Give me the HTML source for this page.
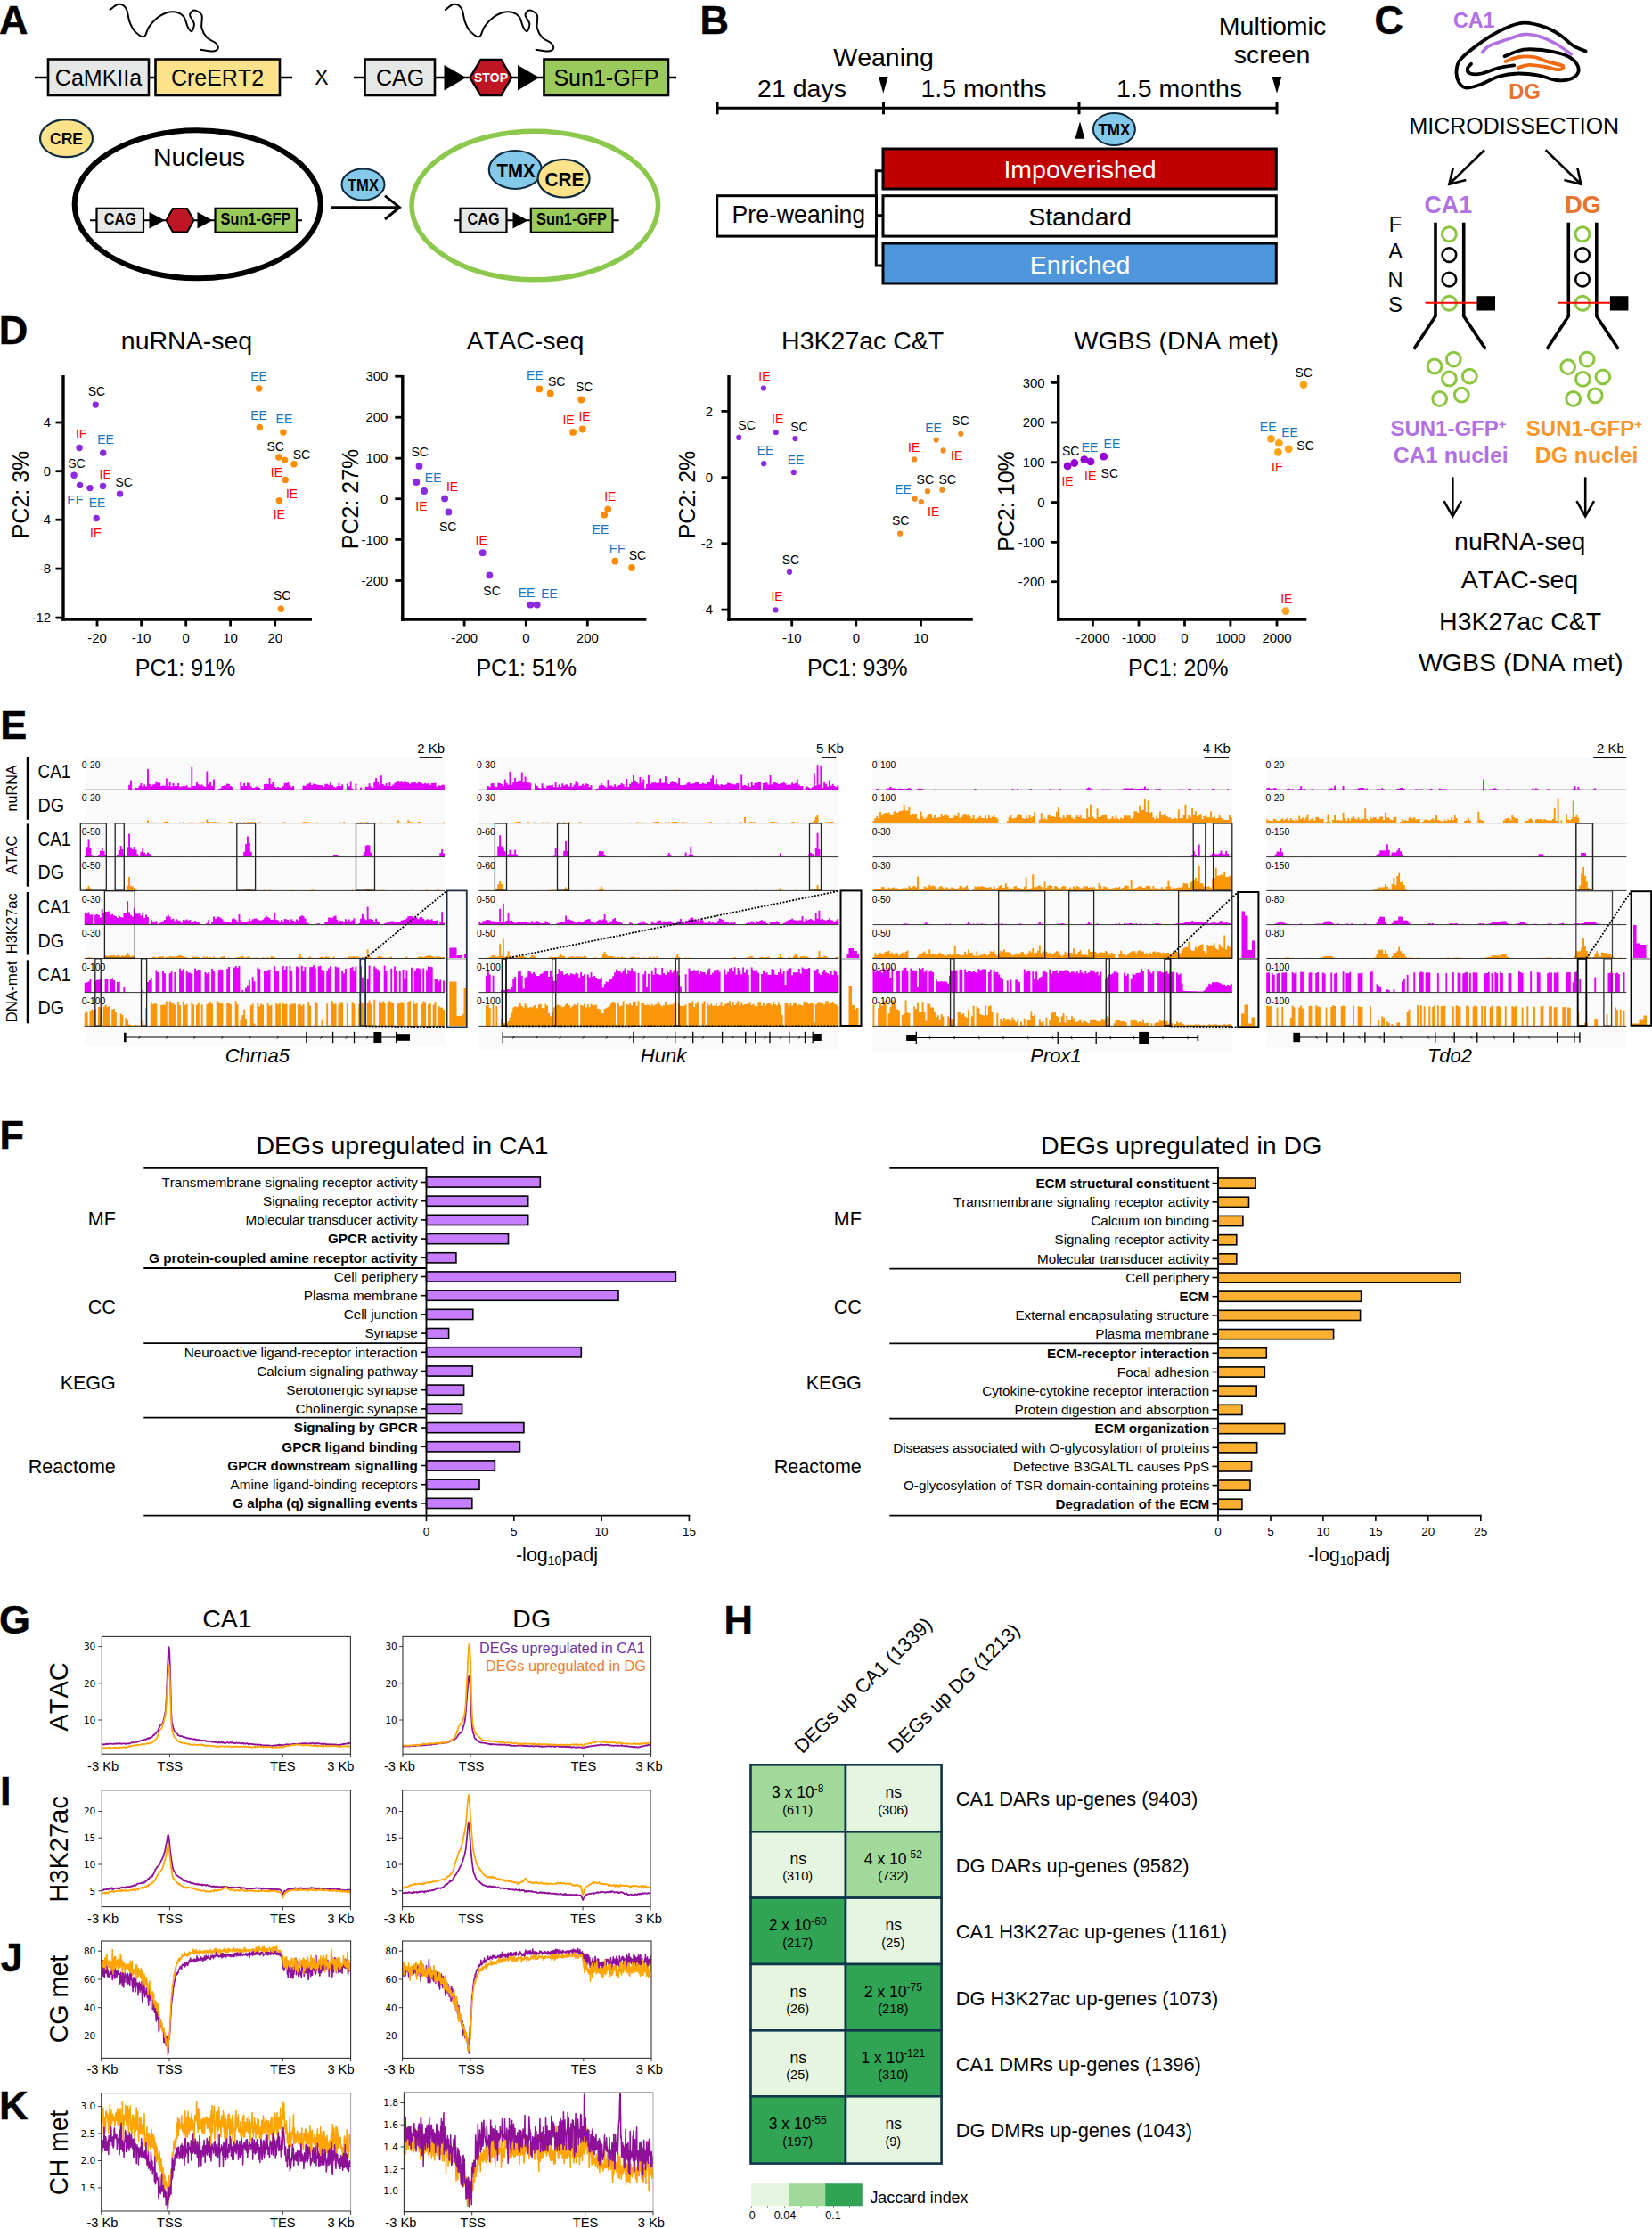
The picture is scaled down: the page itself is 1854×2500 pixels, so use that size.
<!DOCTYPE html>
<html lang="en"><head><meta charset="utf-8"><title>Figure</title>
<style>
html,body{margin:0;padding:0;background:#fff}
svg{display:block}
text{font-family:"Liberation Sans",sans-serif;font-kerning:none}
.dv{font-family:"DejaVu Sans","Liberation Sans",sans-serif}
</style></head><body>
<svg width="1854" height="2500" viewBox="0 0 1854 2500">
<rect width="1854" height="2500" fill="#fff"/>
<text x="-1" y="38.2" font-size="45" font-weight="bold" stroke="#000" stroke-width="0.5">A</text>
<path d="M123.5,10.9C125.1,9.9 130.1,5 133.2,4.8C136.2,4.6 139.6,6.5 141.6,9.7C143.7,12.9 143.7,20 145.3,24.2C146.9,28.5 148.6,32.3 151.3,35.1C154.1,37.9 159.1,42 161.7,41.2C164.4,40.4 164.2,34.1 167.1,30.3C170,26.4 174.7,21 179.2,18.2C183.6,15.3 189.3,13.3 193.7,13.3C198.1,13.3 203,15.3 205.8,18.2C208.6,21 209.1,27.4 210.7,30.3C212.2,33.1 213.8,35.7 215,35.1C216.2,34.5 218.2,29.7 217.9,26.6C217.6,23.6 213.1,19.5 213.1,16.9C213.1,14.4 215.7,11.6 217.9,11.6C220.1,11.6 225,13.6 226.4,16.9C227.8,20.3 225.4,27.2 226.4,31.5C227.4,35.7 229.8,39.5 232.4,42.4C235.1,45.2 240.1,46.4 242.1,48.4C244.1,50.4 245.2,52.9 244.6,54.5C243.9,56 241.7,57.4 238.5,57.6C235.3,57.8 227.4,56 225.2,55.7" fill="none" stroke="#000" stroke-width="2" stroke-linecap="round"/>
<path d="M499.9,10.9C501.5,9.9 506.5,5 509.6,4.8C512.6,4.6 516,6.5 518,9.7C520.1,12.9 520.1,20 521.7,24.2C523.3,28.5 525,32.3 527.7,35.1C530.5,37.9 535.5,42 538.1,41.2C540.8,40.4 540.6,34.1 543.5,30.3C546.4,26.4 551.1,21 555.6,18.2C560,15.3 565.7,13.3 570.1,13.3C574.5,13.3 579.4,15.3 582.2,18.2C585,21 585.5,27.4 587.1,30.3C588.6,33.1 590.2,35.7 591.4,35.1C592.6,34.5 594.6,29.7 594.3,26.6C594,23.6 589.5,19.5 589.5,16.9C589.5,14.4 592.1,11.6 594.3,11.6C596.5,11.6 601.4,13.6 602.8,16.9C604.2,20.3 601.8,27.2 602.8,31.5C603.8,35.7 606.2,39.5 608.8,42.4C611.5,45.2 616.5,46.4 618.5,48.4C620.5,50.4 621.6,52.9 621,54.5C620.3,56 618.1,57.4 614.9,57.6C611.7,57.8 603.8,56 601.6,55.7" fill="none" stroke="#000" stroke-width="2" stroke-linecap="round"/>
<line x1="39" y1="87" x2="328" y2="87" stroke="#000" stroke-width="2.4" />
<rect x="54" y="66.5" width="113" height="40.5" fill="#e6e8e8" stroke="#000" stroke-width="2.6"/>
<rect x="174.5" y="66.5" width="139.5" height="40.5" fill="#fde28c" stroke="#000" stroke-width="2.6"/>
<text x="110.5" y="96.3" font-size="25" text-anchor="middle">CaMKIIa</text>
<text x="244" y="96.3" font-size="25" text-anchor="middle">CreERT2</text>
<text x="361" y="95" font-size="23" text-anchor="middle">X</text>
<line x1="397" y1="87" x2="759" y2="87" stroke="#000" stroke-width="2.4" />
<rect x="409.5" y="66.5" width="78.5" height="40.5" fill="#e6e8e8" stroke="#000" stroke-width="2.6"/>
<text x="449" y="96.3" font-size="25" text-anchor="middle">CAG</text>
<polygon points="498.5,73 523,87 498.5,101.5" fill="#000"/>
<polygon points="581,73 605,87 581,101.5" fill="#000"/>
<polygon points="527.5,87 539.5,67 562.5,67 574,87 562.5,107 539.5,107" fill="#be1622" stroke="#000" stroke-width="2.4"/>
<text x="551" y="92" font-size="14" text-anchor="middle" font-weight="bold" fill="#fff" textLength="38" lengthAdjust="spacingAndGlyphs">STOP</text>
<rect x="610.5" y="66.5" width="139.5" height="40.5" fill="#9aca5c" stroke="#000" stroke-width="2.6"/>
<text x="680.5" y="96.3" font-size="25" text-anchor="middle">Sun1-GFP</text>
<ellipse cx="74.5" cy="155.2" rx="29.5" ry="21" fill="#fde28c" stroke="#0f2b3d" stroke-width="2.2"/>
<text x="74.5" y="162" font-size="17.5" text-anchor="middle" font-weight="bold">CRE</text>
<ellipse cx="221.7" cy="229.3" rx="138" ry="83" fill="#fff" stroke="#000" stroke-width="6"/>
<text x="223.5" y="186.4" font-size="28.5" text-anchor="middle">Nucleus</text>
<line x1="101" y1="247.2" x2="339" y2="247.2" stroke="#000" stroke-width="2" />
<rect x="108.5" y="233.8" width="52.5" height="27" fill="#e6e8e8" stroke="#000" stroke-width="2.2"/>
<text x="134.8" y="252.3" font-size="17.5" text-anchor="middle" font-weight="bold" textLength="36" lengthAdjust="spacingAndGlyphs">CAG</text>
<polygon points="167.5,238 185,247.2 167.5,256.5" fill="#000"/>
<polygon points="221.5,238 238.5,247.2 221.5,256.5" fill="#000"/>
<polygon points="186.5,247.2 194,234 210,234 217.5,247.2 210,260.5 194,260.5" fill="#be1622" stroke="#000" stroke-width="2"/>
<rect x="241.5" y="233.8" width="91.5" height="27" fill="#9aca5c" stroke="#000" stroke-width="2.2"/>
<text x="287" y="252.3" font-size="17.5" text-anchor="middle" font-weight="bold" textLength="79" lengthAdjust="spacingAndGlyphs">Sun1-GFP</text>
<line x1="371.5" y1="232.7" x2="447" y2="232.7" stroke="#000" stroke-width="3" />
<path d="M432,219.6 L448.4,232.7 L432,246" fill="none" stroke="#000" stroke-width="3" stroke-linejoin="miter"/>
<ellipse cx="407.5" cy="207" rx="24" ry="17.5" fill="#85c9ea" stroke="#0f2b3d" stroke-width="2"/>
<text x="407.5" y="214" font-size="17.5" text-anchor="middle" font-weight="bold" textLength="35" lengthAdjust="spacingAndGlyphs">TMX</text>
<ellipse cx="600.3" cy="230.5" rx="138.3" ry="83.3" fill="#fff" stroke="#8cc84b" stroke-width="5.5"/>
<ellipse cx="578.3" cy="190.5" rx="29.5" ry="21.5" fill="#85c9ea" stroke="#0f2b3d" stroke-width="2.2"/>
<ellipse cx="632.6" cy="200.2" rx="29" ry="21.3" fill="#fde28c" stroke="#0f2b3d" stroke-width="2.2"/>
<text x="579" y="199" font-size="21.5" text-anchor="middle" font-weight="bold" textLength="43" lengthAdjust="spacingAndGlyphs">TMX</text>
<text x="633.5" y="208.5" font-size="21.5" text-anchor="middle" font-weight="bold" textLength="44" lengthAdjust="spacingAndGlyphs">CRE</text>
<line x1="509" y1="247.2" x2="694.6" y2="247.2" stroke="#000" stroke-width="2" />
<rect x="516.5" y="233.8" width="52" height="27" fill="#e6e8e8" stroke="#000" stroke-width="2.2"/>
<text x="542.5" y="252.3" font-size="17.5" text-anchor="middle" font-weight="bold" textLength="36" lengthAdjust="spacingAndGlyphs">CAG</text>
<polygon points="575.5,238 592.5,247.2 575.5,256.5" fill="#000"/>
<rect x="595.8" y="233.8" width="91.7" height="27" fill="#9aca5c" stroke="#000" stroke-width="2.2"/>
<text x="641.5" y="252.3" font-size="17.5" text-anchor="middle" font-weight="bold" textLength="79" lengthAdjust="spacingAndGlyphs">Sun1-GFP</text>
<text x="785.6" y="37.7" font-size="45" font-weight="bold" stroke="#000" stroke-width="0.5">B</text>
<text x="991.5" y="73.8" font-size="28.5" text-anchor="middle">Weaning</text>
<text x="900" y="109" font-size="28.5" text-anchor="middle">21 days</text>
<text x="1104" y="109" font-size="28.5" text-anchor="middle">1.5 months</text>
<text x="1323.5" y="109" font-size="28.5" text-anchor="middle">1.5 months</text>
<text x="1428" y="39.2" font-size="28.5" text-anchor="middle">Multiomic</text>
<text x="1427.5" y="71.4" font-size="28.5" text-anchor="middle">screen</text>
<line x1="805" y1="121.3" x2="1433" y2="121.3" stroke="#000" stroke-width="3" />
<line x1="805" y1="114.8" x2="805" y2="128.3" stroke="#000" stroke-width="3" />
<line x1="991.5" y1="114.8" x2="991.5" y2="128.3" stroke="#000" stroke-width="3" />
<line x1="1211" y1="114.8" x2="1211" y2="128.3" stroke="#000" stroke-width="3" />
<line x1="1433" y1="114.8" x2="1433" y2="128.3" stroke="#000" stroke-width="3" />
<polygon points="986,86 996.6,86 991.3,104.8" fill="#000"/>
<polygon points="1427.5,86 1438.3,86 1433,104.8" fill="#000"/>
<polygon points="1206.5,155.7 1217.4,155.7 1212,136.3" fill="#000"/>
<ellipse cx="1250.4" cy="145" rx="23.5" ry="18" fill="#85c9ea" stroke="#0f2b3d" stroke-width="2"/>
<text x="1250.4" y="151.5" font-size="17.5" text-anchor="middle" font-weight="bold" textLength="36" lengthAdjust="spacingAndGlyphs">TMX</text>
<path d="M991,191.8 H983.3 V298 H991 M983.3,241.7 H991" fill="none" stroke="#000" stroke-width="3"/>
<rect x="804.7" y="219.7" width="178.8" height="45.4" fill="#fff" stroke="#000" stroke-width="3"/>
<text x="896.3" y="250.2" font-size="28.5" text-anchor="middle" textLength="149.5" lengthAdjust="spacingAndGlyphs">Pre-weaning</text>
<rect x="991" y="167" width="441.3" height="45" fill="#c00000" stroke="#000" stroke-width="3"/>
<rect x="991" y="219.7" width="441.3" height="45.4" fill="#fff" stroke="#000" stroke-width="3"/>
<rect x="991" y="273" width="441.3" height="45" fill="#4f96da" stroke="#000" stroke-width="3"/>
<text x="1212" y="200" font-size="28.5" text-anchor="middle" fill="#fff">Impoverished</text>
<text x="1212" y="252.6" font-size="28.5" text-anchor="middle">Standard</text>
<text x="1212" y="306.6" font-size="28.5" text-anchor="middle" fill="#fff">Enriched</text>
<text x="1542.5" y="38.1" font-size="45" font-weight="bold" stroke="#000" stroke-width="0.5">C</text>
<text x="1631" y="30.6" font-size="24" font-weight="bold" fill="#b171e3" textLength="46.5" lengthAdjust="spacingAndGlyphs">CA1</text>
<path d="M1779.6,57.4C1777.3,56.4 1770.2,54.2 1765.7,51.4C1761.2,48.6 1757.8,44.1 1752.8,40.7C1747.8,37.3 1742.8,33.6 1735.7,31.1C1728.6,28.6 1717.8,25.5 1710,25.7C1702.1,25.9 1696.4,28.6 1688.6,32.1C1680.7,35.7 1671.1,41.4 1662.8,47.1C1654.6,52.9 1644,61.1 1639.3,66.4C1634.6,71.8 1634.9,75 1634.6,79.3C1634.2,83.6 1635.3,88.9 1637.1,92.1C1639,95.4 1641.4,98.2 1645.7,98.6C1650,98.9 1656.8,96.4 1662.8,94.3C1668.9,92.1 1675.3,87.7 1682.1,85.7C1688.9,83.7 1696.1,82.7 1703.6,82.5C1711.1,82.3 1720,83.4 1727.1,84.6C1734.3,85.9 1740.7,89.3 1746.4,90C1752.1,90.7 1757.3,90.4 1761.4,88.9C1765.5,87.5 1769.8,84.5 1771.1,81.4C1772.3,78.4 1771.2,73.9 1768.9,70.7C1766.6,67.5 1762.7,64.5 1757.1,62.1C1751.6,59.8 1743.6,57.9 1735.7,56.8C1727.8,55.7 1717.8,54.6 1710,55.7C1702.1,56.8 1692.1,62 1688.6,63.2" fill="none" stroke="#000" stroke-width="3.8" stroke-linecap="round"/>
<path d="M1651.1,71.8C1650.3,72.7 1647,75.4 1646.8,77.1C1646.6,78.9 1647.3,81.6 1650,82.5C1652.7,83.4 1657.5,83.6 1662.8,82.5C1668.2,81.4 1676.1,77.6 1682.1,76.1C1688.2,74.5 1696.4,73.7 1699.3,73.3" fill="none" stroke="#000" stroke-width="3.8" stroke-linecap="round"/>
<path d="M1662.8,59.6C1664.3,58.2 1666.4,54 1671.4,51.4C1676.4,48.8 1686.4,46.1 1692.8,43.9C1699.3,41.8 1704.3,39.1 1710,38.6C1715.7,38 1721.1,38.9 1727.1,40.7C1733.2,42.5 1740.2,45.8 1746.4,49.3C1752.7,52.8 1761.6,59.6 1764.6,61.7" fill="none" stroke="#b171e3" stroke-width="3.6"/>
<path d="M1689.6,69C1692,68.2 1698.4,65.1 1703.6,64.3C1708.7,63.4 1715,63 1720.7,63.9C1726.4,64.7 1732.3,68 1737.8,69.6C1743.4,71.3 1751.9,72.5 1753.9,73.9C1755.9,75.4 1753,78 1749.6,78.2C1746.2,78.4 1739.1,75.9 1733.6,75C1728,74.1 1721.4,72.7 1716.4,72.9C1711.4,73 1705.7,75.5 1703.6,76.1" fill="none" stroke="#f26a10" stroke-width="3.9" stroke-linecap="round"/>
<text x="1693.3" y="111.4" font-size="24" font-weight="bold" fill="#e8732f" textLength="35.5" lengthAdjust="spacingAndGlyphs">DG</text>
<text x="1699.3" y="150" font-size="25" text-anchor="middle" textLength="235.5" lengthAdjust="spacingAndGlyphs">MICRODISSECTION</text>
<line x1="1666" y1="168.2" x2="1626.4" y2="206.8" stroke="#000" stroke-width="2.6" />
<path d="M1630.7,188.6 L1626.4,206.8 L1645.3,202" fill="none" stroke="#000" stroke-width="2.6"/>
<line x1="1734.6" y1="168.2" x2="1774.3" y2="206.8" stroke="#000" stroke-width="2.6" />
<path d="M1755.4,202 L1774.3,206.8 L1770.4,188.6" fill="none" stroke="#000" stroke-width="2.6"/>
<text x="1625.3" y="239" font-size="27" text-anchor="middle" font-weight="bold" fill="#b171e3" textLength="53.5" lengthAdjust="spacingAndGlyphs">CA1</text>
<text x="1776.4" y="239" font-size="27" text-anchor="middle" font-weight="bold" fill="#e8732f" textLength="40.5" lengthAdjust="spacingAndGlyphs">DG</text>
<text x="1566" y="259.6" font-size="23.5" text-anchor="middle">F</text>
<text x="1566" y="289.6" font-size="23.5" text-anchor="middle">A</text>
<text x="1566" y="321.7" font-size="23.5" text-anchor="middle">N</text>
<text x="1566" y="350" font-size="23.5" text-anchor="middle">S</text>
<path d="M1611,249.7 V354.7 L1586.7,391.8" fill="none" stroke="#000" stroke-width="3.6" stroke-linejoin="miter"/>
<path d="M1642.7,249.7 V354.7 L1667.3,391.8" fill="none" stroke="#000" stroke-width="3.6" stroke-linejoin="miter"/>
<circle cx="1626.4" cy="262.8" r="8" fill="none" stroke="#8cc63f" stroke-width="3"/>
<circle cx="1626.4" cy="286.1" r="7.8" fill="none" stroke="#000" stroke-width="2.6"/>
<circle cx="1626.4" cy="313.6" r="7.8" fill="none" stroke="#000" stroke-width="2.6"/>
<circle cx="1626.4" cy="340.3" r="8" fill="none" stroke="#8cc63f" stroke-width="3"/>
<line x1="1599.6" y1="339.7" x2="1658.6" y2="339.7" stroke="#ff0000" stroke-width="2" />
<rect x="1657.5" y="332.2" width="20.5" height="16.3" fill="#000"/>
<path d="M1760.3,249.7 V354.7 L1736,391.8" fill="none" stroke="#000" stroke-width="3.6" stroke-linejoin="miter"/>
<path d="M1791.8,249.7 V354.7 L1816.4,391.8" fill="none" stroke="#000" stroke-width="3.6" stroke-linejoin="miter"/>
<circle cx="1776" cy="262.8" r="8" fill="none" stroke="#8cc63f" stroke-width="3"/>
<circle cx="1776" cy="286.1" r="7.8" fill="none" stroke="#000" stroke-width="2.6"/>
<circle cx="1776" cy="313.6" r="7.8" fill="none" stroke="#000" stroke-width="2.6"/>
<circle cx="1776" cy="340.3" r="8" fill="none" stroke="#8cc63f" stroke-width="3"/>
<line x1="1748.6" y1="339.7" x2="1807.5" y2="339.7" stroke="#ff0000" stroke-width="2" />
<rect x="1806.9" y="332.2" width="20.5" height="16.3" fill="#000"/>
<circle cx="1631.3" cy="403.1" r="7.9" fill="none" stroke="#8cc63f" stroke-width="3"/>
<circle cx="1610" cy="411" r="7.9" fill="none" stroke="#8cc63f" stroke-width="3"/>
<circle cx="1626.4" cy="425" r="7.9" fill="none" stroke="#8cc63f" stroke-width="3"/>
<circle cx="1649.3" cy="422.2" r="7.9" fill="none" stroke="#8cc63f" stroke-width="3"/>
<circle cx="1615.7" cy="447.5" r="7.9" fill="none" stroke="#8cc63f" stroke-width="3"/>
<circle cx="1640.3" cy="443.2" r="7.9" fill="none" stroke="#8cc63f" stroke-width="3"/>
<circle cx="1781.1" cy="403.1" r="7.9" fill="none" stroke="#8cc63f" stroke-width="3"/>
<circle cx="1759.7" cy="411.7" r="7.9" fill="none" stroke="#8cc63f" stroke-width="3"/>
<circle cx="1776.4" cy="425.4" r="7.9" fill="none" stroke="#8cc63f" stroke-width="3"/>
<circle cx="1798.9" cy="422.8" r="7.9" fill="none" stroke="#8cc63f" stroke-width="3"/>
<circle cx="1765.7" cy="447.5" r="7.9" fill="none" stroke="#8cc63f" stroke-width="3"/>
<circle cx="1790.3" cy="443.8" r="7.9" fill="none" stroke="#8cc63f" stroke-width="3"/>
<text x="1560.4" y="489.3" font-size="24" font-weight="bold" fill="#b171e3">SUN1-GFP<tspan dy="-8" font-size="15">+</tspan></text>
<text x="1628.3" y="519.3" font-size="24" text-anchor="middle" font-weight="bold" fill="#b171e3" textLength="129" lengthAdjust="spacingAndGlyphs">CA1 nuclei</text>
<text x="1712.8" y="489.3" font-size="24" font-weight="bold" fill="#f7962b">SUN1-GFP<tspan dy="-8" font-size="15">+</tspan></text>
<text x="1780.6" y="519.3" font-size="24" text-anchor="middle" font-weight="bold" fill="#f7962b" textLength="115.7" lengthAdjust="spacingAndGlyphs">DG nuclei</text>
<line x1="1630.3" y1="535.4" x2="1630.3" y2="578" stroke="#000" stroke-width="2.6" />
<path d="M1620.5,562.1 L1630.3,579.3 L1640.1,562.1" fill="none" stroke="#000" stroke-width="2.6"/>
<line x1="1779.2" y1="535.4" x2="1779.2" y2="578" stroke="#000" stroke-width="2.6" />
<path d="M1769.4,562.1 L1779.2,579.3 L1789,562.1" fill="none" stroke="#000" stroke-width="2.6"/>
<text x="1705.7" y="616.8" font-size="28.5" text-anchor="middle">nuRNA-seq</text>
<text x="1705.5" y="659.6" font-size="28.5" text-anchor="middle">ATAC-seq</text>
<text x="1706.2" y="706.8" font-size="28.5" text-anchor="middle">H3K27ac C&amp;T</text>
<text x="1706.7" y="752.8" font-size="28.5" text-anchor="middle">WGBS (DNA met)</text>
<text x="-1.2" y="385.5" font-size="45" font-weight="bold" stroke="#000" stroke-width="0.5">D</text>
<text x="209.5" y="392.4" font-size="28.5" text-anchor="middle">nuRNA-seq</text>
<line x1="71" y1="421" x2="71" y2="696.7" stroke="#000" stroke-width="3.4" />
<line x1="69.3" y1="695" x2="350" y2="695" stroke="#000" stroke-width="3.4" />
<line x1="62.5" y1="474" x2="71" y2="474" stroke="#000" stroke-width="2.8" />
<text x="57" y="479.2" font-size="14.9" text-anchor="end">4</text>
<line x1="62.5" y1="528.7" x2="71" y2="528.7" stroke="#000" stroke-width="2.8" />
<text x="57" y="533.9" font-size="14.9" text-anchor="end">0</text>
<line x1="62.5" y1="583.2" x2="71" y2="583.2" stroke="#000" stroke-width="2.8" />
<text x="57" y="588.4" font-size="14.9" text-anchor="end">-4</text>
<line x1="62.5" y1="638.1" x2="71" y2="638.1" stroke="#000" stroke-width="2.8" />
<text x="57" y="643.3" font-size="14.9" text-anchor="end">-8</text>
<line x1="62.5" y1="693.1" x2="71" y2="693.1" stroke="#000" stroke-width="2.8" />
<text x="57" y="698.3" font-size="14.9" text-anchor="end">-12</text>
<line x1="109" y1="695" x2="109" y2="702.5" stroke="#000" stroke-width="2.8" />
<text x="109" y="720.9" font-size="14.9" text-anchor="middle">-20</text>
<line x1="158.6" y1="695" x2="158.6" y2="702.5" stroke="#000" stroke-width="2.8" />
<text x="158.6" y="720.9" font-size="14.9" text-anchor="middle">-10</text>
<line x1="208.7" y1="695" x2="208.7" y2="702.5" stroke="#000" stroke-width="2.8" />
<text x="208.7" y="720.9" font-size="14.9" text-anchor="middle">0</text>
<line x1="258.6" y1="695" x2="258.6" y2="702.5" stroke="#000" stroke-width="2.8" />
<text x="258.6" y="720.9" font-size="14.9" text-anchor="middle">10</text>
<line x1="308.7" y1="695" x2="308.7" y2="702.5" stroke="#000" stroke-width="2.8" />
<text x="308.7" y="720.9" font-size="14.9" text-anchor="middle">20</text>
<text x="208" y="758" font-size="25" text-anchor="middle">PC1: 91%</text>
<text x="31.5" y="555" font-size="25" text-anchor="middle" transform="rotate(-90 31.5 555)">PC2: 3%</text>
<circle cx="107.3" cy="454.1" r="3.7" fill="#8a2be2"/>
<circle cx="89.1" cy="502.5" r="3.7" fill="#8a2be2"/>
<circle cx="115.7" cy="508.1" r="3.7" fill="#8a2be2"/>
<circle cx="83.1" cy="533.3" r="3.7" fill="#8a2be2"/>
<circle cx="89.6" cy="544.4" r="3.7" fill="#8a2be2"/>
<circle cx="101" cy="547.6" r="3.7" fill="#8a2be2"/>
<circle cx="115.5" cy="545.4" r="3.7" fill="#8a2be2"/>
<circle cx="134.6" cy="554.1" r="3.7" fill="#8a2be2"/>
<circle cx="108.2" cy="581.5" r="3.7" fill="#8a2be2"/>
<circle cx="290.6" cy="436" r="3.7" fill="#ff8c00"/>
<circle cx="291.3" cy="479.5" r="3.7" fill="#ff8c00"/>
<circle cx="317.9" cy="485.1" r="3.7" fill="#ff8c00"/>
<circle cx="312.8" cy="513" r="3.7" fill="#ff8c00"/>
<circle cx="319.6" cy="516.1" r="3.7" fill="#ff8c00"/>
<circle cx="330" cy="520.7" r="3.7" fill="#ff8c00"/>
<circle cx="320.3" cy="538.4" r="3.7" fill="#ff8c00"/>
<circle cx="313.3" cy="561.6" r="3.7" fill="#ff8c00"/>
<circle cx="315.3" cy="683.2" r="3.7" fill="#ff8c00"/>
<text x="108.5" y="444.4" font-size="14" text-anchor="middle" fill="#000">SC</text>
<text x="91.5" y="492.3" font-size="14" text-anchor="middle" fill="#ff0000">IE</text>
<text x="118.6" y="497.7" font-size="14" text-anchor="middle" fill="#1b75bc">EE</text>
<text x="86" y="524.8" font-size="14" text-anchor="middle" fill="#000">SC</text>
<text x="84.7" y="565.5" font-size="14" text-anchor="middle" fill="#1b75bc">EE</text>
<text x="109" y="568.8" font-size="14" text-anchor="middle" fill="#1b75bc">EE</text>
<text x="118.2" y="536.9" font-size="14" text-anchor="middle" fill="#ff0000">IE</text>
<text x="139.2" y="546.1" font-size="14" text-anchor="middle" fill="#000">SC</text>
<text x="107.7" y="603" font-size="14" text-anchor="middle" fill="#ff0000">IE</text>
<text x="290.6" y="427" font-size="14" text-anchor="middle" fill="#1b75bc">EE</text>
<text x="290.6" y="471" font-size="14" text-anchor="middle" fill="#1b75bc">EE</text>
<text x="318.9" y="475.4" font-size="14" text-anchor="middle" fill="#1b75bc">EE</text>
<text x="309.2" y="505.6" font-size="14" text-anchor="middle" fill="#000">SC</text>
<text x="338.5" y="514.6" font-size="14" text-anchor="middle" fill="#000">SC</text>
<text x="310.4" y="534.5" font-size="14" text-anchor="middle" fill="#ff0000">IE</text>
<text x="327.6" y="558.9" font-size="14" text-anchor="middle" fill="#ff0000">IE</text>
<text x="313.3" y="581.9" font-size="14" text-anchor="middle" fill="#ff0000">IE</text>
<text x="316.7" y="673.2" font-size="14" text-anchor="middle" fill="#000">SC</text>
<text x="589.6" y="392.4" font-size="28.5" text-anchor="middle">ATAC-seq</text>
<line x1="451.8" y1="421" x2="451.8" y2="696.7" stroke="#000" stroke-width="3.4" />
<line x1="450.1" y1="695" x2="725.4" y2="695" stroke="#000" stroke-width="3.4" />
<line x1="443.3" y1="422.2" x2="451.8" y2="422.2" stroke="#000" stroke-width="2.8" />
<text x="435.4" y="427.4" font-size="14.9" text-anchor="end">300</text>
<line x1="443.3" y1="468.2" x2="451.8" y2="468.2" stroke="#000" stroke-width="2.8" />
<text x="435.4" y="473.4" font-size="14.9" text-anchor="end">200</text>
<line x1="443.3" y1="514.2" x2="451.8" y2="514.2" stroke="#000" stroke-width="2.8" />
<text x="435.4" y="519.4" font-size="14.9" text-anchor="end">100</text>
<line x1="443.3" y1="559.7" x2="451.8" y2="559.7" stroke="#000" stroke-width="2.8" />
<text x="435.4" y="564.9" font-size="14.9" text-anchor="end">0</text>
<line x1="443.3" y1="605.4" x2="451.8" y2="605.4" stroke="#000" stroke-width="2.8" />
<text x="435.4" y="610.6" font-size="14.9" text-anchor="end">-100</text>
<line x1="443.3" y1="651.5" x2="451.8" y2="651.5" stroke="#000" stroke-width="2.8" />
<text x="435.4" y="656.7" font-size="14.9" text-anchor="end">-200</text>
<line x1="521.1" y1="695" x2="521.1" y2="702.5" stroke="#000" stroke-width="2.8" />
<text x="521.1" y="720.9" font-size="14.9" text-anchor="middle">-200</text>
<line x1="590.3" y1="695" x2="590.3" y2="702.5" stroke="#000" stroke-width="2.8" />
<text x="590.3" y="720.9" font-size="14.9" text-anchor="middle">0</text>
<line x1="659.3" y1="695" x2="659.3" y2="702.5" stroke="#000" stroke-width="2.8" />
<text x="659.3" y="720.9" font-size="14.9" text-anchor="middle">200</text>
<text x="590.7" y="758" font-size="25" text-anchor="middle">PC1: 51%</text>
<text x="401.5" y="560" font-size="25" text-anchor="middle" transform="rotate(-90 401.5 560)">PC2: 27%</text>
<circle cx="470.5" cy="522.9" r="3.9" fill="#8a2be2"/>
<circle cx="467.3" cy="541" r="3.9" fill="#8a2be2"/>
<circle cx="476.1" cy="551" r="3.9" fill="#8a2be2"/>
<circle cx="499.1" cy="559.4" r="3.9" fill="#8a2be2"/>
<circle cx="503.4" cy="574.5" r="3.9" fill="#8a2be2"/>
<circle cx="541.7" cy="620.2" r="3.9" fill="#8a2be2"/>
<circle cx="549.4" cy="645.4" r="3.9" fill="#8a2be2"/>
<circle cx="595.4" cy="678.6" r="3.9" fill="#8a2be2"/>
<circle cx="602.7" cy="678.6" r="3.9" fill="#8a2be2"/>
<circle cx="605.4" cy="436.4" r="3.9" fill="#ff8c00"/>
<circle cx="617.7" cy="441.5" r="3.9" fill="#ff8c00"/>
<circle cx="652.3" cy="448.5" r="3.9" fill="#ff8c00"/>
<circle cx="643.1" cy="484.9" r="3.9" fill="#ff8c00"/>
<circle cx="653.8" cy="481.5" r="3.9" fill="#ff8c00"/>
<circle cx="682.3" cy="571.3" r="3.9" fill="#ff8c00"/>
<circle cx="678.2" cy="577.6" r="3.9" fill="#ff8c00"/>
<circle cx="690.3" cy="629.7" r="3.9" fill="#ff8c00"/>
<circle cx="709" cy="636.9" r="3.9" fill="#ff8c00"/>
<text x="471.2" y="511.7" font-size="14" text-anchor="middle" fill="#000">SC</text>
<text x="486.2" y="540.8" font-size="14" text-anchor="middle" fill="#1b75bc">EE</text>
<text x="472.9" y="572.7" font-size="14" text-anchor="middle" fill="#ff0000">IE</text>
<text x="507.5" y="551.4" font-size="14" text-anchor="middle" fill="#ff0000">IE</text>
<text x="502.7" y="596.4" font-size="14" text-anchor="middle" fill="#000">SC</text>
<text x="540.2" y="611" font-size="14" text-anchor="middle" fill="#ff0000">IE</text>
<text x="552.1" y="667.9" font-size="14" text-anchor="middle" fill="#000">SC</text>
<text x="591.1" y="669.6" font-size="14" text-anchor="middle" fill="#1b75bc">EE</text>
<text x="616.5" y="671.3" font-size="14" text-anchor="middle" fill="#1b75bc">EE</text>
<text x="600.3" y="425.5" font-size="14" text-anchor="middle" fill="#1b75bc">EE</text>
<text x="624.7" y="432.5" font-size="14" text-anchor="middle" fill="#000">SC</text>
<text x="655.7" y="439.1" font-size="14" text-anchor="middle" fill="#000">SC</text>
<text x="638" y="476.3" font-size="14" text-anchor="middle" fill="#ff0000">IE</text>
<text x="656" y="472" font-size="14" text-anchor="middle" fill="#ff0000">IE</text>
<text x="684.8" y="561.8" font-size="14" text-anchor="middle" fill="#ff0000">IE</text>
<text x="673.9" y="598.9" font-size="14" text-anchor="middle" fill="#1b75bc">EE</text>
<text x="693" y="620.7" font-size="14" text-anchor="middle" fill="#1b75bc">EE</text>
<text x="715.5" y="627.9" font-size="14" text-anchor="middle" fill="#000">SC</text>
<text x="968.2" y="392.4" font-size="28.5" text-anchor="middle">H3K27ac C&amp;T</text>
<line x1="818" y1="421" x2="818" y2="696.7" stroke="#000" stroke-width="3.4" />
<line x1="816.3" y1="695" x2="1091.8" y2="695" stroke="#000" stroke-width="3.4" />
<line x1="809.5" y1="461.4" x2="818" y2="461.4" stroke="#000" stroke-width="2.8" />
<text x="800" y="466.6" font-size="14.9" text-anchor="end">2</text>
<line x1="809.5" y1="535.7" x2="818" y2="535.7" stroke="#000" stroke-width="2.8" />
<text x="800" y="540.9" font-size="14.9" text-anchor="end">0</text>
<line x1="809.5" y1="609.8" x2="818" y2="609.8" stroke="#000" stroke-width="2.8" />
<text x="800" y="615" font-size="14.9" text-anchor="end">-2</text>
<line x1="809.5" y1="684.1" x2="818" y2="684.1" stroke="#000" stroke-width="2.8" />
<text x="800" y="689.3" font-size="14.9" text-anchor="end">-4</text>
<line x1="888.7" y1="695" x2="888.7" y2="702.5" stroke="#000" stroke-width="2.8" />
<text x="888.7" y="720.9" font-size="14.9" text-anchor="middle">-10</text>
<line x1="960.8" y1="695" x2="960.8" y2="702.5" stroke="#000" stroke-width="2.8" />
<text x="960.8" y="720.9" font-size="14.9" text-anchor="middle">0</text>
<line x1="1033.5" y1="695" x2="1033.5" y2="702.5" stroke="#000" stroke-width="2.8" />
<text x="1033.5" y="720.9" font-size="14.9" text-anchor="middle">10</text>
<text x="962.3" y="758" font-size="25" text-anchor="middle">PC1: 93%</text>
<text x="780" y="555" font-size="25" text-anchor="middle" transform="rotate(-90 780 555)">PC2: 2%</text>
<circle cx="856.9" cy="435.5" r="3.1" fill="#8a2be2"/>
<circle cx="829.3" cy="490.9" r="3.1" fill="#8a2be2"/>
<circle cx="870.8" cy="485.1" r="3.1" fill="#8a2be2"/>
<circle cx="892.5" cy="492.1" r="3.1" fill="#8a2be2"/>
<circle cx="857.2" cy="520.2" r="3.1" fill="#8a2be2"/>
<circle cx="890.8" cy="529.9" r="3.1" fill="#8a2be2"/>
<circle cx="886" cy="641.8" r="3.1" fill="#8a2be2"/>
<circle cx="870.5" cy="684.4" r="3.1" fill="#8a2be2"/>
<circle cx="1078.3" cy="486.8" r="3.1" fill="#f28c1c"/>
<circle cx="1050.7" cy="493.6" r="3.1" fill="#f28c1c"/>
<circle cx="1058.6" cy="505.4" r="3.1" fill="#f28c1c"/>
<circle cx="1026.2" cy="515.4" r="3.1" fill="#f28c1c"/>
<circle cx="1041" cy="551.2" r="3.1" fill="#f28c1c"/>
<circle cx="1057.4" cy="549.8" r="3.1" fill="#f28c1c"/>
<circle cx="1026.7" cy="559.7" r="3.1" fill="#f28c1c"/>
<circle cx="1033.9" cy="563.1" r="3.1" fill="#f28c1c"/>
<circle cx="1010.2" cy="598.7" r="3.1" fill="#f28c1c"/>
<text x="857.9" y="426.7" font-size="14" text-anchor="middle" fill="#ff0000">IE</text>
<text x="838.1" y="481.9" font-size="14" text-anchor="middle" fill="#000">SC</text>
<text x="872.7" y="475.1" font-size="14" text-anchor="middle" fill="#ff0000">IE</text>
<text x="896.9" y="483.6" font-size="14" text-anchor="middle" fill="#000">SC</text>
<text x="859.1" y="509.8" font-size="14" text-anchor="middle" fill="#1b75bc">EE</text>
<text x="893" y="521.1" font-size="14" text-anchor="middle" fill="#1b75bc">EE</text>
<text x="887.5" y="633.3" font-size="14" text-anchor="middle" fill="#000">SC</text>
<text x="872" y="673.7" font-size="14" text-anchor="middle" fill="#ff0000">IE</text>
<text x="1077.8" y="476.6" font-size="14" text-anchor="middle" fill="#000">SC</text>
<text x="1047.5" y="484.8" font-size="14" text-anchor="middle" fill="#1b75bc">EE</text>
<text x="1073.7" y="515.8" font-size="14" text-anchor="middle" fill="#ff0000">IE</text>
<text x="1025.7" y="507.3" font-size="14" text-anchor="middle" fill="#ff0000">IE</text>
<text x="1038.3" y="542.5" font-size="14" text-anchor="middle" fill="#000">SC</text>
<text x="1063.2" y="542.5" font-size="14" text-anchor="middle" fill="#000">SC</text>
<text x="1013.6" y="553.8" font-size="14" text-anchor="middle" fill="#1b75bc">EE</text>
<text x="1047.7" y="578.8" font-size="14" text-anchor="middle" fill="#ff0000">IE</text>
<text x="1010.7" y="588.5" font-size="14" text-anchor="middle" fill="#000">SC</text>
<text x="1320.3" y="392.4" font-size="28.5" text-anchor="middle">WGBS (DNA met)</text>
<line x1="1187.7" y1="421" x2="1187.7" y2="696.7" stroke="#000" stroke-width="3.4" />
<line x1="1186" y1="695" x2="1466.3" y2="695" stroke="#000" stroke-width="3.4" />
<line x1="1179.2" y1="429.4" x2="1187.7" y2="429.4" stroke="#000" stroke-width="2.8" />
<text x="1172.6" y="434.6" font-size="14.9" text-anchor="end">300</text>
<line x1="1179.2" y1="474" x2="1187.7" y2="474" stroke="#000" stroke-width="2.8" />
<text x="1172.6" y="479.2" font-size="14.9" text-anchor="end">200</text>
<line x1="1179.2" y1="518.8" x2="1187.7" y2="518.8" stroke="#000" stroke-width="2.8" />
<text x="1172.6" y="524" font-size="14.9" text-anchor="end">100</text>
<line x1="1179.2" y1="563.6" x2="1187.7" y2="563.6" stroke="#000" stroke-width="2.8" />
<text x="1172.6" y="568.8" font-size="14.9" text-anchor="end">0</text>
<line x1="1179.2" y1="608.4" x2="1187.7" y2="608.4" stroke="#000" stroke-width="2.8" />
<text x="1172.6" y="613.6" font-size="14.9" text-anchor="end">-100</text>
<line x1="1179.2" y1="652.7" x2="1187.7" y2="652.7" stroke="#000" stroke-width="2.8" />
<text x="1172.6" y="657.9" font-size="14.9" text-anchor="end">-200</text>
<line x1="1226.4" y1="695" x2="1226.4" y2="702.5" stroke="#000" stroke-width="2.8" />
<text x="1226.4" y="720.9" font-size="14.9" text-anchor="middle">-2000</text>
<line x1="1278" y1="695" x2="1278" y2="702.5" stroke="#000" stroke-width="2.8" />
<text x="1278" y="720.9" font-size="14.9" text-anchor="middle">-1000</text>
<line x1="1329.5" y1="695" x2="1329.5" y2="702.5" stroke="#000" stroke-width="2.8" />
<text x="1329.5" y="720.9" font-size="14.9" text-anchor="middle">0</text>
<line x1="1380.9" y1="695" x2="1380.9" y2="702.5" stroke="#000" stroke-width="2.8" />
<text x="1380.9" y="720.9" font-size="14.9" text-anchor="middle">1000</text>
<line x1="1433" y1="695" x2="1433" y2="702.5" stroke="#000" stroke-width="2.8" />
<text x="1433" y="720.9" font-size="14.9" text-anchor="middle">2000</text>
<text x="1322.3" y="758" font-size="25" text-anchor="middle">PC1: 20%</text>
<text x="1138" y="562.5" font-size="25" text-anchor="middle" transform="rotate(-90 1138 562.5)">PC2: 10%</text>
<circle cx="1198.1" cy="522.9" r="4.4" fill="#9400d3"/>
<circle cx="1205.8" cy="519.5" r="4.4" fill="#9400d3"/>
<circle cx="1216.9" cy="515.6" r="4.4" fill="#9400d3"/>
<circle cx="1224" cy="517.8" r="4.4" fill="#9400d3"/>
<circle cx="1238.7" cy="512.2" r="4.4" fill="#9400d3"/>
<circle cx="1463" cy="431.6" r="4.4" fill="#ffa31a"/>
<circle cx="1426.4" cy="492.4" r="4.4" fill="#ffa31a"/>
<circle cx="1435.4" cy="497.2" r="4.4" fill="#ffa31a"/>
<circle cx="1446.2" cy="503.8" r="4.4" fill="#ffa31a"/>
<circle cx="1434.4" cy="507.4" r="4.4" fill="#ffa31a"/>
<circle cx="1442.9" cy="685.6" r="4.4" fill="#ffa31a"/>
<text x="1198.1" y="544.9" font-size="14" text-anchor="middle" fill="#ff0000">IE</text>
<text x="1201.7" y="511" font-size="14" text-anchor="middle" fill="#000">SC</text>
<text x="1223" y="506.6" font-size="14" text-anchor="middle" fill="#1b75bc">EE</text>
<text x="1223.7" y="539.3" font-size="14" text-anchor="middle" fill="#ff0000">IE</text>
<text x="1247.9" y="503" font-size="14" text-anchor="middle" fill="#1b75bc">EE</text>
<text x="1245.3" y="535.9" font-size="14" text-anchor="middle" fill="#000">SC</text>
<text x="1463.2" y="422.6" font-size="14" text-anchor="middle" fill="#000">SC</text>
<text x="1423.2" y="483.9" font-size="14" text-anchor="middle" fill="#1b75bc">EE</text>
<text x="1447.5" y="489.7" font-size="14" text-anchor="middle" fill="#1b75bc">EE</text>
<text x="1465.1" y="505.4" font-size="14" text-anchor="middle" fill="#000">SC</text>
<text x="1433.7" y="528.6" font-size="14" text-anchor="middle" fill="#ff0000">IE</text>
<text x="1443.8" y="676.6" font-size="14" text-anchor="middle" fill="#ff0000">IE</text>
<text x="0.2" y="829" font-size="45" font-weight="bold" stroke="#000" stroke-width="0.5">E</text>
<line x1="31.4" y1="849" x2="31.4" y2="919.8" stroke="#000" stroke-width="3.3" />
<text x="19" y="884.4" font-size="17" text-anchor="middle" transform="rotate(-90 19 884.4)" textLength="52" lengthAdjust="spacingAndGlyphs">nuRNA</text>
<line x1="31.4" y1="924.4" x2="31.4" y2="994.7" stroke="#000" stroke-width="3.3" />
<text x="19" y="959.5" font-size="17" text-anchor="middle" transform="rotate(-90 19 959.5)" textLength="44" lengthAdjust="spacingAndGlyphs">ATAC</text>
<line x1="31.4" y1="1001" x2="31.4" y2="1071.5" stroke="#000" stroke-width="3.3" />
<text x="19" y="1036.2" font-size="17" text-anchor="middle" transform="rotate(-90 19 1036.2)" textLength="68" lengthAdjust="spacingAndGlyphs">H3K27ac</text>
<line x1="31.4" y1="1077.4" x2="31.4" y2="1148.3" stroke="#000" stroke-width="3.3" />
<text x="19" y="1112.8" font-size="17" text-anchor="middle" transform="rotate(-90 19 1112.8)" textLength="69" lengthAdjust="spacingAndGlyphs">DNA-met</text>
<text x="42.6" y="873.3" font-size="21.5" textLength="36.5" lengthAdjust="spacingAndGlyphs">CA1</text>
<text x="42.6" y="910.6" font-size="21.5" textLength="29.5" lengthAdjust="spacingAndGlyphs">DG</text>
<text x="42.6" y="948.6" font-size="21.5" textLength="36.5" lengthAdjust="spacingAndGlyphs">CA1</text>
<text x="42.6" y="986.4" font-size="21.5" textLength="29.5" lengthAdjust="spacingAndGlyphs">DG</text>
<text x="42.6" y="1024.6" font-size="21.5" textLength="36.5" lengthAdjust="spacingAndGlyphs">CA1</text>
<text x="42.6" y="1062.5" font-size="21.5" textLength="29.5" lengthAdjust="spacingAndGlyphs">DG</text>
<text x="42.6" y="1100.6" font-size="21.5" textLength="36.5" lengthAdjust="spacingAndGlyphs">CA1</text>
<text x="42.6" y="1138.4" font-size="21.5" textLength="29.5" lengthAdjust="spacingAndGlyphs">DG</text>
<rect x="94.8" y="849.5" width="404.2" height="324" fill="#fafafa"/>
<path d="M94.8,886.3V886.3H144.1V880.7H146V875.5H147.9V885.5H149.8V886.2H151.7V883.7H153.6V884.3H155.5V881.7H157.4V878.9H159.3V882.9H161.2V880.4H163.1V882.6H165V862.9H166.9V879.8H168.8V882.4H170.7V880.4H172.6V879.8H174.5V876.7H176.4V878.2H178.3V878.4H180.2V882.1H182.1V881.4H184V881.7H185.9V873.4H187.8V882H189.7V878H191.6V882.6H193.5V878.9H195.4V882.1H199.2V879H201.1V882.8H203V882.4H204.9V881.7H206.8V882.3H208.7V881.3H210.6V883.4H212.5V883.5H214.4V860.7H216.2V881.9H218.1V881.7H220V878.1H221.9V880.3H223.8V881.6H225.7V880.5H227.6V882.1H229.5V883H231.4V865.4H233.3V880.2H235.2V877.8H237.1V881.8H239V874.4H240.9V886H242.8V886.3H244.7V885H246.6V884.4H248.5V882H250.4V881.8H252.3V881.3H254.2V879.5H256.1V880H258V882H259.9V883.2H261.8V886.3H267.5V886H269.4V876.7H271.3V882.3H273.2V879.1H275.1V882.1H277V878.6H278.9V878.7H280.8V882.6H282.7V883.9H284.6V883.8H286.5V882.7H288.4V882.5H290.3V884.1H292.2V885.7H294.1V885.3H296V880H297.8V879.5H299.7V880.1H301.6V872.9H303.5V880.3H305.4V877.7H307.3V882.5H309.2V883.8H311.1V883.1H313V883.7H314.9V884.1H316.8V882.3H318.7V878.7H320.6V878.8H322.5V877.2H324.4V880.9H326.3V883.3H328.2V881.9H330.1V886.3H337.7V885.6H339.6V881.6H341.5V882H343.4V880.4H345.3V879.5H347.2V878.6H349.1V881.1H351V879.5H352.9V880.1H354.8V880.6H356.7V880.9H358.6V881H360.5V881.2H362.4V882.7H364.3V879.7H368.1V880.8H370V878.3H371.9V881.1H373.8V882.8H375.7V883.5H377.6V882.2H379.4V878.8H381.3V881.9H383.2V880.5H385.1V886.3H388.9V879.6H390.8V882.3H392.7V876.5H394.6V884.8H396.5V886.3H398.4V879.5H400.3V886.3H404.1V883.8H406V886.3H409.8V882.7H413.6V879.3H415.5V882.8H417.4V884H419.3V877.3H421.2V872.9H423.1V877.6H425V880.6H426.9V870.3H428.8V880.1H430.7V881.4H432.6V879H434.5V882H436.4V878H438.3V882.3H440.2V880.5H442.1V878.8H444V877.3H445.9V875.9H447.8V876.7H449.7V876.3H451.6V878.3H453.5V875.8H455.4V877.5H457.3V878.3H459.1V879.8H461V878.6H462.9V877.7H464.8V877.4H466.7V879.3H468.6V877.9H470.5V876.9H472.4V878.8H474.3V879.9H476.2V878.8H478.1V879.4H480V878.8H481.9V880.7H483.8V879.1H485.7V879H487.6V878.5H489.5V882.7H491.4V881H493.3V882H495.2V880.7H497.1V880.8H499H499V886.3Z" fill="#e100ff"/>
<path d="M94.8,923.6V923.6H163.1V923.5H165V920.3H166.9V923.5H168.8V922.5H170.7V922.8H172.6V922.9H174.5V922.7H176.4V923.6H182.1V922.7H184V921.9H185.9V921.7H187.8V922.2H189.7V923.6H193.5V923.3H197.3V923.2H199.2V923.1H201.1V922.7H203V922.9H204.9V922.2H206.8V923.2H208.7V923.5H210.6V923.1H212.5V922.4H214.4V923.2H216.2V922.8H218.1V923.2H220V923H221.9V922.8H223.8V922.6H225.7V922.4H227.6V922.6H229.5V923H231.4V919.6H233.3V922H235.2V922.6H239V922.3H240.9V922H242.8V923.6H244.7V922.4H246.6V922.7H248.5V923.6H256.1V922.3H258V922H259.9V922.3H261.8V922.9H263.7V922.8H265.6V923H267.5V922.5H269.4V922.8H271.3V923.1H273.2V922.2H275.1V922.9H277V922.1H278.9V922.5H280.8V922.2H284.6V922.6H286.5V923.3H288.4V923.5H290.3V922.3H292.2V923H294.1V922.9H296V923.4H297.8V923.6H309.2V923.5H311.1V923.1H313V923.3H314.9V923.1H316.8V922.5H318.7V922.6H320.6V923.3H322.5V923.5H328.2V923.1H330.1V923.3H332V923.6H337.7V923.3H339.6V922.2H341.5V922.3H343.4V922.6H345.3V922.5H349.1V923.1H351V923H352.9V923.1H354.8V922.6H356.7V923.2H358.6V923.6H375.7V923H377.6V922.9H379.4V922.7H381.3V922.8H383.2V923.2H385.1V922.1H387V923H388.9V922.9H390.8V923.6H398.4V923H402.2V922.8H404.1V922.5H406V922.7H407.9V923.6H409.8V922.6H411.7V922.3H413.6V923.6H421.2V923.5H423.1V922.9H425V923.1H426.9V922.4H428.8V923.2H430.7V923.6H436.4V923.5H438.3V923.4H440.2V922.9H442.1V923.1H444V923.4H445.9V920.3H447.8V922.5H449.7V923.6H455.4V923H457.3V920.3H459.1V922.2H461V922.4H462.9V922.5H464.8V923H468.6V922.1H472.4V923H474.3V923.6H497.1V922.6H499H499V923.6Z" fill="#fb9608"/>
<path d="M94.8,961.6V959.7H96.7V950.3H98.6V941.6H100.5V952.1H102.4V959.3H104.3V960.9H106.2V961.3H108.1V961.1H110V958.9H111.9V954.8H113.8V951.1H115.7V955.1H117.6V959H119.5V960.6H121.4V961.6H129V961H130.9V958.9H132.8V954.2H134.7V949.1H136.5V953H138.4V958.7H140.3V960.7H142.2V950.6H144.1V935.5H146V950.5H147.9V953H149.8V950H151.7V953.4H153.6V958.2H155.5V960.5H157.4V955.7H159.3V952.1H161.2V956.7H163.1V958.5H165V956.4H166.9V958H168.8V960.4H170.7V961.4H172.6V961.6H191.6V961.2H193.5V961.3H197.3V960.7H199.2V960.9H201.1V961.2H203V961.4H204.9V961.3H206.8V961.5H208.7V961.6H218.1V961H220V960.5H221.9V961.3H223.8V961.6H237.1V961H239V960.8H240.9V961.2H242.8V960.8H244.7V961.1H246.6V961.6H259.9V960.7H261.8V960.8H263.7V960.7H265.6V961.2H267.5V961H269.4V961.5H271.3V960.6H273.2V955.8H275.1V947H277V938.5H278.9V945.5H280.8V955.7H282.7V960.6H284.6V961.5H286.5V961H290.3V961.6H305.4V960.7H307.3V961.3H313V961.6H326.3V961.4H328.2V961.6H341.5V961.5H343.4V960.9H345.3V961.1H347.2V961.6H356.7V961.3H358.6V960.8H360.5V961.2H364.3V961.3H366.2V961.5H368.1V961.4H370V960.9H371.9V960.3H373.8V958.9H379.4V960.3H381.3V961H385.1V960.5H387V961.6H390.8V961.5H392.7V961.3H394.6V961.5H396.5V961.2H398.4V961H400.3V961.6H402.2V961.5H404.1V961.1H406V959.5H407.9V956H409.8V948.8H411.7V948H413.6V948.6H415.5V956.7H417.4V959.9H419.3V961.2H426.9V960.8H428.8V961.2H430.7V960.7H432.6V961.2H434.5V960.8H436.4V960.7H438.3V961.2H440.2V961.6H466.7V961.2H468.6V961.3H470.5V961.5H472.4V960.9H474.3V961.6H483.8V960.7H485.7V960.8H487.6V960.7H489.5V961.1H491.4V960.9H493.3V957.1H495.2V952.9H497.1V957.4H499H499V961.6Z" fill="#e100ff"/>
<path d="M94.8,999.4V999H96.7V996.5H98.6V993.9H100.5V996.4H102.4V999H104.3V999.4H106.2V999.3H108.1V998.9H110V999.4H130.9V998.8H132.8V999.4H140.3V999.2H142.2V993.8H144.1V984H146V993.8H147.9V994.4H149.8V996.1H151.7V998.1H153.6V999.2H155.5V999.4H157.4V999.3H159.3V999.4H206.8V999H210.6V999.4H214.4V998.7H216.2V999.2H218.1V998.8H220V999.4H221.9V999.1H223.8V998.9H227.6V999H229.5V999.4H240.9V999.2H242.8V999.4H248.5V999.3H250.4V998.9H254.2V999.4H261.8V998.9H263.7V999.1H265.6V999H267.5V999.4H271.3V999.1H273.2V998.8H275.1V998.2H277V997.5H278.9V998.2H280.8V998.9H282.7V999.3H284.6V999.4H288.4V999.3H292.2V999.1H294.1V998.9H296V998.6H297.8V999.4H301.6V998.7H305.4V999.4H313V999.2H314.9V999H316.8V998.7H318.7V999.4H324.4V999H328.2V998.8H330.1V999.2H332V999.3H333.9V999.1H335.8V999.3H339.6V998.9H343.4V999.2H345.3V999.3H347.2V998.9H349.1V998.6H351V998.5H352.9V999.4H392.7V999H394.6V998.6H396.5V999.4H406V999.3H407.9V999H409.8V998.3H411.7V997.8H413.6V998.3H415.5V999.1H417.4V999H419.3V999.1H421.2V998.7H423.1V998.9H425V998.7H428.8V998.5H430.7V998.8H432.6V998.9H434.5V999.4H459.1V999.3H461V998.7H462.9V999.4H476.2V999H478.1V998.6H480V999H481.9V999.4H487.6V998.9H489.5V998.6H491.4V998.5H493.3V999.4H499H499V999.4Z" fill="#fb9608"/>
<path d="M94.8,1037.6V1024.6H96.7V1025.3H98.6V1023.6H100.5V1026.6H102.4V1026.2H104.3V1037H106.2V1026.6H108.1V1025.9H110V1027.1H111.9V1029.6H113.8V1019.9H115.7V1024.4H117.6V1023H121.4V1022.5H123.3V1026.8H125.2V1025.8H127.1V1027.2H129V1028H130.9V1030.1H132.8V1027.5H134.7V1029H136.5V1029.4H138.4V1025.1H140.3V1024.7H142.2V1011.3H144.1V1023.5H146V1026.7H147.9V1028.5H149.8V1019.3H151.7V1025.2H153.6V1025.4H155.5V1024.3H157.4V1027.6H159.3V1024.3H161.2V1030H163.1V1026.4H165V1028.9H166.9V1037.6H168.8V1031.7H170.7V1033.7H172.6V1035.2H174.5V1033.2H176.4V1036.7H178.3V1035.7H180.2V1034.8H182.1V1033.5H184V1032.1H185.9V1028.6H187.8V1026.5H189.7V1028.6H191.6V1031.5H193.5V1030.8H195.4V1033.4H197.3V1031.3H199.2V1032.8H201.1V1033.3H203V1035.5H204.9V1031.9H206.8V1032.5H208.7V1031.6H210.6V1033.1H212.5V1032H214.4V1035.2H216.2V1034.9H218.1V1032.9H220V1033.9H221.9V1034.4H223.8V1037.6H231.4V1035.7H233.3V1032.1H235.2V1036.9H237.1V1034.3H239V1028.4H240.9V1031.1H242.8V1028.7H246.6V1029.8H248.5V1031.3H250.4V1033.5H252.3V1034.4H254.2V1034.7H256.1V1034.8H258V1035.3H259.9V1031.2H261.8V1030.5H263.7V1031.7H265.6V1034.8H267.5V1026H269.4V1032.4H271.3V1034H273.2V1034.6H275.1V1034H277V1033.7H278.9V1030.9H280.8V1033.2H282.7V1031.6H284.6V1030.7H286.5V1030.5H288.4V1031.6H290.3V1032.4H292.2V1032.8H294.1V1031.7H296V1029.8H297.8V1027.4H299.7V1029H301.6V1030.3H303.5V1031.9H305.4V1031.8H307.3V1025H309.2V1031.9H311.1V1032.6H313V1034.1H314.9V1032H316.8V1033.8H318.7V1030.9H320.6V1031.4H322.5V1031.9H324.4V1034.5H326.3V1031.3H328.2V1033.1H330.1V1035H332V1031.4H333.9V1033.1H335.8V1028.4H337.7V1027.3H339.6V1028.1H341.5V1030.5H343.4V1033.7H345.3V1036.3H347.2V1037.2H349.1V1037.5H351V1037.6H354.8V1036.4H356.7V1036H358.6V1037.6H364.3V1035H366.2V1034.3H368.1V1029.6H370V1029.8H371.9V1029.7H373.8V1028.2H375.7V1027.4H377.6V1032H379.4V1035.1H381.3V1033.1H383.2V1033.6H385.1V1034.4H387V1031.2H388.9V1033.4H390.8V1031.5H392.7V1033.4H394.6V1032.6H396.5V1030.2H398.4V1037.6H400.3V1037.4H402.2V1035.9H404.1V1030.8H406V1025.7H407.9V1030.6H409.8V1032.2H411.7V1017.6H413.6V1031.2H417.4V1031.9H419.3V1033.9H421.2V1030.8H423.1V1033.8H425V1034H426.9V1037.6H430.7V1036.3H432.6V1035.5H434.5V1035.2H436.4V1034.2H438.3V1033.6H440.2V1033.4H442.1V1035.3H444V1034.5H445.9V1034.2H447.8V1034.1H449.7V1032.8H451.6V1032.3H453.5V1032H455.4V1030.6H457.3V1028.2H459.1V1028H462.9V1029.2H464.8V1030H466.7V1029.5H468.6V1031.2H470.5V1029.2H472.4V1029.1H474.3V1031H476.2V1032.6H478.1V1031.5H480V1031.2H481.9V1032.2H483.8V1031.2H485.7V1032.9H487.6V1033.1H489.5V1032.4H491.4V1037.4H493.3V1035H495.2V1023.2H497.1V1035.4H499H499V1037.6Z" fill="#e100ff"/>
<path d="M94.8,1075.5V1075.1H98.6V1074.1H100.5V1074.8H104.3V1075.5H113.8V1075.3H115.7V1075.1H117.6V1072H119.5V1073H121.4V1072.8H123.3V1071.8H125.2V1072.2H127.1V1071.9H129V1072.9H130.9V1071.8H132.8V1072.6H134.7V1073.5H136.5V1072.1H138.4V1072.9H140.3V1071.8H142.2V1068.9H144.1V1071.4H146V1073.6H147.9V1072.3H149.8V1073.4H151.7V1075.5H170.7V1073.8H172.6V1073.6H174.5V1074.8H176.4V1074.1H178.3V1073H180.2V1073.4H182.1V1072.9H184V1074.7H185.9V1074H187.8V1074.2H189.7V1073.1H191.6V1073.2H193.5V1073.6H195.4V1073.7H197.3V1073.1H199.2V1072.5H201.1V1071.7H203V1072.5H204.9V1073.3H206.8V1074.1H208.7V1074.3H210.6V1074.8H212.5V1075.1H214.4V1074.7H216.2V1073.6H218.1V1073.7H220V1073.4H221.9V1074.1H223.8V1075.1H227.6V1073.3H229.5V1074.2H231.4V1073.5H233.3V1074.8H235.2V1074.1H237.1V1074.4H239V1073.4H240.9V1074.7H242.8V1074.6H244.7V1075H246.6V1074.1H248.5V1073.4H250.4V1073.1H252.3V1075.5H256.1V1074.4H258V1075.5H263.7V1074.7H265.6V1074.2H267.5V1074.1H269.4V1073.6H271.3V1072.8H273.2V1074.6H275.1V1074.4H277V1073.6H278.9V1073.5H280.8V1074.9H282.7V1074.8H284.6V1074.7H286.5V1074.8H288.4V1074.5H290.3V1075.2H292.2V1074.9H294.1V1074.2H296V1074.8H297.8V1074.9H299.7V1074.2H301.6V1074.9H303.5V1073.3H305.4V1073.5H307.3V1074.6H309.2V1075.5H332V1075.4H333.9V1074H335.8V1070.7H337.7V1073.8H339.6V1075.4H341.5V1075.5H345.3V1074.4H347.2V1073.6H349.1V1075.5H356.7V1074.9H358.6V1074H360.5V1073.6H362.4V1074.9H364.3V1073.4H366.2V1073.6H368.1V1073.7H370V1074.9H371.9V1075.3H373.8V1073.5H375.7V1075.5H387V1074.5H388.9V1075.1H390.8V1073.6H394.6V1073.4H396.5V1073.3H398.4V1074.2H400.3V1073.3H402.2V1074.2H404.1V1075.5H406V1073.9H407.9V1074.4H409.8V1073.6H411.7V1065.2H413.6V1073.3H415.5V1074.6H417.4V1075.5H419.3V1075.4H421.2V1074.9H423.1V1073.6H425V1072.6H426.9V1073.4H428.8V1074.3H430.7V1074.8H434.5V1074.6H438.3V1073.5H440.2V1075.5H455.4V1073.5H457.3V1075.5H466.7V1075.2H468.6V1073.8H470.5V1073.4H472.4V1073.2H474.3V1074H476.2V1073.5H478.1V1072.6H480V1072.2H481.9V1071.9H483.8V1072.9H485.7V1073.7H487.6V1074.2H489.5V1073.2H491.4V1073.3H493.3V1074H495.2V1074.3H497.1V1073.9H499H499V1075.5Z" fill="#fb9608"/>
<path d="M94.8,1113.6V1103.1H96.7V1102.2H98.6V1101.5H100.5V1099.1H102.4V1113.6H106.2V1100.7H108.1V1099.5H111.9V1098.4H113.8V1113.6H117.6V1098.6H119.5V1098.4H121.4V1113.6H123.3V1099.3H125.2V1097.4H127.1V1100.1H129V1113.6H130.9V1102.1H132.8V1101.6H134.7V1113.6H138.4V1107.7H140.3V1113.6H144.1V1113.4H146V1113.6H159.3V1111.2H161.2V1113.6H165V1102H166.9V1100.1H168.8V1097.1H170.7V1113.6H174.5V1088.5H176.4V1090.9H178.3V1113.6H182.1V1089.3H184V1092.2H185.9V1113.6H189.7V1092.2H191.6V1090.2H193.5V1113.6H195.4V1090.9H197.3V1113.6H201.1V1086.8H203V1090H204.9V1087.2H206.8V1113.6H208.7V1088.9H210.6V1091.6H212.5V1091.4H214.4V1093H216.2V1113.6H218.1V1086.7H220V1089.1H221.9V1088H223.8V1088.1H225.7V1113.6H229.5V1091H231.4V1092.4H233.3V1090.9H235.2V1113.6H237.1V1087H239V1089.4H240.9V1113.6H244.7V1088.2H246.6V1087.7H248.5V1088H250.4V1113.6H254.2V1087.1H256.1V1084.9H258V1113.6H261.8V1085.8H263.7V1083.9H265.6V1086H267.5V1084H269.4V1113.6H271.3V1111.1H273.2V1113.6H275.1V1108.6H277V1105.5H278.9V1099.8H280.8V1113.6H282.7V1096.3H284.6V1101.4H286.5V1113.6H288.4V1085.4H290.3V1087.2H292.2V1113.6H296V1089.6H297.8V1090.2H299.7V1088.5H301.6V1087.7H303.5V1113.6H307.3V1084.3H309.2V1089.1H311.1V1089H313V1113.6H316.8V1084H318.7V1088H320.6V1084.3H322.5V1113.6H324.4V1084H326.3V1089.4H328.2V1113.6H332V1084.5H333.9V1085.5H335.8V1113.6H337.7V1083.8H339.6V1089.4H341.5V1084.9H343.4V1113.6H347.2V1085.2H349.1V1085H351V1083.3H352.9V1086.6H354.8V1113.6H356.7V1084.4H358.6V1083.7H360.5V1088.3H362.4V1089.6H364.3V1113.6H366.2V1089H368.1V1086.6H370V1083.9H371.9V1113.6H375.7V1084.6H377.6V1085.6H381.3V1113.6H383.2V1089.6H385.1V1092.2H387V1087H388.9V1113.6H392.7V1085.9H394.6V1085H396.5V1089.3H398.4V1084.4H400.3V1113.6H404.1V1084.5H406V1096.8H407.9V1110.5H409.8V1113.6H411.7V1098.8H413.6V1083.5H415.5V1113.6H419.3V1084.6H421.2V1086.4H423.1V1087.8H425V1089.5H426.9V1113.6H430.7V1083.4H432.6V1089.1H434.5V1113.6H438.3V1086.7H440.2V1113.6H442.1V1084.6H444V1089.2H445.9V1113.6H447.8V1089.6H449.7V1113.6H451.6V1088H453.5V1097.7H455.4V1088.4H457.3V1113.6H461V1085.7H462.9V1113.6H464.8V1089H466.7V1086.5H468.6V1086.2H470.5V1087.3H472.4V1113.6H474.3V1086.4H476.2V1113.6H478.1V1088.2H480V1084.6H481.9V1085.1H483.8V1085.3H485.7V1113.6H487.6V1098.9H489.5V1098.7H491.4V1101.2H493.3V1099.4H495.2V1113.6H497.1V1100.6H499H499V1113.6Z" fill="#e100ff"/>
<path d="M94.8,1151.4V1136.5H96.7V1134.4H98.6V1151.4H100.5V1134H102.4V1132.6H104.3V1133.5H106.2V1132.8H108.1V1151.4H110V1129.7H111.9V1130.5H113.8V1151.4H115.7V1129.8H117.6V1127.5H119.5V1130H121.4V1129.3H123.3V1151.4H125.2V1132.6H127.1V1132H129V1135.9H130.9V1151.4H134.7V1137.2H136.5V1138.9H138.4V1151.4H140.3V1142.2H142.2V1145H144.1V1149.4H146V1149.9H147.9V1151.4H149.8V1150.1H151.7V1150.2H153.6V1150.4H155.5V1150.6H157.4V1151.4H159.3V1145.4H161.2V1151.4H163.1V1131.2H165V1151.4H168.8V1124.4H170.7V1127.1H172.6V1125.4H174.5V1126.7H176.4V1151.4H180.2V1128.1H182.1V1127.4H184V1127.6H185.9V1123.5H187.8V1151.4H189.7V1123.5H191.6V1124.7H193.5V1125.8H195.4V1127.7H197.3V1151.4H199.2V1124.1H201.1V1128.1H203V1151.4H204.9V1123.4H206.8V1127.8H208.7V1126.8H210.6V1151.4H214.4V1124.3H216.2V1127.2H218.1V1151.4H220V1127.6H221.9V1124.8H223.8V1151.4H225.7V1127.6H227.6V1151.4H231.4V1127H233.3V1125.3H235.2V1124H237.1V1126.4H239V1151.4H242.8V1122.9H244.7V1124.4H246.6V1125.8H248.5V1126.3H250.4V1151.4H254.2V1125H256.1V1126H258V1126.9H259.9V1151.4H263.7V1123.3H265.6V1126.9H267.5V1151.4H269.4V1144.9H271.3V1139H273.2V1132.5H275.1V1143H277V1151.4H280.8V1128.2H282.7V1126.6H284.6V1148.4H286.5V1151.4H288.4V1125.4H290.3V1129.6H292.2V1126.4H294.1V1127.5H296V1151.4H299.7V1125.3H301.6V1128.7H303.5V1127.8H305.4V1151.4H309.2V1125.6H311.1V1127.2H313V1124.7H314.9V1151.4H316.8V1125.4H318.7V1127.1H320.6V1126.6H322.5V1151.4H324.4V1127.9H326.3V1126.6H328.2V1126.4H330.1V1126.2H332V1151.4H333.9V1127.6H335.8V1126.7H337.7V1128.8H339.6V1127.1H341.5V1151.4H345.3V1124H347.2V1128.5H349.1V1151.4H352.9V1123.8H354.8V1125.2H356.7V1151.4H360.5V1143.8H362.4V1151.4H366.2V1126.2H368.1V1150.5H370V1151.4H371.9V1123.2H373.8V1126.6H375.7V1126.4H377.6V1151.4H379.4V1127.2H381.3V1124.5H385.1V1151.4H388.9V1124.9H390.8V1151.4H394.6V1124.2H396.5V1126.5H398.4V1151.4H402.2V1126.8H404.1V1123.9H406V1126.3H407.9V1151.4H411.7V1125.1H413.6V1122.6H415.5V1126.6H417.4V1151.4H419.3V1121.8H421.2V1151.4H425V1123.8H426.9V1125.2H428.8V1123.6H430.7V1124.7H432.6V1151.4H434.5V1124.7H436.4V1123.1H438.3V1124.6H440.2V1125.9H442.1V1151.4H445.9V1126.3H447.8V1125.6H449.7V1124H451.6V1125.2H453.5V1151.4H457.3V1123.9H459.1V1123.2H461V1151.4H462.9V1122.9H464.8V1126.7H466.7V1125.7H468.6V1151.4H472.4V1127.1H474.3V1123.6H476.2V1124.2H478.1V1151.4H480V1127.3H481.9V1126.2H483.8V1151.4H485.7V1127.5H487.6V1124H489.5V1151.4H491.4V1129.1H493.3V1130.5H495.2V1130.8H497.1V1133H499H499V1151.4Z" fill="#fb9608"/>
<line x1="94.8" y1="886.3" x2="499" y2="886.3" stroke="#333" stroke-width="1" />
<text x="91.8" y="861.7" font-size="10.4">0-20</text>
<line x1="94.8" y1="923.6" x2="499" y2="923.6" stroke="#333" stroke-width="1" />
<text x="91.8" y="899" font-size="10.4">0-20</text>
<line x1="94.8" y1="961.6" x2="499" y2="961.6" stroke="#333" stroke-width="1" />
<text x="91.8" y="937" font-size="10.4">0-50</text>
<line x1="94.8" y1="999.4" x2="499" y2="999.4" stroke="#333" stroke-width="1" />
<text x="91.8" y="974.8" font-size="10.4">0-50</text>
<line x1="94.8" y1="1037.6" x2="499" y2="1037.6" stroke="#333" stroke-width="1" />
<text x="91.8" y="1013" font-size="10.4">0-30</text>
<line x1="94.8" y1="1075.5" x2="499" y2="1075.5" stroke="#333" stroke-width="1" />
<text x="91.8" y="1050.9" font-size="10.4">0-30</text>
<line x1="94.8" y1="1113.6" x2="499" y2="1113.6" stroke="#333" stroke-width="1" />
<text x="91.8" y="1089" font-size="10.4">0-100</text>
<line x1="94.8" y1="1151.4" x2="499" y2="1151.4" stroke="#333" stroke-width="1" />
<text x="91.8" y="1126.8" font-size="10.4">0-100</text>
<text x="483.7" y="845.3" font-size="15" text-anchor="middle">2 Kb</text>
<line x1="470.7" y1="850" x2="496.3" y2="850" stroke="#000" stroke-width="1.8" />
<rect x="90.3" y="923.9" width="29" height="75.2" fill="none" stroke="#222" stroke-width="1.3"/>
<rect x="129.2" y="923.9" width="10.1" height="75.2" fill="none" stroke="#222" stroke-width="1.3"/>
<rect x="265.8" y="923.9" width="20.8" height="75.2" fill="none" stroke="#222" stroke-width="1.3"/>
<rect x="399.5" y="923.9" width="21" height="75.2" fill="none" stroke="#222" stroke-width="1.3"/>
<rect x="117.4" y="999.7" width="33.9" height="75.5" fill="none" stroke="#222" stroke-width="1.3"/>
<rect x="106.8" y="1075.8" width="6.4" height="75.3" fill="none" stroke="#222" stroke-width="1.3"/>
<rect x="158.5" y="1075.8" width="6.1" height="75.3" fill="none" stroke="#222" stroke-width="1.3"/>
<rect x="404.3" y="1075.8" width="5.8" height="75.3" fill="none" stroke="#1c2f44" stroke-width="1.8"/>
<line x1="140" y1="1164" x2="459.5" y2="1164" stroke="#000" stroke-width="1" />
<line x1="343.9" y1="1157.8" x2="343.9" y2="1170.2" stroke="#000" stroke-width="1.3" />
<line x1="373.6" y1="1157.8" x2="373.6" y2="1170.2" stroke="#000" stroke-width="1.3" />
<line x1="397.5" y1="1157.8" x2="397.5" y2="1170.2" stroke="#000" stroke-width="1.3" />
<line x1="444.6" y1="1157.8" x2="444.6" y2="1170.2" stroke="#000" stroke-width="1.3" />
<rect x="139" y="1158.8" width="2.6" height="10.4" fill="#000"/>
<rect x="419.4" y="1158" width="8.9" height="12" fill="#000"/>
<rect x="446" y="1160.2" width="14" height="7.6" fill="#000"/>
<path d="M155.3,1162.4 l2.2,1.6 l-2.2,1.6" fill="none" stroke="#000" stroke-width="0.7"/>
<path d="M186,1162.4 l2.2,1.6 l-2.2,1.6" fill="none" stroke="#000" stroke-width="0.7"/>
<path d="M217,1162.4 l2.2,1.6 l-2.2,1.6" fill="none" stroke="#000" stroke-width="0.7"/>
<path d="M248.1,1162.4 l2.2,1.6 l-2.2,1.6" fill="none" stroke="#000" stroke-width="0.7"/>
<path d="M279.2,1162.4 l2.2,1.6 l-2.2,1.6" fill="none" stroke="#000" stroke-width="0.7"/>
<path d="M310.5,1162.4 l2.2,1.6 l-2.2,1.6" fill="none" stroke="#000" stroke-width="0.7"/>
<path d="M359.2,1162.4 l2.2,1.6 l-2.2,1.6" fill="none" stroke="#000" stroke-width="0.7"/>
<path d="M387.4,1162.4 l2.2,1.6 l-2.2,1.6" fill="none" stroke="#000" stroke-width="0.7"/>
<path d="M410.9,1162.4 l2.2,1.6 l-2.2,1.6" fill="none" stroke="#000" stroke-width="0.7"/>
<text x="288.8" y="1191.8" font-size="22" text-anchor="middle" font-style="italic">Chrna5</text>
<rect x="501.6" y="999.4" width="22.2" height="153" fill="#fafafa"/>
<rect x="504.3" y="1063.5" width="8.2" height="11.5" fill="#e100ff"/>
<rect x="512.5" y="1072" width="6.5" height="3" fill="#e100ff"/>
<rect x="521" y="1070.5" width="2.5" height="4.5" fill="#e100ff"/>
<line x1="502" y1="1076" x2="523.5" y2="1076" stroke="#aaa" stroke-width="1.2" />
<path d="M504.3,1151 V1101.5 H512.5 V1140 H518 V1138 H520.5 V1109 H523.5 V1151Z" fill="#fb9608"/>
<rect x="501.6" y="999.4" width="22.2" height="153" fill="none" stroke="#1c2f44" stroke-width="1.8"/>
<line x1="410.1" y1="1075.5" x2="501.6" y2="999.4" stroke="#000" stroke-width="1.8" stroke-dasharray="2 1.6"/>
<line x1="410.1" y1="1151.4" x2="501.6" y2="1152.4" stroke="#000" stroke-width="1.8" stroke-dasharray="2 1.6"/>
<rect x="537.4" y="849.5" width="403.9" height="328" fill="#fafafa"/>
<path d="M537.4,886.3V886.3H546.9V882H548.8V883.2H550.7V879.2H552.6V879H554.5V882.3H556.4V883.3H558.3V878.8H560.2V879H562.1V879.9H563.9V882.1H565.8V874.5H567.7V878.7H569.6V880.8H571.5V865.8H573.4V880.6H575.3V877.9H577.2V872.7H579.1V877.9H581V876.3H582.9V875.8H584.8V866.4H586.7V877.9H588.6V871.4H590.5V878H592.4V878.3H594.3V878.6H596.2V886.3H600V879.5H601.9V881.7H603.8V883.9H605.7V884.4H607.6V879.2H609.5V883.2H611.4V884.2H613.2V881.8H615.1V881.5H617V881.3H618.9V880.7H620.8V883.1H622.7V877.8H624.6V883.2H626.5V880.4H628.4V883H630.3V879.2H632.2V881.6H634.1V880.5H636V880.3H637.9V882.6H639.8V879.1H641.7V882.7H643.6V880.4H645.5V876.2H647.4V878.6H649.3V882.1H651.2V881.4H653.1V879.8H655V881.2H656.9V879.3H658.8V879.9H660.7V882.9H662.6V881.1H664.4V886.3H668.2V885.1H670.1V884.5H672V881.6H673.9V878.9H675.8V880.9H677.7V882.2H679.6V883.6H681.5V875H683.4V881.4H687.2V882.8H689.1V880.2H691V883.1H692.9V881.5H694.8V880.7H696.7V879H698.6V880.3H700.5V882.6H702.4V873.9H704.3V883H706.2V879.8H708.1V877.3H710V869.9H711.9V875.8H713.8V877.8H715.6V879.6H717.5V872H719.4V878.6H721.3V874.5H723.2V884.5H725.1V879.8H727V869.9H728.9V880.3H730.8V878.6H732.7V878.3H734.6V877.3H736.5V879.1H738.4V877.5H740.3V873.4H742.2V878.5H744.1V878.4H746V871.2H747.9V878.8H749.8V879.9H751.7V877.6H753.6V876.3H755.5V877.4H757.4V877.1H759.3V879.3H761.2V872.9H763.1V881.1H764.9V881.5H766.8V881H768.7V880.4H770.6V878.8H772.5V878H774.4V879.8H776.3V879.4H778.2V878.9H780.1V877.6H782V877.9H783.9V880.1H787.7V878.4H789.6V879.5H791.5V879.7H793.4V878H797.2V873.5H799.1V870.3H801V880.3H802.9V874H804.8V880.2H806.7V881.6H808.6V880H810.5V880.9H812.4V881.1H814.3V880.3H816.1V878.6H818V878.9H819.9V879.7H823.7V880.4H825.6V879.2H827.5V878.9H829.4V885.9H831.3V869.5H833.2V881.4H835.1V880.9H837V882.1H838.9V878.9H840.8V882.9H842.7V877.9H844.6V881.2H846.5V878.7H848.4V878.6H850.3V877.8H852.2V877H854.1V886.3H856V879.1H857.9V877.7H859.8V878.5H861.7V880.4H863.6V870.1H865.5V880.2H867.3V878.3H869.2V877.5H871.1V878.7H873V880H874.9V879.6H876.8V878.8H878.7V877.9H880.6V879.3H882.5V880.9H884.4V880.4H886.3V880.5H888.2V878.2H890.1V879.8H892V878.8H893.9V874.5H895.8V880.4H897.7V882.2H899.6V882.1H901.5V886.3H903.4V883.7H905.3V882.5H907.2V883.8H909.1V884.5H911V882.9H912.9V867.3H914.8V881.6H916.6V858.3H918.5V880.5H920.4V859.8H922.3V883.7H924.2V877.6H926.1V879.7H928V882.7H929.9V875.6H931.8V881.8H933.7V879.7H935.6V882H937.5V883H939.4V881.2H941.3H941.3V886.3Z" fill="#e100ff"/>
<path d="M537.4,923.6V923.6H575.3V923.4H577.2V922.4H579.1V922.3H581V921.8H582.9V921.7H584.8V923H586.7V923.6H590.5V923.2H592.4V922.2H594.3V922.9H596.2V923.1H598.1V922.6H600V922.8H601.9V923H603.8V923.2H605.7V923H607.6V922.6H609.5V922.9H611.4V922.7H617V923.6H626.5V922.2H628.4V922.8H630.3V922.9H632.2V922.2H634.1V923H636V923.2H637.9V922.2H639.8V922.8H641.7V923.2H643.6V923.6H647.4V923H649.3V922.3H651.2V922.4H653.1V923.6H656.9V923.1H658.8V923.6H662.6V923.5H664.4V922.7H666.3V923.2H668.2V923.6H698.6V923.5H700.5V923.4H702.4V923.2H704.3V923.4H706.2V922.7H708.1V923.6H713.8V922.2H715.6V922.8H717.5V923.6H719.4V922.3H721.3V923.1H723.2V923.2H725.1V923.4H727V923.6H732.7V922.6H734.6V922H740.3V922.9H742.2V922.8H744.1V923H746V922.4H747.9V923H749.8V922.2H751.7V923.1H753.6V922.2H755.5V921.9H759.3V922.3H761.2V923.2H763.1V922.9H764.9V922.2H766.8V922.3H768.7V922.9H770.6V922.4H772.5V923.6H782V923.1H785.8V923.6H789.6V923.2H791.5V922.7H793.4V923.2H795.3V922.4H797.2V922H799.1V923.6H810.5V923.4H812.4V922.9H814.3V923H816.1V922.4H818V923.6H827.5V923.2H829.4V922.3H831.3V922.4H833.2V923.4H835.1V916.9H837V923.2H838.9V922.9H840.8V922.2H842.7V922H844.6V922.4H846.5V922.2H848.4V923.1H850.3V922.9H852.2V923.3H854.1V923.6H863.6V922.3H865.5V921.9H867.3V921.8H869.2V922.4H871.1V922.6H873V923H874.9V923.6H884.4V923.4H886.3V922.9H888.2V922.1H890.1V922.3H892V923.2H893.9V922.2H895.8V922.9H897.7V923.6H899.6V923H901.5V923.6H905.3V923.1H909.1V922.8H911V922.2H912.9V920.5H914.8V916.8H916.6V914.5H918.5V923.2H920.4V923.6H924.2V923.5H926.1V922.5H928V922.3H929.9V922.5H931.8V921.9H933.7V922H935.6V923H937.5V923.3H939.4V923.1H941.3H941.3V923.6Z" fill="#fb9608"/>
<path d="M537.4,961.6V961.6H541.2V961.3H543.1V961.6H552.6V961.4H554.5V961.1H556.4V959.8H558.3V949.6H560.2V937.2H562.1V949.6H563.9V951.4H565.8V955.2H567.7V959.2H569.6V958.4H571.5V953.6H573.4V958.2H575.3V958.5H577.2V953.6H579.1V958.7H581V961.5H582.9V961.6H584.8V961.1H586.7V960.6H590.5V961.2H594.3V961.4H596.2V961.5H600V961.4H601.9V960.9H603.8V961.3H605.7V960.5H607.6V960.7H609.5V961.6H615.1V961H617V961.3H618.9V961H620.8V959.4H622.7V951.7H624.6V959.2H626.5V961.1H630.3V961.3H632.2V954.7H634.1V944H636V955H637.9V961.3H639.8V961.6H656.9V960.7H658.8V960.9H662.6V961.6H666.3V961.4H668.2V960.9H670.1V959.2H672V954.9H673.9V955.2H677.7V959.1H679.6V960.7H681.5V961.4H683.4V961.6H685.3V961.2H687.2V960.4H689.1V961.6H728.9V961.2H730.8V960.6H732.7V960.8H736.5V960.7H738.4V961H740.3V961.6H746V961.3H747.9V959.2H749.8V956.9H751.7V959.2H753.6V960.4H755.5V960.1H757.4V960.3H759.3V960H761.2V960.8H763.1V960.5H764.9V961.6H766.8V960.4H768.7V956.6H770.6V960.5H772.5V958.7H774.4V949.8H776.3V958.7H778.2V961.6H802.9V960.4H804.8V961.1H806.7V961.6H808.6V961.5H810.5V961.2H812.4V961.1H816.1V961.2H818V960.4H819.9V960.9H821.8V961.1H823.7V961.6H846.5V961.5H848.4V961.4H850.3V961.3H852.2V960.6H856V960.1H857.9V960.9H859.8V960.6H861.7V961.6H867.3V960.4H869.2V961.6H873V960.7H874.9V957.3H876.8V960.7H878.7V961.6H884.4V961H886.3V960.8H888.2V960.9H890.1V961.6H903.4V961.4H905.3V960.4H907.2V958.6H909.1V956.7H911V958.1H912.9V960.5H914.8V951.8H916.6V934.7H918.5V953.1H920.4V961.2H922.3V961H924.2V961.3H926.1V960.7H928V960.9H929.9V960.5H931.8V961.2H933.7V961.5H935.6V960.7H937.5V961.3H939.4V961.4H941.3H941.3V961.6Z" fill="#e100ff"/>
<path d="M537.4,999.4V999.4H546.9V998.7H548.8V999.1H550.7V998.9H552.6V999.2H554.5V999.1H556.4V997.4H558.3V992.2H560.2V987.9H562.1V991.8H563.9V997.2H565.8V999.2H567.7V999.4H573.4V999.3H575.3V999.4H601.9V999H603.8V998.9H605.7V999.4H613.2V999H615.1V998.7H618.9V998.5H620.8V998.6H622.7V998.5H624.6V999.4H630.3V999.1H632.2V997.6H634.1V995.5H636V997.3H637.9V999.1H639.8V999.4H655V999.3H656.9V999.2H658.8V999.4H666.3V999.2H668.2V999.3H670.1V999H672V997H673.9V994.5H675.8V996.7H677.7V999H679.6V999.4H685.3V999.1H687.2V999.4H691V998.7H692.9V999.4H725.1V998.9H727V999.2H728.9V999.4H738.4V999H740.3V999.1H744.1V999.2H746V999.4H755.5V998.8H757.4V998.9H759.3V998.7H761.2V999.1H763.1V999.2H764.9V999.4H768.7V999.1H770.6V999.2H772.5V999.3H774.4V998.8H776.3V999.2H778.2V999.4H791.5V999.3H795.3V999.4H816.1V999H819.9V999.4H846.5V998.7H848.4V999.1H850.3V999.4H854.1V999.2H856V998.9H857.9V999.4H869.2V999.3H871.1V998.7H873V998.6H874.9V996.2H876.8V998.7H878.7V999.4H890.1V999.3H892V998.8H893.9V999.1H895.8V999.4H905.3V999.2H909.1V998.7H911V998.9H912.9V998.8H914.8V997.7H916.6V993.1H918.5V998H920.4V998.5H922.3V999.4H929.9V999.1H931.8V999.4H941.3H941.3V999.4Z" fill="#fb9608"/>
<path d="M537.4,1037.6V1034.4H539.3V1035.9H541.2V1033.6H543.1V1033.2H545V1032.2H546.9V1031.9H548.8V1032.4H550.7V1033.5H552.6V1033.6H554.5V1034H556.4V1034.5H558.3V1034.6H560.2V1019.8H562.1V1035.1H563.9V1013.8H565.8V1034.3H567.7V1033.1H569.6V1024.2H571.5V1033.2H573.4V1032.8H575.3V1034.1H577.2V1035.7H579.1V1035.3H581V1034.7H582.9V1035H584.8V1034.9H586.7V1035H588.6V1033.7H590.5V1034.5H592.4V1035.6H594.3V1035.4H596.2V1033.3H598.1V1035.6H600V1034.8H601.9V1033.2H603.8V1035.1H605.7V1035.8H607.6V1035.9H609.5V1036.1H611.4V1033.5H613.2V1034.8H615.1V1035.7H617V1037.6H624.6V1036H626.5V1035.6H628.4V1035H632.2V1034H634.1V1027.4H636V1032.1H637.9V1031.5H639.8V1032.4H641.7V1033H643.6V1034H645.5V1035.5H647.4V1034.6H649.3V1033.6H651.2V1034.1H653.1V1034.7H655V1033.5H656.9V1032.1H658.8V1031.2H662.6V1033.8H664.4V1034.9H666.3V1035.5H668.2V1034.9H670.1V1032.8H672V1031.7H673.9V1033.1H675.8V1031.5H677.7V1026H679.6V1032.4H681.5V1035.8H683.4V1034H685.3V1033.4H687.2V1031.2H689.1V1030.1H691V1033.1H692.9V1033.9H694.8V1034.9H696.7V1035.6H698.6V1037.6H704.3V1036.9H706.2V1035.1H708.1V1035.9H710V1037.6H715.6V1036.1H717.5V1035.2H719.4V1035.5H721.3V1033.4H723.2V1035.5H725.1V1036.2H727V1037.6H728.9V1036.7H730.8V1033.7H732.7V1035.5H734.6V1036.1H736.5V1033.7H738.4V1032.7H742.2V1035.4H744.1V1033.7H746V1034.3H747.9V1033.9H749.8V1033.6H753.6V1035.6H755.5V1035.9H757.4V1036H759.3V1033.8H761.2V1033.6H763.1V1031H764.9V1034.9H766.8V1035.9H768.7V1033.5H770.6V1033.2H772.5V1031.5H774.4V1030.1H776.3V1029.6H778.2V1031.8H780.1V1033.2H782V1032.6H783.9V1034.2H785.8V1031.3H787.7V1032.4H789.6V1035.4H791.5V1035.5H795.3V1033.2H797.2V1035.5H799.1V1035H801V1035.7H802.9V1035.8H804.8V1033.3H806.7V1030.6H808.6V1031.3H810.5V1032.3H812.4V1034.6H814.3V1034.7H816.1V1034.1H818V1035.7H819.9V1034H821.8V1035.6H823.7V1034.5H825.6V1037.6H837V1035.9H838.9V1034.9H840.8V1035.5H842.7V1033.6H844.6V1035H846.5V1036H848.4V1033.5H850.3V1034.5H852.2V1033H854.1V1032.3H856V1033.5H857.9V1033.6H859.8V1035.9H861.7V1037.1H863.6V1035.3H865.5V1034.9H867.3V1033.9H869.2V1034.3H871.1V1033.4H873V1035.1H874.9V1037.3H876.8V1036.9H878.7V1035.9H880.6V1034.5H882.5V1033.3H884.4V1032.2H886.3V1031.8H888.2V1030.7H890.1V1032.3H892V1032.4H893.9V1033.2H895.8V1032.6H897.7V1032.4H899.6V1028H901.5V1034.4H903.4V1031.1H905.3V1032.4H907.2V1031.8H909.1V1031.1H911V1032.3H912.9V1033.3H914.8V1024H916.6V1030.8H918.5V1021.7H920.4V1031.8H922.3V1030.9H924.2V1032.2H926.1V1032.8H928V1032.1H929.9V1030.6H931.8V1032.3H933.7V1032.7H935.6V1035H937.5V1032.8H939.4V1031H941.3H941.3V1037.6Z" fill="#e100ff"/>
<path d="M537.4,1075.5V1075.5H545V1075.3H546.9V1074.4H548.8V1074.1H550.7V1072.7H552.6V1071.9H554.5V1072.6H556.4V1074H558.3V1073H560.2V1059.3H562.1V1072.5H563.9V1053.4H565.8V1074.1H567.7V1072.7H569.6V1067.3H571.5V1072.7H573.4V1073.3H575.3V1073.2H577.2V1074.8H579.1V1073.2H582.9V1072.7H586.7V1072.9H588.6V1074H590.5V1074.2H592.4V1075.1H594.3V1073.9H596.2V1071.9H598.1V1072.6H600V1073.4H601.9V1075.4H603.8V1075.5H611.4V1075.4H615.1V1074.5H617V1073.8H618.9V1074.3H620.8V1073.9H624.6V1074H626.5V1072.9H628.4V1070.5H630.3V1072.5H632.2V1073H634.1V1074.7H637.9V1074H639.8V1073.5H641.7V1072.9H643.6V1074.2H645.5V1073.5H647.4V1073.3H649.3V1073.5H651.2V1073.7H653.1V1073.9H655V1072.5H656.9V1073.7H658.8V1075.1H660.7V1075.5H664.4V1075H666.3V1074.5H668.2V1074.6H670.1V1075.2H672V1075.4H673.9V1074.4H675.8V1070.7H677.7V1068.1H679.6V1071.4H681.5V1073.2H683.4V1072.5H685.3V1072.9H687.2V1073.2H689.1V1074.2H691V1074.8H692.9V1073.8H694.8V1074.6H696.7V1073.6H698.6V1073.9H700.5V1074.4H702.4V1074.9H704.3V1075.1H706.2V1074.3H708.1V1073.5H710V1073.6H711.9V1074H713.8V1074.9H715.6V1074H717.5V1075H719.4V1074.7H721.3V1074.8H723.2V1074.6H725.1V1074.9H727V1074.4H728.9V1073.1H730.8V1074.7H732.7V1073.8H734.6V1074.8H736.5V1073.3H738.4V1075.5H755.5V1075.4H757.4V1073.9H759.3V1071.1H761.2V1073.9H763.1V1075.4H764.9V1075.5H766.8V1075.2H768.7V1074.4H770.6V1074.9H772.5V1074.4H774.4V1075.5H818V1075.2H819.9V1075.1H821.8V1074.7H823.7V1074.1H825.6V1075.5H831.3V1075.4H833.2V1075.3H835.1V1074.9H837V1074.4H838.9V1074.1H840.8V1073.6H842.7V1072.8H844.6V1074.6H846.5V1075H848.4V1075.3H850.3V1075.4H852.2V1074.2H854.1V1073.8H856V1074.4H857.9V1074.3H861.7V1073.6H863.6V1075.5H871.1V1075.4H873V1073.9H874.9V1070.6H876.8V1073.9H878.7V1075.4H880.6V1075.5H884.4V1073.8H886.3V1074.7H890.1V1072.8H892V1071H893.9V1072.6H895.8V1074.8H897.7V1073.3H899.6V1073.2H901.5V1072.7H903.4V1073.6H905.3V1073.8H907.2V1074.5H909.1V1075.5H916.6V1074.2H918.5V1066.7H920.4V1074H922.3V1073.9H924.2V1072.7H926.1V1073.1H928V1074.4H929.9V1075.2H931.8V1075.5H937.5V1074H939.4V1074.3H941.3H941.3V1075.5Z" fill="#fb9608"/>
<path d="M537.4,1113.6V1113.6H545V1094.8H546.9V1088.8H548.8V1093.6H550.7V1113.6H552.6V1094.8H554.5V1113.6H562.1V1111.1H563.9V1110.7H565.8V1110.9H567.7V1110.3H569.6V1109.9H571.5V1110.5H573.4V1107.5H575.3V1097.9H577.2V1096.1H579.1V1113.6H581V1090.5H582.9V1089.3H584.8V1094.8H586.7V1109.4H588.6V1096.7H590.5V1095.4H592.4V1089.1H594.3V1090.6H596.2V1092.5H598.1V1090.9H600V1092.9H601.9V1095H603.8V1095.1H605.7V1093.1H607.6V1092.3H609.5V1090.4H611.4V1089.3H613.2V1090H615.1V1096.1H617V1088.7H618.9V1095.9H620.8V1100.8H624.6V1093.1H626.5V1087.3H628.4V1090H630.3V1090.3H632.2V1094H634.1V1093H636V1092H637.9V1094.2H639.8V1092.2H641.7V1092.7H643.6V1093.6H645.5V1091.7H647.4V1092.8H649.3V1096.8H651.2V1091.1H653.1V1094.8H655V1093.3H656.9V1113.6H658.8V1093.4H660.7V1096.4H662.6V1091H664.4V1096.2H666.3V1095.1H668.2V1096.9H670.1V1097.9H673.9V1096.4H675.8V1108.6H677.7V1104.2H679.6V1101.4H681.5V1102.1H683.4V1099.2H685.3V1098.6H687.2V1095.3H689.1V1091.3H691V1087.6H692.9V1089.5H694.8V1089.6H696.7V1091.5H698.6V1088.8H700.5V1086.4H702.4V1092.7H704.3V1088.2H706.2V1089.1H708.1V1086.5H710V1090H711.9V1090.6H713.8V1113.6H715.6V1092H717.5V1113.6H721.3V1093.2H723.2V1089H725.1V1107.8H727V1092.8H728.9V1113.6H730.8V1089.9H732.7V1094.1H734.6V1085.7H736.5V1092.8H738.4V1093.4H740.3V1094.1H742.2V1086H744.1V1092H746V1094.1H747.9V1089H749.8V1091.2H751.7V1087.7H753.6V1091.4H755.5V1088.4H757.4V1093.5H759.3V1089.4H761.2V1094.6H763.1V1106.6H764.9V1113.6H768.7V1093.2H770.6V1113.6H772.5V1086.6H774.4V1088.9H776.3V1089.4H778.2V1088.3H780.1V1090H782V1088.6H783.9V1093.3H785.8V1089.8H787.7V1091H789.6V1091.1H791.5V1093.2H793.4V1088.3H795.3V1086.4H797.2V1093.7H799.1V1091.5H801V1088.6H802.9V1088.5H804.8V1087.8H806.7V1090.6H808.6V1113.6H812.4V1087.4H814.3V1093.4H816.1V1090.8H818V1086.8H819.9V1085.7H821.8V1089H823.7V1085.3H825.6V1093.7H827.5V1086H829.4V1089.6H831.3V1093.3H833.2V1085.4H835.1V1091.6H837V1087.6H838.9V1094H840.8V1113H842.7V1085.4H844.6V1088.4H846.5V1088.8H848.4V1088.5H850.3V1091.6H852.2V1113.6H854.1V1092.9H856V1089.5H857.9V1091.9H859.8V1091.2H861.7V1093.9H863.6V1094H865.5V1087.3H867.3V1088H869.2V1093.6H871.1V1093.9H873V1091H874.9V1086.4H876.8V1092.3H878.7V1089.7H880.6V1105H882.5V1088.8H884.4V1087H886.3V1086.3H888.2V1094.2H890.1V1091H892V1091.3H893.9V1091.1H895.8V1086.9H897.7V1092.5H899.6V1085.6H901.5V1086.8H903.4V1087.6H905.3V1087.1H907.2V1086.1H909.1V1113.6H912.9V1089.9H914.8V1088.2H916.6V1087H918.5V1092.2H920.4V1094H922.3V1090.6H924.2V1087.9H926.1V1091.3H928V1092H929.9V1093.3H931.8V1090H933.7V1093.9H935.6V1088.6H937.5V1090.4H939.4V1094.3H941.3H941.3V1113.6Z" fill="#e100ff"/>
<path d="M537.4,1151.4V1151.4H545V1128.7H546.9V1127.4H548.8V1130.9H550.7V1151.4H552.6V1127.1H554.5V1151.4H556.4V1129.2H558.3V1151.4H562.1V1142.7H563.9V1147.8H565.8V1148H567.7V1147.7H569.6V1145.9H571.5V1141.4H573.4V1136.4H575.3V1130.6H577.2V1129.2H579.1V1130.2H581V1129H582.9V1125.8H584.8V1128.9H586.7V1130.4H588.6V1126.3H590.5V1128.5H592.4V1130.9H594.3V1130.1H596.2V1130.4H598.1V1128.7H600V1127.8H601.9V1131.3H603.8V1127.4H605.7V1126.6H607.6V1130.9H609.5V1131.3H611.4V1126.8H613.2V1128.7H615.1V1136.9H617V1140.2H618.9V1134.9H620.8V1130.5H622.7V1129H624.6V1127.5H626.5V1128.1H628.4V1128.6H630.3V1130.2H632.2V1129.5H634.1V1127H636V1126H637.9V1128.1H639.8V1130.5H641.7V1128.9H643.6V1127.1H645.5V1128H647.4V1124.9H649.3V1151.4H651.2V1127.8H653.1V1128.4H655V1126.6H656.9V1130.5H658.8V1127H660.7V1130.3H662.6V1126.6H664.4V1127.6H666.3V1128.3H668.2V1127.5H670.1V1131.8H672V1132.2H673.9V1137.2H675.8V1136.9H677.7V1131.9H679.6V1130.9H681.5V1129.9H683.4V1128.6H685.3V1125.8H687.2V1123.7H689.1V1124.8H691V1151.4H692.9V1125.4H694.8V1129.3H696.7V1128.5H698.6V1123.6H700.5V1151.4H702.4V1126.8H704.3V1127.6H706.2V1125.1H708.1V1128.3H710V1123.8H711.9V1124H713.8V1128.7H715.6V1123.3H717.5V1151.4H719.4V1125.3H721.3V1125.4H723.2V1128H725.1V1127.6H727V1127.5H728.9V1129H730.8V1126.7H732.7V1128.8H734.6V1127.2H736.5V1126.7H738.4V1124H740.3V1127.6H742.2V1129.3H744.1V1127.7H746V1123.9H747.9V1128.6H749.8V1127.4H751.7V1127.5H755.5V1124.9H757.4V1125H759.3V1151.4H761.2V1126.5H763.1V1129H764.9V1128.8H766.8V1128.7H768.7V1127.2H770.6V1151.4H772.5V1125.8H774.4V1125.2H776.3V1123.5H778.2V1130H780.1V1126.5H782V1123.9H783.9V1151.4H787.7V1126.4H789.6V1123.2H791.5V1151.4H793.4V1126.3H795.3V1128.4H797.2V1126.6H799.1V1128.8H801V1128.4H802.9V1125.2H804.8V1129.2H806.7V1128.2H808.6V1124.3H810.5V1129.1H812.4V1127.1H814.3V1126.3H816.1V1125.1H818V1123.3H819.9V1128.6H821.8V1124.1H823.7V1127.9H825.6V1126.2H827.5V1123.3H829.4V1128.7H831.3V1124.4H833.2V1127.7H835.1V1127.1H837V1127H838.9V1126.2H840.8V1124.3H842.7V1128.1H844.6V1126.4H846.5V1128.8H848.4V1129.2H850.3V1124.2H854.1V1128.6H856V1124.9H857.9V1129H859.8V1126.5H861.7V1125H863.6V1126.3H865.5V1128.2H867.3V1123.7H869.2V1127.1H871.1V1128.3H873V1124.6H874.9V1128.3H876.8V1138.7H878.7V1151.4H880.6V1125.8H882.5V1125.1H884.4V1129.1H886.3V1125.3H888.2V1128.6H890.1V1126.1H892V1125.1H893.9V1128.5H895.8V1127.2H897.7V1127.4H899.6V1128.6H901.5V1124.1H903.4V1123.3H905.3V1124.7H907.2V1126.7H909.1V1125.7H911V1125.1H912.9V1147.2H914.8V1127.2H916.6V1125.4H918.5V1124.1H920.4V1125.9H922.3V1124.7H924.2V1127.3H926.1V1123.6H928V1123.2H929.9V1126.5H931.8V1125.1H933.7V1123.9H935.6V1126.6H937.5V1127.3H939.4V1129.2H941.3H941.3V1151.4Z" fill="#fb9608"/>
<line x1="537.4" y1="886.3" x2="941.3" y2="886.3" stroke="#333" stroke-width="1" />
<text x="535.1" y="861.7" font-size="10.4">0-30</text>
<line x1="537.4" y1="923.6" x2="941.3" y2="923.6" stroke="#333" stroke-width="1" />
<text x="535.1" y="899" font-size="10.4">0-30</text>
<line x1="537.4" y1="961.6" x2="941.3" y2="961.6" stroke="#333" stroke-width="1" />
<text x="535.1" y="937" font-size="10.4">0-60</text>
<line x1="537.4" y1="999.4" x2="941.3" y2="999.4" stroke="#333" stroke-width="1" />
<text x="535.1" y="974.8" font-size="10.4">0-60</text>
<line x1="537.4" y1="1037.6" x2="941.3" y2="1037.6" stroke="#333" stroke-width="1" />
<text x="535.1" y="1013" font-size="10.4">0-50</text>
<line x1="537.4" y1="1075.5" x2="941.3" y2="1075.5" stroke="#333" stroke-width="1" />
<text x="535.1" y="1050.9" font-size="10.4">0-50</text>
<line x1="537.4" y1="1113.6" x2="941.3" y2="1113.6" stroke="#333" stroke-width="1" />
<text x="535.1" y="1089" font-size="10.4">0-100</text>
<line x1="537.4" y1="1151.4" x2="941.3" y2="1151.4" stroke="#333" stroke-width="1" />
<text x="535.1" y="1126.8" font-size="10.4">0-100</text>
<text x="931.4" y="845.3" font-size="15" text-anchor="middle">5 Kb</text>
<line x1="923" y1="850" x2="938.4" y2="850" stroke="#000" stroke-width="1.8" />
<rect x="555.4" y="923.9" width="13.1" height="75.2" fill="none" stroke="#222" stroke-width="1.3"/>
<rect x="625.5" y="923.9" width="13" height="75.2" fill="none" stroke="#222" stroke-width="1.3"/>
<rect x="908.5" y="923.9" width="13" height="75.2" fill="none" stroke="#222" stroke-width="1.3"/>
<rect x="563.6" y="1075.8" width="4.4" height="75.3" fill="none" stroke="#111" stroke-width="1.8"/>
<rect x="619.7" y="1075.8" width="4" height="75.3" fill="none" stroke="#222" stroke-width="1.3"/>
<rect x="758.3" y="1075.8" width="3.7" height="75.3" fill="none" stroke="#222" stroke-width="1.3"/>
<line x1="564.2" y1="1164" x2="921" y2="1164" stroke="#000" stroke-width="1" />
<line x1="564.2" y1="1157.8" x2="564.2" y2="1170.2" stroke="#000" stroke-width="1.3" />
<line x1="710.9" y1="1157.8" x2="710.9" y2="1170.2" stroke="#000" stroke-width="1.3" />
<line x1="757.7" y1="1157.8" x2="757.7" y2="1170.2" stroke="#000" stroke-width="1.3" />
<line x1="777.7" y1="1157.8" x2="777.7" y2="1170.2" stroke="#000" stroke-width="1.3" />
<line x1="810.6" y1="1157.8" x2="810.6" y2="1170.2" stroke="#000" stroke-width="1.3" />
<line x1="836.7" y1="1157.8" x2="836.7" y2="1170.2" stroke="#000" stroke-width="1.3" />
<line x1="847.7" y1="1157.8" x2="847.7" y2="1170.2" stroke="#000" stroke-width="1.3" />
<line x1="864" y1="1157.8" x2="864" y2="1170.2" stroke="#000" stroke-width="1.3" />
<line x1="885.8" y1="1157.8" x2="885.8" y2="1170.2" stroke="#000" stroke-width="1.3" />
<line x1="903.5" y1="1157.8" x2="903.5" y2="1170.2" stroke="#000" stroke-width="1.3" />
<line x1="912.2" y1="1157.8" x2="912.2" y2="1170.2" stroke="#000" stroke-width="1.3" />
<rect x="912.2" y="1160" width="9.6" height="8" fill="#000"/>
<path d="M575.1,1162.4 l2.2,1.6 l-2.2,1.6" fill="none" stroke="#000" stroke-width="0.7"/>
<path d="M601.2,1162.4 l2.2,1.6 l-2.2,1.6" fill="none" stroke="#000" stroke-width="0.7"/>
<path d="M627.4,1162.4 l2.2,1.6 l-2.2,1.6" fill="none" stroke="#000" stroke-width="0.7"/>
<path d="M653.5,1162.4 l2.2,1.6 l-2.2,1.6" fill="none" stroke="#000" stroke-width="0.7"/>
<path d="M679.7,1162.4 l2.2,1.6 l-2.2,1.6" fill="none" stroke="#000" stroke-width="0.7"/>
<path d="M705.8,1162.4 l2.2,1.6 l-2.2,1.6" fill="none" stroke="#000" stroke-width="0.7"/>
<path d="M721.5,1162.4 l2.2,1.6 l-2.2,1.6" fill="none" stroke="#000" stroke-width="0.7"/>
<path d="M747.7,1162.4 l2.2,1.6 l-2.2,1.6" fill="none" stroke="#000" stroke-width="0.7"/>
<path d="M767.4,1162.4 l2.2,1.6 l-2.2,1.6" fill="none" stroke="#000" stroke-width="0.7"/>
<path d="M787.8,1162.4 l2.2,1.6 l-2.2,1.6" fill="none" stroke="#000" stroke-width="0.7"/>
<path d="M821.2,1162.4 l2.2,1.6 l-2.2,1.6" fill="none" stroke="#000" stroke-width="0.7"/>
<path d="M857.5,1162.4 l2.2,1.6 l-2.2,1.6" fill="none" stroke="#000" stroke-width="0.7"/>
<path d="M874.9,1162.4 l2.2,1.6 l-2.2,1.6" fill="none" stroke="#000" stroke-width="0.7"/>
<path d="M895.8,1162.4 l2.2,1.6 l-2.2,1.6" fill="none" stroke="#000" stroke-width="0.7"/>
<text x="744.5" y="1192" font-size="22" text-anchor="middle" font-style="italic">Hunk</text>
<rect x="943.5" y="999.4" width="23" height="151.6" fill="#fafafa"/>
<path d="M950.5,1075 V1070 H952.5 V1064 H958 V1067 H962 V1070 H964 V1075Z" fill="#e100ff"/>
<line x1="945" y1="1076" x2="965" y2="1076" stroke="#99a" stroke-width="1.2" />
<path d="M952.5,1150 V1106 H956 V1128 H959 V1133 H961 V1131 H963.5 V1150Z" fill="#fb9608"/>
<rect x="943.5" y="999.4" width="23" height="151.6" fill="none" stroke="#000" stroke-width="2"/>
<line x1="568" y1="1075.5" x2="941.3" y2="999.8" stroke="#000" stroke-width="1.8" stroke-dasharray="2 1.6"/>
<line x1="568" y1="1151.4" x2="943.5" y2="1151.2" stroke="#000" stroke-width="1.6" stroke-dasharray="2 1.6"/>
<rect x="979.5" y="849.5" width="403.3" height="330.8" fill="#fafafa"/>
<path d="M979.5,886.3V886.3H983.3V885H985.2V885.3H987.1V886.3H994.7V884.5H996.6V884.6H998.5V883.1H1000.4V884.3H1002.3V884.5H1004.2V885.1H1006.1V885.3H1008V884.7H1009.9V884.8H1011.8V885H1013.7V885.1H1015.6V885.4H1017.5V885H1019.4V884.1H1021.4V885.1H1023.3V885.9H1025.2V886.1H1029V885.3H1030.9V884.8H1032.8V885H1034.7V885.4H1036.6V885.7H1038.5V886.3H1046.1V886H1048V885.8H1049.9V886.3H1091.7V886.1H1093.6V885H1095.5V886.3H1118.4V886.1H1120.3V885.9H1122.2V886.3H1135.5V884.9H1137.4V885.8H1139.3V886H1141.2V884.8H1143.1V886.3H1152.6V885.9H1154.5V885.4H1156.4V885.2H1158.3V886H1160.2V886.3H1177.3V885.3H1179.2V886H1181.2V885.8H1183.1V885.9H1185V886.3H1188.8V885.1H1190.7V885.9H1192.6V886.3H1217.3V885.9H1219.2V884.6H1221.1V883.6H1223V884.6H1224.9V885.8H1226.8V886.2H1228.7V886.3H1234.4V886.1H1236.3V885.5H1238.2V885.7H1242V885.5H1243.9V885.7H1245.8V886.3H1259.1V885.5H1261V884.6H1263V884.5H1266.8V884.8H1268.7V884.2H1270.6V884.9H1272.5V885.2H1274.4V885.3H1276.3V885H1278.2V884.9H1280.1V884.4H1282V884.7H1283.9V882.5H1285.8V885.1H1287.7V884.8H1289.6V885.9H1291.5V885.7H1293.4V885.9H1295.3V885.8H1297.2V885.3H1299.1V885.6H1301V885.1H1302.9V886.3H1318.1V886.1H1320V886.2H1321.9V885.7H1323.8V885.8H1325.7V885.6H1327.6V886.3H1333.3V885H1335.2V885.2H1337.1V886.3H1342.9V886.2H1344.8V885.5H1346.7V886.3H1360V885H1361.9V885.4H1363.8V886.3H1375.2V885.9H1377.1V885.3H1379V886.3H1382.8H1382.8V886.3Z" fill="#e100ff"/>
<path d="M979.5,923.6V920.8H981.4V918.1H983.3V915.8H985.2V918.6H987.1V911.1H989V914.8H990.9V912.9H992.8V912.1H994.7V912.3H996.6V911.5H998.5V913.6H1000.4V914.5H1002.3V911H1004.2V909.6H1006.1V912.1H1008V910.5H1009.9V909.9H1011.8V909.5H1013.7V902.8H1015.6V909.2H1017.5V909.7H1019.4V905.2H1021.4V914.6H1023.3V912.7H1025.2V913.2H1027.1V913.1H1029V918.6H1030.9V919.5H1032.8V910.7H1034.7V916.6H1036.6V918.9H1038.5V917.6H1040.4V915.1H1042.3V913H1044.2V913.3H1046.1V917.7H1048V914.3H1049.9V918H1051.8V917.3H1053.7V917H1055.6V913.1H1057.5V916H1059.4V913.6H1061.3V913.5H1063.2V915.4H1065.1V917.9H1068.9V916.7H1070.8V914.5H1072.7V916.1H1074.6V911.8H1076.5V917.8H1078.4V916.4H1080.3V913.6H1082.2V912.9H1084.1V915.1H1086V913.2H1087.9V916.3H1089.8V918.2H1091.7V914.1H1093.6V919.1H1095.5V918.3H1097.4V917.3H1099.3V915.8H1101.3V917.9H1105.1V915.1H1107V918.6H1108.9V914.3H1110.8V917.8H1112.7V916.6H1114.6V915.1H1116.5V917.1H1118.4V918.6H1120.3V923.6H1129.8V921.1H1131.7V917H1133.6V914.8H1135.5V918.4H1137.4V918.2H1139.3V917.3H1141.2V913.8H1143.1V913.6H1145V914.3H1146.9V918.2H1148.8V918.8H1150.7V915.5H1152.6V918.5H1154.5V914.3H1156.4V917.5H1158.3V916.2H1160.2V910.9H1162.1V923.6H1164V923.4H1165.9V919.6H1167.8V912.3H1169.7V919.8H1171.6V917.8H1173.5V919.4H1175.4V914.7H1177.3V914.8H1179.2V916.4H1181.2V915.9H1183.1V916.9H1185V910.8H1186.9V905H1188.8V917.1H1190.7V918.5H1192.6V915.1H1194.5V917.4H1196.4V913.9H1198.3V914H1200.2V913.8H1202.1V917.5H1204V919H1205.9V917.3H1207.8V913.9H1209.7V917.1H1211.6V913.9H1213.5V918.3H1215.4V917.6H1217.3V918.9H1219.2V907.2H1221.1V917H1223V902.7H1224.9V915.9H1226.8V917.8H1228.7V919.1H1230.6V907.2H1232.5V916.9H1234.4V916.5H1236.3V914.8H1238.2V914.9H1240.1V913.6H1242V917.7H1243.9V919.2H1245.8V918.4H1247.7V916.2H1249.6V918.7H1251.5V914.2H1253.4V918.3H1255.3V919.6H1257.2V917.4H1259.1V918.5H1261V914.8H1263V915.2H1264.9V915.6H1266.8V915.3H1268.7V918.5H1270.6V916.7H1272.5V910.3H1274.4V910.2H1276.3V911.9H1278.2V903.7H1280.1V909.3H1282V908.6H1283.9V897.1H1285.8V910.9H1287.7V898.6H1289.6V911.9H1291.5V910.9H1293.4V917H1295.3V919.2H1297.2V915.6H1299.1V918.2H1301V910.5H1302.9V914.6H1304.8V913.9H1306.7V913H1308.6V916.1H1310.5V917.2H1314.3V918.9H1316.2V919.1H1318.1V917.8H1320V918.7H1321.9V908.6H1323.8V918H1325.7V918.2H1327.6V914.5H1329.5V902.7H1331.4V918.8H1333.3V914.3H1335.2V916.9H1337.1V907H1339V914.9H1340.9V910.3H1342.9V916.3H1344.8V914.2H1346.7V913.3H1348.6V918.9H1350.5V916.1H1352.4V915H1354.3V917.3H1358.1V910.3H1360V917.4H1361.9V915.8H1363.8V918.4H1365.7V917.9H1367.6V914H1369.5V917.6H1371.4V919.3H1373.3V919.7H1375.2V919.9H1379V914.5H1380.9V917.8H1382.8H1382.8V923.6Z" fill="#fb9608"/>
<path d="M979.5,961.6V961.4H981.4V960.4H983.3V960.7H985.2V960.1H987.1V961.6H1009.9V961.3H1011.8V960.7H1013.7V961.3H1015.6V961H1017.5V961.4H1019.4V960.8H1021.4V960.4H1023.3V960.8H1025.2V961.6H1038.5V960.2H1040.4V961.6H1048V961.3H1049.9V961.1H1051.8V961H1053.7V961.3H1055.6V961.4H1057.5V961.5H1059.4V960.4H1061.3V961.6H1070.8V961.5H1072.7V961.1H1076.5V961.6H1080.3V961H1082.2V961.1H1084.1V960.8H1086V961.4H1087.9V961.1H1089.8V960.3H1091.7V961.2H1093.6V961.6H1101.3V960.4H1103.2V960.3H1105.1V961.1H1107V960.9H1108.9V960.6H1110.8V961.6H1120.3V961.1H1122.2V960.9H1124.1V960.6H1126V960.3H1127.9V960.8H1129.8V960.3H1131.7V960.9H1133.6V961.6H1135.5V960.2H1137.4V959.9H1139.3V961H1141.2V960.5H1143.1V960.9H1145V960.3H1146.9V959.9H1150.7V961.6H1169.7V961.5H1171.6V961.6H1185V960.7H1186.9V961.6H1198.3V960.3H1200.2V960.1H1204V960.4H1205.9V961.6H1213.5V960.5H1215.4V960.3H1217.3V961.6H1238.2V961H1240.1V960.5H1242V961.2H1243.9V961.1H1245.8V960.3H1247.7V960.6H1249.6V960.2H1251.5V960.7H1253.4V961.2H1255.3V961H1257.2V960.6H1259.1V961.1H1261V961.3H1264.9V961.2H1266.8V960.7H1268.7V960.4H1270.6V961H1272.5V961.4H1276.3V961.5H1278.2V961.6H1282V960.5H1283.9V961.3H1287.7V960.5H1289.6V960.8H1291.5V961.6H1293.4V961.4H1295.3V960.3H1297.2V960.7H1299.1V960.4H1301V960H1302.9V960.3H1304.8V961H1306.7V960.6H1308.6V961.6H1320V961.1H1321.9V961.4H1325.7V960.3H1327.6V960.1H1329.5V961H1331.4V961.3H1333.3V960.9H1335.2V961.5H1337.1V959.1H1339V955.2H1340.9V959.1H1342.9V960.3H1344.8V947.6H1346.7V960.5H1348.6V960.3H1350.5V959.8H1352.4V959.9H1354.3V960.9H1356.2V960H1358.1V959.3H1360V958.1H1361.9V957.6H1363.8V958.5H1365.7V958.6H1367.6V957.6H1369.5V954.4H1371.4V957.8H1373.3V958.5H1375.2V955H1377.1V958.1H1379V961.5H1380.9V957.7H1382.8H1382.8V961.6Z" fill="#e100ff"/>
<path d="M979.5,999.4V998.6H981.4V997.9H983.3V998.2H985.2V997.1H989V994.9H990.9V995.2H992.8V997.3H994.7V997.9H996.6V995.7H998.5V997.5H1000.4V996.1H1002.3V995.4H1004.2V996.7H1006.1V996.4H1008V997.4H1009.9V996.9H1011.8V996.6H1013.7V997.6H1015.6V995.7H1017.5V996.8H1019.4V994.3H1021.4V995.9H1023.3V994.7H1025.2V993.7H1027.1V995.3H1029V983.5H1030.9V997.4H1032.8V997.3H1034.7V997.2H1036.6V994.4H1038.5V995.4H1040.4V996.2H1042.3V992.8H1044.2V994.3H1046.1V993.5H1048V994.3H1049.9V998.2H1051.8V996.8H1053.7V994.6H1055.6V994.3H1057.5V995.8H1059.4V997H1061.3V995.2H1063.2V996.4H1065.1V997.8H1067V995.6H1068.9V995.8H1070.8V997.5H1072.7V997.4H1074.6V996.4H1076.5V993.9H1078.4V994.2H1080.3V996.4H1082.2V995.3H1084.1V993.4H1086V996.5H1087.9V999.4H1091.7V997.5H1093.6V994.5H1095.5V995.2H1097.4V994.6H1099.3V994.7H1101.3V993.9H1103.2V994.9H1105.1V995.5H1107V995.9H1108.9V995.5H1110.8V995.3H1112.7V997.1H1114.6V994.2H1116.5V996.7H1118.4V996.2H1120.3V994.3H1122.2V993.3H1124.1V996H1126V995.8H1127.9V991.2H1129.8V994.9H1131.7V997H1133.6V996.3H1135.5V997H1137.4V994.5H1139.3V993.9H1141.2V996.2H1143.1V995.9H1145V997.4H1146.9V997.1H1148.8V994.7H1150.7V984.7H1152.6V997.3H1154.5V997.2H1156.4V996.5H1158.3V981.2H1160.2V994.9H1162.1V995.2H1164V994.1H1165.9V993.3H1167.8V994.9H1169.7V997.3H1171.6V989.5H1173.5V996.2H1175.4V993.9H1177.3V993H1179.2V994H1181.2V997H1183.1V994H1185V994.6H1186.9V996.2H1188.8V997.2H1190.7V994.9H1192.6V993.7H1194.5V994.4H1196.4V997H1198.3V997.4H1200.2V995.6H1202.1V997.5H1204V994.4H1205.9V996.3H1207.8V993.8H1209.7V995.1H1211.6V996.5H1213.5V996.4H1215.4V994.3H1217.3V994.4H1219.2V994.2H1221.1V996.1H1223V995.2H1224.9V996H1226.8V994.9H1228.7V997.1H1230.6V997.6H1232.5V991H1234.4V994H1236.3V996.7H1238.2V994.5H1240.1V995.2H1242V995.5H1243.9V996.9H1245.8V997.7H1247.7V996.6H1249.6V996.3H1251.5V995H1253.4V996H1255.3V994.7H1257.2V997H1259.1V996H1261V994.5H1263V993.5H1264.9V994.1H1266.8V997.4H1268.7V987.1H1270.6V997H1272.5V996.5H1274.4V996.2H1276.3V995.1H1278.2V994.3H1280.1V994.6H1282V995.9H1283.9V995.7H1285.8V993.9H1287.7V993.5H1289.6V994.6H1291.5V997H1293.4V993.9H1295.3V996.7H1297.2V996.1H1299.1V997.7H1301V998H1302.9V995.3H1304.8V997.2H1306.7V998H1308.6V994.4H1310.5V987.6H1312.4V994.5H1314.3V997H1316.2V995.6H1318.1V996.5H1320V996H1321.9V995.5H1323.8V995.8H1325.7V994.3H1327.6V990.9H1329.5V991.3H1331.4V991.5H1333.3V995.7H1335.2V989.9H1337.1V989.2H1339V986.9H1340.9V984.9H1342.9V988.4H1344.8V972.1H1346.7V991H1348.6V991.2H1350.5V994.5H1352.4V994.1H1354.3V994.8H1356.2V994.7H1358.1V996.3H1360V986.2H1361.9V984.8H1363.8V973.7H1365.7V982.4H1367.6V982.7H1369.5V981.3H1371.4V982.3H1373.3V979.1H1375.2V983.9H1377.1V984H1379V982.7H1380.9V984.4H1382.8H1382.8V999.4Z" fill="#fb9608"/>
<path d="M979.5,1037.6V1037.5H981.4V1037.2H983.3V1037.4H985.2V1037H987.1V1037.6H1013.7V1036.3H1015.6V1036.6H1017.5V1036.5H1019.4V1037.2H1021.4V1037.3H1023.3V1037.2H1025.2V1037.3H1027.1V1037.6H1034.7V1037.5H1036.6V1036.6H1038.5V1034.3H1040.4V1036.4H1042.3V1037.5H1044.2V1037.6H1061.3V1036.8H1063.2V1037.4H1065.1V1036.5H1067V1037.6H1078.4V1037.1H1080.3V1037.3H1082.2V1037.1H1084.1V1036.5H1086V1034.4H1087.9V1036.4H1089.8V1037.4H1091.7V1036.6H1093.6V1037.3H1095.5V1036.6H1097.4V1036.7H1099.3V1036.8H1101.3V1036.2H1103.2V1037.1H1105.1V1036.4H1107V1037.6H1110.8V1037.5H1112.7V1037.2H1114.6V1036.9H1116.5V1036.6H1118.4V1036.7H1120.3V1036.8H1124.1V1036.3H1126V1037.2H1127.9V1036.8H1129.8V1037H1131.7V1036.9H1133.6V1037.6H1143.1V1036.4H1146.9V1037.2H1148.8V1037.6H1162.1V1037.1H1164V1036.4H1165.9V1034.4H1167.8V1036.5H1169.7V1037.4H1171.6V1037.2H1173.5V1037.6H1185V1037.3H1186.9V1036.5H1188.8V1036.7H1190.7V1036H1192.6V1036.2H1194.5V1037.6H1217.3V1037.4H1219.2V1036.4H1221.1V1034.3H1223V1036.4H1224.9V1037.5H1226.8V1037.6H1228.7V1037.4H1230.6V1036.2H1232.5V1037.1H1234.4V1037.6H1251.5V1036.6H1253.4V1037.1H1255.3V1036.2H1257.2V1037.1H1261V1036H1263V1036.5H1266.8V1036.1H1268.7V1036H1270.6V1036.7H1272.5V1037H1274.4V1036.2H1276.3V1037.1H1278.2V1036.5H1280.1V1036.7H1282V1037.3H1283.9V1036.8H1287.7V1037.6H1295.3V1036.4H1297.2V1036H1299.1V1036.2H1301V1036.4H1302.9V1037.6H1308.6V1037H1310.5V1037.4H1314.3V1037.1H1316.2V1037.4H1318.1V1036.7H1320V1036.3H1321.9V1036.5H1323.8V1036H1325.7V1036.1H1327.6V1035.8H1329.5V1035.1H1331.4V1034.8H1333.3V1034.7H1335.2V1034.8H1337.1V1033H1339V1034.9H1340.9V1035H1342.9V1034.7H1346.7V1035H1350.5V1035.6H1352.4V1036.2H1354.3V1035.2H1356.2V1036.2H1358.1V1035.7H1360V1035.3H1361.9V1035.1H1363.8V1035.6H1365.7V1036.1H1367.6V1034.6H1369.5V1032.9H1371.4V1034.6H1373.3V1035.4H1375.2V1034.9H1377.1V1035.5H1379V1036.1H1380.9V1035.8H1382.8H1382.8V1037.6Z" fill="#e100ff"/>
<path d="M979.5,1075.5V1074H981.4V1069.3H983.3V1072.2H985.2V1070H987.1V1069.1H989V1070.6H990.9V1069.8H992.8V1067.9H994.7V1067.5H996.6V1066.8H998.5V1069.8H1000.4V1068.7H1002.3V1071.4H1004.2V1069.2H1006.1V1069.6H1008V1072.3H1009.9V1070.8H1011.8V1068.7H1013.7V1071.2H1015.6V1068H1017.5V1066.6H1019.4V1075.5H1029V1073.2H1030.9V1071H1032.8V1070.7H1034.7V1068.9H1036.6V1067.5H1038.5V1070.5H1040.4V1069.8H1042.3V1065.4H1044.2V1071.3H1046.1V1069.7H1048V1070.9H1049.9V1072.1H1051.8V1070.3H1053.7V1068.7H1055.6V1070H1057.5V1070.9H1059.4V1072.2H1061.3V1072.5H1063.2V1070H1065.1V1071.3H1067V1071.4H1068.9V1069.8H1070.8V1062H1072.7V1070.2H1074.6V1071H1076.5V1071.4H1078.4V1072.2H1080.3V1071.8H1082.2V1068.1H1084.1V1071.2H1086V1065.5H1087.9V1069.2H1089.8V1068.7H1091.7V1072H1093.6V1072.4H1095.5V1067.6H1097.4V1072.7H1099.3V1071.7H1101.3V1071.4H1103.2V1069.8H1105.1V1070.5H1107V1072.3H1108.9V1070.7H1110.8V1067.2H1112.7V1068H1114.6V1066.2H1116.5V1070.7H1118.4V1072.6H1120.3V1069.5H1122.2V1067H1124.1V1067.8H1126V1065.3H1127.9V1068.5H1129.8V1068.3H1131.7V1068.5H1133.6V1069.4H1135.5V1072.2H1137.4V1071.2H1139.3V1070.1H1141.2V1069.2H1143.1V1070H1145V1068.5H1146.9V1067.9H1148.8V1070H1150.7V1072.4H1152.6V1069.4H1154.5V1067.1H1156.4V1068.4H1158.3V1064H1160.2V1070.3H1162.1V1068.9H1164V1066.7H1165.9V1060.6H1167.8V1069.4H1169.7V1067.5H1171.6V1066.4H1173.5V1068H1175.4V1070.5H1177.3V1069H1179.2V1071.5H1181.2V1069.8H1183.1V1068.7H1185V1067.3H1186.9V1067.8H1188.8V1071.3H1190.7V1072.8H1192.6V1072H1194.5V1067.7H1196.4V1070.7H1198.3V1068.7H1200.2V1069.1H1202.1V1069.5H1204V1064.3H1205.9V1071.2H1207.8V1070.7H1209.7V1067.9H1211.6V1066.3H1213.5V1069.9H1215.4V1071.9H1217.3V1070.4H1219.2V1072H1221.1V1065.3H1223V1068.1H1224.9V1067.8H1226.8V1067.9H1228.7V1068H1230.6V1070.8H1232.5V1069H1234.4V1068.3H1236.3V1068.8H1238.2V1068.9H1240.1V1066.9H1242V1067.9H1243.9V1071.6H1245.8V1069.2H1247.7V1069.4H1249.6V1070H1251.5V1075.5H1255.3V1070H1257.2V1066.7H1259.1V1070.6H1263V1072.5H1264.9V1070.9H1266.8V1069H1268.7V1067.7H1270.6V1066.9H1272.5V1067.2H1274.4V1069.6H1276.3V1067.1H1278.2V1066.2H1280.1V1067.9H1282V1067.5H1283.9V1071.1H1285.8V1068.9H1287.7V1071.4H1289.6V1068.8H1291.5V1070.8H1293.4V1067.7H1295.3V1067.4H1297.2V1069.4H1299.1V1068H1301V1068.8H1302.9V1069.7H1304.8V1068.7H1306.7V1069.8H1308.6V1069.1H1312.4V1070.7H1314.3V1071.2H1316.2V1067.3H1318.1V1067.7H1320V1068.1H1321.9V1069.4H1325.7V1065.5H1327.6V1063.9H1329.5V1062.8H1331.4V1063.1H1333.3V1057.1H1335.2V1065.5H1337.1V1067H1339V1066.4H1340.9V1062.6H1342.9V1064.2H1344.8V1060.9H1346.7V1060.1H1348.6V1059.6H1350.5V1066.9H1352.4V1070.7H1354.3V1060H1356.2V1061.4H1358.1V1060.6H1360V1060.8H1361.9V1058.2H1363.8V1064.1H1365.7V1065.8H1367.6V1059.6H1369.5V1062.3H1371.4V1064H1373.3V1049.4H1375.2V1065.3H1377.1V1060.6H1379V1062.5H1380.9V1064.2H1382.8H1382.8V1075.5Z" fill="#fb9608"/>
<path d="M979.5,1113.6V1086.7H981.4V1090.8H983.3V1088.2H985.2V1089.9H987.1V1088.2H989V1091.4H990.9V1086.6H992.8V1088.1H994.7V1089.1H996.6V1086.2H998.5V1097H1000.4V1086.4H1002.3V1113.6H1004.2V1113.3H1006.1V1090H1008V1089.5H1009.9V1113.6H1011.8V1088.5H1013.7V1086.1H1015.6V1085.8H1017.5V1089.4H1019.4V1113.6H1021.4V1086.6H1023.3V1088.7H1027.1V1089.6H1029V1107.3H1030.9V1085.9H1032.8V1087.4H1034.7V1085.9H1036.6V1090.6H1038.5V1088.6H1040.4V1113.6H1042.3V1090.2H1044.2V1088.7H1046.1V1090.9H1048V1113.6H1049.9V1099.3H1051.8V1101.4H1053.7V1101.5H1055.6V1101.1H1057.5V1101.5H1059.4V1101.2H1061.3V1101.7H1063.2V1103.8H1065.1V1095.1H1067V1088.8H1068.9V1090.5H1070.8V1090.1H1072.7V1088.4H1074.6V1113.6H1076.5V1087.7H1080.3V1113.6H1082.2V1087.5H1084.1V1090.9H1086V1089.5H1087.9V1089.6H1089.8V1090.9H1091.7V1090.1H1093.6V1090.9H1095.5V1091.7H1097.4V1086.9H1099.3V1088.5H1101.3V1087.7H1103.2V1087.2H1105.1V1087.6H1107V1113.6H1108.9V1090.9H1110.8V1087.7H1112.7V1113.6H1114.6V1088H1116.5V1091H1118.4V1090.7H1120.3V1093.6H1122.2V1096.7H1124.1V1098H1126V1113.6H1129.8V1100.2H1131.7V1113.6H1133.6V1099.4H1135.5V1113.6H1139.3V1099.4H1141.2V1099.6H1143.1V1101.9H1145V1113.6H1148.8V1087.5H1150.7V1091.2H1152.6V1089.8H1154.5V1089.4H1156.4V1113.6H1158.3V1090.3H1160.2V1098.8H1162.1V1090.2H1164V1099.7H1165.9V1097.1H1167.8V1095.7H1169.7V1090.5H1171.6V1088.7H1173.5V1091.3H1175.4V1113.6H1177.3V1087.7H1179.2V1092.4H1181.2V1089.2H1183.1V1089.4H1185V1088.5H1186.9V1092.2H1188.8V1088.7H1190.7V1088.9H1192.6V1089.8H1194.5V1088.5H1196.4V1088.2H1198.3V1090.1H1200.2V1091.8H1202.1V1090.2H1204V1090.6H1205.9V1091.7H1207.8V1089H1209.7V1092.2H1211.6V1087.9H1213.5V1091.2H1215.4V1092.7H1217.3V1089.5H1219.2V1092.3H1221.1V1091.3H1223V1088.5H1224.9V1090H1226.8V1089.9H1228.7V1091.5H1230.6V1090.6H1232.5V1094.3H1234.4V1090.4H1236.3V1113.6H1240.1V1098.3H1242V1096.3H1243.9V1093.4H1245.8V1093.6H1247.7V1092.3H1249.6V1090.4H1251.5V1089.9H1253.4V1091.6H1255.3V1113.6H1261V1091.8H1263V1094.7H1264.9V1092.7H1266.8V1113.6H1268.7V1097.8H1270.6V1092.6H1272.5V1094H1274.4V1092.1H1276.3V1091.8H1278.2V1091.6H1280.1V1086.9H1282V1089.2H1283.9V1113.6H1287.7V1087.2H1289.6V1090.3H1291.5V1092.2H1293.4V1089H1295.3V1113.6H1299.1V1090.2H1301V1090.1H1302.9V1090.9H1304.8V1091.4H1306.7V1090.5H1308.6V1089H1310.5V1092.7H1312.4V1090.2H1314.3V1091H1316.2V1090.3H1318.1V1113.6H1320V1091.6H1321.9V1093.7H1323.8V1092.6H1325.7V1103.5H1327.6V1111.7H1329.5V1111.9H1333.3V1112.2H1335.2V1112.1H1337.1V1112.2H1339V1112.3H1340.9V1112.2H1342.9V1112.4H1346.7V1112.5H1350.5V1111.6H1352.4V1109.4H1354.3V1106.7H1356.2V1103.8H1358.1V1104.6H1360V1102.2H1361.9V1102.5H1363.8V1102H1365.7V1102.1H1367.6V1102.9H1369.5V1103.7H1371.4V1105.2H1373.3V1104.7H1375.2V1105.9H1377.1V1105.1H1379V1105.6H1380.9V1103.8H1382.8H1382.8V1113.6Z" fill="#e100ff"/>
<path d="M979.5,1151.4V1127.6H981.4V1151.4H985.2V1131.3H987.1V1124.9H989V1128.8H990.9V1124.2H992.8V1122.7H994.7V1151.4H996.6V1137.3H998.5V1129.8H1000.4V1122.6H1002.3V1122.7H1004.2V1127.2H1006.1V1132.5H1008V1133.5H1009.9V1151.4H1011.8V1139.1H1013.7V1137.5H1015.6V1122.5H1017.5V1136.3H1019.4V1137.1H1021.4V1151.4H1025.2V1129.6H1027.1V1132.2H1029V1124.8H1030.9V1135.7H1032.8V1135.1H1034.7V1124.2H1036.6V1135.1H1038.5V1145.4H1040.4V1125.8H1042.3V1126.8H1044.2V1130.4H1048V1134.8H1049.9V1141.2H1051.8V1139.2H1053.7V1143.7H1055.6V1137.9H1057.5V1140.6H1059.4V1151.4H1063.2V1140.2H1065.1V1141.4H1067V1143.2H1070.8V1151.4H1074.6V1135.4H1076.5V1135.8H1078.4V1138.7H1080.3V1137H1082.2V1140.4H1084.1V1141.8H1086V1133.6H1087.9V1151.4H1089.8V1140.2H1091.7V1128.7H1093.6V1151.4H1095.5V1129.5H1097.4V1131.3H1099.3V1137.9H1101.3V1139H1103.2V1139.4H1105.1V1128.6H1107V1139.1H1108.9V1128.9H1110.8V1128.5H1112.7V1135.8H1114.6V1151.4H1118.4V1136.7H1120.3V1151.4H1122.2V1143H1124.1V1146H1126V1142H1127.9V1143.8H1129.8V1143.3H1131.7V1143.2H1133.6V1145.6H1135.5V1141.6H1137.4V1143.8H1139.3V1147.1H1141.2V1143.4H1143.1V1151.4H1145V1146.4H1146.9V1150.2H1148.8V1142.8H1150.7V1151.4H1152.6V1144H1156.4V1134.5H1158.3V1140H1160.2V1138.4H1162.1V1151.4H1165.9V1143.3H1167.8V1147.2H1169.7V1146H1171.6V1151.4H1173.5V1141.7H1175.4V1151.4H1177.3V1144.4H1179.2V1136.8H1181.2V1136.1H1183.1V1135.8H1185V1140H1186.9V1141H1188.8V1147.3H1190.7V1140.3H1192.6V1137H1194.5V1147.4H1196.4V1140H1198.3V1144.1H1200.2V1144.7H1202.1V1140.2H1204V1142.5H1205.9V1146.7H1209.7V1145.6H1211.6V1143.4H1213.5V1147.4H1215.4V1145.2H1217.3V1146H1219.2V1147.6H1221.1V1148.3H1223V1144.9H1224.9V1143.9H1226.8V1143.5H1228.7V1144.2H1230.6V1145.9H1232.5V1146.3H1234.4V1145.6H1236.3V1142.9H1238.2V1144.1H1240.1V1142H1242V1139.9H1243.9V1141.6H1245.8V1151.4H1249.6V1148.2H1251.5V1145.2H1253.4V1144.8H1257.2V1146H1259.1V1145.9H1261V1146.1H1263V1147.3H1264.9V1151.4H1268.7V1145.1H1270.6V1145.2H1272.5V1143.7H1274.4V1145.6H1276.3V1147.5H1278.2V1146.1H1280.1V1147.2H1282V1143.8H1283.9V1148.3H1285.8V1147.9H1287.7V1147.4H1289.6V1151.2H1291.5V1148.2H1293.4V1151.2H1295.3V1148.3H1297.2V1147H1299.1V1147.2H1301V1144.8H1302.9V1145.9H1304.8V1144.9H1306.7V1146.4H1308.6V1145.8H1310.5V1148.7H1312.4V1145.3H1314.3V1148.1H1316.2V1151.4H1318.1V1148.9H1320V1146.2H1321.9V1148H1323.8V1146.9H1325.7V1148.7H1327.6V1149.2H1329.5V1150.5H1331.4V1149.4H1333.3V1149.9H1335.2V1149.4H1337.1V1150.1H1339V1149.9H1340.9V1149.5H1342.9V1149.6H1344.8V1149.5H1346.7V1150.4H1348.6V1150.2H1350.5V1150.1H1352.4V1151.4H1354.3V1150.2H1356.2V1149.2H1358.1V1150.1H1360V1149.8H1361.9V1149H1363.8V1149.6H1365.7V1149.9H1367.6V1150H1369.5V1150.8H1371.4V1150.1H1373.3V1148.7H1375.2V1150.1H1377.1V1149.6H1379V1149.1H1380.9V1149.9H1382.8H1382.8V1151.4Z" fill="#fb9608"/>
<line x1="979.5" y1="886.3" x2="1382.8" y2="886.3" stroke="#333" stroke-width="1" />
<text x="978.8" y="861.7" font-size="10.4">0-100</text>
<line x1="979.5" y1="923.6" x2="1382.8" y2="923.6" stroke="#333" stroke-width="1" />
<text x="978.8" y="899" font-size="10.4">0-100</text>
<line x1="979.5" y1="961.6" x2="1382.8" y2="961.6" stroke="#333" stroke-width="1" />
<text x="978.8" y="937" font-size="10.4">0-30</text>
<line x1="979.5" y1="999.4" x2="1382.8" y2="999.4" stroke="#333" stroke-width="1" />
<text x="978.8" y="974.8" font-size="10.4">0-30</text>
<line x1="979.5" y1="1037.6" x2="1382.8" y2="1037.6" stroke="#333" stroke-width="1" />
<text x="978.8" y="1013" font-size="10.4">0-50</text>
<line x1="979.5" y1="1075.5" x2="1382.8" y2="1075.5" stroke="#333" stroke-width="1" />
<text x="978.8" y="1050.9" font-size="10.4">0-50</text>
<line x1="979.5" y1="1113.6" x2="1382.8" y2="1113.6" stroke="#333" stroke-width="1" />
<text x="978.8" y="1089" font-size="10.4">0-100</text>
<line x1="979.5" y1="1151.4" x2="1382.8" y2="1151.4" stroke="#333" stroke-width="1" />
<text x="978.8" y="1126.8" font-size="10.4">0-100</text>
<text x="1365.5" y="845.3" font-size="15" text-anchor="middle">4 Kb</text>
<line x1="1351.4" y1="850" x2="1379" y2="850" stroke="#000" stroke-width="1.8" />
<rect x="1339.2" y="923.9" width="13.6" height="75.2" fill="none" stroke="#222" stroke-width="1.3"/>
<rect x="1361.6" y="923.9" width="21.2" height="75.2" fill="none" stroke="#222" stroke-width="1.3"/>
<rect x="1120.7" y="999.7" width="52" height="75.5" fill="none" stroke="#222" stroke-width="1.3"/>
<rect x="1199.7" y="999.7" width="27.9" height="75.5" fill="none" stroke="#222" stroke-width="1.3"/>
<rect x="1322.6" y="999.7" width="60.2" height="75.5" fill="none" stroke="#222" stroke-width="1.3"/>
<rect x="1066.6" y="1075.8" width="4.4" height="75.3" fill="none" stroke="#222" stroke-width="1.3"/>
<rect x="1241.3" y="1075.8" width="4" height="75.3" fill="none" stroke="#222" stroke-width="1.3"/>
<rect x="1307.2" y="1075.8" width="6.4" height="75.3" fill="none" stroke="#111" stroke-width="1.8"/>
<line x1="1017.2" y1="1164.5" x2="1345" y2="1164.5" stroke="#000" stroke-width="1" />
<line x1="1028.3" y1="1157.7" x2="1028.3" y2="1171.3" stroke="#000" stroke-width="1.3" />
<line x1="1187.2" y1="1157.7" x2="1187.2" y2="1171.3" stroke="#000" stroke-width="1.3" />
<line x1="1230.2" y1="1157.7" x2="1230.2" y2="1171.3" stroke="#000" stroke-width="1.3" />
<rect x="1017.2" y="1161" width="11" height="7" fill="#000"/>
<rect x="1278.2" y="1157.9" width="10.8" height="13.2" fill="#000"/>
<rect x="1343.5" y="1161" width="1.7" height="7" fill="#000"/>
<path d="M1044.4,1162.9 l-2.2,1.6 l2.2,1.6" fill="none" stroke="#000" stroke-width="0.7"/>
<path d="M1072,1162.9 l-2.2,1.6 l2.2,1.6" fill="none" stroke="#000" stroke-width="0.7"/>
<path d="M1099.6,1162.9 l-2.2,1.6 l2.2,1.6" fill="none" stroke="#000" stroke-width="0.7"/>
<path d="M1126.9,1162.9 l-2.2,1.6 l2.2,1.6" fill="none" stroke="#000" stroke-width="0.7"/>
<path d="M1154.5,1162.9 l-2.2,1.6 l2.2,1.6" fill="none" stroke="#000" stroke-width="0.7"/>
<path d="M1182.4,1162.9 l-2.2,1.6 l2.2,1.6" fill="none" stroke="#000" stroke-width="0.7"/>
<path d="M1203.6,1162.9 l-2.2,1.6 l2.2,1.6" fill="none" stroke="#000" stroke-width="0.7"/>
<path d="M1247.2,1162.9 l-2.2,1.6 l2.2,1.6" fill="none" stroke="#000" stroke-width="0.7"/>
<path d="M1273.3,1162.9 l-2.2,1.6 l2.2,1.6" fill="none" stroke="#000" stroke-width="0.7"/>
<path d="M1305.9,1162.9 l-2.2,1.6 l2.2,1.6" fill="none" stroke="#000" stroke-width="0.7"/>
<path d="M1333.8,1162.9 l-2.2,1.6 l2.2,1.6" fill="none" stroke="#000" stroke-width="0.7"/>
<text x="1185" y="1192" font-size="22" text-anchor="middle" font-style="italic">Prox1</text>
<rect x="1389.2" y="1001" width="23.2" height="151.3" fill="#fafafa"/>
<path d="M1393.5,1075 V1022.5 H1397 V1027.5 H1400.5 V1066 H1405 V1055.5 H1408.5 V1075Z" fill="#e100ff"/>
<line x1="1390" y1="1076" x2="1412" y2="1076" stroke="#333" stroke-width="1.2" />
<path d="M1393,1151.5 V1137.5 H1396.5 V1127.5 H1401 V1148.5 H1404.5 V1141.5 H1408.5 V1151.5Z" fill="#fb9608"/>
<rect x="1389.2" y="1001" width="23.2" height="151.3" fill="none" stroke="#000" stroke-width="2"/>
<line x1="1310.5" y1="1075.5" x2="1389.2" y2="1001" stroke="#000" stroke-width="1.8" stroke-dasharray="2 1.6"/>
<line x1="1313.6" y1="1151.6" x2="1389.2" y2="1152.3" stroke="#000" stroke-width="1.6" stroke-dasharray="2 1.6"/>
<rect x="1421.2" y="849.5" width="404.2" height="326" fill="#fafafa"/>
<path d="M1421.2,886.3V884.2H1423.1V883.8H1425V884.9H1426.9V885.5H1428.8V884.3H1430.7V884.2H1432.6V885.7H1434.5V885.8H1436.4V886.3H1442.1V885.9H1444V884.9H1445.9V884.8H1447.8V885.7H1449.7V885.1H1451.6V886.3H1457.3V884.9H1459.2V882.3H1461.1V885.6H1462.9V884.8H1464.8V885.7H1466.7V886.3H1470.5V885.8H1472.4V885H1474.3V886.3H1487.6V886.1H1489.5V886.2H1491.4V885H1493.3V884.2H1495.2V885.3H1497.1V881.6H1499V886.2H1500.9V886.3H1504.7V886.2H1506.6V881.9H1508.5V886.2H1510.4V886.3H1519.9V885.5H1521.8V885.8H1523.7V884.5H1525.6V884H1527.5V883.8H1529.4V884.1H1531.3V885.5H1533.2V884.8H1535.1V886.3H1544.5V885.4H1546.4V884.9H1548.3V885.8H1550.2V884.2H1552.1V885.4H1554V886.3H1567.3V885H1571.1V883.9H1573V883.7H1574.9V885H1576.8V886.3H1588.2V885.3H1590.1V885.7H1592V885.8H1593.9V885.4H1595.8V885.7H1597.7V886.3H1601.5V885.8H1605.3V884.9H1607.2V885.7H1609.1V886.3H1614.8V884.8H1616.7V885.2H1618.6V885.4H1620.5V885.6H1622.4V885.5H1624.2V886.3H1662.2V885.8H1664.1V874.5H1666V885.6H1667.9V886.3H1671.7V885.2H1673.6V885.5H1675.5V884.5H1677.4V884.4H1679.3V885.4H1681.2V886.3H1688.8V886.1H1690.7V885.4H1692.6V886H1694.5V886.3H1719.1V884.8H1721V885.6H1722.9V884.5H1724.8V885.3H1726.7V886.3H1736.2V885.2H1738.1V885.3H1740V886.3H1764.7V884.9H1766.6V881.9H1768.5V885.7H1770.4V883.1H1772.3V885.7H1774.2V886.3H1787.4V885.5H1789.3V884.4H1791.2V886.3H1825.4H1825.4V886.3Z" fill="#e100ff"/>
<path d="M1421.2,923.6V919.3H1423.1V920.4H1425V921.1H1426.9V921.4H1428.8V918.7H1430.7V919.5H1432.6V921.1H1434.5V921H1436.4V919.8H1438.3V918.3H1440.2V920.2H1442.1V919.1H1444V917.6H1445.9V920.6H1447.8V918.1H1449.7V919.9H1451.6V920.7H1453.5V918.4H1455.4V920.6H1457.3V915.4H1459.2V919.1H1461.1V917.6H1462.9V920.3H1464.8V917.4H1466.7V913.6H1468.6V920.5H1470.5V919H1472.4V918.2H1474.3V920.7H1476.2V917.1H1478.1V916.8H1480V918.7H1481.9V919.8H1483.8V918.6H1485.7V923.6H1487.6V921.9H1489.5V913.5H1491.4V922.1H1493.3V923.6H1495.2V919.9H1497.1V914.6H1499V920.4H1500.9V919.8H1502.8V920.4H1504.7V920.8H1506.6V911.7H1508.5V918.3H1510.4V920.7H1512.3V918H1514.2V920.6H1516.1V917.5H1518V915.7H1519.9V918.6H1521.8V919.6H1523.7V917.2H1525.6V920.1H1527.5V918.3H1529.4V918.8H1531.3V907.2H1533.2V919.1H1535.1V920.4H1537V916.9H1538.9V918.5H1540.8V917.2H1542.6V917.1H1544.5V919H1546.4V918.7H1548.3V916.6H1552.1V920.3H1554V911.8H1555.9V917.5H1557.8V917.4H1559.7V919.4H1561.6V920.2H1563.5V917.1H1565.4V916.7H1567.3V923.6H1571.1V922H1573V919.5H1574.9V920.6H1576.8V920.3H1578.7V921H1580.6V917.4H1582.5V916.5H1584.4V918.5H1586.3V917.1H1588.2V919.7H1590.1V919.1H1592V919.3H1593.9V923.6H1595.8V921.7H1597.7V920.1H1599.6V919.3H1601.5V920.3H1603.4V920.8H1605.3V919.6H1607.2V918.2H1609.1V920.2H1611V914.6H1612.9V919.7H1614.8V920.5H1616.7V921.4H1618.6V921.7H1620.5V919.7H1622.4V921.1H1624.2V919.2H1626.1V920.4H1628V917.5H1629.9V919.9H1631.8V914.3H1633.7V917.9H1635.6V923.6H1643.2V921.1H1645.1V920.2H1647V917.7H1648.9V920.5H1650.8V923.6H1656.5V922.8H1658.4V910.7H1660.3V919.4H1662.2V920.6H1664.1V921H1666V923.6H1686.9V920.5H1688.8V918.7H1690.7V917.9H1692.6V917.4H1694.5V920.2H1696.4V914.6H1698.3V917.1H1700.2V918.2H1702.1V918.8H1704V923.6H1711.5V920.8H1713.4V921.1H1715.3V919.3H1717.2V918.4H1719.1V920.2H1721V923.6H1722.9V919.8H1724.8V918.8H1726.7V919.5H1728.6V918.9H1730.5V920.2H1732.4V918.7H1734.3V919.9H1736.2V920.5H1741.9V919H1743.8V906.9H1745.7V921H1747.6V895.4H1749.5V922.9H1751.4V920.5H1753.3V923.6H1755.2V923.3H1757.1V913.2H1759V919.6H1760.9V920.3H1762.8V918.7H1764.7V898.6H1766.6V916.9H1768.5V913.7H1770.4V917.6H1772.3V923.6H1825.4H1825.4V923.6Z" fill="#fb9608"/>
<path d="M1421.2,961.6V961.6H1425V961.5H1426.9V961.2H1428.8V960.3H1430.7V958.5H1432.6V955.6H1434.5V955.7H1436.4V951.4H1438.3V956.2H1440.2V960.2H1442.1V961.2H1444V961.5H1445.9V961.6H1466.7V961.3H1468.6V961.6H1483.8V961.4H1485.7V961.5H1487.6V961.6H1538.9V961.3H1540.8V961.1H1542.6V960.4H1544.5V958.9H1546.4V957.7H1548.3V954.3H1550.2V954.4H1552.1V954.2H1554V954.6H1555.9V947.3H1557.8V953.7H1559.7V959.6H1561.6V956.5H1567.3V954.3H1569.2V951.9H1571.1V955.2H1573V958.7H1574.9V961H1576.8V961.5H1578.7V961.6H1595.8V961.4H1597.7V961.6H1601.5V961.4H1605.3V961.5H1607.2V961.6H1609.1V961.4H1611V961.5H1612.9V961.6H1628V961.4H1629.9V961.2H1631.8V961.6H1700.2V961.4H1702.1V961.6H1721V961.5H1722.9V961.3H1724.8V960.5H1726.7V958.2H1728.6V958.4H1732.4V960.5H1734.3V961.3H1736.2V961.5H1738.1V961.6H1745.7V961.5H1747.6V961.4H1749.5V961.3H1751.4V960.6H1753.3V960H1755.2V960.7H1757.1V961.4H1759V961.6H1764.7V961.5H1766.6V961.3H1768.5V961.5H1770.4V961.1H1772.3V959.9H1774.2V956.9H1779.9V960H1781.8V961.1H1783.7V961.5H1785.5V961.6H1825.4H1825.4V961.6Z" fill="#e100ff"/>
<path d="M1421.2,999.4V999.4H1483.8V999.2H1487.6V999.4H1489.5V999.1H1491.4V999.3H1493.3V999.2H1495.2V999.1H1497.1V999.4H1500.9V999.3H1504.7V999.1H1506.6V999.4H1535.1V999.3H1537V999.2H1538.9V999H1540.8V998.6H1542.6V998H1544.5V997.2H1546.4V995.6H1552.1V995.2H1554V992.1H1555.9V994.7H1557.8V997.9H1559.7V998.6H1561.6V992.1H1563.5V984.6H1565.4V993.2H1567.3V982.9H1569.2V979.7H1571.1V990H1573V989.3H1574.9V993H1576.8V997.9H1578.7V999.2H1580.6V999.4H1586.3V999.3H1588.2V999.2H1592V999.4H1597.7V999.2H1599.6V999.1H1601.5V999.4H1611V999.3H1616.7V999.2H1618.6V999.4H1639.4V999.3H1647V999.1H1650.8V999.4H1658.4V999.1H1662.2V999.3H1664.1V999.4H1685V999.3H1690.7V999.4H1709.6V999.1H1711.5V999.2H1713.4V999.4H1751.4V999.1H1753.3V999.2H1755.2V999.4H1757.1V999.2H1760.9V999.3H1762.8V999.4H1768.5V999.3H1770.4V998.6H1772.3V993.6H1774.2V980.5H1776.1V972.9H1778V982.7H1779.9V989.3H1781.8V995.9H1783.7V998.4H1785.5V999.1H1787.4V999H1789.3V999.4H1800.7V999.3H1802.6V999.4H1825.4H1825.4V999.4Z" fill="#fb9608"/>
<path d="M1421.2,1037.6V1037.4H1423.1V1037.2H1425V1037.5H1426.9V1037.4H1428.8V1037.1H1430.7V1036.5H1432.6V1035.7H1434.5V1034.4H1436.4V1034.3H1440.2V1035.6H1442.1V1036.3H1444V1036.7H1445.9V1037.2H1447.8V1037.4H1449.7V1037.5H1451.6V1037.3H1453.5V1037.6H1457.3V1037.5H1459.2V1036.6H1461.1V1037.6H1474.3V1037H1476.2V1036.6H1478.1V1036.5H1480V1036.4H1481.9V1037H1483.8V1036.1H1485.7V1035.1H1487.6V1033.7H1489.5V1033.6H1493.3V1035.1H1495.2V1036.3H1497.1V1036.9H1499V1037.1H1500.9V1036.3H1502.8V1037.1H1504.7V1037.6H1510.4V1036.4H1512.3V1036.5H1514.2V1037.2H1516.1V1036.3H1518V1037.6H1527.5V1037.5H1529.4V1037.6H1531.3V1036.3H1533.2V1037.1H1535.1V1037.6H1540.8V1037.5H1542.6V1037H1544.5V1035.2H1546.4V1030.8H1548.3V1028.6H1550.2V1028.8H1552.1V1028.7H1554V1034.2H1555.9V1036.7H1557.8V1037.5H1559.7V1037.1H1561.6V1035.9H1563.5V1032.7H1567.3V1032.5H1569.2V1028.6H1573V1029H1574.9V1032.8H1576.8V1032.6H1578.7V1032.9H1580.6V1035.7H1582.5V1037.1H1584.4V1037.5H1586.3V1037.6H1593.9V1037.2H1595.8V1037.1H1597.7V1037.4H1599.6V1037.2H1601.5V1036.7H1603.4V1035.9H1605.3V1036.6H1607.2V1036.1H1609.1V1037H1611V1037.6H1626.1V1036.4H1628V1036.1H1629.9V1036.6H1631.8V1036.2H1633.7V1035.9H1635.6V1036.9H1637.5V1037.2H1639.4V1037.4H1641.3V1036.8H1643.2V1037.6H1658.4V1036.6H1660.3V1035.9H1662.2V1036.6H1664.1V1036H1666V1036.9H1669.8V1036.6H1671.7V1036.1H1673.6V1035.2H1675.5V1034.3H1677.4V1034.4H1679.3V1034.3H1681.2V1034.2H1685V1033.6H1686.9V1033.5H1688.8V1033.6H1690.7V1036.1H1692.6V1037.2H1694.5V1037.4H1696.4V1037.5H1698.3V1037.2H1700.2V1036.7H1702.1V1036.2H1704V1036.1H1705.8V1034.9H1707.7V1035H1709.6V1034.9H1711.5V1035.9H1713.4V1036.7H1715.3V1037.2H1717.2V1037.4H1719.1V1037H1721V1036.7H1724.8V1037H1726.7V1037.6H1736.2V1036.4H1738.1V1036.2H1740V1036.5H1741.9V1037.1H1743.8V1037.6H1749.5V1036.4H1751.4V1036.3H1753.3V1035.8H1755.2V1037.6H1760.9V1037.5H1764.7V1037H1766.6V1036.2H1770.4V1036H1772.3V1036.8H1774.2V1036.2H1776.1V1036H1778V1035H1785.5V1034.9H1787.4V1035.1H1789.3V1034.9H1791.2V1036.2H1793.1V1036.4H1795V1036.7H1796.9V1037H1798.8V1037.2H1800.7V1037.3H1802.6V1037.4H1804.5V1037.5H1808.3V1037.6H1815.9V1036.7H1817.8V1037.6H1825.4H1825.4V1037.6Z" fill="#e100ff"/>
<path d="M1421.2,1075.5V1075H1423.1V1075.5H1430.7V1074.8H1432.6V1075.5H1442.1V1074.6H1447.8V1074.9H1449.7V1074.7H1451.6V1074.9H1453.5V1075.3H1455.4V1075.5H1464.8V1075.4H1466.7V1075.1H1468.6V1074.7H1470.5V1075.1H1472.4V1075.5H1476.2V1075.4H1478.1V1075.3H1480V1075H1481.9V1074.5H1483.8V1074.1H1485.7V1072.9H1487.6V1072.8H1489.5V1073H1491.4V1072.9H1493.3V1072.8H1495.2V1074.2H1497.1V1074.7H1499V1075H1500.9V1075.2H1502.8V1075.4H1504.7V1075.5H1506.6V1075.4H1508.5V1075.5H1529.4V1074.7H1531.3V1075.5H1538.9V1075.4H1540.8V1075.1H1542.6V1074.2H1544.5V1071.1H1546.4V1065.5H1548.3V1065.9H1550.2V1065.4H1552.1V1069.8H1554V1066.2H1555.9V1070.1H1557.8V1074H1559.7V1074.9H1561.6V1073.1H1563.5V1068.9H1565.4V1069.1H1567.3V1067.2H1569.2V1062.4H1571.1V1067.3H1573V1069.6H1574.9V1069.8H1576.8V1073.5H1578.7V1074.9H1580.6V1074.6H1582.5V1074.5H1584.4V1074.7H1586.3V1075.2H1588.2V1075.4H1590.1V1074.5H1592V1075.5H1618.6V1075.3H1620.5V1075H1622.4V1075.2H1624.2V1074.6H1626.1V1075.5H1629.9V1074.8H1633.7V1074.6H1635.6V1074.8H1637.5V1074.4H1639.4V1075.5H1656.5V1075.4H1660.3V1075.3H1662.2V1074.8H1664.1V1075H1666V1074.7H1667.9V1074.3H1669.8V1073.8H1671.7V1073.7H1673.6V1072.3H1679.3V1072.2H1681.2V1072.3H1683.1V1072.2H1685V1071H1690.7V1073.4H1692.6V1074.4H1694.5V1074.9H1696.4V1075.2H1698.3V1075.3H1700.2V1075.4H1704V1075.5H1707.7V1075.3H1709.6V1075.2H1711.5V1075.5H1730.5V1074.7H1732.4V1074.9H1734.3V1074.8H1736.2V1074.4H1740V1074.7H1741.9V1075.2H1743.8V1075.3H1745.7V1074.9H1747.6V1074.6H1749.5V1074.7H1751.4V1074.8H1753.3V1075.2H1755.2V1075H1757.1V1075.3H1759V1075H1760.9V1075.2H1762.8V1075.1H1764.7V1074.7H1766.6V1072.8H1768.5V1067.1H1770.4V1067.6H1772.3V1067.2H1774.2V1063.6H1776.1V1052.8H1778V1062H1779.9V1067.1H1781.8V1072.4H1783.7V1074.8H1785.5V1075.3H1787.4V1074.1H1789.3V1070.7H1791.2V1067.3H1793.1V1070.5H1795V1073.2H1796.9V1068.7H1798.8V1069.1H1802.6V1070.7H1804.5V1070.6H1806.4V1070.7H1808.3V1073.2H1810.2V1074.4H1812.1V1075.2H1814V1074.9H1815.9V1075H1817.8V1074.4H1819.7V1075H1821.6V1075.5H1823.5V1075.3H1825.4H1825.4V1075.5Z" fill="#fb9608"/>
<path d="M1421.2,1113.6V1091.4H1423.1V1091.2H1425V1113.6H1426.9V1092.2H1428.8V1093.8H1430.7V1113.6H1432.6V1092.5H1434.5V1091.7H1436.4V1113.6H1438.3V1091.4H1440.2V1091.6H1442.1V1091.2H1444V1113.6H1449.7V1090.9H1451.6V1092.4H1453.5V1091.1H1455.4V1113.6H1459.2V1090.5H1461.1V1090.8H1462.9V1113.6H1468.6V1091.4H1470.5V1091.2H1472.4V1113.6H1476.2V1092.1H1478.1V1091.1H1480V1113.6H1483.8V1091.5H1485.7V1092.4H1487.6V1113.6H1493.3V1091.6H1495.2V1113.6H1497.1V1092.4H1499V1091.5H1500.9V1113.6H1506.6V1090.3H1508.5V1113.6H1510.4V1092H1512.3V1092.3H1514.2V1090.7H1516.1V1113.6H1523.7V1092.2H1525.6V1092.3H1527.5V1091.4H1529.4V1113.6H1537V1090.5H1538.9V1090.3H1540.8V1113.6H1544.5V1104.3H1546.4V1105.8H1548.3V1107.4H1550.2V1113.6H1555.9V1110.2H1557.8V1110.9H1559.7V1113.6H1561.6V1113.5H1563.5V1110.1H1565.4V1113.6H1573V1101.2H1574.9V1098.5H1576.8V1113.6H1578.7V1094.1H1580.6V1113.6H1586.3V1091.3H1588.2V1113.6H1592V1091.4H1593.9V1090.2H1595.8V1091H1597.7V1113.6H1599.6V1091.4H1601.5V1091.2H1603.4V1091.6H1605.3V1113.6H1612.9V1091.9H1614.8V1113.6H1622.4V1091.9H1624.2V1113.6H1629.9V1090.9H1631.8V1113.6H1635.6V1091.4H1637.5V1092.3H1639.4V1113.6H1641.3V1092.3H1643.2V1091.6H1645.1V1090.7H1647V1113.6H1648.9V1092.1H1650.8V1113.6H1652.7V1091.3H1654.6V1091.4H1656.5V1091.6H1658.4V1113.6H1666V1092.3H1667.9V1091.9H1669.8V1090.8H1671.7V1113.6H1673.6V1092.1H1675.5V1113.6H1677.4V1090.9H1679.3V1092.2H1681.2V1113.6H1683.1V1090.5H1685V1092H1686.9V1113.6H1692.6V1092.2H1694.5V1092.1H1696.4V1113.6H1704V1090H1705.8V1091.1H1707.7V1092H1709.6V1113.6H1717.2V1090.3H1719.1V1113.6H1724.8V1091H1726.7V1091.4H1728.6V1113.6H1736.2V1092.2H1738.1V1090.9H1740V1091.4H1741.9V1113.6H1743.8V1091.5H1745.7V1091.7H1747.6V1090.5H1749.5V1113.6H1757.1V1091.2H1759V1091.1H1760.9V1091H1762.8V1113.6H1764.7V1102.5H1766.6V1091.1H1768.5V1090.3H1770.4V1113.6H1772.3V1098.3H1774.2V1113.6H1789.3V1096.5H1791.2V1113.6H1804.5V1091.9H1806.4V1091.5H1808.3V1092.1H1810.2V1113.6H1812.1V1092.2H1814V1091.5H1815.9V1093H1817.8V1113.6H1821.6V1091.2H1823.5V1113.6H1825.4H1825.4V1113.6Z" fill="#e100ff"/>
<path d="M1421.2,1151.4V1128.8H1423.1V1129.2H1425V1129H1426.9V1151.4H1432.6V1130.7H1434.5V1151.4H1438.3V1129.9H1440.2V1151.4H1447.8V1142.1H1449.7V1128.7H1451.6V1130.6H1453.5V1151.4H1457.3V1130.5H1459.2V1128.5H1461.1V1131.6H1462.9V1151.4H1468.6V1129.1H1470.5V1128.7H1472.4V1151.4H1476.2V1128.3H1478.1V1129.5H1480V1129.8H1481.9V1151.4H1487.6V1130.4H1489.5V1151.4H1493.3V1129.9H1495.2V1128.1H1497.1V1129.1H1499V1151.4H1504.7V1129.2H1506.6V1128.4H1508.5V1129.1H1510.4V1151.4H1518V1128.5H1519.9V1151.4H1523.7V1129.3H1525.6V1130.1H1527.5V1129.7H1529.4V1151.4H1537V1129.1H1538.9V1151.4H1546.4V1144H1548.3V1151.4H1550.2V1140.4H1552.1V1142H1554V1151.4H1555.9V1146.2H1557.8V1147.7H1559.7V1151.4H1561.6V1149.2H1563.5V1151.4H1567.3V1147.4H1569.2V1147.2H1571.1V1151.4H1578.7V1135.4H1580.6V1132.8H1582.5V1151.4H1590.1V1128H1592V1151.4H1593.9V1128.2H1595.8V1151.4H1597.7V1129.2H1599.6V1151.4H1603.4V1129.2H1605.3V1151.4H1607.2V1129.7H1609.1V1128.3H1611V1151.4H1612.9V1128.2H1614.8V1151.4H1616.7V1129.3H1618.6V1128.9H1620.5V1128.7H1622.4V1151.4H1629.9V1129.6H1631.8V1151.4H1633.7V1128.3H1635.6V1129H1637.5V1130H1639.4V1151.4H1645.1V1128.6H1647V1129.4H1648.9V1151.4H1652.7V1129.7H1654.6V1128.2H1656.5V1129.6H1658.4V1151.4H1662.2V1128.7H1664.1V1151.4H1666V1129.1H1667.9V1151.4H1671.7V1130.3H1673.6V1128.4H1675.5V1151.4H1679.3V1129.2H1681.2V1129H1683.1V1130.2H1685V1151.4H1688.8V1129.2H1690.7V1151.4H1696.4V1129.1H1698.3V1130.3H1700.2V1128.7H1702.1V1151.4H1707.7V1130.5H1709.6V1151.4H1713.4V1129.3H1715.3V1151.4H1721V1129.7H1722.9V1151.4H1728.6V1129.5H1730.5V1128.7H1732.4V1151.4H1738.1V1129.3H1740V1129.2H1741.9V1151.4H1743.8V1130.4H1745.7V1130H1747.6V1151.4H1753.3V1130.2H1755.2V1130H1757.1V1151.4H1759V1130.5H1760.9V1130.7H1762.8V1151.4H1770.4V1134.8H1772.3V1151.4H1778V1147.8H1779.9V1147.3H1781.8V1151.4H1789.3V1143H1791.2V1143.3H1793.1V1151.4H1802.6V1138.3H1804.5V1151.4H1812.1V1130.5H1814V1132.9H1815.9V1151.4H1817.8V1132.6H1819.7V1151.4H1821.6V1133.9H1823.5V1151.4H1825.4H1825.4V1151.4Z" fill="#fb9608"/>
<line x1="1421.2" y1="886.3" x2="1825.4" y2="886.3" stroke="#333" stroke-width="1" />
<text x="1420.6" y="861.7" font-size="10.4">0-20</text>
<line x1="1421.2" y1="923.6" x2="1825.4" y2="923.6" stroke="#333" stroke-width="1" />
<text x="1420.6" y="899" font-size="10.4">0-20</text>
<line x1="1421.2" y1="961.6" x2="1825.4" y2="961.6" stroke="#333" stroke-width="1" />
<text x="1420.6" y="937" font-size="10.4">0-150</text>
<line x1="1421.2" y1="999.4" x2="1825.4" y2="999.4" stroke="#333" stroke-width="1" />
<text x="1420.6" y="974.8" font-size="10.4">0-150</text>
<line x1="1421.2" y1="1037.6" x2="1825.4" y2="1037.6" stroke="#333" stroke-width="1" />
<text x="1420.6" y="1013" font-size="10.4">0-80</text>
<line x1="1421.2" y1="1075.5" x2="1825.4" y2="1075.5" stroke="#333" stroke-width="1" />
<text x="1420.6" y="1050.9" font-size="10.4">0-80</text>
<line x1="1421.2" y1="1113.6" x2="1825.4" y2="1113.6" stroke="#333" stroke-width="1" />
<text x="1420.6" y="1089" font-size="10.4">0-100</text>
<line x1="1421.2" y1="1151.4" x2="1825.4" y2="1151.4" stroke="#333" stroke-width="1" />
<text x="1420.6" y="1126.8" font-size="10.4">0-100</text>
<text x="1807.4" y="845.3" font-size="15" text-anchor="middle">2 Kb</text>
<line x1="1788.3" y1="850" x2="1825.4" y2="850" stroke="#000" stroke-width="1.8" />
<rect x="1768.8" y="923.9" width="18.7" height="75.2" fill="none" stroke="#222" stroke-width="1.5"/>
<rect x="1768.8" y="999.7" width="40.7" height="75.5" fill="none" stroke="#444" stroke-width="1.3"/>
<rect x="1770.7" y="1075.8" width="9.6" height="75.3" fill="none" stroke="#000" stroke-width="1.9"/>
<rect x="1799.9" y="1075.8" width="8.7" height="75.3" fill="none" stroke="#333" stroke-width="1.3"/>
<line x1="1451.4" y1="1164" x2="1773.7" y2="1164" stroke="#000" stroke-width="1" />
<line x1="1488.8" y1="1158.2" x2="1488.8" y2="1169.8" stroke="#000" stroke-width="1.3" />
<line x1="1507.7" y1="1158.2" x2="1507.7" y2="1169.8" stroke="#000" stroke-width="1.3" />
<line x1="1531.9" y1="1158.2" x2="1531.9" y2="1169.8" stroke="#000" stroke-width="1.3" />
<line x1="1553.3" y1="1158.2" x2="1553.3" y2="1169.8" stroke="#000" stroke-width="1.3" />
<line x1="1610.8" y1="1158.2" x2="1610.8" y2="1169.8" stroke="#000" stroke-width="1.3" />
<line x1="1632.2" y1="1158.2" x2="1632.2" y2="1169.8" stroke="#000" stroke-width="1.3" />
<line x1="1657.8" y1="1158.2" x2="1657.8" y2="1169.8" stroke="#000" stroke-width="1.3" />
<line x1="1698.7" y1="1158.2" x2="1698.7" y2="1169.8" stroke="#000" stroke-width="1.3" />
<line x1="1747.6" y1="1158.2" x2="1747.6" y2="1169.8" stroke="#000" stroke-width="1.3" />
<line x1="1766.9" y1="1158.2" x2="1766.9" y2="1169.8" stroke="#000" stroke-width="1.3" />
<line x1="1772.9" y1="1158.2" x2="1772.9" y2="1169.8" stroke="#000" stroke-width="1.3" />
<rect x="1451.4" y="1158.8" width="7.7" height="10.4" fill="#000"/>
<path d="M1478.8,1162.4 l-2.2,1.6 l2.2,1.6" fill="none" stroke="#000" stroke-width="0.7"/>
<path d="M1526.6,1162.4 l-2.2,1.6 l2.2,1.6" fill="none" stroke="#000" stroke-width="0.7"/>
<path d="M1550.2,1162.4 l-2.2,1.6 l2.2,1.6" fill="none" stroke="#000" stroke-width="0.7"/>
<path d="M1573.3,1162.4 l-2.2,1.6 l2.2,1.6" fill="none" stroke="#000" stroke-width="0.7"/>
<path d="M1604.4,1162.4 l-2.2,1.6 l2.2,1.6" fill="none" stroke="#000" stroke-width="0.7"/>
<path d="M1631.3,1162.4 l-2.2,1.6 l2.2,1.6" fill="none" stroke="#000" stroke-width="0.7"/>
<path d="M1652.5,1162.4 l-2.2,1.6 l2.2,1.6" fill="none" stroke="#000" stroke-width="0.7"/>
<path d="M1678,1162.4 l-2.2,1.6 l2.2,1.6" fill="none" stroke="#000" stroke-width="0.7"/>
<path d="M1717,1162.4 l-2.2,1.6 l2.2,1.6" fill="none" stroke="#000" stroke-width="0.7"/>
<text x="1627" y="1192" font-size="22" text-anchor="middle" font-style="italic">Tdo2</text>
<rect x="1830.6" y="1000.2" width="22.8" height="150.6" fill="#fafafa"/>
<path d="M1833,1075 V1038 H1836.5 V1058.5 H1840.5 V1060 H1847.5 V1075Z" fill="#e100ff"/>
<line x1="1832" y1="1076" x2="1853" y2="1076" stroke="#777" stroke-width="1.2" />
<path d="M1832,1150 V1148.5 H1839.5 V1143.5 H1844.5 V1139.5 H1848 V1150Z" fill="#fb9608"/>
<rect x="1830.6" y="1000.2" width="22.6" height="150.6" fill="none" stroke="#000" stroke-width="2"/>
<line x1="1780.3" y1="1075.5" x2="1830.6" y2="1000.2" stroke="#000" stroke-width="1.8" stroke-dasharray="2 1.6"/>
<text x="-0.6" y="1288.7" font-size="45" font-weight="bold" stroke="#000" stroke-width="0.5">F</text>
<text x="451.5" y="1294.7" font-size="28.5" text-anchor="middle">DEGs upregulated in CA1</text>
<rect x="478.5" y="1320.9" width="127.8" height="11.2" fill="#c77dff" stroke="#000" stroke-width="1.6"/>
<line x1="472" y1="1326.5" x2="478.5" y2="1326.5" stroke="#000" stroke-width="1.6" />
<text x="468.8" y="1331.7" font-size="15.25" text-anchor="end">Transmembrane signaling receptor activity</text>
<rect x="478.5" y="1342.1" width="114.2" height="11.2" fill="#c77dff" stroke="#000" stroke-width="1.6"/>
<line x1="472" y1="1347.7" x2="478.5" y2="1347.7" stroke="#000" stroke-width="1.6" />
<text x="468.8" y="1352.9" font-size="15.25" text-anchor="end">Signaling receptor activity</text>
<rect x="478.5" y="1363.3" width="114.2" height="11.2" fill="#c77dff" stroke="#000" stroke-width="1.6"/>
<line x1="472" y1="1368.9" x2="478.5" y2="1368.9" stroke="#000" stroke-width="1.6" />
<text x="468.8" y="1374.1" font-size="15.25" text-anchor="end">Molecular transducer activity</text>
<rect x="478.5" y="1384.5" width="92" height="11.2" fill="#c77dff" stroke="#000" stroke-width="1.6"/>
<line x1="472" y1="1390.1" x2="478.5" y2="1390.1" stroke="#000" stroke-width="1.6" />
<text x="468.8" y="1395.3" font-size="15.25" text-anchor="end" font-weight="bold">GPCR activity</text>
<rect x="478.5" y="1405.7" width="33.4" height="11.2" fill="#c77dff" stroke="#000" stroke-width="1.6"/>
<line x1="472" y1="1411.3" x2="478.5" y2="1411.3" stroke="#000" stroke-width="1.6" />
<text x="468.8" y="1416.5" font-size="15.25" text-anchor="end" font-weight="bold">G protein-coupled amine receptor activity</text>
<rect x="478.5" y="1426.9" width="279.9" height="11.2" fill="#c77dff" stroke="#000" stroke-width="1.6"/>
<line x1="472" y1="1432.5" x2="478.5" y2="1432.5" stroke="#000" stroke-width="1.6" />
<text x="468.8" y="1437.7" font-size="15.25" text-anchor="end">Cell periphery</text>
<rect x="478.5" y="1448.1" width="215.5" height="11.2" fill="#c77dff" stroke="#000" stroke-width="1.6"/>
<line x1="472" y1="1453.7" x2="478.5" y2="1453.7" stroke="#000" stroke-width="1.6" />
<text x="468.8" y="1458.9" font-size="15.25" text-anchor="end">Plasma membrane</text>
<rect x="478.5" y="1469.3" width="52.3" height="11.2" fill="#c77dff" stroke="#000" stroke-width="1.6"/>
<line x1="472" y1="1474.9" x2="478.5" y2="1474.9" stroke="#000" stroke-width="1.6" />
<text x="468.8" y="1480.1" font-size="15.25" text-anchor="end">Cell junction</text>
<rect x="478.5" y="1490.5" width="25.1" height="11.2" fill="#c77dff" stroke="#000" stroke-width="1.6"/>
<line x1="472" y1="1496.1" x2="478.5" y2="1496.1" stroke="#000" stroke-width="1.6" />
<text x="468.8" y="1501.3" font-size="15.25" text-anchor="end">Synapse</text>
<rect x="478.5" y="1511.7" width="173.8" height="11.2" fill="#c77dff" stroke="#000" stroke-width="1.6"/>
<line x1="472" y1="1517.3" x2="478.5" y2="1517.3" stroke="#000" stroke-width="1.6" />
<text x="468.8" y="1522.5" font-size="15.25" text-anchor="end">Neuroactive ligand-receptor interaction</text>
<rect x="478.5" y="1532.9" width="51.8" height="11.2" fill="#c77dff" stroke="#000" stroke-width="1.6"/>
<line x1="472" y1="1538.5" x2="478.5" y2="1538.5" stroke="#000" stroke-width="1.6" />
<text x="468.8" y="1543.7" font-size="15.25" text-anchor="end">Calcium signaling pathway</text>
<rect x="478.5" y="1554.1" width="42.1" height="11.2" fill="#c77dff" stroke="#000" stroke-width="1.6"/>
<line x1="472" y1="1559.7" x2="478.5" y2="1559.7" stroke="#000" stroke-width="1.6" />
<text x="468.8" y="1564.9" font-size="15.25" text-anchor="end">Serotonergic synapse</text>
<rect x="478.5" y="1575.3" width="40.1" height="11.2" fill="#c77dff" stroke="#000" stroke-width="1.6"/>
<line x1="472" y1="1580.9" x2="478.5" y2="1580.9" stroke="#000" stroke-width="1.6" />
<text x="468.8" y="1586.1" font-size="15.25" text-anchor="end">Cholinergic synapse</text>
<rect x="478.5" y="1596.5" width="109.4" height="11.2" fill="#c77dff" stroke="#000" stroke-width="1.6"/>
<line x1="472" y1="1602.1" x2="478.5" y2="1602.1" stroke="#000" stroke-width="1.6" />
<text x="468.8" y="1607.3" font-size="15.25" text-anchor="end" font-weight="bold">Signaling by GPCR</text>
<rect x="478.5" y="1617.7" width="105" height="11.2" fill="#c77dff" stroke="#000" stroke-width="1.6"/>
<line x1="472" y1="1623.3" x2="478.5" y2="1623.3" stroke="#000" stroke-width="1.6" />
<text x="468.8" y="1628.5" font-size="15.25" text-anchor="end" font-weight="bold">GPCR ligand binding</text>
<rect x="478.5" y="1638.9" width="76.9" height="11.2" fill="#c77dff" stroke="#000" stroke-width="1.6"/>
<line x1="472" y1="1644.5" x2="478.5" y2="1644.5" stroke="#000" stroke-width="1.6" />
<text x="468.8" y="1649.7" font-size="15.25" text-anchor="end" font-weight="bold">GPCR downstream signalling</text>
<rect x="478.5" y="1660.1" width="59.5" height="11.2" fill="#c77dff" stroke="#000" stroke-width="1.6"/>
<line x1="472" y1="1665.7" x2="478.5" y2="1665.7" stroke="#000" stroke-width="1.6" />
<text x="468.8" y="1670.9" font-size="15.25" text-anchor="end">Amine ligand-binding receptors</text>
<rect x="478.5" y="1681.3" width="51.3" height="11.2" fill="#c77dff" stroke="#000" stroke-width="1.6"/>
<line x1="472" y1="1686.9" x2="478.5" y2="1686.9" stroke="#000" stroke-width="1.6" />
<text x="468.8" y="1692.1" font-size="15.25" text-anchor="end" font-weight="bold">G alpha (q) signalling events</text>
<line x1="478.5" y1="1309.9" x2="478.5" y2="1701.5" stroke="#000" stroke-width="1.8" />
<line x1="161.3" y1="1310.8" x2="478.5" y2="1310.8" stroke="#000" stroke-width="1.8" />
<line x1="161.3" y1="1423" x2="478.5" y2="1423" stroke="#000" stroke-width="1.8" />
<line x1="161.3" y1="1507.2" x2="478.5" y2="1507.2" stroke="#000" stroke-width="1.8" />
<line x1="161.3" y1="1590.6" x2="478.5" y2="1590.6" stroke="#000" stroke-width="1.8" />
<line x1="161.3" y1="1700.6" x2="774.3" y2="1700.6" stroke="#000" stroke-width="1.8" />
<line x1="478.5" y1="1700.6" x2="478.5" y2="1707.1" stroke="#000" stroke-width="1.6" />
<text x="478.5" y="1723" font-size="13.5" text-anchor="middle">0</text>
<line x1="576.8" y1="1700.6" x2="576.8" y2="1707.1" stroke="#000" stroke-width="1.6" />
<text x="576.8" y="1723" font-size="13.5" text-anchor="middle">5</text>
<line x1="675.1" y1="1700.6" x2="675.1" y2="1707.1" stroke="#000" stroke-width="1.6" />
<text x="675.1" y="1723" font-size="13.5" text-anchor="middle">10</text>
<line x1="773.4" y1="1700.6" x2="773.4" y2="1707.1" stroke="#000" stroke-width="1.6" />
<text x="773.4" y="1723" font-size="13.5" text-anchor="middle">15</text>
<text x="129.8" y="1375" font-size="21.5" text-anchor="end">MF</text>
<text x="129.8" y="1474" font-size="21.5" text-anchor="end">CC</text>
<text x="129.8" y="1559" font-size="21.5" text-anchor="end">KEGG</text>
<text x="129.8" y="1653" font-size="21.5" text-anchor="end">Reactome</text>
<text x="625" y="1752" font-size="21.5" text-anchor="middle">-log<tspan dy="4" font-size="14">10</tspan><tspan dy="-4">padj</tspan></text>
<text x="1325.7" y="1294.7" font-size="28.5" text-anchor="middle">DEGs upregulated in DG</text>
<rect x="1367" y="1322" width="42.1" height="11.2" fill="#fbb032" stroke="#000" stroke-width="1.6"/>
<line x1="1360.5" y1="1327.6" x2="1367" y2="1327.6" stroke="#000" stroke-width="1.6" />
<text x="1357.3" y="1332.8" font-size="15.25" text-anchor="end" font-weight="bold">ECM structural constituent</text>
<rect x="1367" y="1343.2" width="34.5" height="11.2" fill="#fbb032" stroke="#000" stroke-width="1.6"/>
<line x1="1360.5" y1="1348.8" x2="1367" y2="1348.8" stroke="#000" stroke-width="1.6" />
<text x="1357.3" y="1354" font-size="15.25" text-anchor="end">Transmembrane signaling receptor activity</text>
<rect x="1367" y="1364.4" width="27.9" height="11.2" fill="#fbb032" stroke="#000" stroke-width="1.6"/>
<line x1="1360.5" y1="1370" x2="1367" y2="1370" stroke="#000" stroke-width="1.6" />
<text x="1357.3" y="1375.2" font-size="15.25" text-anchor="end">Calcium ion binding</text>
<rect x="1367" y="1385.6" width="20.8" height="11.2" fill="#fbb032" stroke="#000" stroke-width="1.6"/>
<line x1="1360.5" y1="1391.2" x2="1367" y2="1391.2" stroke="#000" stroke-width="1.6" />
<text x="1357.3" y="1396.4" font-size="15.25" text-anchor="end">Signaling receptor activity</text>
<rect x="1367" y="1406.8" width="20.8" height="11.2" fill="#fbb032" stroke="#000" stroke-width="1.6"/>
<line x1="1360.5" y1="1412.4" x2="1367" y2="1412.4" stroke="#000" stroke-width="1.6" />
<text x="1357.3" y="1417.6" font-size="15.25" text-anchor="end">Molecular transducer activity</text>
<rect x="1367" y="1428" width="272" height="11.2" fill="#fbb032" stroke="#000" stroke-width="1.6"/>
<line x1="1360.5" y1="1433.5" x2="1367" y2="1433.5" stroke="#000" stroke-width="1.6" />
<text x="1357.3" y="1438.8" font-size="15.25" text-anchor="end">Cell periphery</text>
<rect x="1367" y="1449.1" width="160.6" height="11.2" fill="#fbb032" stroke="#000" stroke-width="1.6"/>
<line x1="1360.5" y1="1454.7" x2="1367" y2="1454.7" stroke="#000" stroke-width="1.6" />
<text x="1357.3" y="1459.9" font-size="15.25" text-anchor="end" font-weight="bold">ECM</text>
<rect x="1367" y="1470.3" width="159.6" height="11.2" fill="#fbb032" stroke="#000" stroke-width="1.6"/>
<line x1="1360.5" y1="1475.9" x2="1367" y2="1475.9" stroke="#000" stroke-width="1.6" />
<text x="1357.3" y="1481.1" font-size="15.25" text-anchor="end">External encapsulating structure</text>
<rect x="1367" y="1491.5" width="129.6" height="11.2" fill="#fbb032" stroke="#000" stroke-width="1.6"/>
<line x1="1360.5" y1="1497.1" x2="1367" y2="1497.1" stroke="#000" stroke-width="1.6" />
<text x="1357.3" y="1502.3" font-size="15.25" text-anchor="end">Plasma membrane</text>
<rect x="1367" y="1512.7" width="54.3" height="11.2" fill="#fbb032" stroke="#000" stroke-width="1.6"/>
<line x1="1360.5" y1="1518.3" x2="1367" y2="1518.3" stroke="#000" stroke-width="1.6" />
<text x="1357.3" y="1523.5" font-size="15.25" text-anchor="end" font-weight="bold">ECM-receptor interaction</text>
<rect x="1367" y="1533.9" width="52.3" height="11.2" fill="#fbb032" stroke="#000" stroke-width="1.6"/>
<line x1="1360.5" y1="1539.5" x2="1367" y2="1539.5" stroke="#000" stroke-width="1.6" />
<text x="1357.3" y="1544.7" font-size="15.25" text-anchor="end">Focal adhesion</text>
<rect x="1367" y="1555.1" width="43.2" height="11.2" fill="#fbb032" stroke="#000" stroke-width="1.6"/>
<line x1="1360.5" y1="1560.7" x2="1367" y2="1560.7" stroke="#000" stroke-width="1.6" />
<text x="1357.3" y="1565.9" font-size="15.25" text-anchor="end">Cytokine-cytokine receptor interaction</text>
<rect x="1367" y="1576.3" width="26.9" height="11.2" fill="#fbb032" stroke="#000" stroke-width="1.6"/>
<line x1="1360.5" y1="1581.9" x2="1367" y2="1581.9" stroke="#000" stroke-width="1.6" />
<text x="1357.3" y="1587.1" font-size="15.25" text-anchor="end">Protein digestion and absorption</text>
<rect x="1367" y="1597.5" width="74.7" height="11.2" fill="#fbb032" stroke="#000" stroke-width="1.6"/>
<line x1="1360.5" y1="1603.1" x2="1367" y2="1603.1" stroke="#000" stroke-width="1.6" />
<text x="1357.3" y="1608.3" font-size="15.25" text-anchor="end" font-weight="bold">ECM organization</text>
<rect x="1367" y="1618.7" width="43.7" height="11.2" fill="#fbb032" stroke="#000" stroke-width="1.6"/>
<line x1="1360.5" y1="1624.3" x2="1367" y2="1624.3" stroke="#000" stroke-width="1.6" />
<text x="1357.3" y="1629.5" font-size="15.25" text-anchor="end">Diseases associated with O-glycosylation of proteins</text>
<rect x="1367" y="1639.8" width="37.6" height="11.2" fill="#fbb032" stroke="#000" stroke-width="1.6"/>
<line x1="1360.5" y1="1645.4" x2="1367" y2="1645.4" stroke="#000" stroke-width="1.6" />
<text x="1357.3" y="1650.6" font-size="15.25" text-anchor="end">Defective B3GALTL causes PpS</text>
<rect x="1367" y="1661" width="36" height="11.2" fill="#fbb032" stroke="#000" stroke-width="1.6"/>
<line x1="1360.5" y1="1666.6" x2="1367" y2="1666.6" stroke="#000" stroke-width="1.6" />
<text x="1357.3" y="1671.8" font-size="15.25" text-anchor="end">O-glycosylation of TSR domain-containing proteins</text>
<rect x="1367" y="1682.2" width="26.9" height="11.2" fill="#fbb032" stroke="#000" stroke-width="1.6"/>
<line x1="1360.5" y1="1687.8" x2="1367" y2="1687.8" stroke="#000" stroke-width="1.6" />
<text x="1357.3" y="1693" font-size="15.25" text-anchor="end" font-weight="bold">Degradation of the ECM</text>
<line x1="1367" y1="1309.9" x2="1367" y2="1701.5" stroke="#000" stroke-width="1.8" />
<line x1="998.3" y1="1310.8" x2="1367" y2="1310.8" stroke="#000" stroke-width="1.8" />
<line x1="998.3" y1="1423.7" x2="1367" y2="1423.7" stroke="#000" stroke-width="1.8" />
<line x1="998.3" y1="1507.3" x2="1367" y2="1507.3" stroke="#000" stroke-width="1.8" />
<line x1="998.3" y1="1591.6" x2="1367" y2="1591.6" stroke="#000" stroke-width="1.8" />
<line x1="998.3" y1="1700.6" x2="1662.7" y2="1700.6" stroke="#000" stroke-width="1.8" />
<line x1="1367" y1="1700.6" x2="1367" y2="1707.1" stroke="#000" stroke-width="1.6" />
<text x="1367" y="1723" font-size="13.5" text-anchor="middle">0</text>
<line x1="1426" y1="1700.6" x2="1426" y2="1707.1" stroke="#000" stroke-width="1.6" />
<text x="1426" y="1723" font-size="13.5" text-anchor="middle">5</text>
<line x1="1484.9" y1="1700.6" x2="1484.9" y2="1707.1" stroke="#000" stroke-width="1.6" />
<text x="1484.9" y="1723" font-size="13.5" text-anchor="middle">10</text>
<line x1="1543.9" y1="1700.6" x2="1543.9" y2="1707.1" stroke="#000" stroke-width="1.6" />
<text x="1543.9" y="1723" font-size="13.5" text-anchor="middle">15</text>
<line x1="1602.8" y1="1700.6" x2="1602.8" y2="1707.1" stroke="#000" stroke-width="1.6" />
<text x="1602.8" y="1723" font-size="13.5" text-anchor="middle">20</text>
<line x1="1661.8" y1="1700.6" x2="1661.8" y2="1707.1" stroke="#000" stroke-width="1.6" />
<text x="1661.8" y="1723" font-size="13.5" text-anchor="middle">25</text>
<text x="966.8" y="1375" font-size="21.5" text-anchor="end">MF</text>
<text x="966.8" y="1474" font-size="21.5" text-anchor="end">CC</text>
<text x="966.8" y="1559" font-size="21.5" text-anchor="end">KEGG</text>
<text x="966.8" y="1653" font-size="21.5" text-anchor="end">Reactome</text>
<text x="1514" y="1752" font-size="21.5" text-anchor="middle">-log<tspan dy="4" font-size="14">10</tspan><tspan dy="-4">padj</tspan></text>
<text x="-0.9" y="1833.4" font-size="45" font-weight="bold" stroke="#000" stroke-width="0.5">G</text>
<text x="0" y="2024.9" font-size="45" font-weight="bold" stroke="#000" stroke-width="0.5">I</text>
<text x="0.8" y="2212.3" font-size="45" font-weight="bold" stroke="#000" stroke-width="0.5">J</text>
<text x="-1" y="2378" font-size="45" font-weight="bold" stroke="#000" stroke-width="0.5">K</text>
<text x="255" y="1825.8" font-size="28.5" text-anchor="middle">CA1</text>
<text x="596.7" y="1825.8" font-size="28.5" text-anchor="middle">DG</text>
<text x="75.5" y="1904" font-size="30" text-anchor="middle" transform="rotate(-90 75.5 1904)" textLength="77.5" lengthAdjust="spacingAndGlyphs">ATAC</text>
<text x="75.5" y="2075" font-size="30" text-anchor="middle" transform="rotate(-90 75.5 2075)" textLength="119.5" lengthAdjust="spacingAndGlyphs">H3K27ac</text>
<text x="75.5" y="2243" font-size="30" text-anchor="middle" transform="rotate(-90 75.5 2243)" textLength="98.7" lengthAdjust="spacingAndGlyphs">CG met</text>
<text x="75.5" y="2415.5" font-size="30" text-anchor="middle" transform="rotate(-90 75.5 2415.5)" textLength="95.4" lengthAdjust="spacingAndGlyphs">CH met</text>
<text x="723.5" y="1854.5" font-size="16.5" text-anchor="end" fill="#7030a0" textLength="185.5" lengthAdjust="spacingAndGlyphs">DEGs upregulated in CA1</text>
<text x="725" y="1874.6" font-size="16.5" text-anchor="end" fill="#ed7d31" textLength="180" lengthAdjust="spacingAndGlyphs">DEGs upregulated in DG</text>
<clipPath id="c1141836"><rect x="114.3" y="1836.4" width="279.1" height="131.8"/></clipPath>
<polyline points="114.3,1956.7 115,1957.3 115.6,1957.1 116.3,1957.6 117,1957.1 117.6,1957.3 118.3,1957.1 119,1957.1 119.6,1956.5 120.3,1957.1 121,1956.9 121.6,1956.9 122.3,1956.6 123,1956.7 123.6,1956.7 124.3,1956.7 125,1956.5 125.6,1956.7 126.3,1957 127,1956.9 127.6,1956.6 128.3,1956.4 129,1956.9 129.6,1956.6 130.3,1956.7 131,1956.1 131.6,1956.7 132.3,1956.5 133,1956.4 133.6,1956.6 134.3,1956.1 134.9,1956.7 135.6,1956.3 136.3,1956.6 136.9,1956.7 137.6,1956.6 138.3,1956.4 138.9,1956.4 139.6,1956.3 140.3,1956.6 140.9,1956.9 141.6,1956.6 142.3,1956.7 142.9,1956.7 143.6,1956.1 144.3,1956.3 144.9,1956.6 145.6,1956.1 146.3,1956 146.9,1955.8 147.6,1955.2 148.3,1955.4 148.9,1955.3 149.6,1955 150.3,1955.3 150.9,1955.3 151.6,1954.9 152.3,1954.4 152.9,1954.8 153.6,1954.8 154.3,1953.7 154.9,1954.2 155.6,1954 156.3,1954 156.9,1953.3 157.6,1953.3 158.3,1952.9 158.9,1952.8 159.6,1953 160.3,1952.4 160.9,1952.3 161.6,1952.1 162.3,1951.6 162.9,1951.8 163.6,1952 164.3,1951.5 164.9,1950.9 165.6,1950.6 166.3,1951.1 166.9,1949.9 167.6,1950.7 168.3,1949.8 168.9,1949.9 169.6,1949.6 170.3,1949.4 170.9,1948.8 171.6,1947.6 172.3,1946.9 172.9,1947 173.6,1946 174.2,1945.4 174.9,1945.1 175.6,1944 176.2,1943.5 176.9,1942.5 177.6,1941 178.2,1939.3 178.9,1938.2 179.6,1936.7 180.2,1935.7 180.9,1935 181.6,1934.9 182.2,1933.9 182.9,1932.4 183.6,1929.8 184.2,1927.4 184.9,1924 185.6,1921 186.2,1913.7 186.9,1901.4 187.6,1884.9 188.2,1868.7 188.9,1854.3 189.6,1848.2 190.2,1852.3 190.9,1872.3 191.6,1898.7 192.2,1920.5 192.9,1932.6 193.6,1935 194.2,1938.3 194.9,1940.1 195.6,1942.3 196.2,1943.2 196.9,1943.7 197.6,1944.6 198.2,1945.2 198.9,1945.4 199.6,1946.6 200.2,1947.4 200.9,1947.3 201.6,1947.9 202.2,1948.1 202.9,1948.1 203.6,1948 204.2,1948.2 204.9,1948.4 205.6,1949.1 206.2,1949 206.9,1949.1 207.6,1949.5 208.2,1949.7 208.9,1950.1 209.6,1950.1 210.2,1950.5 210.9,1950.4 211.6,1950.2 212.2,1950.6 212.9,1951.1 213.6,1950.6 214.2,1950.9 214.9,1951 215.5,1951.2 216.2,1951.6 216.9,1951.4 217.5,1951.3 218.2,1951.2 218.9,1951.9 219.5,1951.6 220.2,1952.3 220.9,1952.1 221.5,1952.2 222.2,1952.4 222.9,1952.2 223.5,1952.1 224.2,1952.8 224.9,1952.5 225.5,1953 226.2,1952.9 226.9,1953.6 227.5,1953.2 228.2,1952.8 228.9,1953.2 229.5,1953.2 230.2,1953.3 230.9,1952.9 231.5,1954 232.2,1953.8 232.9,1953.7 233.5,1953.7 234.2,1954.2 234.9,1953.9 235.5,1954 236.2,1954.2 236.9,1954.4 237.5,1954.2 238.2,1954.4 238.9,1954.8 239.5,1954.7 240.2,1954.7 240.9,1954.6 241.5,1955 242.2,1954.7 242.9,1954.9 243.5,1955.1 244.2,1955.3 244.9,1955.6 245.5,1954.9 246.2,1955.2 246.9,1955.2 247.5,1955.5 248.2,1954.9 248.9,1955.2 249.5,1955.5 250.2,1955 250.9,1955.5 251.5,1955.9 252.2,1955.3 252.9,1955.9 253.5,1955.9 254.2,1955.4 254.8,1955.2 255.5,1955.1 256.2,1955.5 256.8,1955.9 257.5,1955.4 258.2,1955.2 258.8,1955.2 259.5,1955.7 260.2,1954.9 260.8,1955.5 261.5,1956 262.2,1956 262.8,1955.7 263.5,1955.9 264.2,1956.1 264.8,1955.7 265.5,1955.4 266.2,1955.8 266.8,1956 267.5,1955.8 268.2,1955.5 268.8,1955.9 269.5,1956 270.2,1956.4 270.8,1956.3 271.5,1955.9 272.2,1955.9 272.8,1955.9 273.5,1956.7 274.2,1956.3 274.8,1956.4 275.5,1956.8 276.2,1956.4 276.8,1956.2 277.5,1956.1 278.2,1956.8 278.8,1957.3 279.5,1956.4 280.2,1956.8 280.8,1956.9 281.5,1956.9 282.2,1956.9 282.8,1956.8 283.5,1957.4 284.2,1957.2 284.8,1957.2 285.5,1957.2 286.2,1957.7 286.8,1957.6 287.5,1957.3 288.2,1957.5 288.8,1958.1 289.5,1957.3 290.2,1957.7 290.8,1957.6 291.5,1957.5 292.2,1957.6 292.8,1958.2 293.5,1958.1 294.1,1958 294.8,1958.4 295.5,1958.4 296.1,1958.6 296.8,1958.3 297.5,1958.5 298.1,1958.4 298.8,1958 299.5,1958.7 300.1,1958.4 300.8,1958.6 301.5,1958.4 302.1,1958.6 302.8,1958.5 303.5,1958.7 304.1,1958.9 304.8,1959.1 305.5,1959.2 306.1,1958.6 306.8,1958.8 307.5,1958.2 308.1,1958.5 308.8,1958.6 309.5,1958.2 310.1,1958.9 310.8,1958.1 311.5,1958.1 312.1,1957.9 312.8,1958.4 313.5,1957.5 314.1,1958.6 314.8,1957.8 315.5,1958.1 316.1,1957.9 316.8,1958.2 317.5,1958.2 318.1,1958 318.8,1958 319.5,1957.9 320.1,1957.8 320.8,1957.3 321.5,1957.4 322.1,1957.2 322.8,1957.8 323.5,1957.3 324.1,1957.4 324.8,1957.3 325.5,1957.8 326.1,1957.3 326.8,1957.8 327.5,1957.3 328.1,1956.8 328.8,1956.8 329.5,1956.8 330.1,1957 330.8,1956.7 331.5,1957.1 332.1,1956.9 332.8,1957 333.5,1957.2 334.1,1956.8 334.8,1957.1 335.4,1956.4 336.1,1957 336.8,1956.5 337.4,1956.9 338.1,1956.7 338.8,1956.2 339.4,1956.3 340.1,1956.1 340.8,1956.6 341.4,1956.1 342.1,1956.2 342.8,1956 343.4,1956.1 344.1,1956.5 344.8,1956.7 345.4,1956.4 346.1,1956.8 346.8,1956.5 347.4,1955.9 348.1,1956.3 348.8,1956.4 349.4,1956.2 350.1,1956 350.8,1955.6 351.4,1956.1 352.1,1956.7 352.8,1956.7 353.4,1955.7 354.1,1955.8 354.8,1956.6 355.4,1956.2 356.1,1956.5 356.8,1955.9 357.4,1956.3 358.1,1956.4 358.8,1956.4 359.4,1956.7 360.1,1956.7 360.8,1956.8 361.4,1956.6 362.1,1957 362.8,1956.4 363.4,1957.2 364.1,1956.5 364.8,1956.5 365.4,1956.7 366.1,1957.6 366.8,1957.1 367.4,1957.4 368.1,1957.1 368.8,1957.4 369.4,1957.4 370.1,1957.5 370.8,1957.1 371.4,1957.4 372.1,1957.3 372.8,1957.3 373.4,1957.7 374.1,1957.4 374.7,1957.3 375.4,1957.9 376.1,1957.3 376.7,1957.7 377.4,1957.4 378.1,1957.9 378.7,1958.1 379.4,1958.2 380.1,1957.8 380.7,1957.2 381.4,1958 382.1,1957.9 382.7,1957.7 383.4,1957.3 384.1,1957.1 384.7,1957.1 385.4,1956.8 386.1,1957.2 386.7,1956.8 387.4,1956.6 388.1,1956.6 388.7,1956.7 389.4,1956.4 390.1,1956.7 390.7,1956.3 391.4,1956.5 392.1,1955.6 392.7,1955.8 393.4,1956" fill="none" stroke="#8e0f98" stroke-width="1.75" stroke-linejoin="round" clip-path="url(#c1141836)"/>
<polyline points="114.3,1961.3 115,1961 115.6,1961.3 116.3,1961.2 117,1961.3 117.6,1961.2 118.3,1961.1 119,1962 119.6,1961.1 120.3,1961 121,1961 121.6,1961 122.3,1960.8 123,1961.3 123.6,1961.1 124.3,1961 125,1961.5 125.6,1961.5 126.3,1961.4 127,1961.6 127.6,1961.4 128.3,1960.5 129,1961 129.6,1961.3 130.3,1960.9 131,1961.1 131.6,1961.2 132.3,1960.8 133,1961.2 133.6,1961.3 134.3,1961.3 134.9,1960.7 135.6,1961 136.3,1960.8 136.9,1960.7 137.6,1960.5 138.3,1960.5 138.9,1960.8 139.6,1960.3 140.3,1960.6 140.9,1960.6 141.6,1960.8 142.3,1960.4 142.9,1960.3 143.6,1960.3 144.3,1959.5 144.9,1959.6 145.6,1959.8 146.3,1959 146.9,1959.3 147.6,1959.3 148.3,1958.8 148.9,1958.6 149.6,1958.6 150.3,1958.5 150.9,1958.6 151.6,1958 152.3,1958.2 152.9,1958.2 153.6,1958 154.3,1958.3 154.9,1957.8 155.6,1957.7 156.3,1958.1 156.9,1957.7 157.6,1957.6 158.3,1957.3 158.9,1957.5 159.6,1957 160.3,1957.2 160.9,1957.2 161.6,1957.1 162.3,1957 162.9,1957.1 163.6,1956.7 164.3,1956.6 164.9,1956.5 165.6,1956.1 166.3,1956.5 166.9,1956.5 167.6,1955.8 168.3,1955.7 168.9,1956.3 169.6,1956.1 170.3,1955.6 170.9,1955.3 171.6,1954.6 172.3,1954.3 172.9,1953.4 173.6,1952.7 174.2,1952.5 174.9,1951.6 175.6,1950.7 176.2,1950 176.9,1948.2 177.6,1946 178.2,1943.5 178.9,1941.7 179.6,1940.8 180.2,1940.3 180.9,1940 181.6,1939 182.2,1937.2 182.9,1934.8 183.6,1932.6 184.2,1929.6 184.9,1926.9 185.6,1924.2 186.2,1918.5 186.9,1908.8 187.6,1895.8 188.2,1882.9 188.9,1871.7 189.6,1868.3 190.2,1872.8 190.9,1889.7 191.6,1913 192.2,1930.9 192.9,1941.1 193.6,1943.3 194.2,1945.1 194.9,1947.4 195.6,1948.9 196.2,1949.8 196.9,1950.4 197.6,1950.8 198.2,1951.8 198.9,1952.5 199.6,1953.5 200.2,1954.1 200.9,1954 201.6,1954.8 202.2,1955 202.9,1955.5 203.6,1955.3 204.2,1955.2 204.9,1955.9 205.6,1955.7 206.2,1955.7 206.9,1956 207.6,1955.8 208.2,1956.4 208.9,1956.4 209.6,1956.7 210.2,1956.5 210.9,1956.8 211.6,1956.9 212.2,1957.4 212.9,1956.9 213.6,1957.3 214.2,1958 214.9,1957.8 215.5,1957.5 216.2,1957.9 216.9,1958 217.5,1957.2 218.2,1957.5 218.9,1957.7 219.5,1957.6 220.2,1958.2 220.9,1958.2 221.5,1957.6 222.2,1958.1 222.9,1958 223.5,1957.4 224.2,1957.9 224.9,1958.2 225.5,1957.4 226.2,1957.6 226.9,1957.9 227.5,1958.3 228.2,1957.6 228.9,1958.2 229.5,1958.4 230.2,1959 230.9,1958.7 231.5,1958.7 232.2,1958.9 232.9,1958.6 233.5,1958.4 234.2,1959 234.9,1959.3 235.5,1959 236.2,1958.7 236.9,1959 237.5,1959 238.2,1959 238.9,1959.2 239.5,1959.2 240.2,1959.1 240.9,1959.5 241.5,1959.5 242.2,1959.6 242.9,1959.9 243.5,1959.8 244.2,1959.6 244.9,1959.8 245.5,1959.8 246.2,1960 246.9,1959.5 247.5,1959.7 248.2,1959.1 248.9,1959.3 249.5,1959.5 250.2,1959.6 250.9,1959.7 251.5,1959.7 252.2,1959.9 252.9,1959.6 253.5,1959.7 254.2,1959.5 254.8,1959.2 255.5,1959.5 256.2,1959.8 256.8,1959.9 257.5,1959.4 258.2,1959.4 258.8,1959.8 259.5,1960.4 260.2,1960.2 260.8,1960.1 261.5,1960.4 262.2,1959.4 262.8,1960 263.5,1959.7 264.2,1959.8 264.8,1959.9 265.5,1959.3 266.2,1959.8 266.8,1959.7 267.5,1960 268.2,1960 268.8,1959.9 269.5,1960 270.2,1959.5 270.8,1959.6 271.5,1959.8 272.2,1959.6 272.8,1959.5 273.5,1959.6 274.2,1959.7 274.8,1960.1 275.5,1959.7 276.2,1960 276.8,1960.2 277.5,1960.1 278.2,1960.2 278.8,1959.9 279.5,1960.4 280.2,1960.2 280.8,1960.2 281.5,1959.9 282.2,1960.6 282.8,1960.8 283.5,1960.5 284.2,1960.4 284.8,1960.5 285.5,1959.7 286.2,1959.7 286.8,1960.7 287.5,1960 288.2,1960.2 288.8,1960 289.5,1960 290.2,1960.2 290.8,1960.1 291.5,1959.7 292.2,1959.6 292.8,1960.1 293.5,1960.1 294.1,1959.5 294.8,1960.3 295.5,1960.6 296.1,1959.9 296.8,1960 297.5,1960 298.1,1960 298.8,1959.9 299.5,1960.5 300.1,1960.4 300.8,1960.2 301.5,1959.8 302.1,1960.2 302.8,1960.1 303.5,1960.2 304.1,1960.2 304.8,1960.7 305.5,1960.5 306.1,1961.2 306.8,1960.1 307.5,1960.9 308.1,1960.3 308.8,1960.3 309.5,1960.7 310.1,1960.9 310.8,1960.8 311.5,1960.3 312.1,1960.7 312.8,1960.3 313.5,1960.1 314.1,1960.5 314.8,1959.5 315.5,1960 316.1,1960.3 316.8,1960.3 317.5,1961 318.1,1960.4 318.8,1959.5 319.5,1959.7 320.1,1959.4 320.8,1959.5 321.5,1959.2 322.1,1958.8 322.8,1958.9 323.5,1959 324.1,1959.2 324.8,1958.9 325.5,1958.6 326.1,1958.6 326.8,1958.2 327.5,1958.1 328.1,1958.4 328.8,1957.8 329.5,1958.1 330.1,1958.2 330.8,1958 331.5,1957.5 332.1,1957.8 332.8,1957.4 333.5,1957.3 334.1,1957.4 334.8,1957.9 335.4,1957.7 336.1,1957.9 336.8,1958 337.4,1957.6 338.1,1957.9 338.8,1958.4 339.4,1958.5 340.1,1958.7 340.8,1958 341.4,1958.2 342.1,1957.7 342.8,1958.3 343.4,1958.4 344.1,1958 344.8,1958 345.4,1957.9 346.1,1958.1 346.8,1958.3 347.4,1958.4 348.1,1958.3 348.8,1958.8 349.4,1958.2 350.1,1958.7 350.8,1958.9 351.4,1958.8 352.1,1958.9 352.8,1959.2 353.4,1959.3 354.1,1958.9 354.8,1959 355.4,1958.8 356.1,1959.2 356.8,1959.7 357.4,1958.9 358.1,1958.8 358.8,1959 359.4,1958.8 360.1,1959.2 360.8,1959.2 361.4,1959.4 362.1,1958.8 362.8,1958.8 363.4,1959.7 364.1,1959.4 364.8,1959.2 365.4,1958.9 366.1,1959.2 366.8,1959 367.4,1959.1 368.1,1959.3 368.8,1959.2 369.4,1959.4 370.1,1959.1 370.8,1959.1 371.4,1959.3 372.1,1959.1 372.8,1958.7 373.4,1959.2 374.1,1959.1 374.7,1959.2 375.4,1959 376.1,1959.1 376.7,1959.2 377.4,1959.3 378.1,1959.4 378.7,1959.2 379.4,1959.3 380.1,1959.5 380.7,1959.5 381.4,1959.6 382.1,1959.5 382.7,1960 383.4,1959.3 384.1,1959.4 384.7,1959.4 385.4,1959.4 386.1,1959.5 386.7,1959.4 387.4,1959.5 388.1,1959.2 388.7,1959.6 389.4,1959.5 390.1,1959.1 390.7,1959.5 391.4,1959.8 392.1,1959.2 392.7,1959.4 393.4,1959.8" fill="none" stroke="#ffa400" stroke-width="1.75" stroke-linejoin="round" clip-path="url(#c1141836)"/>
<rect x="114.3" y="1836.4" width="279.1" height="131.8" fill="none" stroke="#333" stroke-width="1.1"/>
<line x1="110.5" y1="1847.6" x2="114.3" y2="1847.6" stroke="#222" stroke-width="0.9" />
<text x="107.3" y="1851.4" font-size="10.5" text-anchor="end" class="dv">30</text>
<line x1="110.5" y1="1888.8" x2="114.3" y2="1888.8" stroke="#222" stroke-width="0.9" />
<text x="107.3" y="1892.6" font-size="10.5" text-anchor="end" class="dv">20</text>
<line x1="110.5" y1="1930" x2="114.3" y2="1930" stroke="#222" stroke-width="0.9" />
<text x="107.3" y="1933.8" font-size="10.5" text-anchor="end" class="dv">10</text>
<line x1="114.3" y1="1968.2" x2="114.3" y2="1972" stroke="#222" stroke-width="0.9" />
<text x="115.6" y="1987.2" font-size="14.7" text-anchor="middle">-3 Kb</text>
<line x1="190.4" y1="1968.2" x2="190.4" y2="1972" stroke="#222" stroke-width="0.9" />
<text x="190.7" y="1987.2" font-size="14.7" text-anchor="middle">TSS</text>
<line x1="317.3" y1="1968.2" x2="317.3" y2="1972" stroke="#222" stroke-width="0.9" />
<text x="317.3" y="1987.2" font-size="14.7" text-anchor="middle">TES</text>
<line x1="393.4" y1="1968.2" x2="393.4" y2="1972" stroke="#222" stroke-width="0.9" />
<text x="397.4" y="1987.2" font-size="14.7" text-anchor="end">3 Kb</text>
<clipPath id="c4521836"><rect x="452" y="1836.4" width="278.6" height="131.8"/></clipPath>
<polyline points="452,1959.5 452.7,1959.6 453.3,1959.5 454,1959.6 454.7,1959.5 455.3,1959.4 456,1959.3 456.7,1958.8 457.3,1959.5 458,1959.3 458.6,1958.9 459.3,1959.6 460,1959.2 460.6,1959.3 461.3,1959.2 462,1959.1 462.6,1959.1 463.3,1959 464,1959 464.6,1959 465.3,1958.8 466,1959 466.6,1958.6 467.3,1958.8 468,1958.5 468.6,1958.3 469.3,1958.6 470,1958.5 470.6,1958.5 471.3,1958.7 471.9,1958.3 472.6,1958.3 473.3,1958.5 473.9,1958.3 474.6,1958.6 475.3,1958.1 475.9,1958 476.6,1958 477.3,1958.2 477.9,1958.4 478.6,1957.8 479.3,1957.8 479.9,1957.6 480.6,1958.1 481.3,1957.7 481.9,1957.7 482.6,1957.5 483.3,1957.7 483.9,1957.6 484.6,1957.7 485.2,1957.4 485.9,1957.3 486.6,1957.2 487.2,1957.1 487.9,1957.2 488.6,1956.9 489.2,1956.2 489.9,1956.6 490.6,1956.9 491.2,1956.5 491.9,1956.3 492.6,1956.3 493.2,1955.9 493.9,1956.4 494.6,1956.1 495.2,1955.9 495.9,1955.6 496.5,1955.9 497.2,1955.9 497.9,1955.7 498.5,1955.7 499.2,1955.8 499.9,1955.5 500.5,1955 501.2,1955.5 501.9,1954.9 502.5,1955.3 503.2,1954.9 503.9,1954.7 504.5,1953.7 505.2,1953.8 505.9,1953.4 506.5,1953.1 507.2,1952.7 507.9,1952.3 508.5,1951.9 509.2,1951.9 509.8,1951.9 510.5,1951.1 511.2,1950.8 511.8,1950.3 512.5,1949.8 513.2,1948.6 513.8,1947.5 514.5,1946.7 515.2,1945.8 515.8,1945 516.5,1944.6 517.2,1944.5 517.8,1944.1 518.5,1942.5 519.2,1941 519.8,1938.2 520.5,1936 521.2,1933.7 521.8,1930.5 522.5,1924.7 523.1,1917.3 523.8,1908.2 524.5,1899.8 525.1,1891.1 525.8,1883.3 526.5,1880 527.1,1883 527.8,1895.4 528.5,1911.1 529.1,1926.7 529.8,1937 530.5,1942.3 531.1,1944.6 531.8,1946.8 532.5,1949.3 533.1,1950.8 533.8,1951.2 534.4,1951.8 535.1,1952.5 535.8,1953.3 536.4,1953.1 537.1,1954.1 537.8,1954.3 538.4,1955.2 539.1,1955.1 539.8,1955.5 540.4,1955.5 541.1,1955.4 541.8,1955.6 542.4,1955.7 543.1,1955.8 543.8,1955.9 544.4,1955.8 545.1,1955.9 545.8,1956.1 546.4,1956.4 547.1,1956.5 547.7,1956.8 548.4,1956.6 549.1,1956.8 549.7,1957.2 550.4,1957.5 551.1,1956.7 551.7,1957.4 552.4,1957.4 553.1,1956.8 553.7,1957.2 554.4,1957.5 555.1,1957.2 555.7,1957.2 556.4,1957.3 557.1,1957.3 557.7,1957.6 558.4,1957.5 559.1,1957.3 559.7,1957.8 560.4,1957.4 561,1957.9 561.7,1957.4 562.4,1957.6 563,1957.8 563.7,1957.6 564.4,1957.3 565,1957.9 565.7,1957.6 566.4,1957.4 567,1957.5 567.7,1958.2 568.4,1958 569,1958.1 569.7,1958.1 570.4,1958.1 571,1957.8 571.7,1957.8 572.3,1958.6 573,1958.9 573.7,1958.7 574.3,1958.7 575,1958.9 575.7,1958.8 576.3,1958.9 577,1958.7 577.7,1958.9 578.3,1958.7 579,1959 579.7,1958.8 580.3,1958.7 581,1958.6 581.7,1958.5 582.3,1958.9 583,1958.4 583.7,1958.7 584.3,1958.4 585,1958.7 585.6,1958.8 586.3,1958.5 587,1959 587.6,1958.5 588.3,1958.8 589,1959.2 589.6,1958.9 590.3,1959.1 591,1959.2 591.6,1958.6 592.3,1959.2 593,1959.4 593.6,1959.2 594.3,1959.3 595,1959.3 595.6,1959.1 596.3,1958.8 597,1959.1 597.6,1959.3 598.3,1959.1 598.9,1959.6 599.6,1959.3 600.3,1959.2 600.9,1959.1 601.6,1959.4 602.3,1959.2 602.9,1959.2 603.6,1959.2 604.3,1959 604.9,1959.8 605.6,1959.2 606.3,1959.5 606.9,1959.3 607.6,1960 608.3,1959.3 608.9,1959.9 609.6,1959.6 610.3,1959.4 610.9,1959.5 611.6,1959.7 612.2,1959.9 612.9,1959.4 613.6,1959.4 614.2,1959.6 614.9,1959.2 615.6,1959.3 616.2,1959.1 616.9,1959.3 617.6,1958.9 618.2,1959.9 618.9,1959.6 619.6,1959.5 620.2,1959.6 620.9,1959.3 621.6,1959.2 622.2,1959.3 622.9,1960.1 623.5,1959.4 624.2,1959.3 624.9,1959.5 625.5,1959.4 626.2,1959.5 626.9,1959.2 627.5,1959.9 628.2,1959.8 628.9,1959.3 629.5,1959.8 630.2,1959.7 630.9,1959.9 631.5,1960.1 632.2,1959.7 632.9,1959.6 633.5,1960 634.2,1959.8 634.9,1960.3 635.5,1960 636.2,1959.9 636.8,1960.2 637.5,1960.3 638.2,1960 638.8,1960.3 639.5,1959.9 640.2,1960.3 640.8,1960 641.5,1960.9 642.2,1960.4 642.8,1960.2 643.5,1960.4 644.2,1960.4 644.8,1960.4 645.5,1960.6 646.2,1960.9 646.8,1960.6 647.5,1960.4 648.2,1960.7 648.8,1960.5 649.5,1960.2 650.1,1960.7 650.8,1960.6 651.5,1960.5 652.1,1960.6 652.8,1960.4 653.5,1960.9 654.1,1961.6 654.8,1961.3 655.5,1961.3 656.1,1960.5 656.8,1960 657.5,1960.3 658.1,1960.2 658.8,1960 659.5,1960 660.1,1959.7 660.8,1959.9 661.4,1959.3 662.1,1959.4 662.8,1959.3 663.4,1959.3 664.1,1959 664.8,1959.1 665.4,1958.9 666.1,1958.7 666.8,1958.9 667.4,1958.6 668.1,1958.6 668.8,1958.8 669.4,1958.3 670.1,1958.1 670.8,1958.2 671.4,1958.4 672.1,1958.1 672.8,1958 673.4,1957.7 674.1,1957.6 674.7,1957.7 675.4,1957.5 676.1,1958 676.7,1957.9 677.4,1958 678.1,1958 678.7,1957.8 679.4,1957.9 680.1,1957.8 680.7,1957.9 681.4,1957.7 682.1,1957.6 682.7,1958.1 683.4,1957.9 684.1,1958.4 684.7,1958.3 685.4,1958.4 686.1,1958.4 686.7,1958.7 687.4,1958.7 688,1958.6 688.7,1959.1 689.4,1958.6 690,1958.5 690.7,1958.6 691.4,1958.5 692,1958.6 692.7,1959 693.4,1959 694,1958.5 694.7,1958.7 695.4,1958.8 696,1958.7 696.7,1958.6 697.4,1958.8 698,1958.2 698.7,1958.8 699.3,1959 700,1959 700.7,1959.3 701.3,1959.2 702,1959.2 702.7,1959.5 703.3,1959.3 704,1959.1 704.7,1959.4 705.3,1959.7 706,1959.6 706.7,1959.7 707.3,1959.8 708,1959.9 708.7,1959.9 709.3,1959.8 710,1960.3 710.7,1960.1 711.3,1960.5 712,1960 712.6,1959.9 713.3,1960.5 714,1960.4 714.6,1960.2 715.3,1960.5 716,1960.8 716.6,1960.3 717.3,1960.1 718,1960.4 718.6,1959.9 719.3,1959.9 720,1959.7 720.6,1959.6 721.3,1959.2 722,1959.2 722.6,1959.3 723.3,1959.1 724,1958.6 724.6,1958.3 725.3,1958.6 725.9,1958.3 726.6,1958.6 727.3,1957.9 727.9,1957.5 728.6,1957.9 729.3,1957.5 729.9,1957.3 730.6,1957.3" fill="none" stroke="#8e0f98" stroke-width="1.75" stroke-linejoin="round" clip-path="url(#c4521836)"/>
<polyline points="452,1958.5 452.7,1958.6 453.3,1958.9 454,1958.6 454.7,1958.4 455.3,1958.4 456,1958.6 456.7,1958.5 457.3,1958.8 458,1958.6 458.6,1958.6 459.3,1958.8 460,1958.3 460.6,1958.5 461.3,1958.8 462,1958.8 462.6,1958 463.3,1958.2 464,1958.4 464.6,1958 465.3,1958.1 466,1958.2 466.6,1958 467.3,1957.7 468,1958.4 468.6,1958.7 469.3,1958.5 470,1957.9 470.6,1958.1 471.3,1957.6 471.9,1957.5 472.6,1957.6 473.3,1957.1 473.9,1957.6 474.6,1956.6 475.3,1956.8 475.9,1956.4 476.6,1956.9 477.3,1956.9 477.9,1957 478.6,1957.1 479.3,1956.9 479.9,1956.7 480.6,1956.8 481.3,1956.4 481.9,1956.8 482.6,1956.3 483.3,1955.8 483.9,1956.5 484.6,1956.3 485.2,1956.7 485.9,1956.6 486.6,1956.4 487.2,1956.1 487.9,1956 488.6,1956.1 489.2,1956 489.9,1955.8 490.6,1955.8 491.2,1955.8 491.9,1956 492.6,1956 493.2,1956.1 493.9,1955.6 494.6,1956.3 495.2,1955.3 495.9,1955.7 496.5,1955.3 497.2,1955.2 497.9,1955.2 498.5,1955.4 499.2,1955.6 499.9,1955.1 500.5,1955.4 501.2,1954.8 501.9,1955 502.5,1954.5 503.2,1954.5 503.9,1954 504.5,1953.2 505.2,1953.2 505.9,1952.5 506.5,1952.3 507.2,1952.3 507.9,1951.2 508.5,1951.3 509.2,1950.7 509.8,1949.9 510.5,1949.4 511.2,1947.6 511.8,1945.9 512.5,1944.2 513.2,1942.1 513.8,1940.6 514.5,1938.2 515.2,1936.8 515.8,1936 516.5,1934.9 517.2,1933.6 517.8,1933 518.5,1932.4 519.2,1931 519.8,1929.2 520.5,1927 521.2,1924.9 521.8,1921 522.5,1913.7 523.1,1903.6 523.8,1890.5 524.5,1878.2 525.1,1864.6 525.8,1852.2 526.5,1844.9 527.1,1846.4 527.8,1858.4 528.5,1879.4 529.1,1904.1 529.8,1923.4 530.5,1933.4 531.1,1936.3 531.8,1939.7 532.5,1942.6 533.1,1944.3 533.8,1945.3 534.4,1945.9 535.1,1946.2 535.8,1946.8 536.4,1947.5 537.1,1948.6 537.8,1948.8 538.4,1949.4 539.1,1950.5 539.8,1950.8 540.4,1951.3 541.1,1952.3 541.8,1952.6 542.4,1952.3 543.1,1952.7 543.8,1952.7 544.4,1952.9 545.1,1953.3 545.8,1953 546.4,1953.1 547.1,1953.4 547.7,1953.5 548.4,1953 549.1,1952.9 549.7,1953.9 550.4,1953.9 551.1,1953.9 551.7,1953.4 552.4,1953.6 553.1,1953.8 553.7,1953.7 554.4,1953.9 555.1,1953.7 555.7,1953.4 556.4,1954.4 557.1,1954 557.7,1954.1 558.4,1954.5 559.1,1954.4 559.7,1955 560.4,1954.3 561,1954.9 561.7,1954.6 562.4,1954.5 563,1955.3 563.7,1954.9 564.4,1955 565,1955 565.7,1955.2 566.4,1955.3 567,1955.7 567.7,1955.7 568.4,1955.5 569,1955.6 569.7,1955.2 570.4,1955.6 571,1955.4 571.7,1955.4 572.3,1955.3 573,1955.5 573.7,1956.4 574.3,1955.5 575,1955.8 575.7,1956.2 576.3,1956.1 577,1956.2 577.7,1956 578.3,1955.9 579,1955.5 579.7,1956.2 580.3,1956.4 581,1956.7 581.7,1956.5 582.3,1956.8 583,1957.3 583.7,1956.6 584.3,1956.2 585,1957.4 585.6,1956.9 586.3,1956.5 587,1956.3 587.6,1957 588.3,1956.1 589,1956.4 589.6,1956.8 590.3,1956.3 591,1956.4 591.6,1957 592.3,1956.8 593,1956.8 593.6,1956.5 594.3,1956.9 595,1956.9 595.6,1956.5 596.3,1956.4 597,1956.8 597.6,1956.8 598.3,1957.1 598.9,1956.4 599.6,1957.3 600.3,1956.5 600.9,1956.9 601.6,1956.9 602.3,1957 602.9,1957.4 603.6,1957.2 604.3,1957.5 604.9,1956.6 605.6,1957.2 606.3,1957.2 606.9,1956.8 607.6,1957.5 608.3,1957.6 608.9,1957.2 609.6,1957 610.3,1957.5 610.9,1957.5 611.6,1957 612.2,1957.3 612.9,1957.3 613.6,1957.5 614.2,1957.1 614.9,1957.6 615.6,1957.2 616.2,1957.4 616.9,1957.4 617.6,1957.9 618.2,1957.3 618.9,1957.3 619.6,1957.9 620.2,1957.6 620.9,1957.5 621.6,1957.7 622.2,1957.4 622.9,1957.7 623.5,1958.1 624.2,1957.5 624.9,1957.7 625.5,1958.3 626.2,1958 626.9,1957.9 627.5,1958.1 628.2,1957.6 628.9,1957.9 629.5,1957.8 630.2,1957.4 630.9,1957.5 631.5,1957.9 632.2,1958.2 632.9,1957.9 633.5,1958.2 634.2,1957.6 634.9,1957.6 635.5,1958 636.2,1957.5 636.8,1958.1 637.5,1958.1 638.2,1957.8 638.8,1957.9 639.5,1958.2 640.2,1957.7 640.8,1957.8 641.5,1957.5 642.2,1957.4 642.8,1957.1 643.5,1957.8 644.2,1957.4 644.8,1957.4 645.5,1957.9 646.2,1957 646.8,1957.8 647.5,1957.4 648.2,1957.8 648.8,1957.6 649.5,1957.8 650.1,1957.6 650.8,1957.5 651.5,1957.6 652.1,1957.6 652.8,1957.3 653.5,1958.1 654.1,1958.9 654.8,1959.2 655.5,1958.3 656.1,1957.1 656.8,1956.8 657.5,1956.8 658.1,1956.9 658.8,1956.6 659.5,1956.7 660.1,1956.7 660.8,1956.3 661.4,1955.9 662.1,1956.3 662.8,1955.8 663.4,1956.5 664.1,1955.7 664.8,1955.6 665.4,1955.4 666.1,1955.1 666.8,1955.2 667.4,1954.9 668.1,1955.3 668.8,1954.6 669.4,1954.2 670.1,1954.4 670.8,1953.9 671.4,1954 672.1,1953.9 672.8,1954.3 673.4,1954.7 674.1,1954.6 674.7,1954.4 675.4,1954.3 676.1,1954.7 676.7,1954.3 677.4,1955 678.1,1954.9 678.7,1954.8 679.4,1954.9 680.1,1955 680.7,1955.2 681.4,1954.6 682.1,1955.7 682.7,1955.4 683.4,1955.4 684.1,1955 684.7,1955.1 685.4,1955.2 686.1,1955.4 686.7,1955.1 687.4,1955.2 688,1955 688.7,1955.4 689.4,1954.7 690,1955.1 690.7,1955.4 691.4,1956.1 692,1955.9 692.7,1955.8 693.4,1956 694,1955.6 694.7,1955.1 695.4,1955.5 696,1955.2 696.7,1956.1 697.4,1956.4 698,1955.7 698.7,1956.1 699.3,1956.4 700,1956.3 700.7,1956.3 701.3,1956.4 702,1956.2 702.7,1956.2 703.3,1956.7 704,1956.8 704.7,1956.3 705.3,1956.5 706,1956.5 706.7,1956.4 707.3,1956.7 708,1956.9 708.7,1957 709.3,1956.8 710,1956.8 710.7,1956.6 711.3,1956.9 712,1956.5 712.6,1956 713.3,1956.5 714,1957 714.6,1957 715.3,1956.7 716,1956.6 716.6,1956.7 717.3,1957.2 718,1956.7 718.6,1956.8 719.3,1956.3 720,1957.4 720.6,1956.5 721.3,1956.3 722,1956.1 722.6,1956.5 723.3,1956.1 724,1956.2 724.6,1956.5 725.3,1956 725.9,1956.1 726.6,1955.7 727.3,1956 727.9,1955.7 728.6,1956 729.3,1955.5 729.9,1955.4 730.6,1955.3" fill="none" stroke="#ffa400" stroke-width="1.75" stroke-linejoin="round" clip-path="url(#c4521836)"/>
<rect x="452" y="1836.4" width="278.6" height="131.8" fill="none" stroke="#333" stroke-width="1.1"/>
<line x1="448.2" y1="1847.6" x2="452" y2="1847.6" stroke="#222" stroke-width="0.9" />
<text x="445.8" y="1851.4" font-size="10.5" text-anchor="end" class="dv">30</text>
<line x1="448.2" y1="1888.8" x2="452" y2="1888.8" stroke="#222" stroke-width="0.9" />
<text x="445.8" y="1892.6" font-size="10.5" text-anchor="end" class="dv">20</text>
<line x1="448.2" y1="1930" x2="452" y2="1930" stroke="#222" stroke-width="0.9" />
<text x="445.8" y="1933.8" font-size="10.5" text-anchor="end" class="dv">10</text>
<line x1="452" y1="1968.2" x2="452" y2="1972" stroke="#222" stroke-width="0.9" />
<text x="448.5" y="1987.2" font-size="14.7" text-anchor="middle">-3 Kb</text>
<line x1="528" y1="1968.2" x2="528" y2="1972" stroke="#222" stroke-width="0.9" />
<text x="529.1" y="1987.2" font-size="14.7" text-anchor="middle">TSS</text>
<line x1="654.6" y1="1968.2" x2="654.6" y2="1972" stroke="#222" stroke-width="0.9" />
<text x="654.9" y="1987.2" font-size="14.7" text-anchor="middle">TES</text>
<line x1="730.6" y1="1968.2" x2="730.6" y2="1972" stroke="#222" stroke-width="0.9" />
<text x="743.6" y="1987.2" font-size="14.7" text-anchor="end">3 Kb</text>
<clipPath id="c1142008"><rect x="114.3" y="2008.8" width="279.1" height="130.8"/></clipPath>
<polyline points="114.3,2121.1 115,2121.4 115.6,2121.3 116.3,2120.2 117,2120.2 117.6,2120 118.3,2120 119,2120.3 119.6,2120 120.3,2119.1 121,2120.2 121.6,2120.1 122.3,2120 123,2119.5 123.6,2119.2 124.3,2119.2 125,2118.3 125.6,2119.6 126.3,2118.4 127,2120.3 127.6,2119.4 128.3,2119.1 129,2119 129.6,2118.7 130.3,2118.9 131,2118.7 131.6,2119.2 132.3,2118.5 133,2119 133.6,2118.8 134.3,2119.5 134.9,2118.3 135.6,2118.1 136.3,2118.4 136.9,2117.4 137.6,2117.5 138.3,2118.2 138.9,2117.6 139.6,2118.2 140.3,2117.5 140.9,2118.6 141.6,2117.3 142.3,2117.2 142.9,2118.1 143.6,2116.8 144.3,2117.5 144.9,2117 145.6,2116.9 146.3,2118.2 146.9,2116.6 147.6,2116.4 148.3,2116.1 148.9,2116.7 149.6,2116.1 150.3,2115.4 150.9,2115.2 151.6,2115.3 152.3,2115.9 152.9,2115.4 153.6,2114.3 154.3,2113.6 154.9,2113.7 155.6,2113.7 156.3,2113.4 156.9,2113.4 157.6,2113.3 158.3,2113.1 158.9,2112.5 159.6,2113 160.3,2112.8 160.9,2112.3 161.6,2112.9 162.3,2111.4 162.9,2111.9 163.6,2111.4 164.3,2109.9 164.9,2109.4 165.6,2109.8 166.3,2107.8 166.9,2108.6 167.6,2107.4 168.3,2106.2 168.9,2106.3 169.6,2106.6 170.3,2105 170.9,2105.6 171.6,2103.5 172.3,2103.2 172.9,2101.2 173.6,2100 174.2,2097.8 174.9,2097.1 175.6,2096.3 176.2,2094.9 176.9,2094.3 177.6,2093.6 178.2,2093.3 178.9,2092.7 179.6,2091 180.2,2089.6 180.9,2087.7 181.6,2087 182.2,2085.5 182.9,2083.9 183.6,2082.2 184.2,2080.1 184.9,2077.5 185.6,2074.8 186.2,2070.4 186.9,2067.8 187.6,2063.9 188.2,2059.8 188.9,2058.9 189.6,2061.8 190.2,2068.1 190.9,2075.3 191.6,2080.7 192.2,2085.6 192.9,2089.9 193.6,2094.6 194.2,2097.1 194.9,2098.8 195.6,2099.8 196.2,2100.4 196.9,2102.1 197.6,2103.8 198.2,2103.9 198.9,2104.5 199.6,2105.2 200.2,2105.6 200.9,2106.2 201.6,2106.4 202.2,2106.8 202.9,2107.4 203.6,2107.5 204.2,2108 204.9,2108.9 205.6,2110.2 206.2,2109.8 206.9,2109.3 207.6,2110.7 208.2,2110.4 208.9,2110.7 209.6,2111.3 210.2,2111.7 210.9,2111.7 211.6,2112 212.2,2112 212.9,2111.7 213.6,2112.4 214.2,2113.1 214.9,2112.6 215.5,2112.9 216.2,2113.4 216.9,2113 217.5,2113.1 218.2,2114.1 218.9,2113.9 219.5,2114 220.2,2114.5 220.9,2113.8 221.5,2114 222.2,2114.8 222.9,2113.9 223.5,2114.7 224.2,2114.8 224.9,2115 225.5,2114.6 226.2,2115.2 226.9,2114.4 227.5,2115.7 228.2,2114.9 228.9,2114.8 229.5,2114.9 230.2,2115.2 230.9,2116 231.5,2115.6 232.2,2114.8 232.9,2115.2 233.5,2115.7 234.2,2116.1 234.9,2115.8 235.5,2116 236.2,2116.7 236.9,2116.6 237.5,2116.5 238.2,2117.1 238.9,2117 239.5,2116.5 240.2,2116.2 240.9,2117.1 241.5,2117.4 242.2,2116.8 242.9,2116.6 243.5,2117.4 244.2,2117 244.9,2117.6 245.5,2118 246.2,2117 246.9,2117.1 247.5,2117.5 248.2,2117.5 248.9,2116.8 249.5,2117.1 250.2,2117.1 250.9,2117.2 251.5,2116.9 252.2,2117 252.9,2117.2 253.5,2117.4 254.2,2116.9 254.8,2117.6 255.5,2117.3 256.2,2117.9 256.8,2117.8 257.5,2117.8 258.2,2117.9 258.8,2118 259.5,2117.6 260.2,2117.6 260.8,2117.9 261.5,2117.7 262.2,2117.8 262.8,2118.4 263.5,2118.1 264.2,2117.9 264.8,2118 265.5,2118.3 266.2,2117.9 266.8,2117.9 267.5,2117.7 268.2,2117.7 268.8,2117.5 269.5,2118.8 270.2,2118.4 270.8,2118.1 271.5,2118 272.2,2118.8 272.8,2118.4 273.5,2118.4 274.2,2118.2 274.8,2118.7 275.5,2118.9 276.2,2119.6 276.8,2118.7 277.5,2119.9 278.2,2119.4 278.8,2119.1 279.5,2118.6 280.2,2118.8 280.8,2119.6 281.5,2119.4 282.2,2119.2 282.8,2119.4 283.5,2119.1 284.2,2119 284.8,2119 285.5,2118.7 286.2,2119 286.8,2118.6 287.5,2118.4 288.2,2118.7 288.8,2118.7 289.5,2118.5 290.2,2118.9 290.8,2118.9 291.5,2118.6 292.2,2118.8 292.8,2118.7 293.5,2120 294.1,2118.8 294.8,2119.5 295.5,2118.9 296.1,2118.7 296.8,2119.3 297.5,2118.9 298.1,2118.9 298.8,2119.1 299.5,2119.2 300.1,2119.5 300.8,2119.1 301.5,2119.4 302.1,2119.5 302.8,2120.2 303.5,2119.9 304.1,2120.1 304.8,2119.6 305.5,2120.8 306.1,2120.7 306.8,2119.4 307.5,2120 308.1,2120 308.8,2119.5 309.5,2120 310.1,2120.6 310.8,2120.1 311.5,2119.8 312.1,2120.7 312.8,2120.3 313.5,2120.1 314.1,2120.3 314.8,2121 315.5,2121.4 316.1,2123.1 316.8,2125.5 317.5,2125.9 318.1,2124.1 318.8,2122.7 319.5,2121.4 320.1,2122.2 320.8,2121.6 321.5,2121.3 322.1,2121.3 322.8,2120 323.5,2119.8 324.1,2120 324.8,2119.7 325.5,2119.5 326.1,2119.8 326.8,2119.8 327.5,2119.2 328.1,2119.2 328.8,2119.4 329.5,2118.9 330.1,2119.3 330.8,2118.8 331.5,2118.3 332.1,2118.7 332.8,2118.9 333.5,2119.3 334.1,2119.3 334.8,2118.7 335.4,2119 336.1,2118.5 336.8,2118.7 337.4,2118.4 338.1,2118.8 338.8,2118.5 339.4,2119.7 340.1,2119.5 340.8,2119.2 341.4,2118.7 342.1,2119.5 342.8,2118.8 343.4,2118.6 344.1,2119.2 344.8,2119.1 345.4,2118.7 346.1,2118.7 346.8,2119.1 347.4,2118.5 348.1,2119.1 348.8,2119 349.4,2118 350.1,2118.6 350.8,2118.3 351.4,2118.3 352.1,2118.3 352.8,2119.3 353.4,2118.8 354.1,2118.5 354.8,2119.2 355.4,2119.2 356.1,2118.9 356.8,2118.6 357.4,2119.7 358.1,2118.5 358.8,2119.3 359.4,2118.7 360.1,2119.5 360.8,2119.3 361.4,2118.9 362.1,2119.2 362.8,2118.6 363.4,2119.2 364.1,2119.1 364.8,2119.5 365.4,2119.1 366.1,2119.8 366.8,2120.2 367.4,2119.3 368.1,2120.2 368.8,2118.9 369.4,2120.5 370.1,2119.2 370.8,2120.1 371.4,2119.5 372.1,2119.6 372.8,2119.2 373.4,2119.1 374.1,2120.3 374.7,2120.2 375.4,2119.8 376.1,2120.4 376.7,2119.6 377.4,2119.6 378.1,2119.6 378.7,2120.7 379.4,2119.8 380.1,2120.3 380.7,2119.8 381.4,2119.9 382.1,2120.7 382.7,2120.7 383.4,2121.3 384.1,2120.5 384.7,2120.8 385.4,2121.8 386.1,2120.8 386.7,2121.2 387.4,2121.7 388.1,2120.9 388.7,2121.5 389.4,2120.9 390.1,2120.4 390.7,2120.8 391.4,2120.6 392.1,2120.8 392.7,2120.4 393.4,2120.8" fill="none" stroke="#8e0f98" stroke-width="1.75" stroke-linejoin="round" clip-path="url(#c1142008)"/>
<polyline points="114.3,2125.3 115,2124.6 115.6,2124.3 116.3,2124.3 117,2124 117.6,2123.6 118.3,2124.7 119,2124.5 119.6,2123.6 120.3,2124.2 121,2124.3 121.6,2123.8 122.3,2122.7 123,2123.4 123.6,2122.7 124.3,2123.1 125,2122.7 125.6,2121.8 126.3,2121.8 127,2122.5 127.6,2122.8 128.3,2123.2 129,2121.9 129.6,2122.3 130.3,2122.2 131,2122.3 131.6,2121.4 132.3,2121.6 133,2121.9 133.6,2121 134.3,2121.9 134.9,2121.9 135.6,2121.2 136.3,2122.3 136.9,2121.8 137.6,2120.4 138.3,2121.3 138.9,2121.9 139.6,2121.4 140.3,2121.2 140.9,2122 141.6,2121.3 142.3,2121.9 142.9,2121.5 143.6,2121.4 144.3,2121.7 144.9,2121.5 145.6,2121.3 146.3,2120.7 146.9,2120.8 147.6,2120.9 148.3,2120.6 148.9,2121.1 149.6,2120.1 150.3,2120.5 150.9,2120.2 151.6,2120.6 152.3,2121.3 152.9,2120.2 153.6,2120.2 154.3,2119.7 154.9,2120.6 155.6,2119.5 156.3,2119.4 156.9,2118.9 157.6,2118.3 158.3,2118.1 158.9,2118.8 159.6,2117.5 160.3,2118.7 160.9,2119 161.6,2118.2 162.3,2117.6 162.9,2116.9 163.6,2117.3 164.3,2116.9 164.9,2115.9 165.6,2116 166.3,2116.5 166.9,2114.9 167.6,2114.6 168.3,2114.8 168.9,2114.1 169.6,2114.3 170.3,2112.3 170.9,2112.9 171.6,2112.8 172.3,2111.4 172.9,2110.9 173.6,2110.3 174.2,2109.1 174.9,2108.1 175.6,2106.7 176.2,2105.5 176.9,2103.6 177.6,2103.4 178.2,2101.9 178.9,2101 179.6,2100.2 180.2,2099.5 180.9,2098.6 181.6,2098 182.2,2096.7 182.9,2094.7 183.6,2092.2 184.2,2090.1 184.9,2087.8 185.6,2085.1 186.2,2082.4 186.9,2078.4 187.6,2075.3 188.2,2071 188.9,2069.7 189.6,2073.4 190.2,2078.8 190.9,2085.3 191.6,2090.5 192.2,2096.1 192.9,2100.9 193.6,2104.3 194.2,2107.7 194.9,2107.5 195.6,2108.8 196.2,2109.4 196.9,2110 197.6,2111 198.2,2111.7 198.9,2112.6 199.6,2113.5 200.2,2113.1 200.9,2114.9 201.6,2113.8 202.2,2114.6 202.9,2115.2 203.6,2115.7 204.2,2116.5 204.9,2116.7 205.6,2116.9 206.2,2117.7 206.9,2117.7 207.6,2117.9 208.2,2118.5 208.9,2117.7 209.6,2118.7 210.2,2117.7 210.9,2118 211.6,2117.3 212.2,2117.7 212.9,2118.1 213.6,2118.3 214.2,2118.3 214.9,2118.6 215.5,2118.9 216.2,2119.3 216.9,2118.9 217.5,2118.2 218.2,2119.2 218.9,2120.2 219.5,2120.2 220.2,2119.5 220.9,2119.8 221.5,2120.9 222.2,2120.5 222.9,2120.5 223.5,2121 224.2,2121.2 224.9,2121.7 225.5,2121.3 226.2,2121.6 226.9,2121.7 227.5,2121.6 228.2,2121.3 228.9,2121.2 229.5,2121.9 230.2,2121.9 230.9,2122.8 231.5,2122.4 232.2,2122.2 232.9,2122.4 233.5,2122.4 234.2,2122.5 234.9,2122.4 235.5,2122.1 236.2,2122.6 236.9,2122.8 237.5,2121.9 238.2,2121.4 238.9,2121.9 239.5,2121.6 240.2,2122.3 240.9,2120.5 241.5,2121.3 242.2,2120.9 242.9,2121.9 243.5,2120.6 244.2,2121.6 244.9,2121.4 245.5,2120.3 246.2,2120.6 246.9,2121.2 247.5,2120.7 248.2,2120.6 248.9,2120 249.5,2119.2 250.2,2119.5 250.9,2118.7 251.5,2118.8 252.2,2118 252.9,2117.6 253.5,2117.2 254.2,2117.9 254.8,2118.2 255.5,2119.2 256.2,2119.7 256.8,2119.8 257.5,2120.5 258.2,2120 258.8,2121 259.5,2120.1 260.2,2120.1 260.8,2120.5 261.5,2121 262.2,2120.9 262.8,2121.3 263.5,2121.8 264.2,2121.2 264.8,2121.4 265.5,2121.2 266.2,2121.1 266.8,2120.8 267.5,2121 268.2,2121.8 268.8,2121.3 269.5,2121.7 270.2,2120.5 270.8,2120.9 271.5,2120.1 272.2,2120.6 272.8,2121.3 273.5,2121.4 274.2,2121.2 274.8,2122 275.5,2121.1 276.2,2121.6 276.8,2122.3 277.5,2121.4 278.2,2121.7 278.8,2121.6 279.5,2121.6 280.2,2121.7 280.8,2121 281.5,2121.2 282.2,2121.8 282.8,2121.4 283.5,2121.8 284.2,2121.7 284.8,2121.4 285.5,2121.6 286.2,2122.3 286.8,2122.1 287.5,2122 288.2,2122.1 288.8,2121.8 289.5,2122.2 290.2,2121.3 290.8,2122.7 291.5,2122.1 292.2,2122.1 292.8,2121.5 293.5,2121.8 294.1,2121.6 294.8,2121.6 295.5,2121.6 296.1,2121.4 296.8,2122.4 297.5,2121.9 298.1,2122.2 298.8,2121.7 299.5,2122.1 300.1,2121.5 300.8,2122.3 301.5,2122.5 302.1,2121.2 302.8,2122.4 303.5,2121.8 304.1,2121.5 304.8,2122 305.5,2121.9 306.1,2122 306.8,2121.4 307.5,2121.5 308.1,2121.9 308.8,2121.7 309.5,2122.2 310.1,2122.3 310.8,2122.7 311.5,2122.5 312.1,2122.6 312.8,2122.7 313.5,2123.1 314.1,2123.4 314.8,2123.8 315.5,2123.6 316.1,2125.2 316.8,2128.4 317.5,2129.5 318.1,2127.6 318.8,2126.4 319.5,2125.1 320.1,2124 320.8,2122.8 321.5,2122.6 322.1,2123.4 322.8,2121.9 323.5,2122.2 324.1,2122 324.8,2121.5 325.5,2121.7 326.1,2121.3 326.8,2121.2 327.5,2121.1 328.1,2120.8 328.8,2120.8 329.5,2120.5 330.1,2120.4 330.8,2121.2 331.5,2120.1 332.1,2121.1 332.8,2119.7 333.5,2121.2 334.1,2121.6 334.8,2120.6 335.4,2120.8 336.1,2120.2 336.8,2120.8 337.4,2120.5 338.1,2120.8 338.8,2120.2 339.4,2120.7 340.1,2120.9 340.8,2120.5 341.4,2120.4 342.1,2120.8 342.8,2120.9 343.4,2120.4 344.1,2121.3 344.8,2121.3 345.4,2120.9 346.1,2121.7 346.8,2121 347.4,2120 348.1,2120.3 348.8,2120.6 349.4,2120.6 350.1,2120.3 350.8,2121.3 351.4,2120.2 352.1,2120.7 352.8,2120.8 353.4,2119.9 354.1,2121.3 354.8,2121.4 355.4,2121.1 356.1,2120.7 356.8,2121 357.4,2120.6 358.1,2120.9 358.8,2120.5 359.4,2120.6 360.1,2119.7 360.8,2121 361.4,2121.1 362.1,2121.1 362.8,2121.6 363.4,2121 364.1,2121.1 364.8,2121.3 365.4,2120.3 366.1,2120.7 366.8,2120.6 367.4,2121.4 368.1,2120.7 368.8,2121.2 369.4,2122 370.1,2121.9 370.8,2121.3 371.4,2121.2 372.1,2121 372.8,2121.5 373.4,2122.1 374.1,2121 374.7,2121.3 375.4,2121.4 376.1,2120.7 376.7,2122 377.4,2122.3 378.1,2122.4 378.7,2121.4 379.4,2121.4 380.1,2121.9 380.7,2121.8 381.4,2121.7 382.1,2122.5 382.7,2121.6 383.4,2121.4 384.1,2122.9 384.7,2122 385.4,2122.1 386.1,2121.8 386.7,2122.6 387.4,2122.6 388.1,2121.9 388.7,2121.9 389.4,2123.4 390.1,2122.2 390.7,2122 391.4,2121.9 392.1,2123.5 392.7,2122.3 393.4,2122.6" fill="none" stroke="#ffa400" stroke-width="1.75" stroke-linejoin="round" clip-path="url(#c1142008)"/>
<rect x="114.3" y="2008.8" width="279.1" height="130.8" fill="none" stroke="#333" stroke-width="1.1"/>
<line x1="110.5" y1="2032.5" x2="114.3" y2="2032.5" stroke="#222" stroke-width="0.9" />
<text x="107.3" y="2036.3" font-size="10.5" text-anchor="end" class="dv">20</text>
<line x1="110.5" y1="2062.2" x2="114.3" y2="2062.2" stroke="#222" stroke-width="0.9" />
<text x="107.3" y="2066" font-size="10.5" text-anchor="end" class="dv">15</text>
<line x1="110.5" y1="2092" x2="114.3" y2="2092" stroke="#222" stroke-width="0.9" />
<text x="107.3" y="2095.8" font-size="10.5" text-anchor="end" class="dv">10</text>
<line x1="110.5" y1="2121.7" x2="114.3" y2="2121.7" stroke="#222" stroke-width="0.9" />
<text x="107.3" y="2125.5" font-size="10.5" text-anchor="end" class="dv">5</text>
<line x1="114.3" y1="2139.6" x2="114.3" y2="2143.4" stroke="#222" stroke-width="0.9" />
<text x="115.6" y="2157.6" font-size="14.7" text-anchor="middle">-3 Kb</text>
<line x1="190.4" y1="2139.6" x2="190.4" y2="2143.4" stroke="#222" stroke-width="0.9" />
<text x="190.7" y="2157.6" font-size="14.7" text-anchor="middle">TSS</text>
<line x1="317.3" y1="2139.6" x2="317.3" y2="2143.4" stroke="#222" stroke-width="0.9" />
<text x="317.3" y="2157.6" font-size="14.7" text-anchor="middle">TES</text>
<line x1="393.4" y1="2139.6" x2="393.4" y2="2143.4" stroke="#222" stroke-width="0.9" />
<text x="397.4" y="2157.6" font-size="14.7" text-anchor="end">3 Kb</text>
<clipPath id="c4512008"><rect x="451.6" y="2008.8" width="278.4" height="130.8"/></clipPath>
<polyline points="451.6,2123.7 452.3,2124 452.9,2124.2 453.6,2124.2 454.3,2124.6 454.9,2124.2 455.6,2123.6 456.3,2124 456.9,2123.9 457.6,2123.7 458.2,2124 458.9,2123 459.6,2123.7 460.2,2123.6 460.9,2123.5 461.6,2124.1 462.2,2124.2 462.9,2123.7 463.6,2123.7 464.2,2122.6 464.9,2123.9 465.6,2123.6 466.2,2123 466.9,2122.9 467.5,2122.8 468.2,2124 468.9,2123.4 469.5,2122.8 470.2,2123.2 470.9,2122.5 471.5,2123 472.2,2122.6 472.9,2122.7 473.5,2122.3 474.2,2122.3 474.9,2122.8 475.5,2122.6 476.2,2123.6 476.8,2122.1 477.5,2122.5 478.2,2122.8 478.8,2122 479.5,2121.9 480.2,2122.1 480.8,2122.3 481.5,2121.8 482.2,2121.4 482.8,2121.1 483.5,2121.6 484.2,2121.4 484.8,2121.1 485.5,2120.8 486.2,2121.2 486.8,2120.7 487.5,2120.7 488.1,2120.3 488.8,2120 489.5,2119.6 490.1,2118.4 490.8,2119.1 491.5,2119.4 492.1,2119 492.8,2118.5 493.5,2118.7 494.1,2118.5 494.8,2119 495.5,2118.3 496.1,2118 496.8,2117.8 497.4,2117.9 498.1,2116.9 498.8,2116.2 499.4,2115.1 500.1,2115.6 500.8,2114.9 501.4,2113.7 502.1,2114.2 502.8,2113 503.4,2112.7 504.1,2112 504.8,2110.8 505.4,2111.3 506.1,2110.1 506.7,2110.5 507.4,2110.3 508.1,2109 508.7,2107.8 509.4,2106.2 510.1,2106 510.7,2104.2 511.4,2104 512.1,2102.6 512.7,2101.7 513.4,2100.1 514.1,2099.4 514.7,2098.5 515.4,2096.7 516.1,2095.5 516.7,2094.1 517.4,2093.2 518,2092.6 518.7,2089.8 519.4,2088.3 520,2086 520.7,2083.8 521.4,2081.6 522,2078.8 522.7,2075 523.4,2068.4 524,2062.7 524.7,2054.5 525.4,2046.4 526,2044.6 526.7,2049.6 527.3,2060.9 528,2070.3 528.7,2078.3 529.3,2084.3 530,2091 530.7,2096.5 531.3,2100.5 532,2102.7 532.7,2103.6 533.3,2105.2 534,2107.1 534.7,2108.8 535.3,2109.3 536,2110.1 536.6,2111 537.3,2111 538,2111.1 538.6,2112.1 539.3,2113 540,2113.6 540.6,2113.2 541.3,2114.7 542,2115.3 542.6,2115.2 543.3,2115.2 544,2115.7 544.6,2116.1 545.3,2116.2 546,2116.4 546.6,2116.3 547.3,2116.5 547.9,2117.2 548.6,2116.5 549.3,2116.9 549.9,2116.2 550.6,2116.8 551.3,2117.2 551.9,2116.9 552.6,2117 553.3,2116.5 553.9,2117.7 554.6,2117.4 555.3,2117.3 555.9,2117.1 556.6,2117.5 557.2,2118.2 557.9,2118.3 558.6,2117.7 559.2,2117.4 559.9,2118.1 560.6,2118.4 561.2,2118.4 561.9,2119 562.6,2118.7 563.2,2118.7 563.9,2118.7 564.6,2118.5 565.2,2118.7 565.9,2119.3 566.5,2119.1 567.2,2118.6 567.9,2119.2 568.5,2119 569.2,2118.9 569.9,2119.5 570.5,2120.1 571.2,2120.2 571.9,2119.9 572.5,2120 573.2,2120.1 573.9,2120.2 574.5,2120.3 575.2,2120.6 575.9,2120.1 576.5,2120.5 577.2,2120.5 577.8,2121 578.5,2120.2 579.2,2120.2 579.8,2120.9 580.5,2120.9 581.2,2120.9 581.8,2120.7 582.5,2121.1 583.2,2120.2 583.8,2121.7 584.5,2121.6 585.2,2121.1 585.8,2120.7 586.5,2121.2 587.1,2121.3 587.8,2121 588.5,2121.6 589.1,2122.8 589.8,2122 590.5,2121.6 591.1,2122.8 591.8,2122.3 592.5,2122.5 593.1,2121.7 593.8,2122.2 594.5,2122 595.1,2122.5 595.8,2122.2 596.4,2122.1 597.1,2122.9 597.8,2122.2 598.4,2123 599.1,2123.2 599.8,2123.1 600.4,2122.9 601.1,2122.6 601.8,2122.8 602.4,2123.3 603.1,2124.2 603.8,2124 604.4,2123.8 605.1,2123.5 605.7,2124 606.4,2123.3 607.1,2123 607.7,2123.8 608.4,2124.2 609.1,2123.5 609.7,2123.9 610.4,2123.4 611.1,2124.5 611.7,2123.7 612.4,2123.8 613.1,2124.4 613.7,2124.1 614.4,2124.4 615.1,2124.9 615.7,2123.7 616.4,2124.3 617,2124.4 617.7,2124.6 618.4,2124.8 619,2124.7 619.7,2124.9 620.4,2124.9 621,2124.6 621.7,2124.6 622.4,2124.6 623,2125.4 623.7,2124.8 624.4,2124.8 625,2125.6 625.7,2125.2 626.3,2125.5 627,2125.3 627.7,2125.3 628.3,2125.6 629,2124.6 629.7,2125.4 630.3,2125.5 631,2125.9 631.7,2125.9 632.3,2125.4 633,2126.2 633.7,2125.3 634.3,2126.1 635,2124.9 635.6,2126.1 636.3,2126.3 637,2126.1 637.6,2126.2 638.3,2126.3 639,2125.9 639.6,2125.8 640.3,2126.1 641,2126.5 641.6,2126.2 642.3,2126 643,2126.3 643.6,2126.6 644.3,2126.2 645,2126.2 645.6,2126.4 646.3,2125.8 646.9,2126.1 647.6,2126.1 648.3,2126.4 648.9,2126.8 649.6,2126.5 650.3,2126.5 650.9,2126.4 651.6,2126.4 652.3,2127.3 652.9,2128.8 653.6,2130.8 654.3,2132 654.9,2130.1 655.6,2128.8 656.2,2127.9 656.9,2126.3 657.6,2126.4 658.2,2126.1 658.9,2125.9 659.6,2125.3 660.2,2125.4 660.9,2125.1 661.6,2124.8 662.2,2125 662.9,2125.1 663.6,2124.5 664.2,2124.4 664.9,2124.5 665.5,2124.6 666.2,2125.4 666.9,2124.1 667.5,2124.3 668.2,2124.3 668.9,2123.9 669.5,2124 670.2,2123.1 670.9,2123.2 671.5,2124.1 672.2,2123.5 672.9,2123.4 673.5,2123.4 674.2,2122.7 674.9,2123.2 675.5,2122.9 676.2,2122.9 676.8,2122.9 677.5,2123 678.2,2122.9 678.8,2123.7 679.5,2123.9 680.2,2123.2 680.8,2122.8 681.5,2123.2 682.2,2123.4 682.8,2122.8 683.5,2123.2 684.2,2122.6 684.8,2123.3 685.5,2122.4 686.1,2123.2 686.8,2122.1 687.5,2122.2 688.1,2122.6 688.8,2122.8 689.5,2123.6 690.1,2123.4 690.8,2123.5 691.5,2123.1 692.1,2123 692.8,2123.2 693.5,2123 694.1,2124.3 694.8,2123.4 695.4,2123.9 696.1,2123.9 696.8,2123.1 697.4,2123.4 698.1,2123.1 698.8,2123.6 699.4,2124.2 700.1,2124.2 700.8,2125.1 701.4,2125.1 702.1,2125 702.8,2124.8 703.4,2124.5 704.1,2125.4 704.8,2126.4 705.4,2126.1 706.1,2126.2 706.7,2126 707.4,2125.7 708.1,2125.7 708.7,2126.2 709.4,2126 710.1,2126.2 710.7,2126.9 711.4,2126.4 712.1,2125.5 712.7,2126.2 713.4,2125.5 714.1,2125.5 714.7,2126.3 715.4,2125.6 716,2125.5 716.7,2125 717.4,2125.7 718,2124.7 718.7,2124.9 719.4,2125.6 720,2125 720.7,2124.5 721.4,2124.2 722,2125 722.7,2124.9 723.4,2124.2 724,2124.4 724.7,2124.3 725.3,2124.7 726,2124.8 726.7,2124.6 727.3,2124 728,2124.1 728.7,2124.7 729.3,2124.3 730,2125" fill="none" stroke="#8e0f98" stroke-width="1.75" stroke-linejoin="round" clip-path="url(#c4512008)"/>
<polyline points="451.6,2118.4 452.3,2118.7 452.9,2118.6 453.6,2117.9 454.3,2117.6 454.9,2117.3 455.6,2117.1 456.3,2116.9 456.9,2117.9 457.6,2117.3 458.2,2116.8 458.9,2116.7 459.6,2115.9 460.2,2115.2 460.9,2115.1 461.6,2115.8 462.2,2115.4 462.9,2114.9 463.6,2115.2 464.2,2114.1 464.9,2114.4 465.6,2114.9 466.2,2113.5 466.9,2114.5 467.5,2114.6 468.2,2114.1 468.9,2113.8 469.5,2113.6 470.2,2113.5 470.9,2114.2 471.5,2113.7 472.2,2114 472.9,2113.8 473.5,2114.2 474.2,2113.3 474.9,2112.9 475.5,2114.5 476.2,2113.6 476.8,2112.9 477.5,2113 478.2,2112.8 478.8,2112.4 479.5,2112.3 480.2,2112.1 480.8,2112.2 481.5,2112.9 482.2,2113.1 482.8,2111.8 483.5,2111.6 484.2,2112.1 484.8,2111.6 485.5,2111.2 486.2,2111.9 486.8,2111.4 487.5,2111 488.1,2111.3 488.8,2111.2 489.5,2111.2 490.1,2111.2 490.8,2111 491.5,2110.2 492.1,2109.8 492.8,2109.9 493.5,2109.6 494.1,2109.7 494.8,2109.6 495.5,2109.2 496.1,2108.9 496.8,2109.2 497.4,2108.6 498.1,2108.8 498.8,2109.6 499.4,2108.2 500.1,2107.7 500.8,2107 501.4,2107 502.1,2105.7 502.8,2105.5 503.4,2105 504.1,2105.1 504.8,2104.6 505.4,2103.1 506.1,2102.2 506.7,2102.7 507.4,2101.1 508.1,2100.8 508.7,2098.1 509.4,2096.1 510.1,2092.9 510.7,2091.4 511.4,2089.3 512.1,2086.8 512.7,2085.5 513.4,2083.5 514.1,2081.1 514.7,2078.9 515.4,2077.3 516.1,2076.9 516.7,2075 517.4,2073.7 518,2070.9 518.7,2069.4 519.4,2066.9 520,2062.4 520.7,2059.1 521.4,2056.3 522,2052.2 522.7,2048 523.4,2040.8 524,2033.4 524.7,2024.3 525.4,2017.4 526,2014.1 526.7,2018 527.3,2027 528,2037.5 528.7,2046.5 529.3,2056 530,2064.2 530.7,2071.6 531.3,2077.1 532,2079.9 532.7,2082.7 533.3,2086.3 534,2088 534.7,2090.8 535.3,2092.5 536,2093.7 536.6,2094.4 537.3,2094.8 538,2096.8 538.6,2096.8 539.3,2098.7 540,2098.8 540.6,2099.7 541.3,2101.5 542,2102.4 542.6,2103.1 543.3,2104.1 544,2104.6 544.6,2104.7 545.3,2105.3 546,2106.5 546.6,2105.7 547.3,2106.5 547.9,2106.3 548.6,2105.8 549.3,2106 549.9,2105.8 550.6,2107.1 551.3,2105.7 551.9,2106.7 552.6,2107.2 553.3,2105.5 553.9,2106.6 554.6,2106.9 555.3,2106.6 555.9,2107.4 556.6,2107.2 557.2,2107.9 557.9,2108.4 558.6,2108.2 559.2,2109 559.9,2107.9 560.6,2109.7 561.2,2108.5 561.9,2108.5 562.6,2108.8 563.2,2109.1 563.9,2109.9 564.6,2108.7 565.2,2110.2 565.9,2109.9 566.5,2110.6 567.2,2109.5 567.9,2110.9 568.5,2109.7 569.2,2109.7 569.9,2110.2 570.5,2111.2 571.2,2110.7 571.9,2111.2 572.5,2111 573.2,2111.1 573.9,2111 574.5,2111.9 575.2,2111.7 575.9,2111.7 576.5,2111.8 577.2,2112.6 577.8,2111.6 578.5,2112.2 579.2,2112.6 579.8,2112.5 580.5,2112.4 581.2,2114.2 581.8,2112.5 582.5,2113.8 583.2,2112.9 583.8,2112.7 584.5,2112 585.2,2111.8 585.8,2111.2 586.5,2111.7 587.1,2110.8 587.8,2110.3 588.5,2109.6 589.1,2108 589.8,2108.6 590.5,2107.7 591.1,2109.6 591.8,2110.9 592.5,2111.7 593.1,2111.5 593.8,2112 594.5,2111.7 595.1,2111.9 595.8,2111.7 596.4,2112.5 597.1,2113 597.8,2113.3 598.4,2112.3 599.1,2112.5 599.8,2113.2 600.4,2112.1 601.1,2112.6 601.8,2113.1 602.4,2111.8 603.1,2112.6 603.8,2113.3 604.4,2113.3 605.1,2113.6 605.7,2112.9 606.4,2112.6 607.1,2112.2 607.7,2113.1 608.4,2113.6 609.1,2113.1 609.7,2113.8 610.4,2113.3 611.1,2113.4 611.7,2113.7 612.4,2113.1 613.1,2113.5 613.7,2114.5 614.4,2113.4 615.1,2113.6 615.7,2114.3 616.4,2113.8 617,2113.3 617.7,2114 618.4,2113.6 619,2113.4 619.7,2114.2 620.4,2114 621,2113.9 621.7,2113.9 622.4,2114 623,2113.6 623.7,2113.3 624.4,2114.3 625,2113.3 625.7,2112.3 626.3,2112.8 627,2112.9 627.7,2113.4 628.3,2113.8 629,2113.6 629.7,2112.3 630.3,2113.4 631,2113.3 631.7,2113.4 632.3,2113.2 633,2112.9 633.7,2113.5 634.3,2113.8 635,2113.8 635.6,2113.8 636.3,2113.5 637,2113.7 637.6,2113.6 638.3,2114 639,2113.5 639.6,2113.2 640.3,2114 641,2114.6 641.6,2114.1 642.3,2115.3 643,2115.8 643.6,2115.2 644.3,2115.2 645,2115.7 645.6,2115.9 646.3,2115.2 646.9,2115.5 647.6,2115.5 648.3,2115 648.9,2115.8 649.6,2116.3 650.3,2116.5 650.9,2116.2 651.6,2115.7 652.3,2117.9 652.9,2121.3 653.6,2124.3 654.3,2125.8 654.9,2124.4 655.6,2120.9 656.2,2119.6 656.9,2118.3 657.6,2117.3 658.2,2117 658.9,2116.6 659.6,2116.3 660.2,2116 660.9,2115.7 661.6,2114.8 662.2,2114.5 662.9,2114.3 663.6,2113.7 664.2,2112.9 664.9,2112.8 665.5,2112.2 666.2,2111.7 666.9,2113 667.5,2112.2 668.2,2112.1 668.9,2112.7 669.5,2112.7 670.2,2113.4 670.9,2112.9 671.5,2112.7 672.2,2112 672.9,2113.5 673.5,2113 674.2,2114 674.9,2113.5 675.5,2114 676.2,2113.9 676.8,2114.2 677.5,2113.8 678.2,2114.3 678.8,2114.5 679.5,2113.9 680.2,2114.3 680.8,2114.2 681.5,2114.6 682.2,2114.7 682.8,2116 683.5,2115.1 684.2,2115 684.8,2115.8 685.5,2116.2 686.1,2115.7 686.8,2115.7 687.5,2116 688.1,2115 688.8,2114.8 689.5,2116 690.1,2115.5 690.8,2117.1 691.5,2115.7 692.1,2114.8 692.8,2115.9 693.5,2115.7 694.1,2116.2 694.8,2117.3 695.4,2115.9 696.1,2114.7 696.8,2115.8 697.4,2116.2 698.1,2115.7 698.8,2116 699.4,2115.7 700.1,2116.1 700.8,2116.1 701.4,2115.6 702.1,2116.6 702.8,2115.9 703.4,2115.7 704.1,2116 704.8,2116.4 705.4,2116.2 706.1,2116.8 706.7,2116.6 707.4,2116.7 708.1,2117.5 708.7,2116.4 709.4,2116.6 710.1,2115.8 710.7,2116.3 711.4,2116.4 712.1,2116.6 712.7,2116.4 713.4,2115.9 714.1,2116.4 714.7,2116.1 715.4,2116.3 716,2116.6 716.7,2117.2 717.4,2117.1 718,2116.9 718.7,2116.4 719.4,2117 720,2116.1 720.7,2116.7 721.4,2116.6 722,2115.9 722.7,2117.6 723.4,2116.6 724,2116.4 724.7,2117.3 725.3,2116.4 726,2117.6 726.7,2118.1 727.3,2117.5 728,2117.6 728.7,2117.6 729.3,2117.8 730,2117.2" fill="none" stroke="#ffa400" stroke-width="1.75" stroke-linejoin="round" clip-path="url(#c4512008)"/>
<rect x="451.6" y="2008.8" width="278.4" height="130.8" fill="none" stroke="#333" stroke-width="1.1"/>
<line x1="447.8" y1="2032.5" x2="451.6" y2="2032.5" stroke="#222" stroke-width="0.9" />
<text x="445.8" y="2036.3" font-size="10.5" text-anchor="end" class="dv">20</text>
<line x1="447.8" y1="2062.2" x2="451.6" y2="2062.2" stroke="#222" stroke-width="0.9" />
<text x="445.8" y="2066" font-size="10.5" text-anchor="end" class="dv">15</text>
<line x1="447.8" y1="2092" x2="451.6" y2="2092" stroke="#222" stroke-width="0.9" />
<text x="445.8" y="2095.8" font-size="10.5" text-anchor="end" class="dv">10</text>
<line x1="447.8" y1="2121.7" x2="451.6" y2="2121.7" stroke="#222" stroke-width="0.9" />
<text x="445.8" y="2125.5" font-size="10.5" text-anchor="end" class="dv">5</text>
<line x1="451.6" y1="2139.6" x2="451.6" y2="2143.4" stroke="#222" stroke-width="0.9" />
<text x="448.1" y="2157.6" font-size="14.7" text-anchor="middle">-3 Kb</text>
<line x1="527.5" y1="2139.6" x2="527.5" y2="2143.4" stroke="#222" stroke-width="0.9" />
<text x="528.6" y="2157.6" font-size="14.7" text-anchor="middle">TSS</text>
<line x1="654.1" y1="2139.6" x2="654.1" y2="2143.4" stroke="#222" stroke-width="0.9" />
<text x="654.4" y="2157.6" font-size="14.7" text-anchor="middle">TES</text>
<line x1="730" y1="2139.6" x2="730" y2="2143.4" stroke="#222" stroke-width="0.9" />
<text x="743" y="2157.6" font-size="14.7" text-anchor="end">3 Kb</text>
<clipPath id="c1132178"><rect x="113.7" y="2178" width="279.9" height="131.4"/></clipPath>
<polyline points="113.7,2213.8 114.1,2213.1 114.4,2220.1 114.8,2214.1 115.2,2212.3 115.5,2199.7 115.9,2212 116.3,2217.2 116.7,2209.4 117,2217 117.4,2218.9 117.8,2206.1 118.1,2213.8 118.5,2213.4 118.9,2212.5 119.2,2214.1 119.6,2204.9 120,2207.1 120.3,2212.2 120.7,2217.8 121.1,2210.1 121.4,2212.4 121.8,2213 122.2,2218.3 122.6,2215.5 122.9,2215.4 123.3,2214.9 123.7,2215.8 124,2205.9 124.4,2215.4 124.8,2211.9 125.1,2207.1 125.5,2211.7 125.9,2213.2 126.2,2221.5 126.6,2219.7 127,2210 127.3,2214.1 127.7,2210.7 128.1,2211.9 128.5,2217 128.8,2220.1 129.2,2208.7 129.6,2218 129.9,2216 130.3,2214.6 130.7,2212.1 131,2218.3 131.4,2215 131.8,2210.6 132.1,2214.7 132.5,2215.3 132.9,2214.9 133.2,2212.2 133.6,2215.9 134,2214.4 134.4,2215.9 134.7,2226.3 135.1,2220.9 135.5,2224.8 135.8,2213.2 136.2,2221.4 136.6,2221.6 136.9,2221.5 137.3,2228.6 137.7,2213.1 138,2227.2 138.4,2214.2 138.8,2230 139.1,2218.1 139.5,2220.2 139.9,2224.2 140.3,2213.9 140.6,2216.8 141,2216.4 141.4,2218.7 141.7,2217 142.1,2224.7 142.5,2215.9 142.8,2220.7 143.2,2214.4 143.6,2222.2 143.9,2226.3 144.3,2225.3 144.7,2218.1 145,2219.6 145.4,2215.2 145.8,2227.7 146.2,2213.5 146.5,2221.4 146.9,2216 147.3,2214.8 147.6,2221.1 148,2221 148.4,2229.3 148.7,2227 149.1,2234.6 149.5,2222.9 149.8,2218.9 150.2,2223.7 150.6,2219.2 150.9,2230 151.3,2220.3 151.7,2221.7 152.1,2234.9 152.4,2216 152.8,2225.2 153.2,2226.9 153.5,2226.5 153.9,2225 154.3,2231 154.6,2227.4 155,2238.8 155.4,2225.6 155.7,2228.9 156.1,2231.7 156.5,2224.2 156.8,2226.1 157.2,2235.2 157.6,2229.5 158,2232.7 158.3,2226.3 158.7,2232.9 159.1,2223.3 159.4,2238.1 159.8,2246.2 160.2,2224.2 160.5,2236.9 160.9,2235.2 161.3,2228.7 161.6,2224.7 162,2228.1 162.4,2240.6 162.7,2239.8 163.1,2234.7 163.5,2234.8 163.9,2237.1 164.2,2230.7 164.6,2235 165,2238.3 165.3,2241.3 165.7,2236 166.1,2234.8 166.4,2245.1 166.8,2250.1 167.2,2231.8 167.5,2243.9 167.9,2243 168.3,2241.6 168.6,2244.3 169,2239.6 169.4,2241.5 169.8,2254.4 170.1,2237.9 170.5,2252.1 170.9,2248.5 171.2,2242.9 171.6,2251.9 172,2254.8 172.3,2253.7 172.7,2247.6 173.1,2253.5 173.4,2258.3 173.8,2250.4 174.2,2254.2 174.5,2246.6 174.9,2261.4 175.3,2268 175.7,2255.8 176,2250.9 176.4,2257.2 176.8,2266.3 177.1,2260.1 177.5,2264.1 177.9,2265.1 178.2,2280 178.6,2264.1 179,2268.2 179.3,2275.7 179.7,2274.5 180.1,2270.5 180.4,2272 180.8,2272.8 181.2,2274.8 181.6,2275.1 181.9,2274.6 182.3,2278 182.7,2277 183,2279.2 183.4,2276.8 183.8,2291.5 184.1,2287.4 184.5,2290.5 184.9,2286.8 185.2,2292.4 185.6,2293.3 186,2285.4 186.3,2295.3 186.7,2295.2 187.1,2294.7 187.5,2284.5 187.8,2288.5 188.2,2294.4 188.6,2292.9 188.9,2303.9 189.3,2289.3 189.7,2288.4 190,2288.2 190.4,2283.1 190.8,2277.9 191.1,2271.9 191.5,2264.1 191.9,2258.8 192.2,2252.9 192.6,2247.6 193,2244.8 193.4,2239.4 193.7,2240.8 194.1,2235.1 194.5,2231.6 194.8,2227.9 195.2,2229.2 195.6,2225.2 195.9,2222.5 196.3,2221.3 196.7,2222.6 197,2217.5 197.4,2214.2 197.8,2215.6 198.1,2213.6 198.5,2216 198.9,2215.4 199.3,2214.6 199.6,2213.4 200,2213.8 200.4,2210.1 200.7,2210.2 201.1,2210.2 201.5,2209 201.8,2208.5 202.2,2206.8 202.6,2206.5 202.9,2207.2 203.3,2208.4 203.7,2209.4 204,2205.6 204.4,2205.3 204.8,2204 205.2,2205.3 205.5,2204.7 205.9,2204.6 206.3,2204.9 206.6,2206.4 207,2205.9 207.4,2202.6 207.7,2206.9 208.1,2205.3 208.5,2203 208.8,2205.2 209.2,2204.4 209.6,2204.4 210,2201.2 210.3,2202.4 210.7,2205.6 211.1,2202.4 211.4,2202.6 211.8,2203 212.2,2200.3 212.5,2199.3 212.9,2200.9 213.3,2201.3 213.6,2197 214,2198.3 214.4,2200.2 214.7,2200 215.1,2200 215.5,2199.7 215.9,2199 216.2,2199.1 216.6,2199.3 217,2200.7 217.3,2200.1 217.7,2199.2 218.1,2198.1 218.4,2201.6 218.8,2200.1 219.2,2198.7 219.5,2200.5 219.9,2200.7 220.3,2198.3 220.6,2199.4 221,2194.9 221.4,2200 221.8,2198.1 222.1,2197.3 222.5,2197.7 222.9,2199.4 223.2,2199.3 223.6,2198.2 224,2199.2 224.3,2197.9 224.7,2200.2 225.1,2198.1 225.4,2195.9 225.8,2196.6 226.2,2198.6 226.5,2197.2 226.9,2197.1 227.3,2200.1 227.7,2197.2 228,2199.9 228.4,2199.2 228.8,2199.5 229.1,2197.5 229.5,2194.9 229.9,2198.3 230.2,2198.8 230.6,2198.9 231,2198.4 231.3,2194.1 231.7,2197.8 232.1,2196.9 232.4,2197.4 232.8,2195.3 233.2,2195.4 233.6,2195.9 233.9,2197.2 234.3,2193.8 234.7,2197.6 235,2197 235.4,2197 235.8,2197.8 236.1,2198.6 236.5,2197 236.9,2194.4 237.2,2195.5 237.6,2196.1 238,2195.1 238.3,2194.1 238.7,2194.2 239.1,2195.3 239.5,2197.4 239.8,2196.1 240.2,2194.2 240.6,2195.8 240.9,2195.2 241.3,2195.3 241.7,2195.5 242,2194.2 242.4,2190 242.8,2193.3 243.1,2194.7 243.5,2193.2 243.9,2194.2 244.2,2193.7 244.6,2194.8 245,2194.4 245.4,2195.8 245.7,2195 246.1,2195.7 246.5,2194.8 246.8,2195.2 247.2,2194.8 247.6,2193.9 247.9,2195.5 248.3,2190.6 248.7,2193.4 249,2196.9 249.4,2196.1 249.8,2191.7 250.1,2195.9 250.5,2192 250.9,2193.6 251.3,2195.2 251.6,2194.4 252,2192.6 252.4,2195.6 252.7,2194.6 253.1,2195.2 253.5,2193.8 253.8,2196.2 254.2,2193.1 254.6,2192.6 254.9,2192.4 255.3,2193.5 255.7,2194.7 256,2193.9 256.4,2194.5 256.8,2193 257.2,2194.9 257.5,2194.6 257.9,2193.6 258.3,2193.3 258.6,2195.5 259,2193.5 259.4,2193.8 259.7,2194.1 260.1,2195.4 260.5,2193.8 260.8,2193.8 261.2,2193.8 261.6,2195.8 261.9,2193 262.3,2192.5 262.7,2193.7 263.1,2195.5 263.4,2191.5 263.8,2192.5 264.2,2193.5 264.5,2192.5 264.9,2191.5 265.3,2194.8 265.6,2193.5 266,2192.7 266.4,2190.9 266.7,2193.1 267.1,2194.4 267.5,2193.2 267.8,2194.4 268.2,2190.9 268.6,2193 269,2193.3 269.3,2193.8 269.7,2194.6 270.1,2189.7 270.4,2193 270.8,2190.1 271.2,2192.9 271.5,2192.4 271.9,2192.6 272.3,2194.4 272.6,2193.6 273,2193.7 273.4,2192.6 273.7,2192.6 274.1,2193.4 274.5,2193.2 274.9,2193.8 275.2,2192.9 275.6,2193.5 276,2191.3 276.3,2192.7 276.7,2192.1 277.1,2194.6 277.4,2194.5 277.8,2192.3 278.2,2193.7 278.5,2191.8 278.9,2192.9 279.3,2191.6 279.6,2194.9 280,2196.2 280.4,2190.2 280.8,2192.9 281.1,2193.7 281.5,2192.2 281.9,2192.8 282.2,2193.2 282.6,2190.9 283,2193.1 283.3,2190.3 283.7,2194.2 284.1,2193.3 284.4,2188.8 284.8,2191.2 285.2,2193.4 285.5,2192.2 285.9,2192.8 286.3,2190.4 286.7,2193.2 287,2192.9 287.4,2192 287.8,2190.5 288.1,2189 288.5,2191.5 288.9,2189 289.2,2193.7 289.6,2191.2 290,2191.8 290.3,2191 290.7,2192.9 291.1,2191.9 291.4,2192.6 291.8,2193.8 292.2,2190.7 292.6,2193.2 292.9,2191.2 293.3,2192.5 293.7,2190.2 294,2190.2 294.4,2190.6 294.8,2191 295.1,2191.2 295.5,2194.6 295.9,2192.5 296.2,2192.7 296.6,2192.9 297,2192.9 297.3,2192.6 297.7,2192.6 298.1,2190 298.5,2192.2 298.8,2192.6 299.2,2189.7 299.6,2190.8 299.9,2193.2 300.3,2192 300.7,2190.4 301,2193.8 301.4,2190.7 301.8,2192.3 302.1,2191 302.5,2192.1 302.9,2191.7 303.3,2193.4 303.6,2189.9 304,2189.2 304.4,2188.8 304.7,2192.7 305.1,2192 305.5,2189.5 305.8,2190.1 306.2,2191.1 306.6,2193.2 306.9,2189.7 307.3,2190.6 307.7,2190.8 308,2191.8 308.4,2189.3 308.8,2189.9 309.2,2192.5 309.5,2189.4 309.9,2192.7 310.3,2192.2 310.6,2193.3 311,2192.8 311.4,2191.1 311.7,2193.1 312.1,2193.4 312.5,2191.5 312.8,2193.3 313.2,2190.9 313.6,2191.6 313.9,2191.8 314.3,2194.7 314.7,2191.4 315.1,2190.7 315.4,2192.6 315.8,2195.6 316.2,2193.7 316.5,2198.9 316.9,2202.8 317.3,2199.8 317.6,2200.6 318,2209.3 318.4,2207.8 318.7,2211.1 319.1,2209.9 319.5,2209.9 319.8,2205.9 320.2,2207.3 320.6,2200.7 321,2201.9 321.3,2207.3 321.7,2199.9 322.1,2207.7 322.4,2215.2 322.8,2207.2 323.2,2218.9 323.5,2218.6 323.9,2206.1 324.3,2212.7 324.6,2206.3 325,2209.4 325.4,2209.9 325.7,2205 326.1,2213.2 326.5,2219.1 326.9,2211.1 327.2,2215.8 327.6,2217.9 328,2207.6 328.3,2214.8 328.7,2220 329.1,2218.6 329.4,2205.8 329.8,2215.3 330.2,2211.6 330.5,2208.7 330.9,2206.8 331.3,2205 331.6,2204.9 332,2197.2 332.4,2215.7 332.8,2208.9 333.1,2209.1 333.5,2200.2 333.9,2212.8 334.2,2210.2 334.6,2217.4 335,2210.6 335.3,2210.8 335.7,2209.8 336.1,2208.3 336.4,2211.4 336.8,2215.3 337.2,2215.5 337.5,2216.8 337.9,2212.5 338.3,2219.3 338.7,2204.6 339,2202.9 339.4,2208.7 339.8,2210.2 340.1,2210.1 340.5,2213.8 340.9,2207.4 341.2,2217.3 341.6,2214.6 342,2205.7 342.3,2206.2 342.7,2212.6 343.1,2213.8 343.4,2201.5 343.8,2212 344.2,2207.8 344.6,2208.5 344.9,2214 345.3,2196.8 345.7,2210.3 346,2221.4 346.4,2216.1 346.8,2208.9 347.1,2213 347.5,2210.4 347.9,2208.8 348.2,2204.9 348.6,2217.8 349,2214.5 349.3,2210.6 349.7,2212.4 350.1,2216.2 350.5,2216.3 350.8,2210 351.2,2208.2 351.6,2208.2 351.9,2209.2 352.3,2208.9 352.7,2207.2 353,2210.5 353.4,2212.9 353.8,2215.6 354.1,2201.3 354.5,2214.7 354.9,2194.6 355.2,2206.9 355.6,2210.8 356,2207.4 356.4,2209.2 356.7,2206.7 357.1,2207.3 357.5,2200.9 357.8,2213.6 358.2,2204.8 358.6,2214.4 358.9,2217.1 359.3,2204.3 359.7,2210.9 360,2206.3 360.4,2213.8 360.8,2201.9 361.1,2209.2 361.5,2211.2 361.9,2203 362.3,2209.5 362.6,2204.5 363,2198.9 363.4,2211 363.7,2197.3 364.1,2207.5 364.5,2199.4 364.8,2208 365.2,2208.4 365.6,2202.1 365.9,2210.1 366.3,2202.6 366.7,2204.4 367,2203.7 367.4,2202.9 367.8,2199.2 368.2,2203.6 368.5,2209.9 368.9,2204.9 369.3,2217.4 369.6,2205.5 370,2203.4 370.4,2207.5 370.7,2207.4 371.1,2205.5 371.5,2204.4 371.8,2207.7 372.2,2211.3 372.6,2208.8 372.9,2218.2 373.3,2201.8 373.7,2204.1 374.1,2204.1 374.4,2212.9 374.8,2205.1 375.2,2209.4 375.5,2196.7 375.9,2197.5 376.3,2204.6 376.6,2197.2 377,2200.5 377.4,2213.6 377.7,2200.9 378.1,2208 378.5,2203.2 378.8,2206.1 379.2,2207.4 379.6,2208.7 380,2213.7 380.3,2208.2 380.7,2206.2 381.1,2204 381.4,2211.8 381.8,2210.8 382.2,2212.8 382.5,2210.4 382.9,2206 383.3,2209.6 383.6,2207.1 384,2214.2 384.4,2205.4 384.7,2204.9 385.1,2205.9 385.5,2202.1 385.9,2207.5 386.2,2203.4 386.6,2200.8 387,2206.1 387.3,2208.3 387.7,2198.3 388.1,2200.5 388.4,2207.7 388.8,2208.5 389.2,2207.6 389.5,2206.3 389.9,2202.1 390.3,2210.5 390.6,2215.1 391,2205.5 391.4,2207.5 391.8,2205.8 392.1,2212.3 392.5,2204.3 392.9,2205.1 393.2,2208.3 393.6,2201.2" fill="none" stroke="#8e0f98" stroke-width="1.55" stroke-linejoin="round" clip-path="url(#c1132178)"/>
<polyline points="113.7,2200.9 114.1,2194.4 114.4,2201.8 114.8,2203.3 115.2,2204.4 115.5,2200.9 115.9,2207.3 116.3,2205.1 116.7,2199.9 117,2202.7 117.4,2206.9 117.8,2196.9 118.1,2200 118.5,2209.5 118.9,2201.5 119.2,2199.2 119.6,2193.8 120,2192.9 120.3,2203.8 120.7,2198.8 121.1,2202 121.4,2204.1 121.8,2204.3 122.2,2207.8 122.6,2202.3 122.9,2199.9 123.3,2202.8 123.7,2202.8 124,2200.7 124.4,2204.8 124.8,2204.6 125.1,2211.1 125.5,2201.2 125.9,2205 126.2,2187.5 126.6,2203.4 127,2215 127.3,2196.7 127.7,2202.3 128.1,2209.4 128.5,2205.7 128.8,2195.6 129.2,2206.4 129.6,2195.4 129.9,2204.2 130.3,2208 130.7,2202.5 131,2202.4 131.4,2200.3 131.8,2198.8 132.1,2202.7 132.5,2209.5 132.9,2207.7 133.2,2209.3 133.6,2191.6 134,2201.5 134.4,2207.9 134.7,2206.9 135.1,2207.5 135.5,2200.2 135.8,2193.9 136.2,2205.1 136.6,2204.4 136.9,2199.8 137.3,2212.9 137.7,2202.5 138,2205.7 138.4,2201.5 138.8,2206.5 139.1,2202.5 139.5,2209.7 139.9,2206.8 140.3,2213.2 140.6,2208.9 141,2204.1 141.4,2205.7 141.7,2206.7 142.1,2208.8 142.5,2205.4 142.8,2204.2 143.2,2204.2 143.6,2205 143.9,2209.2 144.3,2204.1 144.7,2211.1 145,2208.3 145.4,2208.6 145.8,2212.7 146.2,2200.6 146.5,2210.6 146.9,2213.8 147.3,2208.5 147.6,2207 148,2202.2 148.4,2200.5 148.7,2216.7 149.1,2211.1 149.5,2214.3 149.8,2215.2 150.2,2209.6 150.6,2213.1 150.9,2209.6 151.3,2210.5 151.7,2210.5 152.1,2204.7 152.4,2211.7 152.8,2219.9 153.2,2213.7 153.5,2210.3 153.9,2204.9 154.3,2210.4 154.6,2212.3 155,2219.3 155.4,2208.7 155.7,2213.6 156.1,2210.1 156.5,2211.9 156.8,2216.5 157.2,2212.2 157.6,2216.7 158,2219.1 158.3,2208.4 158.7,2220.6 159.1,2217.5 159.4,2211 159.8,2221.2 160.2,2226.9 160.5,2228.6 160.9,2221.7 161.3,2218.4 161.6,2225.7 162,2215 162.4,2221.2 162.7,2218.2 163.1,2228.2 163.5,2223.4 163.9,2222.5 164.2,2220.1 164.6,2218.8 165,2228.7 165.3,2230.1 165.7,2225.2 166.1,2238.1 166.4,2231.8 166.8,2230.2 167.2,2229 167.5,2228.7 167.9,2223.1 168.3,2232.6 168.6,2237.2 169,2234.6 169.4,2234.3 169.8,2235.3 170.1,2235 170.5,2252.2 170.9,2242.7 171.2,2243.4 171.6,2234.9 172,2238.4 172.3,2237.9 172.7,2237.1 173.1,2248.9 173.4,2244.6 173.8,2245.2 174.2,2252.4 174.5,2252.3 174.9,2246 175.3,2247.6 175.7,2246.5 176,2256.6 176.4,2257 176.8,2255.1 177.1,2248 177.5,2259.1 177.9,2255.8 178.2,2262.5 178.6,2257.6 179,2266.9 179.3,2278.4 179.7,2267.7 180.1,2265.9 180.4,2271.8 180.8,2266.8 181.2,2271.1 181.6,2277.2 181.9,2269.8 182.3,2278.9 182.7,2275.3 183,2278.2 183.4,2279.1 183.8,2279 184.1,2276.6 184.5,2282.9 184.9,2286.2 185.2,2281.1 185.6,2284.3 186,2292.2 186.3,2288.6 186.7,2287.2 187.1,2292.5 187.5,2297.6 187.8,2298.5 188.2,2305.7 188.6,2291.6 188.9,2296.9 189.3,2289.1 189.7,2282.9 190,2287.4 190.4,2281.2 190.8,2271.4 191.1,2265.6 191.5,2257.5 191.9,2250.2 192.2,2242.4 192.6,2239.8 193,2235.8 193.4,2231.5 193.7,2227 194.1,2225.8 194.5,2223.1 194.8,2220.2 195.2,2216.3 195.6,2214.3 195.9,2212.6 196.3,2212.6 196.7,2210.4 197,2207 197.4,2209.9 197.8,2204.7 198.1,2204.6 198.5,2202.1 198.9,2203.8 199.3,2202.7 199.6,2201 200,2199.7 200.4,2198 200.7,2200.4 201.1,2197.5 201.5,2200.6 201.8,2196.9 202.2,2197.2 202.6,2197.2 202.9,2196.5 203.3,2197.9 203.7,2196.7 204,2195.1 204.4,2192.9 204.8,2195.5 205.2,2194.9 205.5,2194.4 205.9,2194.4 206.3,2194.7 206.6,2195 207,2190.3 207.4,2191.1 207.7,2194 208.1,2191.7 208.5,2194 208.8,2192.8 209.2,2192.7 209.6,2193.9 210,2195 210.3,2192.1 210.7,2193.6 211.1,2191.5 211.4,2194.4 211.8,2191.2 212.2,2192.7 212.5,2190 212.9,2193.1 213.3,2192 213.6,2191.1 214,2191.6 214.4,2191.4 214.7,2191.7 215.1,2190.6 215.5,2190.9 215.9,2191 216.2,2188.9 216.6,2187.3 217,2191.8 217.3,2190.2 217.7,2188.6 218.1,2192.5 218.4,2188 218.8,2192.2 219.2,2189.9 219.5,2189.7 219.9,2190.3 220.3,2187.8 220.6,2191.7 221,2189.2 221.4,2191.2 221.8,2190.2 222.1,2189.6 222.5,2189.8 222.9,2190.6 223.2,2192.9 223.6,2188.9 224,2188 224.3,2190.6 224.7,2190.1 225.1,2188.9 225.4,2189.1 225.8,2191.1 226.2,2190.2 226.5,2189.8 226.9,2190.5 227.3,2190 227.7,2191.3 228,2190.7 228.4,2189 228.8,2191.2 229.1,2190.1 229.5,2189.2 229.9,2189.5 230.2,2188.3 230.6,2191.9 231,2190.6 231.3,2190.2 231.7,2188.7 232.1,2188.9 232.4,2190.3 232.8,2188.8 233.2,2191 233.6,2189.1 233.9,2190 234.3,2191.7 234.7,2190.4 235,2188.9 235.4,2190.1 235.8,2189.3 236.1,2187.2 236.5,2190.3 236.9,2189.5 237.2,2192.2 237.6,2191.1 238,2192.2 238.3,2188.5 238.7,2189 239.1,2188.7 239.5,2189.2 239.8,2189.2 240.2,2191 240.6,2188.4 240.9,2186.8 241.3,2190.6 241.7,2187.6 242,2186.2 242.4,2188.5 242.8,2188.7 243.1,2189.9 243.5,2189.6 243.9,2187.1 244.2,2189.4 244.6,2189.8 245,2188.5 245.4,2191 245.7,2192.1 246.1,2189.8 246.5,2187.3 246.8,2188 247.2,2188.5 247.6,2188.2 247.9,2191.1 248.3,2189.1 248.7,2190.4 249,2188.8 249.4,2188.9 249.8,2188.7 250.1,2188.3 250.5,2187.7 250.9,2187.1 251.3,2189.5 251.6,2189.3 252,2186.1 252.4,2188 252.7,2186.9 253.1,2188.9 253.5,2190.8 253.8,2188.8 254.2,2188.2 254.6,2188.5 254.9,2190.5 255.3,2187.3 255.7,2188.7 256,2186.4 256.4,2190.6 256.8,2186.5 257.2,2188.4 257.5,2188.2 257.9,2187.4 258.3,2189.3 258.6,2187.9 259,2188 259.4,2188.2 259.7,2188.6 260.1,2188.3 260.5,2187.7 260.8,2189.9 261.2,2187 261.6,2190.4 261.9,2189.1 262.3,2185.4 262.7,2188.3 263.1,2187.4 263.4,2187.2 263.8,2189.3 264.2,2188.1 264.5,2189.9 264.9,2187.2 265.3,2188.4 265.6,2188.7 266,2186.8 266.4,2186.7 266.7,2188.7 267.1,2188.2 267.5,2189.1 267.8,2187.7 268.2,2190.8 268.6,2187.3 269,2186.9 269.3,2189.7 269.7,2189.8 270.1,2189.8 270.4,2188.5 270.8,2187.5 271.2,2187.8 271.5,2188.4 271.9,2190.1 272.3,2189.2 272.6,2188.3 273,2187.7 273.4,2190.4 273.7,2190 274.1,2186.6 274.5,2185.1 274.9,2187.9 275.2,2189.5 275.6,2187.8 276,2187 276.3,2187.9 276.7,2189.2 277.1,2188.9 277.4,2188.3 277.8,2188.6 278.2,2187.9 278.5,2189.3 278.9,2188.2 279.3,2188.1 279.6,2188.2 280,2188.3 280.4,2187.5 280.8,2187.8 281.1,2188.1 281.5,2188.3 281.9,2189 282.2,2189.2 282.6,2187.7 283,2187.2 283.3,2186.9 283.7,2187.4 284.1,2187.8 284.4,2187 284.8,2187.5 285.2,2188.6 285.5,2188.6 285.9,2190.5 286.3,2187.3 286.7,2188.8 287,2185.9 287.4,2188.3 287.8,2189.1 288.1,2184.9 288.5,2187.9 288.9,2187.1 289.2,2187.3 289.6,2187.9 290,2187.3 290.3,2189.9 290.7,2184.2 291.1,2186.2 291.4,2185 291.8,2188.2 292.2,2187.3 292.6,2187.7 292.9,2188.4 293.3,2186.8 293.7,2185.8 294,2188.8 294.4,2187.9 294.8,2184.4 295.1,2189.7 295.5,2187.1 295.9,2190.8 296.2,2185.4 296.6,2184.3 297,2187.7 297.3,2189.2 297.7,2186.4 298.1,2188.1 298.5,2186.5 298.8,2189 299.2,2188 299.6,2188.8 299.9,2186.9 300.3,2189 300.7,2186.8 301,2189.1 301.4,2187.7 301.8,2188.6 302.1,2187.8 302.5,2185.3 302.9,2186.9 303.3,2186.3 303.6,2188 304,2187.9 304.4,2186.6 304.7,2189.8 305.1,2187.6 305.5,2185.6 305.8,2186.3 306.2,2190.3 306.6,2188.3 306.9,2184.9 307.3,2187 307.7,2185 308,2185.2 308.4,2186.1 308.8,2184.8 309.2,2187.5 309.5,2188.1 309.9,2188.6 310.3,2188.6 310.6,2183.9 311,2187.9 311.4,2188.1 311.7,2189.1 312.1,2188.9 312.5,2188.6 312.8,2190.3 313.2,2188.6 313.6,2190.1 313.9,2188.2 314.3,2189 314.7,2189.4 315.1,2189 315.4,2189.3 315.8,2192.4 316.2,2191.4 316.5,2195.6 316.9,2195.2 317.3,2198 317.6,2194.3 318,2201.3 318.4,2205.6 318.7,2204.5 319.1,2205.6 319.5,2207.4 319.8,2196.3 320.2,2201.7 320.6,2206.9 321,2200.6 321.3,2201.1 321.7,2195.8 322.1,2209.5 322.4,2207.6 322.8,2201.9 323.2,2199.5 323.5,2204.3 323.9,2204.7 324.3,2200.9 324.6,2204.2 325,2207.3 325.4,2200.4 325.7,2206.1 326.1,2206.8 326.5,2201.7 326.9,2202.9 327.2,2197.2 327.6,2200.3 328,2197.5 328.3,2205.6 328.7,2203 329.1,2205.3 329.4,2209.4 329.8,2203.3 330.2,2197.2 330.5,2200.5 330.9,2204.5 331.3,2201.3 331.6,2210.2 332,2198 332.4,2203.1 332.8,2200.5 333.1,2211.1 333.5,2204.3 333.9,2212.8 334.2,2211.3 334.6,2208 335,2206.5 335.3,2214.2 335.7,2197 336.1,2203.5 336.4,2201 336.8,2202.9 337.2,2205.9 337.5,2207.7 337.9,2199.8 338.3,2202.9 338.7,2203.6 339,2204.2 339.4,2199.1 339.8,2206.1 340.1,2203.9 340.5,2197 340.9,2214.6 341.2,2205.7 341.6,2198.3 342,2200.1 342.3,2211.2 342.7,2205.1 343.1,2199.6 343.4,2207.4 343.8,2199.2 344.2,2201 344.6,2208.7 344.9,2200 345.3,2195.7 345.7,2202.6 346,2203 346.4,2206.4 346.8,2200.8 347.1,2201.8 347.5,2205.2 347.9,2205.8 348.2,2202.7 348.6,2209.9 349,2194.3 349.3,2198.2 349.7,2202.4 350.1,2199.2 350.5,2208.5 350.8,2197.2 351.2,2202.3 351.6,2202.3 351.9,2199 352.3,2205.9 352.7,2208.1 353,2197.8 353.4,2197.9 353.8,2204.5 354.1,2195.4 354.5,2209.3 354.9,2204.3 355.2,2208 355.6,2206.3 356,2203.1 356.4,2211.6 356.7,2206.2 357.1,2202.8 357.5,2207.4 357.8,2199.3 358.2,2199.1 358.6,2199.1 358.9,2203.9 359.3,2201.6 359.7,2194.8 360,2210.1 360.4,2199.5 360.8,2199.4 361.1,2202 361.5,2204.7 361.9,2196.4 362.3,2201.6 362.6,2200.8 363,2199.1 363.4,2194.6 363.7,2202.7 364.1,2204.2 364.5,2206.6 364.8,2212.9 365.2,2197.8 365.6,2203.4 365.9,2202.3 366.3,2193.5 366.7,2206.2 367,2200.1 367.4,2205.7 367.8,2204.8 368.2,2209.2 368.5,2202.8 368.9,2207.2 369.3,2203.7 369.6,2205 370,2204.1 370.4,2210.8 370.7,2200.8 371.1,2206.1 371.5,2192.6 371.8,2186.8 372.2,2192.4 372.6,2203 372.9,2195.6 373.3,2202.1 373.7,2200.7 374.1,2204.5 374.4,2198.9 374.8,2198.2 375.2,2209.6 375.5,2210 375.9,2200 376.3,2198.4 376.6,2204.4 377,2212.7 377.4,2201.3 377.7,2210.6 378.1,2197.9 378.5,2200.9 378.8,2207.7 379.2,2196.6 379.6,2205.7 380,2198.4 380.3,2203.1 380.7,2202.6 381.1,2197.1 381.4,2199.2 381.8,2209.6 382.2,2203.2 382.5,2208.1 382.9,2203.1 383.3,2204.5 383.6,2204.8 384,2206.1 384.4,2204.4 384.7,2204.3 385.1,2204.1 385.5,2194.6 385.9,2203.5 386.2,2200.4 386.6,2198.7 387,2206.2 387.3,2200.1 387.7,2203.8 388.1,2206.9 388.4,2205.6 388.8,2207.9 389.2,2201.8 389.5,2196.9 389.9,2190.6 390.3,2213.4 390.6,2210.4 391,2200.7 391.4,2199.4 391.8,2206 392.1,2204.4 392.5,2212.1 392.9,2209 393.2,2206.4 393.6,2206.3" fill="none" stroke="#ffa400" stroke-width="1.55" stroke-linejoin="round" clip-path="url(#c1132178)"/>
<rect x="113.7" y="2178" width="279.9" height="131.4" fill="none" stroke="#333" stroke-width="1.1"/>
<line x1="109.9" y1="2189.2" x2="113.7" y2="2189.2" stroke="#222" stroke-width="0.9" />
<text x="107.3" y="2193" font-size="10.5" text-anchor="end" class="dv">80</text>
<line x1="109.9" y1="2221" x2="113.7" y2="2221" stroke="#222" stroke-width="0.9" />
<text x="107.3" y="2224.8" font-size="10.5" text-anchor="end" class="dv">60</text>
<line x1="109.9" y1="2252.7" x2="113.7" y2="2252.7" stroke="#222" stroke-width="0.9" />
<text x="107.3" y="2256.5" font-size="10.5" text-anchor="end" class="dv">40</text>
<line x1="109.9" y1="2284.5" x2="113.7" y2="2284.5" stroke="#222" stroke-width="0.9" />
<text x="107.3" y="2288.3" font-size="10.5" text-anchor="end" class="dv">20</text>
<line x1="113.7" y1="2309.4" x2="113.7" y2="2313.2" stroke="#222" stroke-width="0.9" />
<text x="115" y="2327.2" font-size="14.7" text-anchor="middle">-3 Kb</text>
<line x1="190" y1="2309.4" x2="190" y2="2313.2" stroke="#222" stroke-width="0.9" />
<text x="190.3" y="2327.2" font-size="14.7" text-anchor="middle">TSS</text>
<line x1="317.3" y1="2309.4" x2="317.3" y2="2313.2" stroke="#222" stroke-width="0.9" />
<text x="317.3" y="2327.2" font-size="14.7" text-anchor="middle">TES</text>
<line x1="393.6" y1="2309.4" x2="393.6" y2="2313.2" stroke="#222" stroke-width="0.9" />
<text x="397.6" y="2327.2" font-size="14.7" text-anchor="end">3 Kb</text>
<clipPath id="c4512178"><rect x="451.6" y="2178" width="279.4" height="131.4"/></clipPath>
<polyline points="451.6,2209.7 452,2213.8 452.3,2211.8 452.7,2206.5 453.1,2217.5 453.4,2209.4 453.8,2207.1 454.2,2212.9 454.5,2212.9 454.9,2216.9 455.3,2211 455.6,2212 456,2208.5 456.4,2210.8 456.8,2208.5 457.1,2212.6 457.5,2211.8 457.9,2210.8 458.2,2212.1 458.6,2217.9 459,2208.8 459.3,2210.2 459.7,2216.5 460.1,2215.7 460.4,2214.3 460.8,2212 461.2,2214.8 461.5,2212.6 461.9,2209.2 462.3,2215.7 462.6,2209.9 463,2213.8 463.4,2209.8 463.7,2211.2 464.1,2214.9 464.5,2214 464.9,2205.2 465.2,2207.4 465.6,2209 466,2208.7 466.3,2213.8 466.7,2203.3 467.1,2207.9 467.4,2217.6 467.8,2204.2 468.2,2208.9 468.5,2216.5 468.9,2210.7 469.3,2209.2 469.6,2206.2 470,2208.8 470.4,2213.9 470.7,2216.7 471.1,2210.1 471.5,2217.2 471.8,2209.6 472.2,2223.5 472.6,2202 473,2216.9 473.3,2211.7 473.7,2209.9 474.1,2205.6 474.4,2204.2 474.8,2215 475.2,2206.2 475.5,2211.4 475.9,2216.1 476.3,2215.3 476.6,2214.4 477,2212.5 477.4,2212.4 477.7,2209 478.1,2214 478.5,2205.6 478.8,2213.8 479.2,2218.8 479.6,2212.2 479.9,2212.2 480.3,2224.7 480.7,2212.8 481,2213.1 481.4,2198.1 481.8,2211.7 482.2,2224.4 482.5,2221.9 482.9,2224.8 483.3,2209.5 483.6,2220.8 484,2211.5 484.4,2220.3 484.7,2219.2 485.1,2219.3 485.5,2213.2 485.8,2217 486.2,2221.4 486.6,2223.1 486.9,2214 487.3,2213.6 487.7,2216.5 488,2217.5 488.4,2223.2 488.8,2225.1 489.1,2217.8 489.5,2212.1 489.9,2216.2 490.3,2222.9 490.6,2215.9 491,2213.5 491.4,2215.1 491.7,2229.5 492.1,2223.3 492.5,2222.4 492.8,2216.5 493.2,2228.5 493.6,2232.1 493.9,2218.7 494.3,2220.8 494.7,2217.7 495,2226.5 495.4,2215.1 495.8,2224.1 496.1,2223.4 496.5,2225.4 496.9,2230.6 497.2,2217.6 497.6,2225.3 498,2225.8 498.4,2229.5 498.7,2225.8 499.1,2231 499.5,2232.6 499.8,2239 500.2,2231.4 500.6,2228.5 500.9,2229.1 501.3,2232.7 501.7,2226 502,2235.9 502.4,2236.2 502.8,2226.4 503.1,2233 503.5,2235.4 503.9,2229.1 504.2,2240.4 504.6,2229.6 505,2240.1 505.3,2237 505.7,2238.6 506.1,2245.2 506.4,2243.4 506.8,2228.9 507.2,2240.9 507.6,2242.1 507.9,2231.9 508.3,2245.2 508.7,2240.2 509,2246 509.4,2244.3 509.8,2246.8 510.1,2248.8 510.5,2239.9 510.9,2245.7 511.2,2249.3 511.6,2255.4 512,2252 512.3,2251.7 512.7,2246.5 513.1,2245.8 513.4,2258.4 513.8,2260.2 514.2,2252.4 514.5,2266 514.9,2250.4 515.3,2261.4 515.7,2262.9 516,2264 516.4,2264.7 516.8,2266.4 517.1,2261.7 517.5,2269.9 517.9,2270.7 518.2,2271.5 518.6,2274.4 519,2267.7 519.3,2270.6 519.7,2284.4 520.1,2276.1 520.4,2272 520.8,2280.3 521.2,2281.5 521.5,2278.7 521.9,2286.8 522.3,2279.3 522.6,2281.1 523,2283.1 523.4,2285.2 523.8,2290.5 524.1,2287.5 524.5,2292.7 524.9,2287.2 525.2,2299 525.6,2300.6 526,2298.4 526.3,2304 526.7,2297.3 527.1,2283.5 527.4,2273.3 527.8,2284.8 528.2,2275.2 528.5,2268.4 528.9,2261.2 529.3,2252.1 529.6,2243 530,2238.3 530.4,2236.7 530.7,2230.8 531.1,2228.2 531.5,2225.7 531.8,2222.6 532.2,2220.6 532.6,2219.5 533,2217.7 533.3,2215.2 533.7,2218.8 534.1,2214.4 534.4,2211.9 534.8,2211.7 535.2,2209.9 535.5,2210.5 535.9,2209.6 536.3,2211.1 536.6,2206.1 537,2208.1 537.4,2204.9 537.7,2204.9 538.1,2205.7 538.5,2206.3 538.8,2204.3 539.2,2203.9 539.6,2203 539.9,2199.4 540.3,2204.8 540.7,2203.4 541.1,2203.7 541.4,2204 541.8,2202.9 542.2,2201.8 542.5,2199.7 542.9,2200.8 543.3,2202.2 543.6,2197 544,2201.3 544.4,2201.6 544.7,2200.1 545.1,2199.6 545.5,2201.7 545.8,2199.2 546.2,2200.5 546.6,2197.3 546.9,2198.3 547.3,2197.9 547.7,2195 548,2198.5 548.4,2198.1 548.8,2197.6 549.2,2197.9 549.5,2198.6 549.9,2196.2 550.3,2195.6 550.6,2195.4 551,2197.2 551.4,2197.3 551.7,2197 552.1,2195.7 552.5,2198.1 552.8,2194.2 553.2,2196.2 553.6,2195.9 553.9,2194.2 554.3,2194.2 554.7,2196.5 555,2196.3 555.4,2194.6 555.8,2195.2 556.1,2196 556.5,2196.2 556.9,2197.2 557.2,2195.9 557.6,2195.9 558,2196.5 558.4,2194.9 558.7,2195.4 559.1,2194.4 559.5,2194.8 559.8,2195.8 560.2,2196.7 560.6,2194.9 560.9,2195.9 561.3,2192.8 561.7,2196.6 562,2193.7 562.4,2196.2 562.8,2195.5 563.1,2195.3 563.5,2190.3 563.9,2195.7 564.2,2194 564.6,2192.6 565,2194.5 565.3,2194.1 565.7,2192.7 566.1,2194.4 566.5,2192.5 566.8,2192.4 567.2,2196.3 567.6,2193.1 567.9,2195.3 568.3,2194.3 568.7,2192.8 569,2194.5 569.4,2196.7 569.8,2191.5 570.1,2196.3 570.5,2192.5 570.9,2191.4 571.2,2192.7 571.6,2193.6 572,2194.1 572.3,2193.5 572.7,2190.9 573.1,2192.3 573.4,2195 573.8,2192.1 574.2,2191 574.6,2192.3 574.9,2194.6 575.3,2194.4 575.7,2193.5 576,2193.8 576.4,2191.3 576.8,2193.8 577.1,2191.3 577.5,2191.6 577.9,2191.7 578.2,2190.8 578.6,2194.2 579,2194.1 579.3,2190.3 579.7,2193.2 580.1,2192.2 580.4,2192.9 580.8,2192.8 581.2,2192.8 581.5,2193 581.9,2192 582.3,2195.3 582.6,2191.2 583,2190.3 583.4,2193 583.8,2189.7 584.1,2192.4 584.5,2191.3 584.9,2192.5 585.2,2192 585.6,2194.2 586,2192.7 586.3,2193.8 586.7,2194 587.1,2194.5 587.4,2192.4 587.8,2192.2 588.2,2193.2 588.5,2191.4 588.9,2196.2 589.3,2191.1 589.6,2190.3 590,2188 590.4,2191.2 590.7,2190.3 591.1,2192.5 591.5,2191 591.9,2193.2 592.2,2191.4 592.6,2190.6 593,2189.3 593.3,2192.1 593.7,2190.5 594.1,2189.4 594.4,2189.8 594.8,2193 595.2,2188.5 595.5,2192.2 595.9,2192.5 596.3,2191.4 596.6,2190.4 597,2192.8 597.4,2191.7 597.7,2187.1 598.1,2192.3 598.5,2191.3 598.8,2189.5 599.2,2193.3 599.6,2190.7 600,2190.4 600.3,2192.6 600.7,2194.8 601.1,2189.6 601.4,2189.3 601.8,2191.3 602.2,2193.5 602.5,2190.7 602.9,2191.9 603.3,2191.1 603.6,2191.8 604,2192.2 604.4,2192.7 604.7,2191.5 605.1,2192.1 605.5,2191.7 605.8,2188.9 606.2,2190 606.6,2190.6 606.9,2190.7 607.3,2189.5 607.7,2190.3 608,2190.2 608.4,2192.9 608.8,2191 609.2,2192.1 609.5,2191.7 609.9,2190.8 610.3,2192 610.6,2191.8 611,2189.8 611.4,2189.8 611.7,2189.7 612.1,2190.1 612.5,2192.3 612.8,2191.6 613.2,2192.2 613.6,2191.5 613.9,2190.5 614.3,2193 614.7,2189.6 615,2192.6 615.4,2190.4 615.8,2190.3 616.1,2190.6 616.5,2191.6 616.9,2191 617.3,2193.5 617.6,2190 618,2190.7 618.4,2189.5 618.7,2191.1 619.1,2192.5 619.5,2190.6 619.8,2189 620.2,2189.9 620.6,2190.9 620.9,2192.5 621.3,2188.6 621.7,2191.7 622,2189.3 622.4,2188.9 622.8,2190.8 623.1,2193.2 623.5,2187.3 623.9,2191.2 624.2,2190 624.6,2191.5 625,2187.6 625.4,2189.2 625.7,2187.7 626.1,2188.1 626.5,2190.9 626.8,2190.8 627.2,2192.8 627.6,2192.1 627.9,2188.5 628.3,2187.3 628.7,2188.4 629,2191.1 629.4,2190.4 629.8,2190 630.1,2190.5 630.5,2191.2 630.9,2192.2 631.2,2188.8 631.6,2190.3 632,2188.6 632.3,2189 632.7,2190.4 633.1,2190.2 633.4,2190.5 633.8,2190.3 634.2,2190.7 634.6,2190.4 634.9,2189.6 635.3,2191.4 635.7,2192.3 636,2189.4 636.4,2192.2 636.8,2189 637.1,2191 637.5,2190.1 637.9,2188.5 638.2,2189.3 638.6,2192.7 639,2191.6 639.3,2190.9 639.7,2189.9 640.1,2188.5 640.4,2189.6 640.8,2188.9 641.2,2189.7 641.5,2188.2 641.9,2189 642.3,2191.5 642.7,2192 643,2188.2 643.4,2187.1 643.8,2190.7 644.1,2187.9 644.5,2188.1 644.9,2189.4 645.2,2188.1 645.6,2188.9 646,2190.9 646.3,2188.5 646.7,2189.5 647.1,2188.7 647.4,2187.7 647.8,2191 648.2,2189.3 648.5,2186.4 648.9,2190.2 649.3,2190.9 649.6,2189.7 650,2193.1 650.4,2188 650.8,2187.3 651.1,2189.9 651.5,2191.5 651.9,2192 652.2,2191.2 652.6,2193.7 653,2190.4 653.3,2189.7 653.7,2192.6 654.1,2192.1 654.4,2197 654.8,2191.8 655.2,2202.5 655.5,2195.7 655.9,2203.4 656.3,2194.1 656.6,2193.6 657,2198.7 657.4,2201.1 657.7,2203.1 658.1,2192.7 658.5,2199.1 658.8,2204.7 659.2,2195.6 659.6,2192.3 660,2201.6 660.3,2199.7 660.7,2194.6 661.1,2201.7 661.4,2204.1 661.8,2196.7 662.2,2207.4 662.5,2202.4 662.9,2207.3 663.3,2203.1 663.6,2205.1 664,2204.5 664.4,2199.6 664.7,2210.5 665.1,2197.4 665.5,2196.8 665.8,2202.9 666.2,2207.1 666.6,2207.2 666.9,2200.7 667.3,2202.6 667.7,2201.3 668.1,2195.2 668.4,2199.1 668.8,2206 669.2,2206.9 669.5,2200.6 669.9,2202.8 670.3,2207.8 670.6,2197.9 671,2199.6 671.4,2201.1 671.7,2198.3 672.1,2211.4 672.5,2202.7 672.8,2202.1 673.2,2204.9 673.6,2204.2 673.9,2205 674.3,2202.8 674.7,2204.1 675,2206.6 675.4,2202.6 675.8,2204.1 676.2,2201.6 676.5,2212.3 676.9,2201.3 677.3,2205.8 677.6,2202.1 678,2201.5 678.4,2205.3 678.7,2203.3 679.1,2205.7 679.5,2198.4 679.8,2208.9 680.2,2207.6 680.6,2198.6 680.9,2198.7 681.3,2199.9 681.7,2198.7 682,2201.3 682.4,2198.8 682.8,2199.1 683.1,2204 683.5,2206 683.9,2202.4 684.2,2207.6 684.6,2202.6 685,2200.1 685.4,2196.8 685.7,2206.8 686.1,2201.2 686.5,2204.9 686.8,2210.5 687.2,2203.6 687.6,2198.9 687.9,2198.2 688.3,2195.8 688.7,2203 689,2200.6 689.4,2202 689.8,2203.3 690.1,2198.1 690.5,2203.2 690.9,2205.9 691.2,2209.1 691.6,2199.8 692,2195.1 692.3,2199.6 692.7,2204.6 693.1,2197.9 693.5,2200.7 693.8,2200.9 694.2,2205.2 694.6,2202.4 694.9,2210.8 695.3,2194.8 695.7,2211.5 696,2204 696.4,2203 696.8,2199.4 697.1,2199.7 697.5,2196.5 697.9,2198.6 698.2,2198.1 698.6,2195.2 699,2199 699.3,2196.9 699.7,2196 700.1,2206.4 700.4,2201.7 700.8,2198 701.2,2198.9 701.6,2198.8 701.9,2203.2 702.3,2197.3 702.7,2199.8 703,2204.1 703.4,2193.5 703.8,2195.6 704.1,2207.9 704.5,2195.8 704.9,2203.1 705.2,2204.9 705.6,2197.8 706,2191.8 706.3,2203.4 706.7,2201 707.1,2196.2 707.4,2196.3 707.8,2200.7 708.2,2197.2 708.5,2203.4 708.9,2200.3 709.3,2198.2 709.6,2200.1 710,2202.3 710.4,2203.6 710.8,2201.1 711.1,2192.5 711.5,2193.6 711.9,2206.9 712.2,2202.3 712.6,2194.9 713,2200 713.3,2197.6 713.7,2206 714.1,2196.9 714.4,2197.8 714.8,2200.5 715.2,2199.7 715.5,2196 715.9,2197.1 716.3,2205.6 716.6,2192.5 717,2201.4 717.4,2194.9 717.7,2204.7 718.1,2203.8 718.5,2204.3 718.9,2193.6 719.2,2207.6 719.6,2202.3 720,2206.5 720.3,2207.6 720.7,2197.2 721.1,2203.3 721.4,2199.6 721.8,2205.9 722.2,2200.8 722.5,2204.8 722.9,2203.7 723.3,2205.9 723.6,2198.1 724,2199.4 724.4,2193.1 724.7,2200.4 725.1,2199.4 725.5,2201.7 725.8,2197.5 726.2,2208.7 726.6,2195.8 727,2205.6 727.3,2200.9 727.7,2205.8 728.1,2202.8 728.4,2198.4 728.8,2201.8 729.2,2200.2 729.5,2199.5 729.9,2201.4 730.3,2202.9 730.6,2195.1 731,2197.7" fill="none" stroke="#8e0f98" stroke-width="1.55" stroke-linejoin="round" clip-path="url(#c4512178)"/>
<polyline points="451.6,2208.8 452,2212.1 452.3,2209.6 452.7,2201.6 453.1,2215.8 453.4,2212.4 453.8,2206.1 454.2,2201.5 454.5,2207 454.9,2206.9 455.3,2206.1 455.6,2210.8 456,2206.3 456.4,2210.2 456.8,2211.1 457.1,2207 457.5,2207.2 457.9,2212.1 458.2,2211.7 458.6,2202.8 459,2207.5 459.3,2213.3 459.7,2209.6 460.1,2222.3 460.4,2211.4 460.8,2207 461.2,2216.8 461.5,2208.2 461.9,2206.3 462.3,2215.5 462.6,2209 463,2208.1 463.4,2205.7 463.7,2205.4 464.1,2207.1 464.5,2204.2 464.9,2209.8 465.2,2205.2 465.6,2209 466,2207.1 466.3,2209 466.7,2209.4 467.1,2201.7 467.4,2208.5 467.8,2220.9 468.2,2210.7 468.5,2215 468.9,2210.2 469.3,2209.3 469.6,2212.6 470,2210.9 470.4,2203.7 470.7,2216.7 471.1,2205.4 471.5,2210.1 471.8,2199.9 472.2,2212.7 472.6,2202 473,2200.2 473.3,2211.8 473.7,2214.2 474.1,2207.7 474.4,2217.6 474.8,2204.1 475.2,2209.6 475.5,2206.1 475.9,2213.6 476.3,2216.9 476.6,2216.1 477,2216.5 477.4,2217.2 477.7,2207.7 478.1,2217.3 478.5,2210.6 478.8,2216.1 479.2,2217.6 479.6,2213.3 479.9,2210.3 480.3,2208.7 480.7,2214.9 481,2214 481.4,2208.5 481.8,2217.1 482.2,2208.2 482.5,2206.9 482.9,2211.8 483.3,2207 483.6,2220.5 484,2215.7 484.4,2213.2 484.7,2213.4 485.1,2218.3 485.5,2210.7 485.8,2215.2 486.2,2212.4 486.6,2210.8 486.9,2205.5 487.3,2215.9 487.7,2211.7 488,2221.8 488.4,2211.4 488.8,2223.6 489.1,2211.2 489.5,2221.7 489.9,2223.4 490.3,2218.5 490.6,2221.6 491,2222 491.4,2218.2 491.7,2216 492.1,2212.9 492.5,2217.4 492.8,2222.6 493.2,2221.7 493.6,2213.6 493.9,2222.3 494.3,2215.6 494.7,2226 495,2225.8 495.4,2224 495.8,2219.5 496.1,2219.3 496.5,2225.4 496.9,2219.8 497.2,2224.7 497.6,2221.2 498,2230.6 498.4,2219.1 498.7,2223 499.1,2232.3 499.5,2217 499.8,2226 500.2,2226.8 500.6,2221.2 500.9,2225 501.3,2224.6 501.7,2233.5 502,2224.9 502.4,2230.6 502.8,2231.1 503.1,2235.5 503.5,2234.6 503.9,2234.6 504.2,2228.8 504.6,2235.9 505,2235.3 505.3,2239.2 505.7,2236.3 506.1,2233.2 506.4,2240.9 506.8,2239 507.2,2236.9 507.6,2237.8 507.9,2239.3 508.3,2235.7 508.7,2249.1 509,2243.8 509.4,2243.1 509.8,2233.2 510.1,2244 510.5,2250.1 510.9,2247.2 511.2,2245 511.6,2254.9 512,2249.3 512.3,2251.3 512.7,2240.5 513.1,2255.5 513.4,2252.4 513.8,2253 514.2,2262.1 514.5,2252.7 514.9,2268.5 515.3,2258.9 515.7,2264.6 516,2259.3 516.4,2259 516.8,2260.5 517.1,2268.2 517.5,2262.5 517.9,2264.1 518.2,2272 518.6,2273.1 519,2274.7 519.3,2269.9 519.7,2275.4 520.1,2276.7 520.4,2273.9 520.8,2275.5 521.2,2277.6 521.5,2283.7 521.9,2277.7 522.3,2281.7 522.6,2287.8 523,2289.7 523.4,2280.8 523.8,2291 524.1,2287.6 524.5,2284.7 524.9,2291.7 525.2,2301.1 525.6,2299.8 526,2298.6 526.3,2299 526.7,2295.7 527.1,2302.2 527.4,2285.8 527.8,2288.3 528.2,2282.1 528.5,2274 528.9,2264 529.3,2258.1 529.6,2247.5 530,2244.9 530.4,2241.4 530.7,2236 531.1,2234.2 531.5,2231.7 531.8,2228.7 532.2,2225.4 532.6,2224.2 533,2225.7 533.3,2221.6 533.7,2223.8 534.1,2221.2 534.4,2218.9 534.8,2219.9 535.2,2218.5 535.5,2215 535.9,2216.2 536.3,2215.5 536.6,2216.2 537,2214.2 537.4,2211.8 537.7,2210.1 538.1,2209 538.5,2210.2 538.8,2212.1 539.2,2209.8 539.6,2210.2 539.9,2209.1 540.3,2210.3 540.7,2211.5 541.1,2206.8 541.4,2210.3 541.8,2208.2 542.2,2210.2 542.5,2208.5 542.9,2206.6 543.3,2206.7 543.6,2206.9 544,2207 544.4,2206.7 544.7,2203.8 545.1,2209 545.5,2204.3 545.8,2206.5 546.2,2206.3 546.6,2207.8 546.9,2206.1 547.3,2206.2 547.7,2204.2 548,2205.2 548.4,2203.1 548.8,2203.2 549.2,2204.4 549.5,2204.3 549.9,2204.1 550.3,2204.2 550.6,2203.4 551,2200.1 551.4,2204.9 551.7,2202.2 552.1,2203 552.5,2201.4 552.8,2204.6 553.2,2202.6 553.6,2201.3 553.9,2202 554.3,2203.1 554.7,2203.6 555,2201.2 555.4,2201.8 555.8,2201.6 556.1,2202.6 556.5,2203.2 556.9,2203.9 557.2,2201.9 557.6,2203.2 558,2200 558.4,2201.1 558.7,2199.8 559.1,2199.4 559.5,2197.3 559.8,2202.5 560.2,2200.3 560.6,2197.3 560.9,2201.8 561.3,2201.3 561.7,2200.7 562,2198.7 562.4,2199.4 562.8,2201.9 563.1,2200.7 563.5,2198.3 563.9,2201.4 564.2,2200.2 564.6,2200 565,2200.1 565.3,2197.8 565.7,2196.7 566.1,2198.9 566.5,2198.4 566.8,2200.2 567.2,2200.5 567.6,2198.4 567.9,2198.3 568.3,2197.8 568.7,2198.4 569,2198.9 569.4,2199.5 569.8,2197.8 570.1,2197.5 570.5,2200.1 570.9,2198.1 571.2,2196.1 571.6,2198.7 572,2195.4 572.3,2198 572.7,2195.5 573.1,2196.2 573.4,2197 573.8,2196.7 574.2,2201.3 574.6,2196.7 574.9,2196.4 575.3,2201 575.7,2197.6 576,2201.1 576.4,2195.8 576.8,2198.2 577.1,2198.1 577.5,2194.9 577.9,2200.7 578.2,2198.8 578.6,2200 579,2198.6 579.3,2198.5 579.7,2197.3 580.1,2200.6 580.4,2196.8 580.8,2198.3 581.2,2198.8 581.5,2197.1 581.9,2198.7 582.3,2197.4 582.6,2196.3 583,2197.8 583.4,2197.4 583.8,2196.5 584.1,2196.7 584.5,2197.1 584.9,2195.2 585.2,2201.6 585.6,2199.7 586,2196.9 586.3,2197.7 586.7,2198.3 587.1,2199.2 587.4,2196.9 587.8,2197.8 588.2,2197.1 588.5,2198.7 588.9,2197.2 589.3,2195.8 589.6,2196.9 590,2196 590.4,2196.9 590.7,2197.1 591.1,2199.6 591.5,2200.5 591.9,2195.8 592.2,2196.8 592.6,2197.4 593,2197.3 593.3,2197.1 593.7,2199.3 594.1,2198.9 594.4,2198.3 594.8,2198.5 595.2,2197.4 595.5,2198.3 595.9,2197.8 596.3,2194.9 596.6,2195.2 597,2197.2 597.4,2196.5 597.7,2195 598.1,2195.2 598.5,2197.8 598.8,2194.8 599.2,2195.9 599.6,2194.7 600,2193.2 600.3,2196.6 600.7,2198.5 601.1,2196.2 601.4,2194.5 601.8,2197.6 602.2,2198.3 602.5,2195.9 602.9,2195.9 603.3,2196.6 603.6,2198.2 604,2197.8 604.4,2196.6 604.7,2193.5 605.1,2195.2 605.5,2195.4 605.8,2196.6 606.2,2195.5 606.6,2195.7 606.9,2195 607.3,2195 607.7,2197.1 608,2197 608.4,2195.2 608.8,2196.6 609.2,2196 609.5,2198.9 609.9,2198.1 610.3,2196.2 610.6,2196.7 611,2197.4 611.4,2195 611.7,2197.5 612.1,2196.4 612.5,2194.9 612.8,2195.9 613.2,2196.3 613.6,2195.9 613.9,2195.9 614.3,2196.4 614.7,2196.3 615,2196 615.4,2195 615.8,2195.5 616.1,2196.7 616.5,2196.7 616.9,2196.3 617.3,2196.6 617.6,2196.7 618,2197.3 618.4,2193.3 618.7,2194.3 619.1,2199.3 619.5,2194.6 619.8,2193 620.2,2193.6 620.6,2196.9 620.9,2197.6 621.3,2194.6 621.7,2193.4 622,2194.7 622.4,2199.5 622.8,2193.7 623.1,2192.8 623.5,2197.8 623.9,2195.7 624.2,2195.8 624.6,2197 625,2193.6 625.4,2197.1 625.7,2193.9 626.1,2196.6 626.5,2193.2 626.8,2196.7 627.2,2195.8 627.6,2192.3 627.9,2194.3 628.3,2192.7 628.7,2195.9 629,2196 629.4,2195.1 629.8,2196.1 630.1,2195 630.5,2193.9 630.9,2196.3 631.2,2196.8 631.6,2197.1 632,2192.4 632.3,2196.2 632.7,2196.3 633.1,2195.4 633.4,2194.5 633.8,2196 634.2,2195.9 634.6,2194.5 634.9,2195.9 635.3,2193.2 635.7,2193.1 636,2196 636.4,2191.4 636.8,2195.4 637.1,2193.6 637.5,2191.5 637.9,2195.6 638.2,2194.2 638.6,2192.7 639,2195.5 639.3,2194.7 639.7,2192.8 640.1,2193.6 640.4,2193.7 640.8,2193.7 641.2,2195.5 641.5,2194.6 641.9,2195.4 642.3,2195 642.7,2193 643,2193.3 643.4,2193.2 643.8,2192.4 644.1,2191 644.5,2195.8 644.9,2192.6 645.2,2195.2 645.6,2194.3 646,2197.1 646.3,2193.3 646.7,2193.4 647.1,2193.9 647.4,2193.2 647.8,2197 648.2,2194.8 648.5,2195.5 648.9,2197.3 649.3,2196.3 649.6,2194.9 650,2194.7 650.4,2193.9 650.8,2194.9 651.1,2195 651.5,2195.3 651.9,2193.4 652.2,2195.1 652.6,2194.4 653,2195.7 653.3,2193.1 653.7,2197.2 654.1,2200.4 654.4,2198.8 654.8,2204.2 655.2,2208.1 655.5,2199 655.9,2213.6 656.3,2208.7 656.6,2209.1 657,2209.1 657.4,2210.3 657.7,2201.7 658.1,2209.9 658.5,2208.9 658.8,2205.1 659.2,2212.2 659.6,2210.1 660,2209.2 660.3,2212.1 660.7,2215.1 661.1,2209.3 661.4,2210.2 661.8,2211.7 662.2,2209.3 662.5,2223.2 662.9,2215 663.3,2206.1 663.6,2210.1 664,2212.3 664.4,2203 664.7,2219.4 665.1,2203.3 665.5,2211.5 665.8,2208.1 666.2,2213.2 666.6,2207.2 666.9,2212 667.3,2211.6 667.7,2203 668.1,2211.9 668.4,2205.6 668.8,2211 669.2,2214.6 669.5,2206.7 669.9,2200.4 670.3,2208 670.6,2209.3 671,2213.6 671.4,2210.4 671.7,2212.3 672.1,2209 672.5,2209.7 672.8,2213.5 673.2,2214.6 673.6,2207.7 673.9,2212.4 674.3,2213.2 674.7,2212.4 675,2216.9 675.4,2217.6 675.8,2209 676.2,2213.1 676.5,2209.9 676.9,2219.2 677.3,2209.2 677.6,2207.8 678,2211.6 678.4,2206.5 678.7,2214.7 679.1,2198.7 679.5,2209.1 679.8,2215.6 680.2,2205.7 680.6,2214 680.9,2210.8 681.3,2206.5 681.7,2210.9 682,2209.8 682.4,2209.5 682.8,2210.1 683.1,2205.4 683.5,2211.1 683.9,2204.9 684.2,2209.5 684.6,2217.6 685,2215.1 685.4,2203.8 685.7,2211.7 686.1,2215 686.5,2214.7 686.8,2216.7 687.2,2212.6 687.6,2208.2 687.9,2214.2 688.3,2205.9 688.7,2206.9 689,2205.7 689.4,2211.4 689.8,2207.7 690.1,2208.7 690.5,2205.2 690.9,2205.6 691.2,2207.8 691.6,2216.6 692,2209.3 692.3,2210.9 692.7,2217.2 693.1,2210.4 693.5,2210.6 693.8,2210.6 694.2,2218.8 694.6,2206.9 694.9,2208.6 695.3,2210.7 695.7,2210.2 696,2201.6 696.4,2212.3 696.8,2210 697.1,2214.9 697.5,2215.9 697.9,2212.3 698.2,2202.6 698.6,2211.5 699,2204.9 699.3,2211.5 699.7,2213.3 700.1,2209 700.4,2208.8 700.8,2203.3 701.2,2200.2 701.6,2210 701.9,2209.7 702.3,2210.8 702.7,2214.5 703,2207.2 703.4,2210.3 703.8,2212.8 704.1,2207.2 704.5,2212.8 704.9,2203.1 705.2,2207.6 705.6,2215.2 706,2213.3 706.3,2203 706.7,2217.3 707.1,2207 707.4,2208.2 707.8,2211.8 708.2,2209 708.5,2207.4 708.9,2214.1 709.3,2212.5 709.6,2201.3 710,2211 710.4,2208.7 710.8,2208 711.1,2214 711.5,2203.5 711.9,2213.3 712.2,2203.1 712.6,2203.6 713,2209.6 713.3,2208.8 713.7,2212.5 714.1,2209.6 714.4,2210.7 714.8,2208.2 715.2,2201.8 715.5,2212.4 715.9,2205.3 716.3,2207.4 716.6,2210.2 717,2204.3 717.4,2214.3 717.7,2210.3 718.1,2209.3 718.5,2217.1 718.9,2216.9 719.2,2205.2 719.6,2209.8 720,2210.2 720.3,2207.6 720.7,2213 721.1,2203.2 721.4,2199.3 721.8,2216.5 722.2,2211.8 722.5,2202.9 722.9,2207.2 723.3,2204.1 723.6,2212.9 724,2212.1 724.4,2211 724.7,2208.1 725.1,2204.5 725.5,2217.7 725.8,2211.7 726.2,2211.7 726.6,2216.2 727,2206.2 727.3,2208.2 727.7,2219 728.1,2211.1 728.4,2217.4 728.8,2210.2 729.2,2211.8 729.5,2210.9 729.9,2205 730.3,2211.2 730.6,2211.5 731,2203.3" fill="none" stroke="#ffa400" stroke-width="1.55" stroke-linejoin="round" clip-path="url(#c4512178)"/>
<rect x="451.6" y="2178" width="279.4" height="131.4" fill="none" stroke="#333" stroke-width="1.1"/>
<line x1="447.8" y1="2189.2" x2="451.6" y2="2189.2" stroke="#222" stroke-width="0.9" />
<text x="445.8" y="2193" font-size="10.5" text-anchor="end" class="dv">80</text>
<line x1="447.8" y1="2221" x2="451.6" y2="2221" stroke="#222" stroke-width="0.9" />
<text x="445.8" y="2224.8" font-size="10.5" text-anchor="end" class="dv">60</text>
<line x1="447.8" y1="2252.7" x2="451.6" y2="2252.7" stroke="#222" stroke-width="0.9" />
<text x="445.8" y="2256.5" font-size="10.5" text-anchor="end" class="dv">40</text>
<line x1="447.8" y1="2284.5" x2="451.6" y2="2284.5" stroke="#222" stroke-width="0.9" />
<text x="445.8" y="2288.3" font-size="10.5" text-anchor="end" class="dv">20</text>
<line x1="451.6" y1="2309.4" x2="451.6" y2="2313.2" stroke="#222" stroke-width="0.9" />
<text x="448.1" y="2327.2" font-size="14.7" text-anchor="middle">-3 Kb</text>
<line x1="527.8" y1="2309.4" x2="527.8" y2="2313.2" stroke="#222" stroke-width="0.9" />
<text x="528.9" y="2327.2" font-size="14.7" text-anchor="middle">TSS</text>
<line x1="654.8" y1="2309.4" x2="654.8" y2="2313.2" stroke="#222" stroke-width="0.9" />
<text x="655.1" y="2327.2" font-size="14.7" text-anchor="middle">TES</text>
<line x1="731" y1="2309.4" x2="731" y2="2313.2" stroke="#222" stroke-width="0.9" />
<text x="744" y="2327.2" font-size="14.7" text-anchor="end">3 Kb</text>
<clipPath id="c1132348"><rect x="113.7" y="2348.8" width="279.9" height="132.2"/></clipPath>
<polyline points="113.7,2365.9 114.1,2383.2 114.4,2374 114.8,2371.2 115.2,2370.1 115.5,2379.7 115.9,2365.1 116.3,2393.8 116.7,2383.6 117,2386.8 117.4,2382.4 117.8,2375.7 118.1,2392.6 118.5,2388.9 118.9,2369.2 119.2,2373.7 119.6,2369.4 120,2376.1 120.3,2372.6 120.7,2376.3 121.1,2381.2 121.4,2379.8 121.8,2394.1 122.2,2371.4 122.6,2388.9 122.9,2385.4 123.3,2361.6 123.7,2384.6 124,2384.4 124.4,2386.5 124.8,2367.7 125.1,2375.6 125.5,2382.5 125.9,2375.9 126.2,2378.3 126.6,2372.4 127,2374.3 127.3,2379.6 127.7,2378.3 128.1,2376.8 128.5,2376.8 128.8,2385.4 129.2,2384.2 129.6,2373.8 129.9,2371.2 130.3,2376.6 130.7,2379.3 131,2369.7 131.4,2372.7 131.8,2365.9 132.1,2384.2 132.5,2377.4 132.9,2371.8 133.2,2379 133.6,2367.6 134,2385.5 134.4,2378.6 134.7,2370.9 135.1,2366.1 135.5,2391.2 135.8,2381.2 136.2,2384.1 136.6,2381.3 136.9,2382.1 137.3,2358.1 137.7,2377.4 138,2382.8 138.4,2404 138.8,2373.4 139.1,2385.7 139.5,2374.2 139.9,2377.6 140.3,2378.6 140.6,2371.2 141,2362.2 141.4,2365.3 141.7,2378.3 142.1,2385.2 142.5,2372.5 142.8,2380.6 143.2,2376.2 143.6,2363.4 143.9,2382.4 144.3,2392.8 144.7,2381.2 145,2368.2 145.4,2377.9 145.8,2371.7 146.2,2363 146.5,2389.7 146.9,2378 147.3,2389.6 147.6,2392.8 148,2394.2 148.4,2393.1 148.7,2373.2 149.1,2379.4 149.5,2385 149.8,2373.5 150.2,2388.2 150.6,2377.4 150.9,2401.5 151.3,2382.7 151.7,2377.3 152.1,2386.4 152.4,2391.4 152.8,2381.4 153.2,2365 153.5,2389.4 153.9,2387.4 154.3,2384.7 154.6,2369.6 155,2385.6 155.4,2396.1 155.7,2402.5 156.1,2386 156.5,2389.9 156.8,2377.1 157.2,2386.3 157.6,2394.7 158,2376.6 158.3,2394.4 158.7,2392 159.1,2383.7 159.4,2389.8 159.8,2395.6 160.2,2384.2 160.5,2391.9 160.9,2383.4 161.3,2389.9 161.6,2393 162,2371.8 162.4,2407.9 162.7,2405 163.1,2399.7 163.5,2404.6 163.9,2405.8 164.2,2393.4 164.6,2392.7 165,2386.6 165.3,2401.7 165.7,2399.9 166.1,2414.9 166.4,2399.2 166.8,2393.6 167.2,2395.8 167.5,2394 167.9,2407.6 168.3,2395.9 168.6,2410.2 169,2396.4 169.4,2411.6 169.8,2403.9 170.1,2390 170.5,2396 170.9,2403.7 171.2,2409.4 171.6,2396.1 172,2406.3 172.3,2394.6 172.7,2410 173.1,2411.5 173.4,2398.4 173.8,2420.7 174.2,2403.6 174.5,2417.3 174.9,2405.4 175.3,2414.3 175.7,2425.7 176,2409.1 176.4,2415.4 176.8,2422.8 177.1,2423.2 177.5,2423.2 177.9,2416.7 178.2,2429.3 178.6,2413.9 179,2414.4 179.3,2422.7 179.7,2427.4 180.1,2436.6 180.4,2429 180.8,2421.8 181.2,2428.9 181.6,2429.2 181.9,2442.7 182.3,2447.5 182.7,2439.6 183,2432.1 183.4,2454.7 183.8,2454.9 184.1,2439 184.5,2456.1 184.9,2459.1 185.2,2441.6 185.6,2451 186,2451.9 186.3,2450 186.7,2447.8 187.1,2455.5 187.5,2451.3 187.8,2472.8 188.2,2461.7 188.6,2457.8 188.9,2471.4 189.3,2465.2 189.7,2441.2 190,2445.9 190.4,2465.8 190.8,2447.8 191.1,2452.9 191.5,2448.1 191.9,2444.1 192.2,2434.3 192.6,2442.4 193,2427 193.4,2416.4 193.7,2424.8 194.1,2415.3 194.5,2414.8 194.8,2405.7 195.2,2401.9 195.6,2405.8 195.9,2410.8 196.3,2410 196.7,2404 197,2399.2 197.4,2407.2 197.8,2397.8 198.1,2382.1 198.5,2392.4 198.9,2399.6 199.3,2389.3 199.6,2376 200,2386.5 200.4,2396.1 200.7,2387.4 201.1,2378 201.5,2382.8 201.8,2388.8 202.2,2387.4 202.6,2387.9 202.9,2385.1 203.3,2387 203.7,2373.7 204,2388.7 204.4,2385.2 204.8,2391.8 205.2,2383.5 205.5,2388.3 205.9,2383.8 206.3,2395.7 206.6,2373.9 207,2395.1 207.4,2380.9 207.7,2368.8 208.1,2381.7 208.5,2400.3 208.8,2375.8 209.2,2376.4 209.6,2383.1 210,2387.8 210.3,2397.9 210.7,2379.3 211.1,2369.2 211.4,2384.6 211.8,2384.2 212.2,2395 212.5,2377 212.9,2388.3 213.3,2378.8 213.6,2388.9 214,2390.5 214.4,2375.9 214.7,2384 215.1,2371.6 215.5,2378.8 215.9,2380.4 216.2,2378.9 216.6,2389 217,2382 217.3,2392.2 217.7,2385.2 218.1,2402.5 218.4,2383.8 218.8,2373.8 219.2,2377.6 219.5,2379.5 219.9,2377.4 220.3,2372.9 220.6,2357.6 221,2376 221.4,2383.9 221.8,2378.1 222.1,2392.5 222.5,2365.9 222.9,2389.1 223.2,2379.8 223.6,2388.7 224,2388.9 224.3,2366 224.7,2384.2 225.1,2380.2 225.4,2388.1 225.8,2388 226.2,2378.7 226.5,2389.7 226.9,2392.5 227.3,2378 227.7,2394.3 228,2377.2 228.4,2379.7 228.8,2377 229.1,2389.6 229.5,2394.3 229.9,2382.9 230.2,2382.3 230.6,2376.5 231,2380.1 231.3,2380.5 231.7,2382.4 232.1,2375.4 232.4,2385.9 232.8,2388.2 233.2,2377.5 233.6,2387.7 233.9,2386.6 234.3,2381.4 234.7,2377 235,2386.6 235.4,2380.2 235.8,2391.8 236.1,2380.4 236.5,2373 236.9,2409.7 237.2,2368.3 237.6,2386.1 238,2362.5 238.3,2392.7 238.7,2384.1 239.1,2380.9 239.5,2376.2 239.8,2373.5 240.2,2363.2 240.6,2369.3 240.9,2400.8 241.3,2381.4 241.7,2386.8 242,2383 242.4,2382.2 242.8,2370.1 243.1,2374.1 243.5,2395.7 243.9,2406 244.2,2368.6 244.6,2374.1 245,2390.4 245.4,2387.6 245.7,2364.2 246.1,2374.9 246.5,2387.8 246.8,2383.3 247.2,2386.3 247.6,2379.5 247.9,2397.8 248.3,2384.2 248.7,2374 249,2384.7 249.4,2375.3 249.8,2382.1 250.1,2386.7 250.5,2368.8 250.9,2372.4 251.3,2392 251.6,2380.5 252,2398.3 252.4,2400.5 252.7,2374.1 253.1,2404.3 253.5,2381.2 253.8,2378.1 254.2,2397.7 254.6,2394.7 254.9,2400.2 255.3,2385.8 255.7,2384.1 256,2373.2 256.4,2388.4 256.8,2378.5 257.2,2372.1 257.5,2377.3 257.9,2400 258.3,2395.5 258.6,2378.6 259,2386.3 259.4,2382.3 259.7,2394 260.1,2386.7 260.5,2374.1 260.8,2387 261.2,2403 261.6,2380.3 261.9,2388.2 262.3,2388.8 262.7,2388.5 263.1,2390 263.4,2393.6 263.8,2405.1 264.2,2373.3 264.5,2391.2 264.9,2368.3 265.3,2388.7 265.6,2378.2 266,2381.1 266.4,2379.8 266.7,2375.5 267.1,2386.9 267.5,2372.7 267.8,2391.8 268.2,2388.3 268.6,2392.2 269,2392.3 269.3,2389.7 269.7,2380.8 270.1,2395.3 270.4,2397.6 270.8,2391.2 271.2,2410.4 271.5,2387.8 271.9,2395.5 272.3,2382.8 272.6,2375 273,2387.8 273.4,2397.9 273.7,2373.3 274.1,2395.2 274.5,2397.8 274.9,2390.4 275.2,2381.3 275.6,2383.3 276,2388.2 276.3,2390.5 276.7,2391.8 277.1,2377.3 277.4,2381.4 277.8,2384.7 278.2,2388.4 278.5,2393 278.9,2388.7 279.3,2374.9 279.6,2393.5 280,2389.9 280.4,2378.7 280.8,2403.3 281.1,2400.2 281.5,2387.2 281.9,2382 282.2,2385.3 282.6,2387.9 283,2370.6 283.3,2380.7 283.7,2393 284.1,2384.9 284.4,2397.5 284.8,2390.4 285.2,2391 285.5,2376.3 285.9,2380.6 286.3,2381.5 286.7,2390.3 287,2399.1 287.4,2392.3 287.8,2384.1 288.1,2388.8 288.5,2395.1 288.9,2377.2 289.2,2380.8 289.6,2392 290,2393.2 290.3,2378.2 290.7,2393.2 291.1,2393.1 291.4,2399 291.8,2387.6 292.2,2393.7 292.6,2387 292.9,2409.4 293.3,2393.1 293.7,2379.4 294,2381.3 294.4,2394.5 294.8,2395 295.1,2380.3 295.5,2374 295.9,2382.3 296.2,2384.8 296.6,2392.9 297,2381.9 297.3,2384.3 297.7,2388.5 298.1,2377.5 298.5,2395.6 298.8,2399.8 299.2,2386.1 299.6,2379.5 299.9,2382.4 300.3,2382.2 300.7,2392.5 301,2380.9 301.4,2380 301.8,2392.9 302.1,2400.9 302.5,2383.7 302.9,2385.7 303.3,2385.7 303.6,2379.8 304,2395.2 304.4,2376.3 304.7,2385 305.1,2375.7 305.5,2393.2 305.8,2405 306.2,2396.9 306.6,2391.3 306.9,2397.8 307.3,2374 307.7,2373.6 308,2392.4 308.4,2392 308.8,2371.2 309.2,2388.3 309.5,2380.7 309.9,2381.5 310.3,2376.4 310.6,2394.8 311,2370.4 311.4,2391.1 311.7,2404.1 312.1,2387.4 312.5,2387.6 312.8,2375.7 313.2,2383.3 313.6,2388.2 313.9,2375.1 314.3,2380.9 314.7,2365.2 315.1,2389.1 315.4,2373.8 315.8,2378.9 316.2,2392.5 316.5,2388.7 316.9,2358.6 317.3,2370.4 317.6,2359.8 318,2377.8 318.4,2372.8 318.7,2360 319.1,2369.7 319.5,2388.6 319.8,2385.7 320.2,2383.5 320.6,2386.8 321,2394.8 321.3,2379.9 321.7,2387.4 322.1,2392.4 322.4,2404.4 322.8,2393 323.2,2394.1 323.5,2400.5 323.9,2409.3 324.3,2398.1 324.6,2401.1 325,2384.6 325.4,2373.9 325.7,2408.8 326.1,2400.9 326.5,2408.2 326.9,2393 327.2,2396.1 327.6,2400.2 328,2391.3 328.3,2395.4 328.7,2387.2 329.1,2389.7 329.4,2372.9 329.8,2405.7 330.2,2387.6 330.5,2393 330.9,2400.5 331.3,2398.6 331.6,2405 332,2395 332.4,2398.6 332.8,2403.7 333.1,2401.4 333.5,2391.2 333.9,2393.4 334.2,2395.2 334.6,2399.7 335,2405.1 335.3,2406 335.7,2393.4 336.1,2407.9 336.4,2404.4 336.8,2405.3 337.2,2397.8 337.5,2393.3 337.9,2399.3 338.3,2411 338.7,2387.9 339,2399.9 339.4,2407.7 339.8,2403.4 340.1,2405.1 340.5,2412.2 340.9,2393.6 341.2,2396.1 341.6,2401.2 342,2397.8 342.3,2397.6 342.7,2389.1 343.1,2394.8 343.4,2412.9 343.8,2390.1 344.2,2394.5 344.6,2393.7 344.9,2412.5 345.3,2393.6 345.7,2401.9 346,2399.4 346.4,2405.5 346.8,2395.6 347.1,2392.5 347.5,2411.8 347.9,2384.8 348.2,2402.5 348.6,2419.3 349,2415 349.3,2391.4 349.7,2414.3 350.1,2393.3 350.5,2390.6 350.8,2400.6 351.2,2402.3 351.6,2399.8 351.9,2400 352.3,2405.4 352.7,2406.1 353,2396.4 353.4,2394 353.8,2400.7 354.1,2410.6 354.5,2411.7 354.9,2398.9 355.2,2411.3 355.6,2402.4 356,2394.6 356.4,2388.8 356.7,2405.3 357.1,2402.3 357.5,2408.2 357.8,2405.6 358.2,2394.9 358.6,2398 358.9,2417.5 359.3,2403.6 359.7,2385.8 360,2412.4 360.4,2418.4 360.8,2392.2 361.1,2399.7 361.5,2396.8 361.9,2408 362.3,2414.6 362.6,2414.1 363,2407.2 363.4,2399.2 363.7,2391.2 364.1,2396.3 364.5,2420.1 364.8,2400.7 365.2,2409.2 365.6,2403.1 365.9,2398.2 366.3,2404.3 366.7,2415.6 367,2396.2 367.4,2402.5 367.8,2405.5 368.2,2416.1 368.5,2404.2 368.9,2412.2 369.3,2408.7 369.6,2418.8 370,2401.7 370.4,2418.1 370.7,2401 371.1,2419.9 371.5,2395.3 371.8,2402.7 372.2,2394.1 372.6,2403.4 372.9,2404.5 373.3,2383.6 373.7,2410 374.1,2402.8 374.4,2397.1 374.8,2388.1 375.2,2401.9 375.5,2404.2 375.9,2394.5 376.3,2410.8 376.6,2406.9 377,2386.2 377.4,2416.4 377.7,2386.1 378.1,2422 378.5,2388.3 378.8,2410.4 379.2,2393.1 379.6,2398.9 380,2409.3 380.3,2410.3 380.7,2402.1 381.1,2405.6 381.4,2398.2 381.8,2405 382.2,2398.7 382.5,2410.2 382.9,2407.1 383.3,2408.4 383.6,2409.2 384,2414.9 384.4,2410.7 384.7,2430 385.1,2415.1 385.5,2409.8 385.9,2415.7 386.2,2401.3 386.6,2396.9 387,2406.9 387.3,2407.4 387.7,2407.1 388.1,2400.2 388.4,2406.5 388.8,2412.7 389.2,2390.1 389.5,2415 389.9,2403.3 390.3,2407.9 390.6,2410.7 391,2421.2 391.4,2412.8 391.8,2414.4 392.1,2395.3 392.5,2398.6 392.9,2399.9 393.2,2405.5 393.6,2399.7" fill="none" stroke="#ffa400" stroke-width="1.55" stroke-linejoin="round" clip-path="url(#c1132348)"/>
<polyline points="113.7,2399.4 114.1,2408.2 114.4,2416.3 114.8,2412.5 115.2,2402.6 115.5,2401.7 115.9,2408.8 116.3,2409.5 116.7,2401.4 117,2387.2 117.4,2406.2 117.8,2413.3 118.1,2410.9 118.5,2397.6 118.9,2398.3 119.2,2413.3 119.6,2408.2 120,2403.3 120.3,2405.8 120.7,2413.2 121.1,2404.5 121.4,2400.7 121.8,2417.5 122.2,2396.5 122.6,2403.7 122.9,2401.9 123.3,2406.9 123.7,2395.7 124,2397.9 124.4,2386.3 124.8,2388.6 125.1,2402.8 125.5,2399.8 125.9,2399.3 126.2,2407.4 126.6,2397.9 127,2408.6 127.3,2410 127.7,2406.5 128.1,2390 128.5,2387.9 128.8,2399.5 129.2,2393.9 129.6,2396.4 129.9,2395.6 130.3,2398.5 130.7,2400 131,2395.6 131.4,2412 131.8,2407.9 132.1,2401.6 132.5,2400.6 132.9,2399.6 133.2,2404.4 133.6,2394.7 134,2417.7 134.4,2409.1 134.7,2390.1 135.1,2411.3 135.5,2385.4 135.8,2397.2 136.2,2382.4 136.6,2411.3 136.9,2401.2 137.3,2402.8 137.7,2413.9 138,2405.7 138.4,2405.3 138.8,2409.7 139.1,2420.6 139.5,2402.4 139.9,2403.2 140.3,2400.9 140.6,2390.5 141,2396.9 141.4,2402.8 141.7,2414.5 142.1,2393.4 142.5,2409.2 142.8,2411.4 143.2,2403.1 143.6,2405 143.9,2396.4 144.3,2409.8 144.7,2406.3 145,2413 145.4,2392.7 145.8,2407.3 146.2,2404.4 146.5,2409.4 146.9,2404.7 147.3,2395.3 147.6,2396.2 148,2406.3 148.4,2409.7 148.7,2410.8 149.1,2400.9 149.5,2400.3 149.8,2420.2 150.2,2420.4 150.6,2411.6 150.9,2416.2 151.3,2399.4 151.7,2412.5 152.1,2405.5 152.4,2412.6 152.8,2409.7 153.2,2427.5 153.5,2415.4 153.9,2406.7 154.3,2413.7 154.6,2412.4 155,2409.6 155.4,2428.9 155.7,2411.6 156.1,2410.9 156.5,2420.4 156.8,2415.9 157.2,2417.6 157.6,2409.3 158,2416.3 158.3,2419.3 158.7,2399.8 159.1,2421.5 159.4,2418.6 159.8,2404.4 160.2,2417.2 160.5,2418 160.9,2415.9 161.3,2415.4 161.6,2421 162,2419.9 162.4,2412.9 162.7,2421.6 163.1,2415.1 163.5,2422.7 163.9,2404.4 164.2,2417 164.6,2418.5 165,2429.2 165.3,2429.4 165.7,2422.8 166.1,2429.5 166.4,2415.1 166.8,2433.3 167.2,2425.6 167.5,2427 167.9,2431.5 168.3,2429.5 168.6,2435.2 169,2432.8 169.4,2414.7 169.8,2423.3 170.1,2433.8 170.5,2432.1 170.9,2424.9 171.2,2438.8 171.6,2435.2 172,2433 172.3,2431.4 172.7,2435.3 173.1,2435 173.4,2448 173.8,2420.3 174.2,2440.4 174.5,2450.7 174.9,2448.4 175.3,2440.7 175.7,2437.9 176,2443.4 176.4,2445.9 176.8,2443.7 177.1,2445.9 177.5,2444.9 177.9,2466.7 178.2,2450.7 178.6,2442 179,2456 179.3,2453.4 179.7,2459.2 180.1,2461.6 180.4,2457.8 180.8,2458.8 181.2,2444 181.6,2439.4 181.9,2459.3 182.3,2453 182.7,2454.1 183,2452.6 183.4,2452.6 183.8,2465.1 184.1,2456.7 184.5,2462.1 184.9,2457.1 185.2,2459.5 185.6,2465.4 186,2464.8 186.3,2474.1 186.7,2460 187.1,2469.5 187.5,2465.3 187.8,2466.2 188.2,2479.7 188.6,2474.2 188.9,2465.3 189.3,2468.4 189.7,2454.8 190,2459.7 190.4,2464.2 190.8,2457.3 191.1,2453.5 191.5,2452.2 191.9,2462.2 192.2,2449.1 192.6,2433.3 193,2445.6 193.4,2422.5 193.7,2443.3 194.1,2431.2 194.5,2424.7 194.8,2425.8 195.2,2435.2 195.6,2422.5 195.9,2429.5 196.3,2417.8 196.7,2422.1 197,2419.8 197.4,2415.2 197.8,2420.7 198.1,2414.1 198.5,2410.2 198.9,2422 199.3,2417 199.6,2416.9 200,2409.4 200.4,2413.2 200.7,2409.2 201.1,2419.4 201.5,2422.3 201.8,2415.9 202.2,2415 202.6,2421.5 202.9,2407.7 203.3,2420.3 203.7,2414.4 204,2405.8 204.4,2417.4 204.8,2422.5 205.2,2417.1 205.5,2408.3 205.9,2410.6 206.3,2416.2 206.6,2410.6 207,2429.4 207.4,2411.6 207.7,2399.8 208.1,2400.4 208.5,2419.4 208.8,2412.7 209.2,2413.7 209.6,2411.3 210,2415.8 210.3,2408 210.7,2403.9 211.1,2426.8 211.4,2408.5 211.8,2405.3 212.2,2411.7 212.5,2410.9 212.9,2409.9 213.3,2411.9 213.6,2415.2 214,2409.4 214.4,2401.9 214.7,2423.9 215.1,2417.5 215.5,2413.9 215.9,2414.2 216.2,2416.2 216.6,2394 217,2406.6 217.3,2414.7 217.7,2409.2 218.1,2403.7 218.4,2412.9 218.8,2416.8 219.2,2400.3 219.5,2407.8 219.9,2402.6 220.3,2416.6 220.6,2407.5 221,2413.7 221.4,2421.1 221.8,2403 222.1,2407.7 222.5,2415.2 222.9,2431.4 223.2,2421.2 223.6,2414.8 224,2396.5 224.3,2402.4 224.7,2419 225.1,2416.8 225.4,2413.4 225.8,2430 226.2,2413.1 226.5,2420.7 226.9,2413.3 227.3,2411.7 227.7,2408.5 228,2408.1 228.4,2419.4 228.8,2408.1 229.1,2401.5 229.5,2413.2 229.9,2407.2 230.2,2426.4 230.6,2407.7 231,2411.6 231.3,2411.8 231.7,2416.6 232.1,2401.7 232.4,2399.6 232.8,2418.3 233.2,2405.5 233.6,2402.9 233.9,2403.4 234.3,2414.9 234.7,2403.7 235,2397.6 235.4,2410.9 235.8,2421.2 236.1,2408.1 236.5,2410.3 236.9,2424.9 237.2,2412.2 237.6,2417.8 238,2406.1 238.3,2409.6 238.7,2410.4 239.1,2411.4 239.5,2411.7 239.8,2415.9 240.2,2404 240.6,2408.3 240.9,2406.1 241.3,2402.6 241.7,2418.6 242,2411.2 242.4,2413.9 242.8,2419 243.1,2406.5 243.5,2418 243.9,2406 244.2,2418.3 244.6,2420.4 245,2411.3 245.4,2409.5 245.7,2410.7 246.1,2395.1 246.5,2430.8 246.8,2412.8 247.2,2415.4 247.6,2410.6 247.9,2413.9 248.3,2410.3 248.7,2407.1 249,2409.3 249.4,2409.3 249.8,2418 250.1,2411.1 250.5,2430.4 250.9,2404 251.3,2412.7 251.6,2420.8 252,2417.8 252.4,2409.1 252.7,2401.2 253.1,2405.3 253.5,2423.6 253.8,2404 254.2,2412.2 254.6,2400.1 254.9,2419.3 255.3,2418.7 255.7,2421.8 256,2410.9 256.4,2413.5 256.8,2406.4 257.2,2415.1 257.5,2408.7 257.9,2412.6 258.3,2397.8 258.6,2401.7 259,2400.1 259.4,2419.1 259.7,2408.2 260.1,2408.6 260.5,2414.4 260.8,2423.1 261.2,2416 261.6,2414.2 261.9,2413.5 262.3,2423.2 262.7,2403.1 263.1,2413.3 263.4,2410.5 263.8,2410.1 264.2,2414.8 264.5,2406.7 264.9,2405.7 265.3,2416.6 265.6,2410.7 266,2401.5 266.4,2405.3 266.7,2411.1 267.1,2407 267.5,2423.2 267.8,2409.9 268.2,2417.1 268.6,2405.5 269,2402.6 269.3,2420.8 269.7,2411.2 270.1,2406.6 270.4,2413.4 270.8,2407.8 271.2,2399.8 271.5,2409.5 271.9,2417.9 272.3,2408 272.6,2428.9 273,2410.2 273.4,2405.8 273.7,2409.5 274.1,2403.8 274.5,2409.4 274.9,2407.7 275.2,2413 275.6,2410.1 276,2401.8 276.3,2401.4 276.7,2408.9 277.1,2415.4 277.4,2400.6 277.8,2420.5 278.2,2407.7 278.5,2412.7 278.9,2407.3 279.3,2414.6 279.6,2403.3 280,2405.2 280.4,2404.3 280.8,2406.5 281.1,2409.2 281.5,2412.4 281.9,2406.8 282.2,2409.6 282.6,2410.1 283,2401.2 283.3,2399.1 283.7,2423.1 284.1,2403.4 284.4,2408.1 284.8,2415.5 285.2,2400.9 285.5,2405.3 285.9,2408.7 286.3,2416.9 286.7,2416.4 287,2406.4 287.4,2404.1 287.8,2415.3 288.1,2407.9 288.5,2400.8 288.9,2406.3 289.2,2412.8 289.6,2406.3 290,2407 290.3,2423 290.7,2411.9 291.1,2409.6 291.4,2410 291.8,2426.6 292.2,2411.3 292.6,2409.2 292.9,2400.4 293.3,2406.1 293.7,2417.7 294,2423.5 294.4,2419.6 294.8,2416.9 295.1,2405.8 295.5,2402.1 295.9,2409.4 296.2,2402.3 296.6,2421.7 297,2408.5 297.3,2407.4 297.7,2416.5 298.1,2400.9 298.5,2399 298.8,2407.4 299.2,2412.2 299.6,2399.5 299.9,2395.7 300.3,2409.4 300.7,2408 301,2417.5 301.4,2409.4 301.8,2411.2 302.1,2410.9 302.5,2421.3 302.9,2406.9 303.3,2402.1 303.6,2403.8 304,2406.6 304.4,2403.6 304.7,2417.1 305.1,2410.4 305.5,2409.6 305.8,2411.7 306.2,2393.2 306.6,2418.3 306.9,2410 307.3,2414.5 307.7,2398.2 308,2408.1 308.4,2401.5 308.8,2403.6 309.2,2422.1 309.5,2406.3 309.9,2411.5 310.3,2418 310.6,2401.7 311,2410 311.4,2399.9 311.7,2403.5 312.1,2398.6 312.5,2392.9 312.8,2413.5 313.2,2403.9 313.6,2398.1 313.9,2410.1 314.3,2412.8 314.7,2407.8 315.1,2407.7 315.4,2420 315.8,2401.9 316.2,2402.9 316.5,2391.5 316.9,2412.3 317.3,2399.2 317.6,2396 318,2387.3 318.4,2390.9 318.7,2395.1 319.1,2400.1 319.5,2409 319.8,2417.9 320.2,2412.1 320.6,2409.1 321,2425.1 321.3,2419.7 321.7,2419.7 322.1,2421.5 322.4,2431.8 322.8,2411.2 323.2,2412 323.5,2422.8 323.9,2421.2 324.3,2407.4 324.6,2429.6 325,2422.8 325.4,2436.5 325.7,2421.4 326.1,2424.7 326.5,2433 326.9,2424.3 327.2,2425 327.6,2421 328,2414.9 328.3,2406.3 328.7,2422.8 329.1,2417.1 329.4,2410.4 329.8,2429.9 330.2,2417.6 330.5,2418.6 330.9,2424 331.3,2422.4 331.6,2421.4 332,2415.8 332.4,2418.8 332.8,2424.8 333.1,2419.4 333.5,2414.9 333.9,2412.6 334.2,2429.1 334.6,2415.4 335,2414.6 335.3,2420.6 335.7,2413.4 336.1,2414 336.4,2416.4 336.8,2415 337.2,2425.1 337.5,2418.6 337.9,2405.9 338.3,2422.2 338.7,2424.1 339,2424.9 339.4,2417.3 339.8,2424.1 340.1,2419.7 340.5,2423 340.9,2433.5 341.2,2427 341.6,2415.9 342,2425.5 342.3,2425.7 342.7,2422.1 343.1,2408.4 343.4,2406.8 343.8,2424.2 344.2,2417.7 344.6,2426.9 344.9,2422.2 345.3,2424.5 345.7,2408.8 346,2422.7 346.4,2411.9 346.8,2417.2 347.1,2409.7 347.5,2413.8 347.9,2416.6 348.2,2420.9 348.6,2429.6 349,2422.9 349.3,2427.1 349.7,2422.5 350.1,2423.4 350.5,2424.9 350.8,2413 351.2,2412.5 351.6,2409.9 351.9,2413.5 352.3,2426.8 352.7,2415.8 353,2421.9 353.4,2409.8 353.8,2427.4 354.1,2409 354.5,2422.6 354.9,2429.7 355.2,2421.2 355.6,2419.3 356,2422.6 356.4,2405.2 356.7,2414.6 357.1,2414.2 357.5,2419.8 357.8,2430.7 358.2,2416.7 358.6,2420.9 358.9,2422.4 359.3,2429.8 359.7,2419.6 360,2424.6 360.4,2424 360.8,2420.6 361.1,2429.2 361.5,2411.5 361.9,2424.8 362.3,2426.9 362.6,2417.1 363,2427.2 363.4,2427.1 363.7,2429.2 364.1,2414.4 364.5,2411.2 364.8,2412.2 365.2,2416.2 365.6,2426.6 365.9,2422.1 366.3,2436.9 366.7,2430.6 367,2429.6 367.4,2424 367.8,2424.3 368.2,2418 368.5,2413.1 368.9,2429.5 369.3,2420.7 369.6,2428.7 370,2411.1 370.4,2427.1 370.7,2426.1 371.1,2414.7 371.5,2417 371.8,2437.8 372.2,2404.3 372.6,2418.3 372.9,2424 373.3,2440 373.7,2413.9 374.1,2424.8 374.4,2424 374.8,2419.5 375.2,2412.5 375.5,2406.6 375.9,2414.5 376.3,2422.9 376.6,2430.5 377,2433.5 377.4,2416.7 377.7,2424.4 378.1,2418.2 378.5,2417.9 378.8,2417.8 379.2,2426.7 379.6,2427.2 380,2426 380.3,2430.5 380.7,2423.8 381.1,2432.7 381.4,2421.7 381.8,2433.4 382.2,2422.7 382.5,2424.5 382.9,2418.5 383.3,2430.3 383.6,2421.6 384,2421.4 384.4,2420 384.7,2435.3 385.1,2424.4 385.5,2416.4 385.9,2428.4 386.2,2432.4 386.6,2430.6 387,2423.3 387.3,2406.8 387.7,2431.4 388.1,2431.4 388.4,2416.6 388.8,2425.8 389.2,2433.2 389.5,2430.3 389.9,2417.8 390.3,2435.3 390.6,2431.9 391,2432.5 391.4,2436.5 391.8,2426.9 392.1,2425.2 392.5,2424.6 392.9,2430.3 393.2,2430.6 393.6,2429.7" fill="none" stroke="#8e0f98" stroke-width="1.55" stroke-linejoin="round" clip-path="url(#c1132348)"/>
<path d="M113.7,2348.8 H393.6 V2481" fill="none" stroke="#999" stroke-width="0.9"/>
<path d="M113.7,2348.8 V2481 H393.6" fill="none" stroke="#333" stroke-width="1.1"/>
<line x1="109.9" y1="2363.6" x2="113.7" y2="2363.6" stroke="#222" stroke-width="0.9" />
<text x="107.3" y="2367.4" font-size="10.5" text-anchor="end" class="dv">3.0</text>
<line x1="109.9" y1="2394" x2="113.7" y2="2394" stroke="#222" stroke-width="0.9" />
<text x="107.3" y="2397.8" font-size="10.5" text-anchor="end" class="dv">2.5</text>
<line x1="109.9" y1="2424.5" x2="113.7" y2="2424.5" stroke="#222" stroke-width="0.9" />
<text x="107.3" y="2428.3" font-size="10.5" text-anchor="end" class="dv">2.0</text>
<line x1="109.9" y1="2454.9" x2="113.7" y2="2454.9" stroke="#222" stroke-width="0.9" />
<text x="107.3" y="2458.7" font-size="10.5" text-anchor="end" class="dv">1.5</text>
<line x1="113.7" y1="2481" x2="113.7" y2="2484.8" stroke="#222" stroke-width="0.9" />
<text x="115" y="2499" font-size="14.7" text-anchor="middle">-3 Kb</text>
<line x1="190" y1="2481" x2="190" y2="2484.8" stroke="#222" stroke-width="0.9" />
<text x="190.3" y="2499" font-size="14.7" text-anchor="middle">TSS</text>
<line x1="317.3" y1="2481" x2="317.3" y2="2484.8" stroke="#222" stroke-width="0.9" />
<text x="317.3" y="2499" font-size="14.7" text-anchor="middle">TES</text>
<line x1="393.6" y1="2481" x2="393.6" y2="2484.8" stroke="#222" stroke-width="0.9" />
<text x="397.6" y="2499" font-size="14.7" text-anchor="end">3 Kb</text>
<clipPath id="c4532347"><rect x="453.4" y="2347.6" width="279.6" height="134"/></clipPath>
<polyline points="453.4,2404.3 453.8,2371.3 454.1,2418.5 454.5,2396.8 454.9,2398 455.2,2416.9 455.6,2386.2 456,2395.4 456.3,2399.3 456.7,2412.2 457.1,2395.3 457.5,2401.1 457.8,2387.7 458.2,2410.9 458.6,2406.9 458.9,2401.9 459.3,2407.3 459.7,2386.9 460,2397.7 460.4,2388.8 460.8,2403.5 461.1,2413.4 461.5,2404.4 461.9,2410.5 462.2,2400.4 462.6,2396.9 463,2405.2 463.3,2413.6 463.7,2415.5 464.1,2396.6 464.5,2411.3 464.8,2413.5 465.2,2391.2 465.6,2405.7 465.9,2398.6 466.3,2400.4 466.7,2389.7 467,2398.8 467.4,2412.2 467.8,2391.2 468.1,2395.7 468.5,2390.7 468.9,2401.1 469.2,2408.1 469.6,2385.1 470,2395.8 470.3,2414.3 470.7,2413.3 471.1,2409 471.5,2407.3 471.8,2419.1 472.2,2423.4 472.6,2402.2 472.9,2376.6 473.3,2412 473.7,2399 474,2418.6 474.4,2409.5 474.8,2392.5 475.1,2401.8 475.5,2398.5 475.9,2404.8 476.2,2410.9 476.6,2416.1 477,2406.7 477.3,2409 477.7,2406.6 478.1,2404.5 478.4,2414 478.8,2399.9 479.2,2389.1 479.6,2403.6 479.9,2407.1 480.3,2415.9 480.7,2417.9 481,2413.1 481.4,2419.3 481.8,2414.7 482.1,2414.9 482.5,2411.7 482.9,2414.8 483.2,2414.6 483.6,2416.6 484,2404.8 484.3,2422.1 484.7,2400 485.1,2398.9 485.4,2403 485.8,2395.6 486.2,2419 486.6,2401.3 486.9,2402.1 487.3,2409.4 487.7,2424.1 488,2410.4 488.4,2418.6 488.8,2404.2 489.1,2401.5 489.5,2413.7 489.9,2399 490.2,2407.4 490.6,2418.1 491,2406.7 491.3,2406.7 491.7,2406.1 492.1,2415.5 492.4,2396.1 492.8,2402.8 493.2,2422.6 493.6,2408.7 493.9,2417.6 494.3,2417.4 494.7,2396 495,2412.6 495.4,2417 495.8,2414.3 496.1,2414.8 496.5,2424.8 496.9,2405.8 497.2,2402.1 497.6,2404.3 498,2398.9 498.3,2424.9 498.7,2396.7 499.1,2408 499.4,2405.2 499.8,2406.5 500.2,2404.9 500.6,2439.6 500.9,2412 501.3,2401 501.7,2419.9 502,2415.6 502.4,2410.7 502.8,2412.3 503.1,2430.3 503.5,2414.2 503.9,2413.2 504.2,2417.6 504.6,2416.1 505,2426.1 505.3,2417.1 505.7,2423.5 506.1,2420.2 506.4,2421.1 506.8,2425.5 507.2,2409.1 507.6,2419.6 507.9,2413.9 508.3,2425.4 508.7,2415.6 509,2422.3 509.4,2404.5 509.8,2414.9 510.1,2417.8 510.5,2423.6 510.9,2427.9 511.2,2428.3 511.6,2426.5 512,2446.9 512.3,2438.8 512.7,2441.1 513.1,2419 513.4,2434.2 513.8,2445.8 514.2,2434.1 514.6,2417.4 514.9,2426.6 515.3,2420.2 515.7,2436.6 516,2435.7 516.4,2438.8 516.8,2439.6 517.1,2447.1 517.5,2436.8 517.9,2434.4 518.2,2431.4 518.6,2438.1 519,2438.1 519.3,2451.6 519.7,2454.1 520.1,2448.8 520.4,2441.6 520.8,2443.6 521.2,2452.3 521.6,2435.6 521.9,2446 522.3,2450.8 522.7,2445.2 523,2442.8 523.4,2450 523.8,2445.8 524.1,2457.9 524.5,2475.2 524.9,2463.2 525.2,2447.2 525.6,2457.1 526,2455.1 526.3,2472.8 526.7,2469 527.1,2444.8 527.4,2468 527.8,2468.9 528.2,2464.3 528.5,2461 528.9,2463.9 529.3,2460.8 529.7,2453.4 530,2453.6 530.4,2451.8 530.8,2458.5 531.1,2445.4 531.5,2445.8 531.9,2424.4 532.2,2444.7 532.6,2448.1 533,2431 533.3,2437.2 533.7,2429.7 534.1,2442.7 534.4,2429.4 534.8,2437.2 535.2,2434.1 535.5,2434.9 535.9,2421.8 536.3,2422.3 536.7,2419.4 537,2412.7 537.4,2417 537.8,2426.9 538.1,2428.8 538.5,2419.1 538.9,2428.6 539.2,2436.8 539.6,2424.8 540,2415.2 540.3,2421.9 540.7,2424.1 541.1,2420.5 541.4,2417.5 541.8,2416.6 542.2,2426.1 542.5,2411.9 542.9,2416.3 543.3,2423.9 543.7,2421.6 544,2417.4 544.4,2412.4 544.8,2409.4 545.1,2426.7 545.5,2413.7 545.9,2406.8 546.2,2417.1 546.6,2408 547,2423.4 547.3,2419.5 547.7,2413.4 548.1,2415.9 548.4,2412.8 548.8,2400.5 549.2,2417.6 549.5,2411 549.9,2402 550.3,2410.5 550.7,2426.8 551,2418.2 551.4,2421.2 551.8,2403 552.1,2408.3 552.5,2408.9 552.9,2420.3 553.2,2399.3 553.6,2416.4 554,2399.8 554.3,2413.8 554.7,2420.7 555.1,2404.5 555.4,2415.8 555.8,2430.2 556.2,2407 556.5,2398.6 556.9,2391.7 557.3,2404.7 557.7,2417.7 558,2399.6 558.4,2415.9 558.8,2413.5 559.1,2417.5 559.5,2411.8 559.9,2411.9 560.2,2416.9 560.6,2402.6 561,2414.5 561.3,2411.3 561.7,2410.8 562.1,2411.6 562.4,2432.2 562.8,2416.7 563.2,2392.9 563.5,2424.9 563.9,2415.6 564.3,2402.7 564.7,2409.4 565,2421 565.4,2415.2 565.8,2410.8 566.1,2421.5 566.5,2414.3 566.9,2408.2 567.2,2395 567.6,2406.2 568,2409.4 568.3,2406.2 568.7,2405.6 569.1,2411.1 569.4,2399.1 569.8,2412.6 570.2,2404.2 570.5,2418.6 570.9,2423 571.3,2410.9 571.6,2413.1 572,2415.9 572.4,2422 572.8,2410.5 573.1,2415.3 573.5,2416.2 573.9,2409.9 574.2,2420 574.6,2413.7 575,2415.2 575.3,2417.8 575.7,2403.8 576.1,2413.1 576.4,2416.5 576.8,2420.4 577.2,2401.2 577.5,2415.7 577.9,2412.1 578.3,2419.7 578.6,2411.7 579,2406.8 579.4,2408 579.8,2417.8 580.1,2397.8 580.5,2398.7 580.9,2418.1 581.2,2398.4 581.6,2417.8 582,2406 582.3,2410.8 582.7,2408.8 583.1,2428.1 583.4,2402.8 583.8,2410.5 584.2,2404.6 584.5,2417.9 584.9,2406.4 585.3,2416.1 585.6,2400.6 586,2398.9 586.4,2417.4 586.8,2418.1 587.1,2394.8 587.5,2407.9 587.9,2427.2 588.2,2422 588.6,2419.6 589,2407.7 589.3,2416.3 589.7,2404.4 590.1,2411 590.4,2413.2 590.8,2413.6 591.2,2411.8 591.5,2411.4 591.9,2401.6 592.3,2407.4 592.6,2411.6 593,2412.3 593.4,2408.5 593.8,2422.4 594.1,2412.9 594.5,2411.3 594.9,2406 595.2,2406.3 595.6,2418.9 596,2408.9 596.3,2416.6 596.7,2406.8 597.1,2405.2 597.4,2403.8 597.8,2413.2 598.2,2404 598.5,2405.9 598.9,2407.6 599.3,2403.3 599.6,2407.4 600,2423.3 600.4,2405.1 600.8,2421.5 601.1,2408.3 601.5,2406.6 601.9,2407.8 602.2,2409.4 602.6,2405.1 603,2412.3 603.3,2415.9 603.7,2423.2 604.1,2405.8 604.4,2417 604.8,2436.2 605.2,2407.7 605.5,2400.6 605.9,2416.7 606.3,2425.4 606.6,2414.6 607,2409.7 607.4,2420.9 607.8,2401.9 608.1,2422.5 608.5,2421.6 608.9,2396.4 609.2,2421.2 609.6,2417.7 610,2405.8 610.3,2407.5 610.7,2400.4 611.1,2415.4 611.4,2415.5 611.8,2411.2 612.2,2409.8 612.5,2408.8 612.9,2404.9 613.3,2419.1 613.6,2418.3 614,2417.6 614.4,2399.2 614.8,2410.6 615.1,2414.5 615.5,2414.3 615.9,2415.2 616.2,2413 616.6,2419.4 617,2420.3 617.3,2408.7 617.7,2423.9 618.1,2422.2 618.4,2424.3 618.8,2399.3 619.2,2394.9 619.5,2421.6 619.9,2413 620.3,2423.9 620.6,2420.8 621,2413.5 621.4,2417.4 621.7,2428.4 622.1,2414.1 622.5,2424.5 622.9,2411.3 623.2,2427.5 623.6,2406.4 624,2410 624.3,2386.5 624.7,2414.5 625.1,2410 625.4,2409 625.8,2399.6 626.2,2420.2 626.5,2413 626.9,2422.5 627.3,2412.5 627.6,2414.8 628,2405.9 628.4,2413.9 628.7,2417.4 629.1,2413.8 629.5,2405.1 629.9,2416.7 630.2,2409 630.6,2414.4 631,2415 631.3,2422.1 631.7,2415 632.1,2414 632.4,2405.9 632.8,2410.4 633.2,2427.4 633.5,2398.1 633.9,2418.4 634.3,2422.3 634.6,2415.4 635,2413.9 635.4,2406.3 635.7,2418.7 636.1,2422.2 636.5,2393.6 636.9,2408.2 637.2,2421.6 637.6,2409.3 638,2408.8 638.3,2410.1 638.7,2409 639.1,2420 639.4,2419.8 639.8,2404.2 640.2,2432.5 640.5,2400.8 640.9,2414 641.3,2405.3 641.6,2393.3 642,2407.3 642.4,2398.6 642.7,2421.6 643.1,2419.1 643.5,2410.6 643.9,2426.8 644.2,2420.7 644.6,2405.7 645,2422.2 645.3,2419.3 645.7,2412.8 646.1,2414.3 646.4,2409.1 646.8,2426.5 647.2,2407.1 647.5,2415.1 647.9,2395.3 648.3,2409.2 648.6,2419.5 649,2402.9 649.4,2408.9 649.7,2414.1 650.1,2416.3 650.5,2428.6 650.9,2415.2 651.2,2421.5 651.6,2401.1 652,2392.5 652.3,2418.7 652.7,2412.8 653.1,2411.4 653.4,2424.4 653.8,2406.7 654.2,2399 654.5,2407 654.9,2416.1 655.3,2411.8 655.6,2389.2 656,2417.3 656.4,2407.7 656.7,2400.9 657.1,2411.3 657.5,2405.3 657.9,2385.7 658.2,2400.7 658.6,2399.8 659,2409.1 659.3,2416.8 659.7,2399.8 660.1,2394.9 660.4,2412.3 660.8,2414 661.2,2432.3 661.5,2421.9 661.9,2419.5 662.3,2408.5 662.6,2413.9 663,2410.3 663.4,2409.3 663.7,2416.5 664.1,2429.2 664.5,2419.6 664.8,2415.5 665.2,2424.9 665.6,2417.6 666,2418.3 666.3,2415.6 666.7,2427.5 667.1,2426 667.4,2426.7 667.8,2422.7 668.2,2427.2 668.5,2430.9 668.9,2429.1 669.3,2417.1 669.6,2427 670,2422 670.4,2420.3 670.7,2433.3 671.1,2424.7 671.5,2420.7 671.8,2425 672.2,2415.8 672.6,2431.8 673,2437.7 673.3,2413 673.7,2421.7 674.1,2430.2 674.4,2431.8 674.8,2420.9 675.2,2408.9 675.5,2424.9 675.9,2432.4 676.3,2427.8 676.6,2430 677,2436.1 677.4,2428.4 677.7,2433.4 678.1,2428.4 678.5,2406.1 678.8,2422.6 679.2,2432.7 679.6,2423.8 680,2426.1 680.3,2424 680.7,2432.5 681.1,2428.8 681.4,2415.2 681.8,2431.4 682.2,2425.4 682.5,2433.7 682.9,2434.4 683.3,2435.5 683.6,2433.6 684,2426.6 684.4,2430.6 684.7,2426.2 685.1,2423.4 685.5,2429.3 685.8,2434.3 686.2,2429.4 686.6,2425.8 687,2422.5 687.3,2444.1 687.7,2448.8 688.1,2418.3 688.4,2436.5 688.8,2440.8 689.2,2428.2 689.5,2429.9 689.9,2429.9 690.3,2433.1 690.6,2426.2 691,2426.3 691.4,2437.3 691.7,2434.1 692.1,2427.1 692.5,2431.2 692.8,2422.5 693.2,2428.5 693.6,2414.9 694,2443.5 694.3,2419.6 694.7,2431.5 695.1,2444.2 695.4,2419.4 695.8,2422.6 696.2,2437.2 696.5,2430.5 696.9,2435.7 697.3,2445.2 697.6,2432.9 698,2434.4 698.4,2429.6 698.7,2439.8 699.1,2433.9 699.5,2437.6 699.8,2407.2 700.2,2426.4 700.6,2420.2 701,2436 701.3,2427.2 701.7,2440 702.1,2428 702.4,2451.7 702.8,2429.9 703.2,2446.9 703.5,2427.8 703.9,2431.4 704.3,2440.8 704.6,2445.4 705,2448.2 705.4,2432.2 705.7,2424 706.1,2434.1 706.5,2425.5 706.8,2449.4 707.2,2440.6 707.6,2428.8 708,2428.5 708.3,2439 708.7,2433.1 709.1,2431.8 709.4,2443 709.8,2437.8 710.2,2432.8 710.5,2432.3 710.9,2438 711.3,2414.3 711.6,2433.8 712,2427.4 712.4,2411.2 712.7,2435.2 713.1,2432.8 713.5,2444.9 713.8,2432.9 714.2,2437.7 714.6,2433 714.9,2449 715.3,2437 715.7,2441.1 716.1,2432.8 716.4,2437 716.8,2431.5 717.2,2441.7 717.5,2430.6 717.9,2428.5 718.3,2422.5 718.6,2436 719,2433.1 719.4,2426 719.7,2438.7 720.1,2427.1 720.5,2444.8 720.8,2424 721.2,2434 721.6,2442.4 721.9,2448.9 722.3,2447 722.7,2432.9 723.1,2443 723.4,2435.6 723.8,2434.8 724.2,2433.6 724.5,2418.1 724.9,2450.4 725.3,2418.2 725.6,2437.3 726,2427.8 726.4,2421.3 726.7,2430.9 727.1,2430.6 727.5,2427.3 727.8,2426.4 728.2,2458.7 728.6,2428.8 728.9,2436.1 729.3,2431.7 729.7,2436.3 730.1,2426 730.4,2428.1 730.8,2439.6 731.2,2438.2 731.5,2441.3 731.9,2444.4 732.3,2430 732.6,2439 733,2434.2" fill="none" stroke="#ffa400" stroke-width="1.55" stroke-linejoin="round" clip-path="url(#c4532347)"/>
<polyline points="453.4,2388 453.8,2393.3 454.1,2375.1 454.5,2391.9 454.9,2380.4 455.2,2375.7 455.6,2398.6 456,2402.5 456.3,2389.5 456.7,2388.1 457.1,2399.2 457.5,2399.7 457.8,2397.7 458.2,2386.2 458.6,2390.9 458.9,2395.4 459.3,2407 459.7,2396.6 460,2386.6 460.4,2400.1 460.8,2385.9 461.1,2410.7 461.5,2392.1 461.9,2395.7 462.2,2399 462.6,2402.7 463,2402.4 463.3,2395.8 463.7,2393.2 464.1,2393.9 464.5,2395.9 464.8,2382.7 465.2,2396.7 465.6,2394.2 465.9,2389 466.3,2410.2 466.7,2390.4 467,2414 467.4,2395.7 467.8,2391.7 468.1,2397 468.5,2399 468.9,2396.8 469.2,2407.5 469.6,2386.4 470,2399.8 470.3,2382.9 470.7,2392.2 471.1,2410.3 471.5,2388.1 471.8,2397.8 472.2,2376.8 472.6,2385.1 472.9,2408.2 473.3,2418.6 473.7,2408.3 474,2383.8 474.4,2412.6 474.8,2395.3 475.1,2430.5 475.5,2398.3 475.9,2407.4 476.2,2398.9 476.6,2394.2 477,2395.4 477.3,2412.1 477.7,2388.4 478.1,2404.2 478.4,2392.3 478.8,2395.3 479.2,2384.9 479.6,2409.6 479.9,2409.1 480.3,2396.9 480.7,2384 481,2395.6 481.4,2405.5 481.8,2376.6 482.1,2401.2 482.5,2414.3 482.9,2399.8 483.2,2398.7 483.6,2384.8 484,2392.3 484.3,2384.4 484.7,2390.3 485.1,2403.5 485.4,2400.9 485.8,2390 486.2,2389.9 486.6,2400.7 486.9,2405 487.3,2392.9 487.7,2396.4 488,2393.9 488.4,2403.2 488.8,2415.4 489.1,2403 489.5,2394 489.9,2383.6 490.2,2384.4 490.6,2397.3 491,2407.8 491.3,2398.4 491.7,2389.9 492.1,2394.9 492.4,2405.9 492.8,2391.7 493.2,2401.9 493.6,2423.4 493.9,2404.2 494.3,2409.2 494.7,2386.6 495,2396.1 495.4,2377.5 495.8,2396.4 496.1,2405.1 496.5,2402.3 496.9,2380.9 497.2,2389.6 497.6,2397.1 498,2370.8 498.3,2417.3 498.7,2412.4 499.1,2385.7 499.4,2408.6 499.8,2410 500.2,2409.4 500.6,2414.6 500.9,2400.5 501.3,2408.2 501.7,2412.1 502,2403.6 502.4,2396.5 502.8,2409.4 503.1,2408.2 503.5,2400.6 503.9,2412 504.2,2423.9 504.6,2407.7 505,2416.2 505.3,2415.3 505.7,2395.9 506.1,2413.3 506.4,2408 506.8,2429.4 507.2,2428.4 507.6,2418.4 507.9,2411.2 508.3,2409.5 508.7,2411.3 509,2401.2 509.4,2400 509.8,2418.3 510.1,2426.1 510.5,2412.5 510.9,2396.5 511.2,2413.6 511.6,2409.1 512,2429.3 512.3,2423.5 512.7,2425 513.1,2431.7 513.4,2421.2 513.8,2410.4 514.2,2437.1 514.6,2417.9 514.9,2412.6 515.3,2418.4 515.7,2424.5 516,2437.4 516.4,2419.4 516.8,2422.4 517.1,2442.4 517.5,2451.1 517.9,2440 518.2,2429 518.6,2432.5 519,2419 519.3,2430.1 519.7,2453.3 520.1,2418.4 520.4,2436.7 520.8,2436.9 521.2,2422.7 521.6,2449.6 521.9,2446.6 522.3,2449.2 522.7,2451.1 523,2468.1 523.4,2445.1 523.8,2467.5 524.1,2447.4 524.5,2466.3 524.9,2451.6 525.2,2443.4 525.6,2443.3 526,2450.9 526.3,2475.6 526.7,2448.2 527.1,2463.8 527.4,2459.9 527.8,2452.5 528.2,2465.5 528.5,2447.5 528.9,2466 529.3,2473.7 529.7,2431.5 530,2443 530.4,2427 530.8,2437.7 531.1,2436.3 531.5,2437.7 531.9,2424.4 532.2,2431.6 532.6,2427.3 533,2428.8 533.3,2430.4 533.7,2395.7 534.1,2402.2 534.4,2422.7 534.8,2415.9 535.2,2422 535.5,2402.7 535.9,2423.5 536.3,2383.1 536.7,2396.7 537,2420 537.4,2408.3 537.8,2398.7 538.1,2399.4 538.5,2390 538.9,2400.6 539.2,2414.9 539.6,2400.1 540,2395.3 540.3,2412.5 540.7,2381.5 541.1,2400.9 541.4,2405 541.8,2408.3 542.2,2404.9 542.5,2384 542.9,2379.2 543.3,2392.9 543.7,2387.9 544,2398.1 544.4,2399.3 544.8,2404.1 545.1,2398.4 545.5,2407.9 545.9,2407.5 546.2,2386.4 546.6,2390.6 547,2406.4 547.3,2401.1 547.7,2406.6 548.1,2406.2 548.4,2409.7 548.8,2396 549.2,2403.1 549.5,2425.6 549.9,2407.5 550.3,2404.3 550.7,2379.1 551,2402.6 551.4,2389 551.8,2385.9 552.1,2401 552.5,2395.1 552.9,2401.8 553.2,2389.3 553.6,2392.6 554,2388.8 554.3,2400.4 554.7,2393.4 555.1,2404.2 555.4,2409.8 555.8,2384.3 556.2,2394.8 556.5,2401.7 556.9,2412.1 557.3,2391 557.7,2410.2 558,2390.9 558.4,2424.4 558.8,2405.2 559.1,2401.9 559.5,2393.5 559.9,2397.2 560.2,2396.9 560.6,2401 561,2398.6 561.3,2386 561.7,2398.1 562.1,2391.2 562.4,2393.3 562.8,2390.9 563.2,2390.5 563.5,2377.6 563.9,2402.1 564.3,2402.5 564.7,2402.4 565,2397.4 565.4,2395.8 565.8,2394.4 566.1,2397.8 566.5,2377.7 566.9,2400.4 567.2,2398.1 567.6,2396.9 568,2400 568.3,2397.5 568.7,2388 569.1,2409.4 569.4,2404.5 569.8,2411.8 570.2,2427.3 570.5,2390.3 570.9,2400.9 571.3,2399.8 571.6,2377.5 572,2396 572.4,2409.9 572.8,2404.7 573.1,2384.9 573.5,2415.4 573.9,2404.2 574.2,2391.8 574.6,2379.4 575,2403 575.3,2397.3 575.7,2388.4 576.1,2393.6 576.4,2383.2 576.8,2396.5 577.2,2411.1 577.5,2391.6 577.9,2388.3 578.3,2402.5 578.6,2404 579,2401.5 579.4,2396.9 579.8,2405 580.1,2399.3 580.5,2402.1 580.9,2392.9 581.2,2403.6 581.6,2396.2 582,2411.5 582.3,2389.9 582.7,2404 583.1,2408.8 583.4,2414.7 583.8,2390.2 584.2,2399.2 584.5,2408.3 584.9,2391.3 585.3,2407.7 585.6,2401.3 586,2409.8 586.4,2401 586.8,2394.1 587.1,2389 587.5,2397.3 587.9,2394.9 588.2,2398.9 588.6,2399.1 589,2373.5 589.3,2407.9 589.7,2396.1 590.1,2395.3 590.4,2400.8 590.8,2400.9 591.2,2409.4 591.5,2396.9 591.9,2407.6 592.3,2397.3 592.6,2416.4 593,2406.1 593.4,2399 593.8,2374.9 594.1,2382.1 594.5,2400.8 594.9,2389.6 595.2,2399.8 595.6,2392.8 596,2418.1 596.3,2403.5 596.7,2403.9 597.1,2421.3 597.4,2405.4 597.8,2397.6 598.2,2402.9 598.5,2411.8 598.9,2405.9 599.3,2403.4 599.6,2398.4 600,2415.7 600.4,2395.4 600.8,2386.6 601.1,2405.8 601.5,2394.9 601.9,2391.6 602.2,2406.2 602.6,2399.4 603,2412.6 603.3,2407 603.7,2395.7 604.1,2411 604.4,2395.9 604.8,2402.6 605.2,2399.2 605.5,2397.2 605.9,2377.5 606.3,2398.8 606.6,2414.7 607,2394 607.4,2394.9 607.8,2394.4 608.1,2392.3 608.5,2411.6 608.9,2413.9 609.2,2412.3 609.6,2387.2 610,2402.4 610.3,2394.5 610.7,2395.5 611.1,2411.2 611.4,2400.3 611.8,2407.2 612.2,2413 612.5,2376.5 612.9,2392.5 613.3,2405.3 613.6,2407.2 614,2385.1 614.4,2413.7 614.8,2413 615.1,2407.7 615.5,2392.1 615.9,2390.5 616.2,2397.2 616.6,2406.9 617,2402.3 617.3,2391.1 617.7,2398.1 618.1,2398.9 618.4,2406.9 618.8,2374.4 619.2,2400.6 619.5,2390.6 619.9,2392.6 620.3,2393.8 620.6,2381.1 621,2397.9 621.4,2394.8 621.7,2383.1 622.1,2389 622.5,2386.7 622.9,2412.5 623.2,2393.3 623.6,2408.3 624,2408.6 624.3,2397.1 624.7,2392.4 625.1,2398.3 625.4,2413 625.8,2393.6 626.2,2407 626.5,2385.3 626.9,2396.3 627.3,2403 627.6,2412.9 628,2380.8 628.4,2397.8 628.7,2406.1 629.1,2377.5 629.5,2386.9 629.9,2405.1 630.2,2386.1 630.6,2386.6 631,2379.8 631.3,2406.8 631.7,2407.7 632.1,2411.5 632.4,2369.8 632.8,2390.2 633.2,2407 633.5,2394.3 633.9,2378.8 634.3,2395.4 634.6,2393.1 635,2393.8 635.4,2412.5 635.7,2398.7 636.1,2389.9 636.5,2392.9 636.9,2382.4 637.2,2370.3 637.6,2380.8 638,2388 638.3,2377.1 638.7,2407 639.1,2411.8 639.4,2400.8 639.8,2393.5 640.2,2387.6 640.5,2412.9 640.9,2382.9 641.3,2394.5 641.6,2403.4 642,2409.5 642.4,2378.7 642.7,2383.1 643.1,2379.4 643.5,2382.9 643.9,2388.8 644.2,2409.5 644.6,2419.8 645,2399.2 645.3,2385.6 645.7,2385.3 646.1,2371.6 646.4,2414.9 646.8,2391.5 647.2,2381.4 647.5,2399.8 647.9,2389.4 648.3,2383.6 648.6,2378 649,2385.8 649.4,2406.5 649.7,2389.5 650.1,2397.9 650.5,2398 650.9,2397.3 651.2,2392.8 651.6,2372.3 652,2404.2 652.3,2373.6 652.7,2388.5 653.1,2400.6 653.4,2388.8 653.8,2396.6 654.2,2385.8 654.5,2403.2 654.9,2389.2 655.3,2389.5 655.6,2350.1 656,2396.5 656.4,2389.3 656.7,2393.2 657.1,2375.9 657.5,2404 657.9,2393.6 658.2,2391 658.6,2400.8 659,2398.9 659.3,2394.3 659.7,2389.4 660.1,2408 660.4,2405.3 660.8,2390.8 661.2,2414 661.5,2406.6 661.9,2414.9 662.3,2409.4 662.6,2410 663,2394.9 663.4,2397.2 663.7,2396.3 664.1,2413.9 664.5,2391.1 664.8,2412.2 665.2,2388.2 665.6,2404.2 666,2410.4 666.3,2410.5 666.7,2397.8 667.1,2417.6 667.4,2399.8 667.8,2413.3 668.2,2399.4 668.5,2412.7 668.9,2394.5 669.3,2411.6 669.6,2403.2 670,2410.7 670.4,2411.4 670.7,2403.8 671.1,2402.2 671.5,2424.8 671.8,2412.4 672.2,2407.9 672.6,2399.8 673,2428.9 673.3,2413 673.7,2418.8 674.1,2402.4 674.4,2425.4 674.8,2411.6 675.2,2418.4 675.5,2406 675.9,2414.3 676.3,2420.8 676.6,2423.3 677,2418.2 677.4,2419.6 677.7,2416.7 678.1,2406.3 678.5,2395.7 678.8,2408.1 679.2,2404 679.6,2411 680,2403.1 680.3,2413.5 680.7,2398.9 681.1,2414.2 681.4,2408.8 681.8,2412 682.2,2412.3 682.5,2415 682.9,2414.9 683.3,2431.5 683.6,2417.9 684,2398.5 684.4,2418.7 684.7,2421.7 685.1,2419 685.5,2423.8 685.8,2412.2 686.2,2415.3 686.6,2412.5 687,2404.6 687.3,2423.4 687.7,2424.5 688.1,2417.2 688.4,2415.9 688.8,2394.4 689.2,2424.3 689.5,2405.6 689.9,2434 690.3,2416.7 690.6,2395.1 691,2404.8 691.4,2413.9 691.7,2403.8 692.1,2409 692.5,2403.7 692.8,2412.4 693.2,2417.2 693.6,2406.9 694,2393.3 694.3,2384.3 694.7,2380.8 695.1,2377.8 695.4,2362.7 695.8,2349.7 696.2,2349.1 696.5,2372.6 696.9,2399.1 697.3,2397.3 697.6,2420.1 698,2408.3 698.4,2420.7 698.7,2404 699.1,2415.4 699.5,2407.3 699.8,2420.4 700.2,2409.6 700.6,2432.7 701,2431.7 701.3,2411.8 701.7,2412.4 702.1,2389.2 702.4,2410.1 702.8,2409.3 703.2,2422.8 703.5,2408.5 703.9,2406.1 704.3,2408.1 704.6,2424.1 705,2403.6 705.4,2437.8 705.7,2423.4 706.1,2421.4 706.5,2412.8 706.8,2439.7 707.2,2391.6 707.6,2423.2 708,2415.1 708.3,2418 708.7,2415.1 709.1,2420.3 709.4,2413.5 709.8,2414.2 710.2,2396.9 710.5,2424.4 710.9,2390.7 711.3,2410.3 711.6,2419 712,2436.8 712.4,2400.5 712.7,2424.2 713.1,2417.1 713.5,2423.3 713.8,2423.2 714.2,2396.5 714.6,2386.7 714.9,2415.1 715.3,2416.4 715.7,2421.3 716.1,2435.2 716.4,2412.7 716.8,2425.7 717.2,2416.7 717.5,2420.4 717.9,2404.8 718.3,2410.7 718.6,2424.6 719,2413.3 719.4,2404.4 719.7,2424 720.1,2402.9 720.5,2445.3 720.8,2409.9 721.2,2413.8 721.6,2440.4 721.9,2427 722.3,2419 722.7,2401.6 723.1,2426.9 723.4,2418.5 723.8,2412.2 724.2,2423.7 724.5,2434.6 724.9,2416.1 725.3,2425.4 725.6,2404.5 726,2403 726.4,2423.5 726.7,2417 727.1,2422.8 727.5,2427.5 727.8,2404 728.2,2404.1 728.6,2400.4 728.9,2418.4 729.3,2404.3 729.7,2419.2 730.1,2414.9 730.4,2431.4 730.8,2418.4 731.2,2414.6 731.5,2417.4 731.9,2431.5 732.3,2425.1 732.6,2420.6 733,2426.9" fill="none" stroke="#8e0f98" stroke-width="1.55" stroke-linejoin="round" clip-path="url(#c4532347)"/>
<path d="M453.4,2347.6 H733 V2481.6" fill="none" stroke="#999" stroke-width="0.9"/>
<path d="M453.4,2347.6 V2481.6 H733" fill="none" stroke="#333" stroke-width="1.1"/>
<line x1="449.6" y1="2359.5" x2="453.4" y2="2359.5" stroke="#222" stroke-width="0.9" />
<text x="447" y="2363.3" font-size="10.5" text-anchor="end" class="dv">1.8</text>
<line x1="449.6" y1="2384.2" x2="453.4" y2="2384.2" stroke="#222" stroke-width="0.9" />
<text x="447" y="2388" font-size="10.5" text-anchor="end" class="dv">1.6</text>
<line x1="449.6" y1="2409" x2="453.4" y2="2409" stroke="#222" stroke-width="0.9" />
<text x="447" y="2412.8" font-size="10.5" text-anchor="end" class="dv">1.4</text>
<line x1="449.6" y1="2433.7" x2="453.4" y2="2433.7" stroke="#222" stroke-width="0.9" />
<text x="447" y="2437.5" font-size="10.5" text-anchor="end" class="dv">1.2</text>
<line x1="449.6" y1="2458.4" x2="453.4" y2="2458.4" stroke="#222" stroke-width="0.9" />
<text x="447" y="2462.2" font-size="10.5" text-anchor="end" class="dv">1.0</text>
<line x1="453.4" y1="2481.6" x2="453.4" y2="2485.4" stroke="#222" stroke-width="0.9" />
<text x="449.9" y="2499" font-size="14.7" text-anchor="middle">-3 Kb</text>
<line x1="529.7" y1="2481.6" x2="529.7" y2="2485.4" stroke="#222" stroke-width="0.9" />
<text x="530.8" y="2499" font-size="14.7" text-anchor="middle">TSS</text>
<line x1="656.7" y1="2481.6" x2="656.7" y2="2485.4" stroke="#222" stroke-width="0.9" />
<text x="657" y="2499" font-size="14.7" text-anchor="middle">TES</text>
<line x1="733" y1="2481.6" x2="733" y2="2485.4" stroke="#222" stroke-width="0.9" />
<text x="746" y="2499" font-size="14.7" text-anchor="end">3 Kb</text>
<text x="812.5" y="1832.7" font-size="45" font-weight="bold" stroke="#000" stroke-width="0.5">H</text>
<rect x="842.5" y="1980.3" width="106.5" height="75" fill="#a1d99b" stroke="#10344a" stroke-width="2.6"/>
<rect x="949" y="1980.3" width="107.6" height="75" fill="#e5f5e0" stroke="#10344a" stroke-width="2.6"/>
<rect x="842.5" y="2055.3" width="106.5" height="74.3" fill="#e5f5e0" stroke="#10344a" stroke-width="2.6"/>
<rect x="949" y="2055.3" width="107.6" height="74.3" fill="#a1d99b" stroke="#10344a" stroke-width="2.6"/>
<rect x="842.5" y="2129.6" width="106.5" height="74.4" fill="#31a354" stroke="#10344a" stroke-width="2.6"/>
<rect x="949" y="2129.6" width="107.6" height="74.4" fill="#e5f5e0" stroke="#10344a" stroke-width="2.6"/>
<rect x="842.5" y="2204" width="106.5" height="74.3" fill="#e5f5e0" stroke="#10344a" stroke-width="2.6"/>
<rect x="949" y="2204" width="107.6" height="74.3" fill="#31a354" stroke="#10344a" stroke-width="2.6"/>
<rect x="842.5" y="2278.3" width="106.5" height="74" fill="#e5f5e0" stroke="#10344a" stroke-width="2.6"/>
<rect x="949" y="2278.3" width="107.6" height="74" fill="#31a354" stroke="#10344a" stroke-width="2.6"/>
<rect x="842.5" y="2352.3" width="106.5" height="75.3" fill="#31a354" stroke="#10344a" stroke-width="2.6"/>
<rect x="949" y="2352.3" width="107.6" height="75.3" fill="#e5f5e0" stroke="#10344a" stroke-width="2.6"/>
<text x="895.2" y="2017.3" font-size="17.5" text-anchor="middle">3 x 10<tspan dy="-6.5" font-size="12">-8</tspan></text>
<text x="895.2" y="2035.6" font-size="14.6" text-anchor="middle">(611)</text>
<text x="1002.8" y="2017.3" font-size="17.5" text-anchor="middle">ns</text>
<text x="1002.3" y="2035.6" font-size="14.6" text-anchor="middle">(306)</text>
<text x="1072.8" y="2026.3" font-size="21.8">CA1 DARs up-genes (9403)</text>
<text x="895.8" y="2091.9" font-size="17.5" text-anchor="middle">ns</text>
<text x="895.2" y="2110.2" font-size="14.6" text-anchor="middle">(310)</text>
<text x="1002.3" y="2091.9" font-size="17.5" text-anchor="middle">4 x 10<tspan dy="-6.5" font-size="12">-52</tspan></text>
<text x="1002.3" y="2110.2" font-size="14.6" text-anchor="middle">(732)</text>
<text x="1072.8" y="2100.9" font-size="21.8">DG DARs up-genes (9582)</text>
<text x="895.2" y="2166.3" font-size="17.5" text-anchor="middle">2 x 10<tspan dy="-6.5" font-size="12">-60</tspan></text>
<text x="895.2" y="2184.6" font-size="14.6" text-anchor="middle">(217)</text>
<text x="1002.8" y="2166.3" font-size="17.5" text-anchor="middle">ns</text>
<text x="1002.3" y="2184.6" font-size="14.6" text-anchor="middle">(25)</text>
<text x="1072.8" y="2175.3" font-size="21.8">CA1 H3K27ac up-genes (1161)</text>
<text x="895.8" y="2240.7" font-size="17.5" text-anchor="middle">ns</text>
<text x="895.2" y="2259" font-size="14.6" text-anchor="middle">(26)</text>
<text x="1002.3" y="2240.7" font-size="17.5" text-anchor="middle">2 x 10<tspan dy="-6.5" font-size="12">-75</tspan></text>
<text x="1002.3" y="2259" font-size="14.6" text-anchor="middle">(218)</text>
<text x="1072.8" y="2249.7" font-size="21.8">DG H3K27ac up-genes (1073)</text>
<text x="895.8" y="2314.8" font-size="17.5" text-anchor="middle">ns</text>
<text x="895.2" y="2333.1" font-size="14.6" text-anchor="middle">(25)</text>
<text x="1002.3" y="2314.8" font-size="17.5" text-anchor="middle">1 x 10<tspan dy="-6.5" font-size="12">-121</tspan></text>
<text x="1002.3" y="2333.1" font-size="14.6" text-anchor="middle">(310)</text>
<text x="1072.8" y="2323.8" font-size="21.8">CA1 DMRs up-genes (1396)</text>
<text x="895.2" y="2389.4" font-size="17.5" text-anchor="middle">3 x 10<tspan dy="-6.5" font-size="12">-55</tspan></text>
<text x="895.2" y="2407.8" font-size="14.6" text-anchor="middle">(197)</text>
<text x="1002.8" y="2389.4" font-size="17.5" text-anchor="middle">ns</text>
<text x="1002.3" y="2407.8" font-size="14.6" text-anchor="middle">(9)</text>
<text x="1072.8" y="2398.4" font-size="21.8">DG DMRs up-genes (1043)</text>
<text x="900.5" y="1968.5" font-size="21.8" transform="rotate(-44.5 900.5 1968.5)">DEGs up CA1 (1339)</text>
<text x="1006" y="1968.5" font-size="21.8" transform="rotate(-44.5 1006 1968.5)">DEGs up DG (1213)</text>
<rect x="843.2" y="2450.2" width="42" height="25.1" fill="#e5f5e0"/>
<rect x="885.2" y="2450.2" width="41" height="25.1" fill="#a1d99b"/>
<rect x="926.2" y="2450.2" width="41.6" height="25.1" fill="#31a354"/>
<line x1="843.4" y1="2475.3" x2="843.4" y2="2478" stroke="#555" stroke-width="0.7" />
<line x1="861.5" y1="2475.3" x2="861.5" y2="2478" stroke="#555" stroke-width="0.7" />
<line x1="880.7" y1="2475.3" x2="880.7" y2="2478" stroke="#555" stroke-width="0.7" />
<line x1="899" y1="2475.3" x2="899" y2="2478" stroke="#555" stroke-width="0.7" />
<line x1="917" y1="2475.3" x2="917" y2="2478" stroke="#555" stroke-width="0.7" />
<line x1="935.5" y1="2475.3" x2="935.5" y2="2478" stroke="#555" stroke-width="0.7" />
<line x1="953.5" y1="2475.3" x2="953.5" y2="2478" stroke="#555" stroke-width="0.7" />
<text x="844.3" y="2489.6" font-size="12.5" text-anchor="middle">0</text>
<text x="881" y="2489.6" font-size="12.5" text-anchor="middle">0.04</text>
<text x="935" y="2489.6" font-size="12.5" text-anchor="middle">0.1</text>
<text x="976.4" y="2471.6" font-size="18" textLength="110" lengthAdjust="spacingAndGlyphs">Jaccard index</text>
</svg>
</body></html>
